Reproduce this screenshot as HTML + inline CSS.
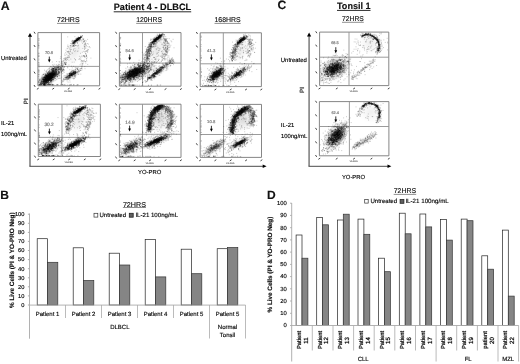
<!DOCTYPE html><html><head><meta charset="utf-8"><title>Figure</title>
<style>html,body{margin:0;padding:0;background:#fff}body{width:520px;height:364px;overflow:hidden;font-family:"Liberation Sans",sans-serif}svg{display:block;filter:blur(.3px)}text{font-family:"Liberation Sans",sans-serif;text-rendering:geometricPrecision;stroke:#000;stroke-width:.13px}.lb{stroke:#888;stroke-width:.2px}.ns{stroke:none}.rt{stroke-width:.2px}</style>
</head><body>
<svg width="520" height="364" viewBox="0 0 520 364">
<defs><filter id="bl" x="-5%" y="-5%" width="110%" height="110%"><feGaussianBlur stdDeviation=".3"/></filter><radialGradient id="hg"><stop offset="0" stop-color="#000" stop-opacity="1"/><stop offset=".5" stop-color="#000" stop-opacity=".45"/><stop offset="1" stop-color="#000" stop-opacity="0"/></radialGradient></defs>
<rect width="520" height="364" fill="#fff"/>
<g fill="#111">
<text x="0.8" y="9.65" font-size="12.3" font-weight="bold">A</text>
<text x="113.7" y="10.4" font-size="9.2" font-weight="bold" textLength="77.5" lengthAdjust="spacingAndGlyphs">Patient 4 - DLBCL</text>
<path d="M113.7 11.8h77.5" stroke="#111" stroke-width=".9"/>
<text x="57" y="22.3" font-size="7" fill="#111" textLength="22.6" lengthAdjust="spacingAndGlyphs">72HRS</text>
<path d="M57 23.4h22.6" stroke="#444" stroke-width=".6"/>
<text x="136.2" y="22.3" font-size="7" fill="#111" textLength="25.9" lengthAdjust="spacingAndGlyphs">120HRS</text>
<path d="M136.2 23.4h25.9" stroke="#444" stroke-width=".6"/>
<text x="214.5" y="22.3" font-size="7" fill="#111" textLength="26.2" lengthAdjust="spacingAndGlyphs">168HRS</text>
<path d="M214.5 23.4h26.2" stroke="#444" stroke-width=".6"/>
<text x="0.9" y="60" font-size="5.9" fill="#000">Untreated</text>
<text x="0.9" y="124.9" font-size="5.9" fill="#000">IL-21</text>
<text x="0.9" y="136" font-size="5.9" fill="#000">100ng/mL</text>
<text transform="translate(27.9 101.3) rotate(-90)" font-size="6.1" fill="#000" text-anchor="middle">PI</text>
<text x="149.7" y="174" font-size="5.9" fill="#000" text-anchor="middle">YO-PRO</text>
</g>
<path d="M30 36V166.3" fill="none" stroke="#8a8a8a" stroke-width="1.7"/><path d="M29.4 166.3H263" fill="none" stroke="#4a4a4a" stroke-width="1"/>
<path d="M30 33l-2.1 3.8h4.2z M266.6 166.3l-3.9-1.7v3.4z" fill="#000"/>
<text x="277.5" y="9.3" font-size="12.1" font-weight="bold" fill="#111">C</text>
<text x="337" y="9.2" font-size="9.2" font-weight="bold" fill="#111" textLength="33.5" lengthAdjust="spacingAndGlyphs">Tonsil 1</text>
<path d="M337 10.4h33.5" stroke="#111" stroke-width=".9"/>
<text x="342" y="21.4" font-size="7" fill="#111" textLength="21.8" lengthAdjust="spacingAndGlyphs">72HRS</text>
<path d="M342 22.3h21.8" stroke="#444" stroke-width=".6"/>
<text x="280.8" y="62" font-size="5.95" fill="#000">Untreated</text>
<text x="280.8" y="127.1" font-size="5.9" fill="#000">IL-21</text>
<text x="281" y="138" font-size="5.9" fill="#000">100ng/mL</text>
<text transform="translate(303.7 90) rotate(-90)" font-size="6.1" fill="#000" text-anchor="middle">PI</text>
<text x="353.5" y="178.7" font-size="5.9" fill="#000" text-anchor="middle">YO-PRO</text>
<path d="M309.1 36V166.3" fill="none" stroke="#8a8a8a" stroke-width="1.7"/><path d="M308.5 166.3H388" fill="none" stroke="#4a4a4a" stroke-width="1"/>
<path d="M309.1 32.5l-2.1 3.9h4.2z M391.4 166.3l-3.9-1.7v3.4z" fill="#000"/>
<path d="M37.9 32.6H99.6V85.8H37.9Z" fill="none" stroke="#787878" stroke-width=".9"/><path d="M61.4 32.6V85.8M37.9 66.4H99.6" fill="none" stroke="#909090" stroke-width=".9"/><path d="M34 85l1.2 1.9M36.9 89.3l1.8 -1.2M34 71.7l1.2 1.9M52.3 89.3l1.8 -1.2M34 58.4l1.2 1.9M67.8 89.3l1.8 -1.2M34 45.1l1.2 1.9M83.2 89.3l1.8 -1.2M34 31.8l1.2 1.9M98.6 89.3l1.8 -1.2" stroke="#3a3a3a" stroke-width=".95" fill="none"/><text x="68.1" y="92.2" font-family="Liberation Sans,sans-serif" class="ns" font-size="2.1" font-weight="bold" fill="#333" text-anchor="middle">YO-PRO</text><g clip-path="url(#c0)"><clipPath id="c0"><rect x="37.9" y="32.6" width="61.7" height="53.2"/></clipPath><ellipse rx="17" ry="8" transform="translate(51 75.5) rotate(-41)" fill="url(#hg)" opacity="0.3"/><ellipse rx="11" ry="4.5" transform="translate(72.5 74.3) rotate(-33)" fill="url(#hg)" opacity="0.16"/><ellipse rx="17" ry="9" transform="translate(75 52) rotate(-55)" fill="url(#hg)" opacity="0.08"/></g><g filter="url(#bl)"><path d="M63.4 68.2h0M56.6 69.1h0M43.8 81.3h0M49.8 76.4h0M54.6 71.7h0M53 75.6h0M55.1 80.3h0M53.7 73.5h0M48.4 74.9h0M58.9 69.3h0M43.6 79.4h0M49.2 75h0M54.5 67.2h0M54.1 73.4h0M44.4 81.4h0M51.6 77.3h0M49.1 78.5h0M39.2 80.9h0M57.8 74.3h0M49.6 74h0M52.5 64.8h0M48 81.2h0M52.4 69.6h0M49.9 72.4h0M53.3 77.5h0M50.5 66.5h0M51.4 67.1h0M58.3 70.9h0M62.4 62.9h0M53.4 78.2h0M45.8 76.8h0M48.7 77.1h0M46 82.1h0M54.2 73h0M59.9 66.3h0M57.2 67.7h0M51 66.8h0M51.7 74.1h0M46.8 76.4h0M47.4 75.4h0M46.7 76.9h0M44.7 80.4h0M54.9 71h0M51.2 81.4h0M58.6 73.1h0M56.8 69h0M52.8 79h0M47.6 77.9h0M54 74.6h0M51.6 79.4h0M51.6 78.2h0M58.5 71.9h0M52.6 68.9h0M42.2 80.4h0M57 77h0M44.8 82.3h0M44.5 77.8h0M51 78.6h0M54.8 77.5h0M47.4 82.6h0M56.4 71.1h0M52.4 71.7h0M43.9 79.8h0M51.9 82.1h0M52.8 75.3h0M53.5 69.8h0M57 72h0M43.8 84.5h0M55.1 73.9h0M59 66.6h0M55.6 74.9h0M48.6 83h0M39.9 79.3h0M51.5 70.1h0M46.7 71.9h0M48.9 72.3h0M49.5 69.9h0M52.9 72.6h0M51.2 75h0M48.8 71.5h0M44.7 78.9h0M49 68.3h0M45.3 77.7h0M45.7 81.5h0M48.4 74.1h0M47.2 82.4h0M48.6 80.2h0M49.3 68.4h0M44.9 80.8h0M54.7 75.8h0M57.8 74.2h0M48.4 76.8h0M54.4 70.6h0M53.4 66.2h0M54.3 71.8h0M52.8 74h0M43.9 79.6h0M57.7 65.9h0M43.9 81.1h0M46.7 75.1h0M48.6 82.3h0M45.5 75.4h0M56.7 73.1h0M46.8 82.6h0M56.8 69.3h0M44.8 83.2h0M56.1 70.9h0M40 83.5h0M55.1 75.4h0M60.9 65.7h0M48.2 77.8h0M55.7 67.1h0M52.3 62h0M54 69.8h0M55.1 75h0M44.1 81.1h0M53.7 75.8h0M43.5 77.5h0M49.4 75.9h0M51.2 81.8h0M55.9 71.4h0M52.6 69.1h0M47.9 75.6h0M43.9 81.8h0M53.4 79.9h0M44.8 78.8h0M54.3 74.5h0M50.1 74.1h0M54.6 74h0M40 83.9h0M40.6 79.2h0M52 74.9h0M49.7 72.7h0M47.8 74.1h0M54.7 75.4h0M63.8 70.1h0M45.4 78.3h0M46.4 80.9h0M63.8 67.6h0M44.8 83.2h0M51.7 76.3h0M59.2 64.6h0M50.6 84.7h0M51.2 71.8h0M53.5 77.8h0M48.7 74.4h0M51 84h0M41.4 84.6h0M52.5 77h0M49.8 78.8h0M55.3 71.1h0M48 77.3h0M45.1 79.7h0M49.8 77.5h0M61.5 72.3h0M49.8 79.2h0M54.4 76h0M51.7 76.1h0M46.6 75.8h0M58.8 74.5h0M55.7 73.4h0M51.5 73h0M50.9 73.1h0M48.4 83.5h0M59.9 78.4h0M46.9 79h0M48.5 78.4h0M48.1 74.6h0M55.3 68.2h0M49.4 79.4h0M47 77h0M52.2 72.8h0M43.7 81.4h0M53.6 81h0M47 83.4h0M45.8 78.5h0M49.8 77.8h0M59.8 75.7h0M50.4 82h0M58.4 72.7h0M48.7 81.5h0M51.2 76.9h0M51 78.5h0M59.8 72.9h0M52.1 79.1h0M57.1 66h0M56.4 64.8h0M55.4 74.4h0M60 68.9h0M46.5 75.8h0M45.6 83.6h0M48.1 74.8h0M52.3 70.9h0M47.5 76.5h0M63.6 71.1h0M46.6 72.2h0M52.7 74.3h0M54.2 75.2h0M51.2 79.5h0M56.2 71.9h0M47.6 76.3h0M52.5 69.3h0M48.4 74.4h0M44.5 83.9h0M50.9 75.7h0M52.6 67.4h0M51.3 76.6h0M53.3 68.6h0M55.5 72.5h0M61.2 71.8h0M58.9 78.3h0M50 74.4h0M47 74.8h0M46.6 70.8h0M51.5 77h0M55.8 69.7h0M57.4 67h0M46 71.3h0M44.9 77.2h0M60.4 69.7h0M46.1 82.1h0M53.2 72.6h0M50.5 74.6h0M44.1 73.7h0M53.3 79.2h0M58.3 67.9h0M46.4 78.6h0M56.7 72.1h0M48.6 79.2h0M51 77.8h0M45.5 73.8h0M53 77.1h0M44.7 80.5h0M55 70.4h0M51.8 83.7h0M57.8 74.1h0M49.3 84.1h0M40.7 82.1h0M58 75.3h0M44.4 78.3h0M47.9 69.7h0M55.7 73.8h0M49.7 79h0M55.9 72.6h0M57.2 76.8h0M48.7 78.2h0M50.4 80.6h0M49.8 78.6h0M51.9 75h0M60.2 67.1h0M60.6 70.8h0M57.9 68.8h0M57.7 73h0M48.2 79.1h0M50.2 76h0M56.6 67.5h0M47.1 76.1h0M52.3 76.8h0M61.3 67.9h0M52 71.5h0M57.1 76.1h0M54.1 64.3h0M59.3 75.2h0M52.3 67.9h0M50.6 78.4h0M51.5 71.5h0M48.2 82.1h0M51.8 76.1h0M42.5 80.3h0M51.6 68.6h0M59.3 62.2h0M44.4 81.4h0M55.2 75h0M48.5 76.7h0M48.5 75.2h0M52.7 74.7h0M48.1 79.1h0M50.8 75.4h0M53.3 66h0M50.1 71.7h0M52.5 80.7h0M44.9 80.4h0M49.8 80.6h0M42.1 76h0M53 72.2h0M51.6 79.7h0M45.4 78.8h0M52.7 75.8h0M50.4 80.5h0M62.3 63.9h0M56.6 61.5h0M57.9 68h0M51 74h0M44.8 75.4h0M51.6 80.6h0M56.5 69.3h0M46.6 76.3h0M54.9 72.7h0M46.1 75.3h0M59.8 71.2h0M47.9 82.4h0M46.4 82.3h0M44.9 79h0M54.6 74.2h0M54.7 68.7h0M62.5 71.4h0M51.9 76.7h0M46.4 78.8h0M44 82h0M55 77.9h0M57.9 73h0M48.6 76.7h0M49.6 77.7h0M41.4 81.6h0M50 74.1h0M59.8 67.4h0M62.1 71h0M49.2 78.8h0M57.3 68.5h0M50.3 73.7h0M50.6 74.4h0M53.6 77.6h0M58.9 69.2h0M53.9 76.7h0M47.2 74.3h0M55 68h0M54 68.7h0M58.7 64.3h0M58.8 75.2h0M49 83.7h0M42.7 75h0M56.4 73.8h0M44.5 70.2h0M50 75h0M48.3 76.6h0M40.1 82.6h0M64.1 70.8h0M47.5 75.5h0M55.4 76.2h0M52.4 69.2h0M52.2 75.1h0M61.4 71.7h0M56.5 76h0M52.1 81.2h0M49.5 78.5h0M54 68.9h0M43.4 74.5h0M51.8 74.6h0M50.3 78.3h0M50.9 74.4h0M59.1 76.1h0M46.6 75.3h0M47.9 78.6h0M52.3 70.6h0M54.2 68.3h0M56.4 72.6h0M58.1 78.6h0M49.2 76.3h0M55.4 75.4h0M44.3 82.5h0M48.3 80.6h0M58.6 69.2h0M50.8 76.5h0M54.4 73.3h0M47.3 75.6h0M52.6 79.3h0M53.3 79.3h0M52.5 74.2h0M40.6 81.7h0M55 66.4h0M43.3 77.5h0M49.4 79.7h0M49.9 67.7h0M57.7 67.1h0M51.4 82.4h0M47.9 72.8h0M46 76.7h0M44.8 79.4h0M56.5 72.2h0M45.9 80.5h0M52.8 77.2h0M50.2 78.2h0M62.6 65.8h0M45.8 81.4h0M45.8 78.4h0M52.7 75.4h0M51.3 78.9h0M47.2 73.2h0M55 70.5h0M56.2 68.2h0M54.8 73.6h0M47.9 84.3h0M66 77.3h0M64.1 72.5h0M76.8 68.3h0M69.6 77.3h0M62.3 84.1h0M69.5 77.6h0M70.5 76.1h0M73 73.7h0M61.8 77.2h0M73.9 76.7h0M70.4 76.7h0M73.9 74.4h0M75.6 68.1h0M73.6 72.8h0M70 73.5h0M67.4 74.7h0M70 82h0M80.8 68.6h0M75 69.9h0M56.7 79.6h0M74.9 76.1h0M71.1 72.3h0M70.2 73h0M65.4 78h0M69.6 73.8h0M67.1 75.1h0M75.3 75.8h0M74.1 78.7h0M64.9 79.6h0M66.6 77.4h0M73.7 74.7h0M77.4 69.4h0M66.2 77.6h0M73.1 71.8h0M78.8 74.2h0M65.9 79.2h0M75.2 67.3h0M73.2 72.9h0M67.1 80.9h0M73 72.4h0M75.4 73.7h0M77 72.6h0M73.1 70.6h0M70.6 75.6h0M69.4 73.3h0M63.9 80.2h0M72 72.8h0M69.4 73.7h0M68.7 76.2h0M70.1 77.3h0M72 74.7h0M76 75h0M75.7 72.5h0M70.8 73.1h0M71.6 76.3h0M73.2 72.6h0M64.2 75.5h0M75.3 74.8h0M72.7 70.3h0M71.7 75.1h0M68.4 77.5h0M70.5 73.1h0M67.4 79.4h0M73.2 71.3h0M68.6 78.8h0M75.1 71.6h0M80 68.4h0M68.6 79.3h0M72 75.2h0M71.5 72.1h0M66.5 77.4h0M78.2 67.7h0M79.4 70.1h0M67.4 78h0M74.2 70.6h0M62.5 81.4h0M67.6 78.3h0M63 79.8h0M66.8 73.9h0M71.5 75.1h0M68.4 73.7h0M71.5 70.2h0M75.7 73.2h0M81.7 70.3h0M74.5 73.3h0M71.1 71.5h0M80.3 70.3h0M69.8 72.9h0M80.4 70.2h0M67.5 79h0M81.7 67.9h0M74 72h0M70.7 77.9h0M87.7 64.4h0M72.8 75.8h0M71.9 76.3h0M75.4 69.5h0M67.2 77.3h0M76.9 71.9h0M77 67.6h0M74.2 71.3h0M73.4 74.3h0M67.5 76.7h0M67.1 78.2h0M67.8 75.8h0M72.8 72.1h0M77.4 69.2h0M77 71.8h0M67.2 76.9h0M68 76h0M73.3 78.1h0M72.3 78.1h0M73.2 70.2h0M62 82.5h0M63.6 81.6h0M78 71.4h0M71.2 74.2h0M73.4 72.6h0M69.5 75h0M77.5 69.2h0M73 70.7h0M67.4 73.8h0M72.3 75.8h0M73.4 72.2h0M75.1 71.4h0M74.6 73.3h0M72.3 67.9h0M67.1 79.5h0M74.6 78.3h0M70.7 73.8h0M80.4 70.3h0M82.3 68.9h0M72.3 75.9h0M68.1 75.7h0M69.5 75.4h0M75.7 70.7h0M73.5 72.1h0M73.6 66.3h0M71.7 75h0M68.4 79.2h0M75 75.6h0M77.9 72.1h0M70.5 72.5h0M70.9 73.9h0M73.2 72.4h0M85.5 61.5h0M77.7 69.5h0M72.4 76.4h0M71.1 71.8h0M74.3 72.3h0M62.7 80.9h0M66.5 76h0M75.2 73h0M73.6 78.8h0M73.8 71.6h0M73.5 73h0M60 78.1h0M68.1 82.1h0M71.3 74.1h0M70.9 77.5h0M74.6 77h0M78.2 74.4h0M72.4 75h0M70.2 75.1h0M63.4 78.4h0M67.1 75.8h0M78.7 70.6h0M79.4 71.7h0M78.1 72.9h0M70.5 77.3h0M70.3 74.1h0M80.8 74.1h0M69.8 80.2h0M75.6 69.9h0M74.3 73.8h0M73.9 72.2h0M66.3 78.1h0M77.6 72.7h0M77 73.9h0M67.6 77h0M75.3 74.7h0M73.9 74.4h0M75.6 77.3h0M61.9 80.8h0M84.8 66.6h0M63.8 80h0M64.8 77.3h0M75.6 76.3h0M75.5 73.7h0M77.7 71.2h0M68.2 76.5h0M73.8 72.4h0M68.9 75.5h0M64 76.9h0M71.6 73.6h0M74.3 76.4h0M73.9 73h0M65.6 75.8h0M73.3 71.3h0M76.7 40.9h0M76.5 39h0M73.1 42.2h0M76.6 39.3h0M74.2 44.1h0M74.8 41.4h0M75.3 40.5h0M76.9 39.7h0M77.9 37.9h0M74.4 44.2h0M77.2 40.7h0M80.3 38.3h0M76.2 38.7h0M73.5 43.7h0M79 39.2h0M71.6 41.4h0M73.7 41h0M76.8 38.9h0M80.6 36.6h0M76.1 41.7h0M77.3 38.7h0M80.2 40h0M73.8 42h0M73.2 40.4h0M79 39.4h0M79.7 38.6h0M71.9 43.7h0M74.7 40.3h0M74.7 42.6h0M77.4 42.1h0M77.1 37.6h0M80 39.3h0M76.4 39h0M80.7 35.7h0M75.7 38.7h0M72.9 41h0M80.4 38.9h0M75.2 39.7h0M77.1 40.4h0M72.5 41.9h0M77.1 40.7h0M77.4 40.2h0M72.4 40.3h0M77.3 38.7h0M76.5 39.9h0M77.8 38.5h0M80.7 37.4h0M78.7 39.5h0M79.9 38.4h0M72.2 42.7h0M82 37h0M78.7 39.3h0M75 40.6h0M76 42.1h0M78.9 40.7h0M79.3 40.6h0M77.5 38.2h0M81.6 37.1h0M80.1 38h0M76.3 40.7h0M70.3 45.5h0M64.8 54.1h0M69.5 54.7h0M75.6 43.1h0M79.7 40.3h0M61.6 62.9h0M70.4 46.4h0M63.7 61.3h0M64.8 58h0M68.8 56h0M64.8 62.6h0M75 45.6h0M79.6 38.7h0M73.5 46.1h0M65.1 63.3h0M70.6 49.7h0M60.7 56.8h0M67.3 57.3h0M69.5 53.5h0M68.8 53.3h0M64.9 59.3h0M80.7 37.4h0M68.8 51.2h0M62 61.9h0M65.1 60.2h0M74.9 36.7h0M74.8 40.6h0M68.5 51.4h0M65.7 62.1h0M69.8 49.3h0M74.9 40.9h0M65.2 63.2h0M62.5 66.3h0M72.9 41.9h0M65.3 64h0M69.1 56.3h0M64.9 64.3h0M68.1 46.9h0M70.6 54.4h0M61.7 64.8h0M71.1 45.5h0M70.3 45.4h0M66.6 60.4h0M64 69.7h0M62.7 61.3h0M72.2 40.7h0M67.7 67.8h0M74.5 43.7h0M66.7 58.3h0M73.9 45.7h0M76.2 42h0M63.2 64.6h0M77.1 38.4h0M75.2 45.4h0M65 59h0M79.9 41h0M70.5 47.9h0M67.7 46.3h0M66 64.5h0M65.8 57.6h0M76.3 45.5h0M73.1 43.6h0M71.6 49.4h0M66.5 62.4h0M69.3 57.4h0M75.3 41.8h0M65.9 58.3h0M60.4 58.4h0M74 44.4h0M63.2 60.2h0M67.1 51.5h0M67.9 45.1h0M73.7 41.3h0M74.5 42.3h0M72.8 45h0M77.4 45.9h0M67.5 51.7h0M65.1 58.5h0M59 65.1h0M74.1 46h0M77.7 42.7h0M65.8 59.9h0M63.7 69.3h0M74.8 43.7h0M75.9 42.1h0M72 52.8h0M65 55.5h0M70.4 50.2h0M67.8 48.7h0M73.2 42.7h0M72.5 46.2h0M64.2 63.7h0M62.9 68.6h0M78.7 41.1h0M70.5 43.5h0M72.9 46.2h0M62.8 64h0M68.3 57.7h0M68.7 46.9h0M71.6 46.9h0M65.5 64.2h0M66.1 63.2h0M76.8 38.3h0M73.6 45.2h0M63.7 58.6h0M67.8 52.2h0M74.6 43.6h0M64 63.9h0M75.9 39.7h0M67.1 57.9h0M77.5 43.5h0M69.4 48.1h0M68.9 64.9h0M65.7 52.7h0M65.6 59.5h0M78.2 46h0M66.7 54.3h0M73.6 45.7h0M70.1 51.8h0M73.3 45.6h0M73.3 45.7h0M63.9 60.7h0M67.1 48.3h0M61.6 61.4h0M67.4 59.4h0M61.3 63.3h0M65.6 64.7h0M65 62.9h0M65.8 63.2h0M70.5 51.4h0M64.3 67h0M73 46.2h0M78.5 45.2h0M69.2 52h0M75.3 42.9h0M67.6 57.2h0M74.4 46.3h0M67.1 59.3h0M70.8 59.1h0M68.6 52.2h0M84 55.9h0M85.6 48h0M82.5 43.3h0M86.7 58.7h0M81.3 60.5h0M87.1 46.6h0M81.6 40.6h0M82.7 40h0M86.8 50.5h0M79.4 56.3h0M85.9 48.1h0M81.8 66.8h0M87.8 51h0M80.1 64.8h0M85 68.7h0M86.6 55.1h0M84.4 46.9h0M86.2 56.6h0M84.1 41.4h0M84.7 56.8h0M84.9 52.1h0M89 47h0M85.5 42.9h0M85.6 53.3h0M86.5 45.6h0M82.3 52.2h0M87.6 52.3h0M87.5 43.6h0M82.8 38.3h0M80.9 39.5h0M82.8 63.5h0M87.6 49.3h0M83.4 55.8h0M83.9 41.4h0M87.1 57.2h0M88.4 44.1h0M86.4 56.2h0M85.6 45.8h0M85.1 51.4h0M82 56.9h0M84.3 56.2h0M84.4 47.8h0M86.6 60.3h0M83.4 61.9h0M82 66.8h0M82.6 64h0M81.8 60.6h0M84.3 60.2h0M84.9 43.3h0M81.9 41.9h0M78.4 37h0M83.2 56.1h0M87 51.5h0M80.8 36.9h0M89.4 46.6h0M80.9 59h0M85.2 57.1h0M82.9 60.7h0M79.7 58.5h0M81.1 61.7h0M78.1 37.2h0M85.8 44.5h0M84.2 41.5h0M84.9 46.3h0M82.1 65.7h0M82.8 63.9h0M84.2 46.1h0M84.5 49h0M83.1 39.4h0M80.6 37.5h0M86.4 41h0M84.7 46.6h0M81.1 63.7h0M83.3 39.3h0M84.3 61.3h0M85.2 61.7h0M83.7 38.7h0M83.2 60.8h0M83.3 55.8h0M83.8 41.7h0M84.7 56.9h0M82.8 48.4h0M81.4 36.8h0M83.8 42.6h0M85.9 54h0M85.1 44.3h0M84.5 44.7h0M81.7 56h0M82.4 61.6h0M86.4 58.8h0M85 40.3h0M87.6 39.4h0M86.2 51.1h0M83.7 51.3h0M80.4 57.1h0M84.9 40.9h0M85.7 53.8h0M84.1 45h0M84.1 55.7h0M90.1 47.7h0M86.5 56.2h0M84.5 56h0M82.1 64.9h0M84.6 49.2h0M82.3 35.7h0M87.7 50.5h0M83.5 39.6h0M85.9 43.8h0M84.2 40.5h0M86 51.2h0M86.5 55.4h0M72.2 62.2h0M80.5 53.3h0M77.4 51.3h0M82 62h0M78.5 38.1h0M62.7 73.6h0M68.9 57.6h0M67.6 67h0M72.3 53.3h0M90.9 58.1h0M88.5 49.5h0M75.6 60.2h0M80 59.6h0M78.1 51h0M74.9 48.6h0M86.2 55.3h0M75.5 59.5h0M69.8 69.7h0M75.4 45.3h0M85.3 43.7h0M59.2 61.5h0M78.7 48.1h0M74.3 41.8h0M78.8 59.3h0M74.2 62.1h0M74.5 58.7h0M86.8 61.2h0M71.5 66.2h0M77.4 42h0M85.8 63.1h0M67.7 36.9h0M66 50.2h0M73.5 50.2h0M68.1 55.6h0M74.6 51.3h0M68.9 60.2h0M73.5 49.1h0M73.8 41.3h0M75.6 50.8h0M38.9 81.5h0M39.2 67.8h0M38.8 62.6h0M39 73.8h0M38.8 46.2h0M38.9 40.6h0M38.9 74.8h0M38.9 38.8h0M38.8 82.7h0M38.8 72h0M39.1 63.9h0M38.7 76.4h0M39.1 55.9h0M38.8 45.9h0M38.9 82.7h0M39.1 80.6h0M38.9 56.7h0M38.8 74.5h0M38.9 72.1h0M39.1 79h0M38.8 54h0M38.9 45.7h0M39 71.8h0M38.9 60.1h0M39.1 82.7h0M39 75h0M38.9 62.4h0M39 53.3h0M39.1 79.9h0M38.8 81.5h0M39 66.5h0M38.9 65.3h0M38.7 56.3h0M39 40.1h0M38.9 70.8h0M38.8 48.2h0M39 65.2h0M38.9 64.2h0M38.9 70.5h0M38.9 76.8h0M38.8 82.1h0M39 38.8h0M38.8 84.9h0M38.9 47.7h0M38.8 55.7h0M38.9 43.6h0M38.8 45.3h0M38.7 44.7h0M39 59h0M38.9 42.8h0M39 70.1h0M38.8 53.1h0M38.8 69.6h0M38.9 78.1h0M46.1 84.9h0M53.2 84.7h0M60.5 84.8h0M56.8 84.6h0M57.4 84.7h0M74 84.7h0M44.8 84.9h0M67.3 84.8h0M70.9 84.8h0M71.2 84.9h0M62.1 84.6h0M78.3 84.7h0M63.9 84.9h0M50.1 84.6h0M71.2 84.4h0M49.5 84.7h0M73.7 84.8h0M76.8 85h0M62.4 84.7h0M56.3 84.8h0M70.6 84.9h0M43.6 84.7h0M65.4 84.9h0M77.4 84.8h0M62.3 84.6h0M57.6 84.7h0M77.5 84.8h0M69.5 85h0M41.3 84.8h0M69.2 85h0M40.2 84.8h0M73.6 84.8h0M57.6 84.8h0M43.9 85h0M58.2 84.7h0M64.1 84.8h0M64.3 84.7h0" stroke="#000" stroke-width="0.7" stroke-linecap="square" opacity="0.3" fill="none"/><path d="M48.2 79.4h0M47.3 78.2h0M45.2 80.3h0M52.4 75.5h0M52 75.5h0M49.9 77.2h0M44.1 83.7h0M50.6 77.2h0M41.1 80.4h0M45.1 79.9h0M49.3 77.1h0M49.3 75.7h0M49.8 77.7h0M48.2 82h0M51.5 78h0M45.6 78.8h0M47.2 78.8h0M50.7 76.6h0M45.9 78h0M48.1 81h0M46.1 80.5h0M48.1 74.9h0M50 79.5h0M41.7 83.1h0M47.2 77.2h0M49.9 76.5h0M44.7 83.1h0M51.6 77.4h0M53.4 74.5h0M47.3 76h0M49.7 75.5h0M45.6 77.6h0M44.7 80h0M50.2 71.8h0M44 82.3h0M53.6 74.8h0M39.6 80h0M48.7 76.1h0M45.9 82.3h0M52.1 75.2h0M49.7 77.9h0M54.1 74.4h0M50.7 77.3h0M44.9 84h0M52 76h0M41.4 82.6h0M49 73.4h0M49 79.8h0M46 83.7h0M50 76.3h0M50.2 77.9h0M50.1 79.1h0M45.8 79.3h0M51.7 75.2h0M46.7 81.6h0M52.5 73.4h0M43.9 81.6h0M47.6 78h0M51.7 72.8h0M51 72.9h0M46.6 81h0M52.9 76h0M49.7 77.2h0M49.5 78.3h0M48.2 78.8h0M50.2 76.4h0M51.5 76.6h0M55.1 72.9h0M46.6 78.7h0M49.4 79.2h0M47.8 79.4h0M51.4 69.6h0M45.1 81.4h0M49.9 77.2h0M47.8 80h0M48.7 76.6h0M56.5 71.8h0M46.5 79.4h0M47.6 78.5h0M39.2 84.9h0M50.3 73.7h0M49.3 79.4h0M52.8 77.6h0M42.6 82.2h0M48 79.7h0M48.9 71.5h0M50.2 73.1h0M48.9 74.2h0M50.3 79h0M48.1 78.7h0M51.1 76h0M49.8 80.2h0M51.4 74.7h0M55.8 69h0M51 75.1h0M49.6 78.5h0M49.8 78.2h0M41.9 80.3h0M49.3 75.1h0M43.5 78.9h0M53.2 75.5h0M52 72.7h0M47.1 76.5h0M52.6 77.9h0M47.3 82.5h0M51.3 75h0M47.4 77.5h0M50.1 77.4h0M52 72.6h0M53.7 76.8h0M52.8 73.8h0M47.2 81.4h0M48.9 77.8h0M52.6 73.7h0M40.7 83.8h0M43.4 84.2h0M48.7 76.3h0M49.3 79.1h0M50.1 79.5h0M49.4 79.5h0M54.9 76h0M47.3 81h0M41.2 81.8h0M43.4 84.8h0M44.5 81.4h0M47.8 78.5h0M46.8 79.9h0M54.1 73.1h0M51.2 77.8h0M46.4 76.9h0M47.8 80.9h0M42.5 81.8h0M52.5 76.2h0M49.3 79h0M47.6 76h0M42.7 81.5h0M50.7 74.7h0M44.7 79.5h0M43.4 82.1h0M45.1 81.7h0M41.3 84.9h0M44.2 77.3h0M50.4 75.6h0M40.4 83h0M48.8 76.6h0M51.7 76.8h0M50.9 76.6h0M53.4 75.2h0M47.5 74.1h0M52.7 77.2h0M46.9 78.2h0M52.6 70.4h0M52.6 79.8h0M46.2 81.4h0M54.2 72.6h0M51.2 77.6h0M45.4 80.4h0M50.2 78.3h0M48.1 77.8h0M44.8 80.3h0M51.3 75.7h0M44.8 79.3h0M58.1 72.1h0M47.5 72.9h0M50.9 76.9h0M54.2 73.9h0M48.8 78.9h0M43.4 84.7h0M48.6 76.2h0M54.6 76.7h0M43.2 81h0M49.5 77.4h0M46.1 77.8h0M56.3 73.5h0M43.1 79.6h0M54.9 74.6h0M55.1 74h0M45.9 80.7h0M40.7 83h0M48.8 78.8h0M46 79.8h0M50.3 77.2h0M50.7 76.5h0M48.3 79.9h0M47.6 76.8h0M46.4 79.7h0M48.2 78.5h0M48.6 78.2h0M46.6 76.8h0M50.9 78.2h0M49.6 76.6h0M48.7 75.5h0M42.5 83.3h0M46.3 81.5h0M42 77.6h0M46.9 82.9h0M45.7 77.3h0M46.6 80.8h0M50.2 76.9h0M53.9 74.8h0M49 78.8h0M54.7 74.7h0M50.4 73.8h0M48.7 79.3h0M48.7 80.2h0M51.3 77.5h0M50.6 81.9h0M52.1 74.3h0M51.6 81.1h0M48.3 80.1h0M51.5 75.3h0M44.9 81.5h0M50.8 78.5h0M50.9 75.9h0M51.7 76.3h0M49.1 77.5h0M48.4 79.6h0M44.4 80.1h0M46.8 76.1h0M44.8 76.6h0M46.9 80.6h0M50.1 76.4h0M46.1 76.8h0M54.8 73.6h0M50.9 73.9h0M45.8 76.2h0M51.9 77h0M42.3 83.2h0M48.4 74h0M41.4 81.7h0M44.8 77.9h0M48.8 78.2h0M51.2 77.2h0M54.5 75.4h0M43.7 81h0M43.8 79.5h0M48.1 78.2h0M48.2 74.6h0M44.5 81.4h0M47.4 78.2h0M47.4 77.2h0M51 76.5h0M47.4 77.4h0M44.8 75h0M45.3 80.8h0M43.9 82.4h0M47.3 75.8h0M47.3 78.3h0M50.5 77.5h0M47.3 77h0M47.9 78.3h0M51.1 76.4h0M44.6 78.3h0M46.4 78.1h0M44.7 80.9h0M47 79.5h0M49.6 76h0M55.4 71.2h0M52 75.1h0M49.3 71.9h0M46.3 80.4h0M52.9 79.3h0M50.8 78.8h0M51.9 77.1h0M49.8 76.4h0M48.8 75.2h0M51 73.4h0M51.6 80h0M47.7 78.6h0M52.1 74.8h0M46.1 80.6h0M51 77.3h0M47.9 82.4h0M53.7 73.4h0M48.8 76.7h0M52.1 73.2h0M50 75.5h0M47 80.8h0M52.6 74.3h0M47.2 80.9h0M48.6 78.5h0M54.5 75.3h0M49.3 82.4h0M49.3 79h0M46.3 79.7h0M51.4 72.7h0M41.8 80.1h0M51.6 74.2h0M47.9 77.8h0M46.8 76.9h0M46.9 76.1h0M48.5 78.6h0M49.6 76.4h0M45.7 80.7h0M48.6 81.3h0M50.7 75.7h0M46.1 78.4h0M45 80.1h0M49.9 77.8h0M52.5 79.1h0M46.2 80h0M55.2 67.9h0M46.9 79.7h0M49.3 78.1h0M48.1 79.1h0M49.4 78.8h0M41.4 82.1h0M47.2 76.7h0M45.8 81.7h0M47 80.6h0M51.1 76.3h0M49.9 76.5h0M43.9 81.8h0M49.2 76.1h0M48.9 79.2h0M46.3 81.2h0M53.7 72.2h0M48.7 77.4h0M53.6 74.2h0M50.5 74.6h0M48.3 78h0M44.4 84.7h0M49.3 73.3h0M50.6 75.8h0M50.2 77.2h0M43.4 81.9h0M52.5 73.1h0M43.6 79.1h0M44.9 81.8h0M54.2 73.9h0M51.7 80.2h0M46 78.6h0M50.7 77.2h0M43.9 79.3h0M49.6 77.5h0M44 81.3h0M47.2 80.1h0M47.9 78.2h0M48.5 80.3h0M52.4 73.7h0M50.2 74.7h0M49.5 78.8h0M52.8 73.3h0M48.4 78.5h0M43.7 82.1h0M46.7 80.3h0M42.6 78.6h0M48.8 78.2h0M47.7 80.7h0M46.9 78h0M48.2 74.7h0M46.2 79.8h0M50.9 75.5h0M48.6 76.3h0M51.2 79.3h0M48.9 82.9h0M46.4 79.8h0M50.1 78.8h0M42.1 78.7h0M51.2 77.4h0M53.3 79.7h0M49.3 77.8h0M51.8 75.9h0M52.3 71.8h0M43.4 74.6h0M50.6 75.3h0M53.7 78.2h0M48.1 77.7h0M45.9 78.3h0M47.1 80.6h0M48.6 78h0M48.9 79.7h0M49.8 76.5h0M50.3 76h0M46.4 83h0M48.8 75.5h0M52.2 75.5h0M45.2 84.4h0M50.5 78.2h0M48.9 77.3h0M44.6 83.5h0M48.2 77.5h0M49.6 77.1h0M50.1 75.7h0M45.9 75.4h0M47.8 80h0M52.2 73.8h0M49.8 80.4h0M48.2 79.8h0M53.8 73.4h0M51.5 73.7h0M49 77.3h0M50 79.1h0M55.2 70.6h0M47.1 80.2h0M45.6 81.5h0M49.9 76.1h0M48.4 74.5h0M49.1 73.9h0M45.6 79.2h0M48.1 80.2h0M48.2 77.3h0M51.9 78.5h0M48.8 78.5h0M52.6 74.9h0M47.1 84.7h0M53.2 69.4h0M48.7 78.6h0M52.2 76.2h0M46.4 77.4h0M49.9 79h0M43.8 79.7h0M46.2 75.6h0M47.1 78.2h0M49 75.9h0M45.2 79.9h0M47.5 77.3h0M49.3 78.9h0M54.1 76.9h0M45.4 79.6h0M46.1 80h0M48.5 74.8h0M49.8 76.7h0M42.9 83.4h0M50.1 72.3h0M51.2 76h0M50.4 77.3h0M52.3 74.1h0M50.7 75.1h0M49.8 74.9h0M50 80.5h0M49.6 76.6h0M43.9 80.1h0M50.1 78.7h0M50.3 77.5h0M49.8 79.8h0M46.5 78.4h0M51.3 75.6h0M46.9 78h0M48.3 79.5h0M48.2 75.5h0M50 77.1h0M46.1 81.7h0M47.1 78.3h0M52.4 77.5h0M46.7 80.5h0M48.2 83.4h0M48.2 80.9h0M47.3 80.8h0M52.6 68.6h0M47.6 79.8h0M47.4 77.4h0M55.3 72.2h0M44.1 83.6h0M44.2 84.2h0M46.7 79.8h0M52.5 74.7h0M42.1 79.7h0M53 75.7h0M46.8 81.4h0M50.7 77.5h0M40.9 83.8h0M52.1 76.5h0M48.5 72.4h0M49.5 78.2h0M55.4 69.7h0M47.4 79h0M50.7 75h0M51.2 73.8h0M48.7 76.6h0M48.1 76.7h0M44.6 83.8h0M48.7 76.4h0M50.1 78.7h0M45.2 80.6h0M50.7 77.2h0M45 76.2h0M52.7 75h0M48.1 77.6h0M48.8 76.7h0M44.3 79.9h0M45.8 78.9h0M45.4 82h0M45 82.5h0M45.6 81.2h0M53 74.5h0M46.1 80.1h0M46.9 75.4h0M46.7 79.9h0M47 79.4h0M51.6 77h0M51.9 76.3h0M47.5 78.8h0M47.2 78.3h0M45.9 76.3h0M47.3 78.9h0M45.3 80.7h0M49.9 76.4h0M52.1 68.9h0M45.7 76.2h0M54.5 78.7h0M49.7 76.2h0M47.6 73.6h0M51.5 76.1h0M47.8 77.2h0M49.9 75.6h0M48.5 76.7h0M41.2 84.2h0M49.9 78.4h0M45.6 80.4h0M50.5 76.5h0M54.6 77.1h0M43.4 78h0M52.8 77.6h0M52.2 76.5h0M45.6 78.8h0M50.2 74.4h0M41.5 81.7h0M58.4 73.6h0M45.4 79h0M48.3 76.4h0M52.5 74.3h0M46.4 82.7h0M46.8 79.9h0M48 77.6h0M48.7 76.2h0M40.1 80.2h0M43.5 80.5h0M48.4 78.1h0M50.3 76.6h0M45.1 79.3h0M41.5 83.6h0M50.5 77.3h0M47.8 78.1h0M51.4 75.4h0M51.4 76.7h0M50.5 79.1h0M46.2 79.1h0M44.9 79.2h0M55.3 76h0M49.1 78.7h0M53 75.8h0M50.8 73.1h0M46.9 80.3h0M53.1 74.2h0M45.3 79.9h0M45.3 78.7h0M52.5 73.1h0M50.9 80.7h0M52.5 75.2h0M46.9 80.2h0M54.2 74.3h0M52.5 74.6h0M49.8 76.3h0M51.2 78.5h0M43.8 81.9h0M48.5 76.6h0M48.3 79.9h0M55.4 73.3h0M47.7 75.1h0M54.6 72.8h0M47 76.7h0M47 76.8h0M49.1 78.4h0M48.8 78.3h0M47.3 82.2h0M44.3 77.5h0M47 77.5h0M44.8 80.3h0M48 75.7h0M49.6 80.2h0M50.4 75.9h0M48.7 77.5h0M49.1 79.1h0M45.4 75.2h0M47.3 76.9h0M49.8 75.4h0M51.3 80.4h0M43.8 79.4h0M41.3 78.8h0M42.9 83.6h0M44.3 77.4h0M44.4 82.9h0M45.5 79.7h0M51 78.8h0M55.7 74h0M49.1 77.8h0M55.7 74.9h0M47.9 79.4h0M49.4 77.3h0M45.3 77.7h0M45 77.5h0M52.9 75.3h0M46.1 83.1h0M49.1 73.1h0M55.1 74h0M53.6 70.7h0M50.6 77.1h0M49.2 77.7h0M50.1 73.2h0M42.9 79.6h0M46 78.8h0M49.9 77.3h0M47.7 77h0M48.1 80.4h0M50.9 76h0M49.1 80.9h0M47.2 80.5h0M51.8 74.5h0M49.8 74.3h0M51.8 75.5h0M44.1 83.2h0M47 82.1h0M46.1 79.7h0M48.9 76.8h0M48.6 76.6h0M50.5 76.2h0M46 73.9h0M52.1 74.8h0M42.9 83h0M51.1 78.1h0M46.7 83h0M50.6 81.5h0M48.7 79.3h0M46 77.6h0M52.9 76.1h0M54.2 74.9h0M44.7 77.4h0M45.6 78.9h0M46.5 81h0M49.1 76.8h0M48.8 77.3h0M49.9 78.4h0M50.7 74.5h0M45.2 84h0M50 79.1h0M42.8 82.1h0M46.9 76.1h0M47.6 80.4h0M53.6 77.1h0M44.1 78.6h0M51.1 77.8h0M47.6 75.8h0M51.8 76.9h0M49.6 75.9h0M50.2 78.2h0M44.6 77.2h0M50 77.7h0M49.4 79.1h0M46.4 79.5h0M48.1 79.6h0M53.2 73.3h0M56.6 74.3h0M51.6 76.6h0M53.8 72.9h0M46.9 76.9h0M51.4 78.4h0M50.6 77.1h0M48 78.8h0M45.1 83.3h0M45.9 77.7h0M45.1 79h0M52.3 77h0M45.1 82.9h0M50.6 74.8h0M42.9 81.1h0M46.8 80.2h0M45 76.4h0M47.4 75.4h0M49.9 74h0M45.3 78.8h0M48.1 81.2h0M51.8 76.4h0M47.7 75.1h0M46.1 78.7h0M45.9 81.3h0M45.3 79.1h0M42.8 78.2h0M51.8 78.1h0M47.9 76.3h0M52.6 75h0M53 77.3h0M51.5 74.3h0M52.6 76.1h0M43.1 81.7h0M43.8 81.8h0M49 75h0M51.2 78.8h0M45.4 83h0M57.2 74.9h0M48 78.9h0M49 79.7h0M51.8 75.3h0M44.9 82.7h0M51.4 76.9h0M55.7 75.8h0M56.6 69.5h0M56.3 75.7h0M50.8 76.9h0M59.1 71.9h0M52.9 70.4h0M47.6 79.2h0M57.5 76.7h0M50.4 79.1h0M53.5 69h0M49.3 77.5h0M50.2 75.8h0M53.4 71.4h0M53.6 71.7h0M50.9 77.1h0M50.5 76.8h0M59.2 68.6h0M52.9 75.9h0M52.4 77.3h0M48 79.9h0M49.3 74.9h0M58.7 66.6h0M60.7 69h0M57.2 67.6h0M59.4 72.2h0M51.8 74.5h0M62.9 65.7h0M49.9 74.9h0M54.8 73.2h0M55.5 76.3h0M51.8 76.2h0M57.2 67.5h0M59.2 73.3h0M45.4 77.5h0M45.8 75.3h0M51.9 69.9h0M56.5 74.7h0M45.4 79.7h0M45.6 82.4h0M49.1 76.6h0M53.4 74.9h0M51.1 75.6h0M50.4 76.4h0M47.7 78.6h0M43.8 80.5h0M60.6 67.5h0M47.6 79.2h0M46.3 75.3h0M50.4 78.1h0M54 72.8h0M47.2 76h0M58.4 69.8h0M45.8 74.5h0M50.1 83h0M47.6 78.3h0M53.2 73.3h0M49.5 73.2h0M50.4 80.6h0M50.5 78.3h0M45.1 80h0M54.9 74.9h0M48.6 79.2h0M53.1 71.8h0M53.3 71.2h0M49.2 77.1h0M41.1 83.9h0M46.4 75.7h0M51.7 77h0M52.5 77.7h0M46 76.5h0M59.5 69.3h0M55.3 69.6h0M56.2 71.8h0M55.2 72h0M56.7 69h0M46.6 75.5h0M56.3 69h0M46.9 76.6h0M49 74h0M50.5 74.4h0M49 74.8h0M52 73.5h0M53.3 74.3h0M51 69.8h0M49.2 75h0M53.6 69.1h0M49.1 76.4h0M52.4 77h0M51.9 77.4h0M44 76.9h0M58.1 70.6h0M54.7 72.7h0M52.9 70.7h0M55.7 70.1h0M56.7 70.9h0M42.6 79.5h0M57 70h0M51.2 76.1h0M50 75h0M53.1 74.1h0M58.9 68.9h0M62.7 70.2h0M61 69.7h0M53.2 74h0M50.9 73.7h0M51.4 73.6h0M60 69.2h0M48.1 73h0M51.7 73.9h0M46.5 76.5h0M43.9 83.3h0M55.6 78.4h0M52.2 74.2h0M58.7 69.3h0M52.7 73.1h0M52 78.7h0M58.9 73.3h0M51.1 75.6h0M50.1 78.9h0M47.5 80.2h0M58.9 72.5h0M50 79.3h0M48.5 75.7h0M48.5 80.8h0M58.6 67.5h0M48.9 76.5h0M64.2 66.8h0M47.9 73.5h0M51.3 78.5h0M59.9 67.2h0M49 76h0M45.9 82.5h0M49.4 79.8h0M43.7 78.5h0M52.7 72.1h0M55.8 71.5h0M48.4 79.5h0M53.5 68.4h0M60.7 68.5h0M53.2 68.7h0M49.1 76.4h0M55.1 68.2h0M46.2 74.4h0M52 75.7h0M44.7 79.5h0M56.7 74.9h0M54.9 71.4h0M46.4 77.1h0M49.9 76.9h0M54.5 77h0M52.3 71.6h0M60.2 70.2h0M52 72.8h0M43.4 79.5h0M55.2 69.8h0M47.3 79.4h0M54.3 74.3h0M57.1 74.1h0M50.3 78.8h0M49.3 78.9h0M53.6 74h0M56.5 70.8h0M58.3 71.6h0M52.3 73h0M48.7 76.2h0M51.6 75h0M65.7 64.5h0M54.6 70.2h0M49.1 76.4h0M51.9 72h0M58.5 67.6h0M53.9 66.9h0M52.8 74.7h0M54.1 74.5h0M53.9 73.5h0M43.7 80.1h0M43.6 83.7h0M53.5 72.9h0M48.3 76.4h0M62.4 70.3h0M53.9 76.5h0M43.4 77.1h0M49.3 74.7h0M50.4 76.6h0M64.2 62.4h0M53.1 74.5h0M53.6 75.8h0M58.2 66h0M52.8 73.3h0M52 70.7h0M42.2 77.1h0M54.9 72.7h0M49.7 70.5h0M50 74.5h0M45.4 78h0M56.1 72.6h0M53.1 75.2h0M50.1 76.6h0M53.4 75h0M52 74.3h0M51.1 73.8h0M62.4 67h0M57.3 76.2h0M56.3 66.9h0M56.5 73.1h0M62.1 69.5h0M54.2 69.7h0M49.2 77.8h0M53.3 70.9h0M50.4 75.1h0M53.2 74.6h0M49.7 73.5h0M59.8 72.2h0M53.4 76.2h0M55.2 73.7h0M53.5 71.4h0M56.2 73.8h0M51.4 80.5h0M63.6 69.5h0M61.7 68.2h0M50.3 74.6h0M49.3 77.4h0M53.2 75.4h0M61.9 66h0M55.9 72.6h0M53.4 73h0M50.9 73.5h0M53.2 73.6h0M52.7 71.9h0M52.7 74.2h0M53.6 70.5h0M55.5 74.3h0M54.5 71.6h0M50.2 75.7h0M57.6 74h0M51 73.9h0M54.3 73.3h0M47.8 76.5h0M53 75.7h0M46.2 77.1h0M53 70.7h0M53.4 74.4h0M50.7 73.2h0M51.8 74h0M52.8 71.8h0M54.8 67.8h0M51.8 74.9h0M55.7 69.9h0M54 71.5h0M57.8 74.3h0M51.4 76.4h0M49.9 79.1h0M57.6 70h0M48.3 79h0M58.7 71.8h0M53.5 68.6h0M51.5 78.9h0M48.9 80.4h0M75 72.7h0M73.4 72.9h0M71.6 74.8h0M73.1 74.2h0M70.6 74.6h0M70 76h0M65.9 77.1h0M70 75.1h0M69.6 73.4h0M70.4 75.1h0M73 71.8h0M70.8 75.5h0M73.5 74.4h0M74.3 71.8h0M73.3 73.1h0M69.7 77.2h0M69.2 75.3h0M69.9 74.9h0M74.7 72.8h0M76 72.1h0M70.1 76.5h0M69.3 75.6h0M71 75h0M74.9 71.8h0M72.6 73.9h0M67.2 76.4h0M71 75.3h0M72.7 74.3h0M71.5 74.2h0M72.4 73.1h0M67.2 77.1h0M66.9 77.1h0M69 75.7h0M71 74.2h0M69.5 74.3h0M71.6 73.7h0M71.6 72h0M69.1 76.4h0M63.8 79.2h0M71.8 74.5h0M67 77.7h0M71.5 73.7h0M73.8 73.1h0M71.4 74.3h0M73.2 73.6h0M75.2 72.6h0M69.5 75.7h0M74.2 72.5h0M72.9 74.2h0M70 73.5h0M72 74.5h0M71.6 73.8h0M75.2 72.1h0M69.3 75.4h0M72.1 73.2h0M69.3 77.9h0M76 72.7h0M76 72.3h0M66.8 78.7h0M75.5 72.4h0M66 79.3h0M75.5 71.5h0M72.2 74.8h0M71.7 75.5h0M72 74.9h0M71.1 73.5h0M69.8 78.7h0M72.9 74.9h0M75.7 73.4h0M73 73.1h0M70.7 73.3h0M71.3 75.6h0M64.9 79.1h0M74.6 73.8h0M68.4 76h0M65.3 77.7h0M74 74.9h0M68.5 77.8h0M72.6 73.4h0M77.2 68.5h0M71.4 74.9h0M78.9 71.5h0M78.6 70.1h0M75.1 73.5h0M73.2 73.8h0M70.8 74.7h0M68.5 78.3h0M69.2 74.1h0M72.3 74h0M72.8 75.4h0M71.1 74.6h0M69.2 76.1h0M70.2 75.6h0M81.3 68.6h0M69.7 77.6h0M74.5 73.4h0M74.1 73.7h0M74.2 74.2h0M75.2 73.5h0M69.9 75.6h0M69.6 76.7h0M73.9 72.6h0M74.4 75.1h0M74.9 71.4h0M71.5 75.2h0M71.6 74.9h0M75.3 72.4h0M68.4 77.3h0M71.2 74.9h0M69.2 74.8h0M77.6 39h0M77.3 39.8h0M79 38.3h0M76.3 40.6h0M77.5 40.5h0M76.3 40.2h0M76.4 40.6h0M77.7 39.9h0M74.7 42.9h0M80.9 37.2h0M74.5 41.9h0M77.3 38.6h0M76.7 39.5h0M78.3 39.8h0M78.8 37.9h0M80.1 38.2h0M76.4 40.7h0M80.1 37.6h0M76.8 39.8h0M78.9 37.5h0M79.8 37.5h0M78.6 38.1h0M74.9 41.2h0M78.4 38.2h0M78.1 38.9h0M79.5 38h0M78 39.2h0M80.7 37.1h0M77.4 40.7h0M77.3 40.1h0M75.5 41.2h0M72.3 43.5h0M75.3 40.5h0M74.3 42.5h0M77.5 38.9h0M80.6 37h0M76.3 40.6h0M74.2 41.2h0M75.7 41.5h0M78.6 38h0M79.5 38.2h0M78.1 39.3h0M77.6 39h0M74.9 41.2h0M76.4 40.8h0M74.8 42.4h0M75.5 40.8h0M78.6 39.1h0M76 40.2h0M74.5 41h0M79.7 38.6h0M81 37.3h0M77.9 39.7h0M78.9 38.5h0M78.3 40.2h0M73.1 42.1h0M75.2 41.7h0M79.4 38.1h0M78.4 39h0M77.5 39.4h0M76.9 40h0M79.9 39h0M73.3 42.9h0M77.2 40.3h0M79.4 38.6h0M78.5 38.5h0M73.8 43.2h0M79.3 37.8h0M79.9 38.2h0M72.1 44h0M75.2 41.9h0M75.4 40.8h0M73.7 42.3h0M79 38.2h0M73.6 43.5h0M81 37.4h0M75.6 40.4h0M73.7 42.7h0M79.5 37.7h0M76.9 39.9h0M76.6 40.6h0M81.3 36.6h0M79 39.1h0M76.4 40.4h0M74.4 42.4h0M75.7 40.6h0M76.9 39.6h0M74.7 41.5h0M80.1 37.7h0M77.8 38.7h0M73.3 43.6h0M75.8 40.1h0M76.9 40.4h0M73.2 42.4h0M77.3 39.3h0M78.9 39.1h0M77.8 39.2h0M76.8 39.9h0M76.8 40.3h0M76.6 40.8h0M82.3 35.8h0M77.9 39.7h0M78.3 38.9h0M76.2 41.1h0M78.4 39.2h0M75.5 41.4h0M78.6 38.7h0M78.9 39.7h0M73.2 43.1h0M74.2 41.3h0M51.6 84.7h0M48.5 84.7h0M45.3 85h0M48.8 84.4h0M50.6 84.7h0M44.2 84.7h0M45 84.9h0M52.4 84.8h0M43.6 84.8h0M44.5 84.7h0M47.1 84.7h0M46 84.9h0M48.1 84.7h0M44.3 84.9h0M52.5 84.8h0M43.9 84.7h0M49.3 84.8h0M39.8 84.7h0M42.4 84.8h0M49.8 84.5h0M52.8 84.7h0M40.4 84.7h0M41.8 84.5h0M44.9 85h0M49.9 84.6h0M39.5 84.8h0M39.2 84.6h0M40.6 84.9h0M47.9 84.4h0M44.5 84.8h0M44.8 84.9h0M53.8 84.8h0" stroke="#000" stroke-width="0.8" stroke-linecap="square" opacity="0.5" fill="none"/></g><text x="49.1" y="53.7" font-family="Liberation Serif,serif" font-size="4.2" class="lb" fill="#777" text-anchor="middle">70.6</text><path d="M49.3 56.6V60.2" stroke="#333" stroke-width="1" fill="none"/><path d="M49.3 62.6l-1.4 -3h2.8z" fill="#000"/>
<path d="M119.4 32.6H181V86.2H119.4Z" fill="none" stroke="#787878" stroke-width=".9"/><path d="M142.5 32.6V86.2M119.4 63.1H181" fill="none" stroke="#909090" stroke-width=".9"/><path d="M115.5 85.4l1.2 1.9M118.4 89.7l1.8 -1.2M115.5 72l1.2 1.9M133.8 89.7l1.8 -1.2M115.5 58.6l1.2 1.9M149.2 89.7l1.8 -1.2M115.5 45.2l1.2 1.9M164.6 89.7l1.8 -1.2M115.5 31.8l1.2 1.9M180 89.7l1.8 -1.2" stroke="#3a3a3a" stroke-width=".95" fill="none"/><text x="149.6" y="92.6" font-family="Liberation Sans,sans-serif" class="ns" font-size="2.1" font-weight="bold" fill="#333" text-anchor="middle">YO-PRO</text><g clip-path="url(#c1)"><clipPath id="c1"><rect x="119.4" y="32.6" width="61.6" height="53.6"/></clipPath><ellipse rx="22" ry="9" transform="translate(137 72.5) rotate(-26)" fill="url(#hg)" opacity="0.32"/><ellipse rx="17" ry="5" transform="translate(160 70) rotate(-38)" fill="url(#hg)" opacity="0.12"/><ellipse rx="15" ry="9" transform="translate(157 50) rotate(-60)" fill="url(#hg)" opacity="0.1"/></g><g filter="url(#bl)"><path d="M151.2 65.7h0M134.2 74.6h0M137.8 75.2h0M140 66h0M135 76.4h0M136.5 76.2h0M130.5 82.1h0M137.7 65.5h0M145.1 64.2h0M139.4 72.2h0M141.7 73.1h0M127.9 74.5h0M143.2 82h0M135.6 69.1h0M162.8 63.5h0M139.7 79.8h0M148.4 71.3h0M128.2 84.1h0M136.6 74.7h0M145.1 76.2h0M149.4 65.6h0M132.7 71.3h0M137.2 74.3h0M139.6 71.1h0M129.6 73.4h0M142.5 74.2h0M142.6 68.4h0M145.6 73.7h0M129.3 71.8h0M148.1 75.3h0M142 71.8h0M139.7 76.5h0M126 78.7h0M130.6 66.3h0M134.5 74h0M137.5 71.5h0M135.8 75.3h0M122.6 74.9h0M143.2 72.1h0M143 64.1h0M149.3 70.8h0M137.8 67.7h0M146.5 73.3h0M135.8 75.2h0M143.2 73.4h0M144.4 72h0M125.5 76.3h0M125.5 82.6h0M144.7 70.8h0M152 61.6h0M149 63h0M120.9 78.6h0M132.6 73.7h0M137.7 74.2h0M141.5 67.5h0M128.9 79.5h0M150 70.3h0M138.5 64.1h0M141.7 67.6h0M148.6 72.8h0M132.4 70.7h0M135 75.6h0M140.2 66.6h0M138.6 68h0M134.2 78.7h0M132.9 65.3h0M130.8 81h0M124.3 83.7h0M135.5 67.6h0M133.4 77h0M147 62.3h0M136.4 74.5h0M149.1 77.4h0M153.7 66.3h0M125.4 77.2h0M127.6 76h0M133.1 73.7h0M140.3 69.9h0M147.6 72.4h0M124.2 72.5h0M125.9 68.3h0M138.3 72.1h0M141.3 78.1h0M145.1 73h0M136.7 70.1h0M135.1 68.9h0M130 76.4h0M151.5 63.5h0M132.4 71.3h0M133.8 69h0M138 68h0M145.2 63.9h0M126.7 79.3h0M138.7 66.5h0M138 71.9h0M146.7 63.5h0M143.1 72.8h0M130.1 67.8h0M134.9 72.4h0M140.1 72.3h0M129.2 74.6h0M138.2 76.7h0M156.2 67.8h0M141.1 65.6h0M130.3 77.1h0M129.4 73.7h0M158.5 60.3h0M131.3 67h0M141.5 71.3h0M135.1 75.3h0M144.7 59.1h0M139.4 74.5h0M144.3 69.5h0M148.1 69h0M135.3 79.7h0M124.9 76.2h0M135.2 80.3h0M129.1 69.8h0M127.5 78h0M136.9 73.8h0M125.4 79.5h0M147.2 75.7h0M147.4 61.4h0M139.3 66.6h0M141.5 73.5h0M129.9 63.1h0M137.9 72.4h0M133.3 77.6h0M132.9 73.2h0M140.2 67.6h0M142.9 67.5h0M136.1 75.5h0M148.2 65.8h0M137.9 70.6h0M122.2 77.8h0M157.6 61.4h0M144.9 71.2h0M148.1 67h0M143.3 68.5h0M159.1 63.4h0M138.2 77.6h0M131.2 79.8h0M155.2 59.3h0M141 68.1h0M137.4 71.5h0M138.4 76.1h0M130.6 74h0M131.2 69.1h0M155.9 68.9h0M150.7 68.8h0M134.9 75.5h0M167.6 64.9h0M138.2 67.2h0M139.1 60.2h0M146 65.7h0M137.4 77.6h0M151.1 64.8h0M125.7 70.5h0M128.5 79.7h0M139.5 68.9h0M138 71.3h0M125 77h0M152.5 73h0M132.1 76h0M128 80h0M136.4 72.9h0M150.4 69.8h0M142.7 72.3h0M140.1 62.7h0M140.4 69h0M152.1 65.4h0M129.1 73.9h0M146.7 68.3h0M140.3 76.8h0M143 69.2h0M150.6 69h0M142.8 71.7h0M134.8 77h0M131.9 75.4h0M127.2 81.3h0M132.6 81.7h0M139.4 73.2h0M128.7 73h0M140.3 69.9h0M134.1 67.3h0M134.4 75.4h0M123.5 74.2h0M127.3 78.1h0M129.9 70.3h0M132.4 76.1h0M126.4 78.9h0M156.8 54.1h0M128.9 75h0M141.6 76.4h0M135.2 70h0M125.9 80.4h0M140.2 68.7h0M144.6 70.3h0M122.7 80.5h0M136.7 72.4h0M139.4 71.8h0M135.3 73.8h0M124 77.8h0M145.5 76.7h0M131.1 80.2h0M129.9 75.1h0M137 72.1h0M138.6 75.7h0M143.4 65.8h0M144.7 69.6h0M122.3 74.5h0M151 70.6h0M129.9 79.4h0M129.4 78.5h0M156.9 62.2h0M148.3 63.4h0M134.5 71.4h0M154.3 65.9h0M128.9 70.9h0M135.6 76.4h0M145.7 65.6h0M145.3 68.9h0M135.6 74.5h0M155.7 62.1h0M137.2 72h0M133.6 75.2h0M131.4 67.2h0M137.9 64.4h0M138.3 72.4h0M153.3 69.3h0M140.3 66.2h0M142.2 78.7h0M143.9 71.9h0M162.7 60.1h0M125.2 82.1h0M138.6 66.2h0M152.2 64.5h0M155.7 58.3h0M151.5 69.1h0M139.7 75.1h0M146.6 69.6h0M162.9 71h0M123.1 79.5h0M121.4 79.2h0M133.7 78h0M133.8 67.1h0M141.9 67.6h0M143.2 63.6h0M128 74.9h0M133.4 73.5h0M144.2 71.2h0M139.4 72.3h0M131.2 68.3h0M131.6 73.1h0M130.8 67.3h0M131.4 73h0M128 75.1h0M137.4 74.8h0M143.5 64.6h0M141.6 69.1h0M138.1 77.2h0M144.6 70.1h0M126.5 76.3h0M145.7 65.1h0M127.5 72.6h0M137.3 68.2h0M162.2 60.2h0M137.4 70.1h0M142.7 71.8h0M133.6 72.2h0M147.7 67.9h0M144 69.2h0M133.3 76.3h0M144 69.1h0M138.9 75.5h0M130.6 77.8h0M136.5 73.5h0M142.2 63.7h0M136.3 72.8h0M142.8 79.2h0M131.4 76h0M141.7 61.7h0M146.1 71.7h0M132.5 73.9h0M133.9 79.6h0M129 70.9h0M129.5 73.2h0M138.6 72.1h0M143.4 61.8h0M139.6 70.3h0M136.6 70h0M134.5 76.1h0M145.1 62.2h0M139.9 67.3h0M142.9 68.3h0M123.8 75.9h0M139.6 75.6h0M151.8 70h0M139.8 73.3h0M137.2 78.7h0M128.2 72.7h0M143.8 63.3h0M141.9 75.4h0M141.4 73.3h0M139.7 72.6h0M128.9 83.9h0M134.2 72.3h0M141.6 76.1h0M134.9 73.3h0M147.9 70.4h0M133.6 73.1h0M136.7 69.4h0M126.5 74.7h0M130.7 78.4h0M152.1 64.5h0M122.5 77.9h0M151.4 64.1h0M141.7 75.9h0M131.4 76.4h0M137 69.4h0M132.4 69.7h0M125.6 81.2h0M127.5 63.9h0M153.1 64.6h0M138.4 78.4h0M129.5 77.5h0M147.3 68.3h0M129.1 75.6h0M146.4 71.1h0M142.4 71h0M129.8 77.5h0M126 77.9h0M133.9 75.5h0M148.7 67.5h0M143.9 68.5h0M133.5 77.3h0M134.5 68.6h0M137.1 72h0M142 72.3h0M132.1 78.2h0M126.9 79.6h0M149 65.2h0M121.2 75.5h0M136.2 73.9h0M147.2 66.1h0M133.8 73.3h0M135 69.2h0M131.3 72.4h0M143.7 67.1h0M137.6 81.5h0M139.6 74.7h0M142.4 71.9h0M137.3 70.6h0M125.1 82.3h0M130.3 68.1h0M153.5 70.8h0M129.2 82.7h0M130.3 76.2h0M144.8 72.9h0M142.4 70.7h0M143.7 65.1h0M139.6 69.3h0M127.2 77.9h0M143.3 71.6h0M148.4 63.6h0M124.6 78.2h0M148 58.7h0M134.3 73h0M140 69.1h0M138.3 74.3h0M125 77.9h0M127.7 78.3h0M148.2 72.5h0M129.1 75.4h0M144.1 59.9h0M157.6 56.4h0M145.8 70h0M130.8 76.6h0M132.4 65.1h0M145.5 72.4h0M154.7 62h0M133.2 75h0M127.1 78.8h0M137.2 69.6h0M137.2 85.1h0M149.5 66.9h0M151 69.8h0M120.7 85.1h0M143.6 78.3h0M137.9 73.4h0M140.4 71.7h0M130.5 81.3h0M148 68.3h0M132.8 74h0M127.5 74.8h0M132 82.3h0M134.5 71.6h0M139.7 72.1h0M138.4 78.1h0M159.3 59.3h0M139.4 69.6h0M138.1 64.7h0M132.8 73.2h0M138.9 73.9h0M125.8 74h0M137.6 71.7h0M161.4 61.4h0M137.8 75.6h0M139.3 69.8h0M138.5 62.6h0M124.7 76.2h0M149.4 66.7h0M123.4 74.1h0M132.5 74.5h0M141.8 76.6h0M141.1 71.5h0M140 79h0M128.4 75.5h0M148 65.8h0M140.1 76.7h0M141 67.2h0M127.1 79.7h0M149.6 65.9h0M144.1 74.4h0M134.4 78.3h0M136.2 72h0M129.1 76.2h0M121.6 75.2h0M125.1 79.6h0M136.6 76h0M125.8 77.6h0M142.5 77.3h0M128.6 76.6h0M139.9 79.5h0M151.9 59.2h0M137.7 73.9h0M135.3 72.6h0M143.3 64.2h0M133.6 78.3h0M133.9 71.6h0M128.9 82.3h0M129.9 70.6h0M142.8 71.6h0M137.3 73.5h0M127.8 72.5h0M146.1 65.5h0M144.8 66.2h0M129.6 75.7h0M136.4 72.8h0M134.3 76.2h0M127.9 73.2h0M136.6 70.8h0M151.2 66.9h0M124.8 74.7h0M134.6 73.7h0M121.7 82.5h0M134.5 72.9h0M153.5 71.2h0M131.5 74.4h0M127.7 67.3h0M143.7 64.4h0M137.7 70.4h0M121.8 81.8h0M135.1 75.5h0M144.3 63.8h0M140.3 71h0M121 74.2h0M147.7 70.9h0M141.8 73.8h0M144.5 72.8h0M150.3 67.9h0M122.2 72.1h0M136.7 70.9h0M143 65.5h0M145.8 66.2h0M150.6 69.3h0M153.5 75.8h0M129.1 76.5h0M127.2 71.3h0M130.4 76.6h0M125.8 81.3h0M138.7 74.2h0M124.2 79.4h0M144.1 70.5h0M143.7 68.6h0M136.6 68.9h0M146.9 70.3h0M145.4 62.8h0M151.2 67.6h0M128.1 73.3h0M129.6 71.5h0M145.1 74.8h0M143.4 72.1h0M142.1 65.4h0M122.7 79h0M128.2 77h0M135.1 73.1h0M135.9 74.1h0M156.5 62.7h0M133.2 72.2h0M140.4 68h0M139 65.4h0M123.5 74.6h0M138.4 80.2h0M121.6 78h0M139.5 68.4h0M130.7 77.8h0M154.9 68h0M131 70.7h0M145.4 70.2h0M130.7 70.5h0M130.1 75.9h0M141.8 76.7h0M129 85.2h0M153.8 57.5h0M137.3 77.6h0M144.7 71.3h0M147.4 69.8h0M150.9 63.7h0M133.3 77h0M139.4 70.7h0M144.1 61.8h0M158.9 66.4h0M130.2 72.3h0M127.1 80.1h0M142.4 67.5h0M152.8 65.2h0M127.1 72.1h0M140.5 71.6h0M142.9 67.1h0M143.7 75.2h0M148.5 69h0M135.6 70.6h0M133.8 62.4h0M141.6 63.3h0M149.6 64.1h0M139.1 65.6h0M133.3 71.9h0M134.1 77.3h0M144.5 62.8h0M140.2 71.5h0M135.9 74.6h0M144.5 67.5h0M125.7 83.6h0M124.1 77.5h0M128.4 78.5h0M143.6 68.3h0M126.6 76.8h0M141 72.5h0M120.8 80.1h0M134.4 74.4h0M141.1 69.5h0M138.7 70.8h0M133.2 72.3h0M138.2 76.6h0M135.5 68.5h0M129.9 78.2h0M129.6 75.6h0M142.3 69.1h0M146.3 72.1h0M130.7 81.3h0M150.7 67.4h0M126.5 85.3h0M135.8 77.6h0M134.4 78.8h0M137 79h0M126.5 81.3h0M136.3 77.6h0M122.6 77h0M130 72.1h0M141.2 71.6h0M141.4 72.6h0M144.7 74.7h0M129.6 84.3h0M139 74.9h0M139.9 73.3h0M130 70.6h0M140.1 79.1h0M131.1 71.2h0M125.2 74.2h0M133.6 74.9h0M129.8 80.5h0M151.8 69.3h0M141.4 67.1h0M131 79.3h0M138.1 75h0M148.4 71.8h0M154 62.1h0M152 62.3h0M141.8 70.5h0M154.5 62.6h0M126 73.7h0M129 78.2h0M145.7 72.7h0M137.2 74.7h0M143.4 65.1h0M141.3 67.8h0M129.9 74.3h0M138.9 68.9h0M128.4 72.2h0M136 74.6h0M126.3 78.2h0M138.4 69.1h0M141.4 73.8h0M137.9 69h0M135.1 72.6h0M150.6 69.3h0M132.6 74.7h0M129.5 79.7h0M128.6 79.1h0M155.9 65.8h0M128.9 74.5h0M136.9 75.4h0M151.4 62h0M129.8 80.2h0M130.9 74.5h0M151.9 66.7h0M145 73.5h0M138.9 71.7h0M145.9 73.7h0M129.4 71.7h0M159.9 62.2h0M154.3 66.2h0M131 75.9h0M134.4 74.7h0M130.9 74h0M134.3 71.2h0M130.1 70.1h0M127.6 66.5h0M135.7 79.6h0M124 84.5h0M141.3 63.7h0M130.5 73.6h0M154.3 57.7h0M144.3 67.7h0M140.5 64.7h0M143 62.8h0M128.8 77.7h0M138.3 65.7h0M138.5 71.9h0M133.2 74.8h0M138.5 70.2h0M140.9 68.5h0M149.2 72.1h0M131.3 71.2h0M126.4 74.5h0M146.5 66.2h0M126.8 76.2h0M126.7 81.1h0M149.3 70.9h0M149.4 63.2h0M128.5 75.5h0M140.7 71.8h0M140 68.9h0M133.7 66h0M141.6 74h0M122.3 79h0M130.2 77h0M141.7 66.9h0M132 76.5h0M123.3 79.9h0M163.2 65.3h0M151.9 76.6h0M159.6 68.5h0M165.8 64.5h0M161.1 69.6h0M162.9 67.6h0M151.6 75.3h0M160.9 68.6h0M166.7 64.9h0M167.4 63.5h0M154.2 75.7h0M159 75h0M164.9 66.9h0M172.3 63.3h0M169.8 63h0M167.8 64.6h0M167 64.5h0M159.4 67.3h0M171 60.7h0M158.5 72.3h0M157.5 74.4h0M150.8 75.7h0M154 73.5h0M150.3 76.9h0M169.7 63.5h0M167.9 69h0M164 66.6h0M151.6 75.9h0M151.5 76.3h0M172.2 57.8h0M167.3 65.9h0M148.8 78.5h0M154.6 78.8h0M166.9 68h0M153.3 77.5h0M170.4 65.3h0M162.2 67.6h0M151.4 80.1h0M161 68.6h0M156 76.9h0M167.1 67.8h0M148.2 79h0M166.8 62.4h0M155.3 76.2h0M168.3 66.1h0M169.3 63.4h0M166.4 65.8h0M161.3 67.7h0M147.7 78.4h0M155.8 73.6h0M156 70.3h0M160.1 70h0M161 66.8h0M159.8 75.3h0M162.6 66.5h0M149.8 76.6h0M169 60h0M162.4 67.6h0M171.1 59.1h0M155 77.1h0M165.7 64.3h0M160.6 67.9h0M173 63.1h0M147.4 77.9h0M148.3 79.1h0M171.3 63.4h0M170.3 66.1h0M170.9 62.1h0M152.3 78.2h0M167.6 65h0M169.9 61.9h0M148.1 79.7h0M151.9 76.2h0M154 73.4h0M150.9 80.3h0M159.8 72.5h0M158 72.2h0M154.5 76.8h0M172.2 60h0M159.1 72.2h0M164.9 65h0M157.7 70.7h0M163.6 69.3h0M171.2 61.3h0M167.9 62.5h0M157.5 71.1h0M164.6 67.6h0M151.2 78.1h0M149.4 78.6h0M173.7 60.3h0M170.6 62.5h0M172 63.4h0M164.5 66h0M148.4 77.6h0M166.1 67.8h0M172.2 63.4h0M171.3 59.3h0M157.9 71.5h0M150.1 79h0M168.5 64.3h0M164.8 66.6h0M164.8 66h0M161.2 71.1h0M148.6 77.6h0M154.6 70.2h0M170.5 63.1h0M170 60.5h0M153.7 74h0M169 63.7h0M164.7 65.7h0M160.6 70.9h0M171.9 60.9h0M161 71.8h0M154.4 77.1h0M173.5 61.7h0M161.2 68.3h0M147.6 80.7h0M158 72.9h0M170.2 60.5h0M157.6 69.9h0M151.3 77.4h0M156.9 71h0M169.8 62.3h0M151 75.6h0M152.8 75.9h0M148.1 76.5h0M151.5 79.4h0M156.9 72.8h0M153.2 77.6h0M149.5 74.7h0M172.5 60h0M160.4 70.8h0M154.2 72.8h0M151.5 77.5h0M171.2 59.7h0M173.1 60.6h0M155.4 76.5h0M160.5 67.6h0M160.5 71.2h0M173.4 61.5h0M151.8 75.2h0M167.2 59.8h0M159.3 65.9h0M167.8 64.4h0M174.2 62.9h0M169.4 58.2h0M163.3 65.6h0M156 76.3h0M160.9 72.1h0M154.7 77.4h0M163.6 64.7h0M157.6 71.5h0M157.7 69.5h0M155.5 72.7h0M147.6 77h0M158.9 73h0M156.5 70.4h0M153.2 75.9h0M153.8 75.4h0M161.2 69.7h0M163.5 64.9h0M158.3 71.5h0M153.5 77.2h0M161.5 71.1h0M152.2 80.3h0M172.2 63.2h0M158.1 68.9h0M166.3 66.2h0M173 63.5h0M158.6 72h0M172.2 59.2h0M161.4 68.8h0M159.5 68h0M154.9 71.3h0M156.4 69.1h0M155.8 72h0M168.9 64.4h0M157.6 71.1h0M170 60.4h0M160 71.7h0M166 70.6h0M162.5 68.1h0M153.3 76.5h0M151.5 76.2h0M161.6 66.8h0M166.4 64.4h0M162 67h0M169.7 63.6h0M154 74.9h0M167.1 64h0M159.9 70.6h0M165.1 65.6h0M156.2 73.7h0M154.3 73.1h0M172.5 60.9h0M154.7 76.5h0M154 71.2h0M150.9 78.2h0M157.1 74.6h0M156.8 68.5h0M170.6 61.5h0M149.3 74.9h0M170.7 62.9h0M169.8 59.5h0M149.8 78h0M166.9 63.9h0M147.9 74.1h0M162.8 68.4h0M169.8 63.4h0M155.4 75.2h0M158.4 73.1h0M169.7 60.9h0M155.9 73h0M172.4 58.2h0M172 61.6h0M161.3 69.2h0M161.3 69.3h0M171.6 63.4h0M147.1 81.2h0M164.1 64.8h0M151.9 75.5h0M157.6 69.2h0M158.9 70.1h0M166.4 63.8h0M165.9 65.9h0M160.6 70h0M166.5 65.3h0M158.8 70.8h0M162.3 68.6h0M165.6 59.8h0M165.7 62.9h0M160.9 73.3h0M169.8 61.4h0M159.3 69.6h0M156.4 71.1h0M167.1 66.8h0M153 74.6h0M160.8 66.9h0M155.2 72.3h0M165.5 64.3h0M172.9 60.2h0M168.3 61.7h0M170 62.4h0M170.8 61.8h0M167.8 64.5h0M156.6 73.6h0M173.5 64.6h0M165.8 63.3h0M156.1 70.6h0M156.7 72.1h0M155.9 72.9h0M158.8 70h0M147.3 81h0M151.7 75.6h0M154.8 73h0M166.7 63.6h0M150.2 77.3h0M161.9 66.5h0M174.7 62h0M160.8 69.3h0M170.3 61.9h0M162.1 68.4h0M170.8 65.4h0M156 73.9h0M150.8 79.3h0M172.1 62.3h0M156.7 71.1h0M165.1 66.8h0M162.5 67.4h0M149.3 78.1h0M170.8 60.6h0M159.1 71.7h0M159.4 70.4h0M165.6 63.3h0M160 68.1h0M158.8 70.7h0M156.7 68.1h0M155.5 73.4h0M151.9 77.5h0M151.8 76h0M162.7 67.5h0M161.2 72h0M165.3 67.4h0M154.4 76.4h0M170.3 61h0M160.2 72.2h0M173.1 61.8h0M153.9 74.6h0M162.6 70.7h0M161.8 67.2h0M166.6 66.1h0M166.5 68.9h0M164.7 65.5h0M147.9 77.1h0M153.1 78.5h0M160.4 68.8h0M173.5 59.4h0M160.2 68.2h0M167.8 60.9h0M152.7 74.5h0M156.1 39.8h0M155.7 41.6h0M158 39.6h0M154.3 40.8h0M160.6 38.6h0M163.1 35.1h0M160.4 37.2h0M154.1 41h0M151.9 41.1h0M156.8 39.6h0M160.1 39.2h0M152.6 41.3h0M155.5 41h0M154.8 39.1h0M158.2 37.6h0M155.6 42h0M159.1 36.3h0M157 38.3h0M154.9 39.7h0M155.6 39h0M158.4 38.9h0M155.2 38.3h0M159.1 36.5h0M162.1 35.8h0M157.9 40.5h0M154.1 41.6h0M159 37.5h0M156.2 38.1h0M159.8 34.9h0M148.9 45h0M159.8 36.7h0M156.1 39.7h0M157.8 37.7h0M154.8 40.3h0M155.3 41.5h0M157 39.8h0M154.2 39.6h0M164.4 34.7h0M158.8 38.1h0M157.1 40.2h0M151.1 44.1h0M160.4 37.2h0M155.1 39.8h0M155.8 41.3h0M159.8 35h0M156 39.9h0M154.8 42.9h0M154.8 41.4h0M156.3 39.2h0M153.6 40.1h0M159.7 37.7h0M157.9 37.4h0M154.4 40.9h0M154.2 40.9h0M154.8 43.5h0M151 39.1h0M156.1 41.1h0M154.4 43.4h0M155 42.3h0M159.3 38.7h0M157.8 41.5h0M153.7 44.4h0M154.4 40.6h0M150.4 43.5h0M154 39h0M153.1 41.5h0M161.3 37.4h0M153.7 40.2h0M156.6 41.7h0M154.5 40.9h0M161.7 34.9h0M153.5 39.5h0M155.4 39h0M162.3 33.7h0M154.9 39.4h0M156.2 39.7h0M160.1 34.6h0M154 40.6h0M157.1 38.7h0M155.6 40.8h0M150.8 45.8h0M157.2 38.8h0M148 58.1h0M150.7 48.3h0M147.4 59.7h0M146.7 51.6h0M146.6 52.1h0M160.8 37.5h0M147.1 58.2h0M147.6 58h0M155.8 38.5h0M144.4 57.7h0M151.2 42.5h0M154.8 39.4h0M149.6 46.9h0M154.4 40.6h0M144.8 61.2h0M145.1 56.3h0M150.9 46h0M154.9 43.8h0M150.8 45.3h0M159.4 33.7h0M147.5 53.4h0M153.2 40.5h0M157.2 38.1h0M156 44.5h0M149.5 50.4h0M146.5 55.9h0M150.7 50.6h0M154.2 40.5h0M146.6 58.4h0M150.5 40.6h0M154.5 37.3h0M150.6 47h0M152.7 40h0M147.3 47.3h0M151.8 52.8h0M158.7 38h0M150.9 49.8h0M148.4 48.7h0M149.3 52.9h0M149 51.2h0M154 43.2h0M150.3 50.4h0M159.6 37.1h0M144.7 60.3h0M155.8 44.3h0M153.3 44h0M145.2 59.9h0M149.5 53.2h0M157.3 37.8h0M150.2 51.3h0M146.6 49.8h0M144.3 53.3h0M146.4 51.1h0M147.7 49.7h0M154 38.6h0M151.1 43.3h0M146.7 57h0M147.3 57.7h0M150.2 46.6h0M147.4 56.1h0M153 38.6h0M155.8 39.8h0M150.1 46.5h0M156.8 41.5h0M150.7 44.4h0M148.4 46.5h0M157.9 35.9h0M144 55.7h0M148.3 52.1h0M153.6 43.9h0M158.3 41.2h0M151 47.4h0M151.3 44.3h0M147.5 60.3h0M149.7 46.5h0M148.4 49.5h0M151.4 43.1h0M155.9 46h0M153.3 44.3h0M147.7 51.9h0M148.3 47.2h0M154.2 46.5h0M154.7 39.6h0M159.3 37.5h0M147.2 53.4h0M148.1 53.2h0M150.1 45.3h0M147.1 53.1h0M148.1 58.4h0M149.9 51.3h0M152.2 46.9h0M158.7 36.1h0M158.3 38.6h0M146.3 54.8h0M148.9 48.9h0M151.4 44.5h0M156.4 43.2h0M153.3 41.5h0M149.5 56.3h0M147.8 49.4h0M149.7 55h0M151.7 51h0M147.8 56.7h0M151.5 44.8h0M157.5 35h0M149.1 48.9h0M149.2 51.9h0M159.7 35.2h0M144.9 57.5h0M148.7 51.8h0M150 45.5h0M147.6 52.2h0M156.6 39.2h0M146.3 55.8h0M146.9 55.1h0M148.4 55.1h0M157 39.7h0M145.9 54.4h0M147 50.4h0M148.4 59.9h0M145.5 55.3h0M154.1 42.2h0M157.6 42.8h0M156 36.1h0M150.4 45.8h0M149.7 44.3h0M153.9 38h0M150.9 50.1h0M151.3 44.5h0M146.9 58.3h0M156.1 38.8h0M151 45h0M159.9 37.6h0M151 42.4h0M158.5 38.4h0M150.1 47h0M150.4 48.4h0M152.4 41.7h0M158.1 39.4h0M147.1 52.4h0M150.8 51.5h0M146.7 50.1h0M149.8 60.8h0M158.2 39.5h0M150.5 47.3h0M162 39.2h0M143.8 55.9h0M155.5 40.8h0M160.1 36.6h0M156.1 40.1h0M149.7 47.3h0M156.7 38.7h0M147.2 58.6h0M150.5 51.1h0M151.5 45h0M149.4 53.2h0M158.5 40.9h0M147.6 50.7h0M155.6 38.6h0M147.9 58.2h0M146.6 54.1h0M149 53h0M149 60h0M146.8 59.1h0M148.8 46h0M150.2 50.4h0M159.9 38.1h0M147.6 49.6h0M156 41.4h0M145.3 46.5h0M150.5 50.9h0M159 39.8h0M152.8 43h0M156.2 42.8h0M150.3 47h0M153.3 39.3h0M149 48.1h0M149.7 54.8h0M147.4 56.6h0M145.5 52.1h0M149.4 45.5h0M152 43.7h0M150.2 47.1h0M149 54.8h0M145.4 59.9h0M147.5 55.1h0M149.8 44.9h0M154.8 43.8h0M148.2 51.2h0M152.6 54.8h0M147.4 60.4h0M145.8 59.5h0M154.3 38.2h0M149.7 51.9h0M146.8 62.1h0M158.8 39.1h0M156.3 37.7h0M148.3 58.4h0M154 44.5h0M157.5 39.8h0M147.6 47.2h0M152 43.1h0M148.9 44.5h0M149 44.7h0M148.1 47.2h0M153.4 44.2h0M153.5 46.3h0M151 46.2h0M148.1 49.5h0M146.1 53.2h0M146 55.1h0M147.8 55.1h0M149.5 45.9h0M151.5 44.2h0M143.6 58.4h0M152.7 42.3h0M145.9 54.2h0M150.5 50h0M154.1 40.3h0M157.3 38.8h0M149.8 52.8h0M147 59.2h0M154 47.7h0M151 46.3h0M153.9 43.8h0M158.7 37.4h0M146.4 60.4h0M149.8 49.3h0M156.5 37.8h0M150.9 46.7h0M152.8 47h0M157.3 39.6h0M150.1 47.8h0M164.1 36.4h0M155.7 38.3h0M154.8 39.7h0M155.4 41.6h0M154.2 43.3h0M150.6 56.8h0M160.8 34.8h0M154 39.5h0M151.7 47h0M147.5 52.5h0M148.4 56.6h0M157.9 39.3h0M144.8 54.9h0M156.1 41.8h0M153 44.5h0M153.7 39.7h0M150.1 44.6h0M147.2 54.9h0M150.2 45.3h0M155.1 38.3h0M148.8 58.3h0M155.2 39.8h0M154 45.9h0M148 51.7h0M155.1 38.9h0M155.7 43.9h0M152.3 41.9h0M159.1 35.1h0M150.7 43.9h0M149.5 48.8h0M158.5 35.4h0M148.8 47.1h0M158.8 36h0M151.1 53.2h0M149.4 48.8h0M151.6 46h0M154.7 38.8h0M152 46.7h0M153.7 44.2h0M150.9 49.1h0M148.4 50h0M149.1 53.6h0M156.2 41.8h0M148.8 51.4h0M148.6 50.1h0M147.4 52.9h0M146.1 58.3h0M158.5 37.8h0M159.1 35.3h0M149.6 50.1h0M149.8 46.7h0M151.3 49.1h0M147.6 48.2h0M149.1 49.5h0M145.8 52.2h0M151.1 55.6h0M146.9 49.5h0M147.1 52.9h0M148.5 47.8h0M146.1 57h0M145.2 55h0M148.6 46h0M150.8 48.5h0M144.8 58.7h0M148.2 50.5h0M149 50.2h0M146.8 51.7h0M147.3 54.4h0M162.7 34.8h0M150.5 54.7h0M147 56.1h0M154.5 42.2h0M155.4 38.7h0M159.7 35.9h0M152.5 43.1h0M148.9 52.8h0M149.6 55.5h0M146.6 48.6h0M155.5 45.8h0M159.3 36.5h0M156.1 39.2h0M148.6 47.9h0M159.7 34.5h0M157.7 39.8h0M147.2 59.3h0M150 46.9h0M152.9 42.3h0M148.4 51.3h0M145.7 63.1h0M147.9 54.1h0M158.2 37.1h0M153.7 42.8h0M148.6 49.3h0M147.8 58h0M147.8 58.8h0M146.4 51.1h0M147 52h0M153.4 46.1h0M148 59.5h0M152 46.9h0M146.5 50.6h0M158.4 39h0M150.5 46.5h0M151.3 46.3h0M153.7 43.1h0M147.9 50.9h0M148.5 51.6h0M147.9 56.9h0M149.3 48.9h0M159.6 41.7h0M148 47.2h0M144.7 57.4h0M155.3 37.9h0M145.9 57.5h0M147.2 58.1h0M151.4 46h0M157.1 35.6h0M149.1 42.8h0M146.4 59h0M149.1 46.5h0M147.6 57.1h0M152.8 42.3h0M155.9 43.4h0M148.2 53.2h0M158.4 37.8h0M150.2 54.1h0M149.2 50h0M147.5 51.7h0M149.1 54h0M146 54.4h0M149.1 51.9h0M160 38.1h0M155.4 46.6h0M146.5 59.1h0M149.1 55.7h0M161.4 36.3h0M157.6 37.8h0M157.2 42.7h0M149.1 55.2h0M151.6 47.9h0M150.7 39.3h0M151.8 45.3h0M151.8 39.4h0M146 51.5h0M146.1 55.2h0M152.5 43.1h0M154 41.4h0M151.4 51.9h0M158.1 39.7h0M143 58h0M146.5 60.7h0M147.4 57.5h0M148.4 56.9h0M149.3 56.4h0M148.3 50.5h0M148.4 50.3h0M151.8 44.8h0M147.1 55.9h0M149.5 56.2h0M147.6 55.9h0M159.2 40.3h0M153.9 40.7h0M149.9 48.7h0M147.1 57h0M151.1 48.8h0M152.8 41.6h0M143.8 59.6h0M149.3 43.5h0M156.4 42.1h0M154.8 40.5h0M147.8 50.7h0M157.3 37.6h0M147.3 54.6h0M150.3 48.4h0M151.4 41.4h0M149.2 56.8h0M156.3 36.7h0M157.6 36.2h0M149.7 59.3h0M155.9 40h0M151.4 45.9h0M147.8 57.4h0M154.6 44.5h0M150.2 50.4h0M147.8 55.9h0M149.4 49.1h0M151.1 53.7h0M152.2 46.1h0M156.7 37h0M150.3 44.2h0M160.9 40.1h0M151.9 42.1h0M146.8 53.5h0M159.5 40.2h0M154.1 42.3h0M155.6 40.7h0M154.9 40.2h0M152 47.1h0M160 36.8h0M148.8 54.8h0M147.9 53.9h0M149.7 50.6h0M151.3 47.3h0M146.7 57h0M158 39.4h0M149.2 58.4h0M158.2 37.5h0M153.8 41.9h0M156.9 37.2h0M147 57.6h0M149 53.7h0M154.2 45.8h0M149.2 49.9h0M152 42.7h0M158.1 38.7h0M148.8 55.5h0M158.9 38.2h0M153.7 46.6h0M155.2 40.9h0M158.9 35.8h0M150.1 53.6h0M149.6 58.8h0M149.4 53.6h0M153.7 43.6h0M156.6 40.4h0M162.2 36.7h0M162 54h0M165.8 55.8h0M167.4 41.3h0M162.9 59h0M165.8 39h0M166.3 40.7h0M165 39.7h0M164 49.8h0M165.5 55.9h0M160.5 38.3h0M166.5 39.4h0M166.3 43.6h0M165.5 50.6h0M161.6 34.8h0M167.9 48.3h0M166.8 50.6h0M167.4 48.3h0M165 38.8h0M163 39.9h0M169.2 38.6h0M164 38.7h0M163.3 38.5h0M165.7 36.7h0M165.4 54.3h0M163.6 34.9h0M166.1 40.3h0M167.3 43h0M166.3 51h0M164.1 39.7h0M165.2 46h0M160.8 39.8h0M160.8 37.5h0M163.9 51.8h0M167.1 52.9h0M163.2 47.1h0M164 48.4h0M164 56.3h0M164.9 40h0M160.8 56.2h0M165.5 45h0M162.9 56.4h0M170.3 46.9h0M163.5 47.6h0M167.6 46.7h0M166.4 45.1h0M165.6 41.5h0M164.6 34.6h0M164.9 50.4h0M168.5 43.3h0M165.6 47.6h0M163.1 36.6h0M163.5 42.4h0M169 47.5h0M166.2 42h0M170.8 45.3h0M165.8 48.1h0M164.7 59.4h0M165.2 40.7h0M166.1 49.7h0M165.9 52.4h0M164.9 48h0M167.4 44h0M163.7 49.4h0M164.9 49.5h0M162.4 55.6h0M162.1 44.7h0M167.3 43.1h0M166.2 50.1h0M164.3 43.4h0M167.7 43.2h0M161.6 56h0M166.7 48h0M165.8 47.2h0M169 50.4h0M163.2 58.6h0M166.8 51.7h0M162.8 47.3h0M165.9 40.6h0M164.8 42.6h0M168.7 45.8h0M168.9 47.3h0M161.8 51.8h0M164.5 54.8h0M159.6 35.3h0M169 44.8h0M165.6 47.4h0M163.7 46.2h0M168 57.5h0M165.1 43h0M164.5 53.8h0M167 46h0M161.2 38.4h0M164.8 39.3h0M169.1 47h0M163.6 55.1h0M165 39.7h0M165.7 51.3h0M167.6 49h0M162.7 57.6h0M163.9 34.7h0M165.4 40.7h0M165.7 41.7h0M165 39h0M165.1 41.4h0M163 37h0M168.2 51.1h0M163.4 54.3h0M165.4 44.7h0M163.5 37.9h0M164.9 40.5h0M167.1 51.3h0M162.6 50.9h0M164.1 53.3h0M162 35h0M167.5 42h0M160.9 56.2h0M165 55.8h0M164.9 58.1h0M162.3 57h0M167.2 53.5h0M165.9 51.8h0M164.6 35.2h0M166.2 54.9h0M164 58.5h0M171 40.8h0M163.1 43.2h0M166.8 52.3h0M161.1 39.8h0M167.2 48h0M169 45.2h0M166.1 51.2h0M165.2 48.8h0M168.2 43h0M162.1 59.9h0M167.5 46.3h0M166.7 49.1h0M166.8 51.3h0M161.5 36.6h0M169.1 43.9h0M164.9 49.7h0M167.2 46.3h0M166.3 41h0M165.1 43h0M165.9 54.3h0M167.1 41.4h0M166 39.2h0M167.6 50h0M163.9 41.1h0M167.5 47.8h0M162.8 53.6h0M165.7 45.3h0M166.7 49.7h0M166.2 54.9h0M165.4 48.4h0M167.9 49.5h0M165.3 40.1h0M169.1 49.2h0M164.3 60h0M166.8 40.9h0M163.9 58.4h0M167.8 55.9h0M167.2 42.1h0M163.8 36.9h0M167.2 38.6h0M163 54.7h0M168.9 43.1h0M168.9 56h0M160.1 39h0M165.8 39.2h0M163.2 34.3h0M167 58.7h0M165.7 53.9h0M164.3 56.8h0M164.4 38.3h0M167.4 45.5h0M163.1 44.9h0M161.6 36.7h0M167.5 49.1h0M164 42.2h0M149.1 51.5h0M167 54.8h0M159.8 49.1h0M156.9 46h0M166.7 54.7h0M157.6 47.9h0M165.1 53.9h0M165 54.3h0M159.1 50.6h0M156.2 56.8h0M166.7 52.4h0M161.8 44.1h0M148 58.7h0M157.2 34.1h0M158.9 56h0M160.9 42.1h0M158.4 48h0M156.4 49.4h0M161.5 51.3h0M158.2 59.2h0M142.3 52.3h0M154.5 61.5h0M156.1 59.1h0M158.4 52.4h0M165.1 58.5h0M153.7 43.6h0M154.8 59.3h0M162.6 53h0M164.8 43.8h0M156 61h0M153.9 57.3h0M155.7 59.7h0M160.9 36.8h0M161.6 57.7h0M171.4 58.7h0M165.8 50.7h0M164.1 45.5h0M157.3 53.2h0M165.9 51.5h0M154.3 57.7h0M163.6 48h0M158.4 55.1h0M153.2 53.9h0M148.6 60.2h0M164.5 45.2h0M143.5 54.3h0M146.3 49.4h0M153.3 51.9h0M154.2 42h0M147.2 66.6h0M171.7 41.8h0M158.5 60.6h0M156.2 48.7h0M157.1 53.1h0M173.1 39.3h0M163.8 54.8h0M174 47.8h0M147.5 63.7h0M162.3 57.2h0M164.3 57h0M150.4 49.3h0M152.2 54.9h0M158.7 50.6h0M167.7 52.4h0M166.3 39h0M169.3 60.9h0M153.2 61h0M148.6 52.8h0M159.2 36.8h0M162.5 64.7h0M161.3 61.1h0M167.5 51.8h0M166.9 70h0M151.5 51.8h0M159.9 48.6h0M151.2 46.6h0M164.2 45.7h0M167.7 48.2h0M120.6 62.8h0M120.3 64h0M120.4 43.3h0M120.3 45.6h0M120.5 73.4h0M120.3 61.4h0M120.5 46h0M120.4 54.3h0M120.4 52.4h0M120.7 37.5h0M120.4 51.4h0M120.5 45.7h0M120.5 82.2h0M120.7 44.1h0M120.4 55.8h0M120.3 38.7h0M120.5 58.1h0M120.4 49h0M120.5 60.8h0M120.3 58.8h0M120.3 45h0M120.3 45.4h0M120.3 82.2h0M120.3 37.3h0M120.4 52.8h0M120.6 38.8h0M120.3 65.6h0M120.4 52.5h0M120.4 62h0M120.7 59.4h0M120.8 75.4h0M120.3 70.5h0M120.3 70.6h0M157.2 85.2h0M151.4 85.2h0M127 85.3h0M141.8 85.4h0M126.5 85.2h0M157.8 85.2h0M148.4 85.4h0M148.6 85.2h0M120.7 85.2h0M123.7 85.1h0M160.7 85h0M125.3 85.2h0M143 85.1h0M135 85.2h0M128 85.2h0M151.3 85.2h0M135.9 85.1h0M132.4 85.2h0M130.9 84.9h0M160.2 85.1h0M139.3 85.1h0M157.3 85h0" stroke="#000" stroke-width="0.7" stroke-linecap="square" opacity="0.3" fill="none"/><path d="M132.1 74.2h0M142.7 66.1h0M129 71.7h0M136.3 74.4h0M138.9 64.7h0M137.3 70.5h0M130.3 71.9h0M131.9 74.8h0M139.7 72.1h0M129.9 75h0M130.4 77h0M133.8 69.7h0M142.7 72.8h0M126.3 81.4h0M137.6 70.8h0M129.8 77.1h0M134.2 73.3h0M135.8 73.1h0M134.1 76.2h0M120.4 77.5h0M131.4 72h0M142 67.7h0M122.7 77.3h0M131 72.3h0M130.1 73.6h0M138.7 70.1h0M136.6 71.4h0M142 69h0M137.6 73.9h0M144 70.9h0M128.8 72.2h0M149.5 61.5h0M129 71.9h0M136.4 71.7h0M121.8 82h0M132.8 76.4h0M140.6 69.6h0M140.2 67.8h0M134.8 72.1h0M136.2 73.2h0M135.4 71.1h0M138.4 69.8h0M138.9 68.4h0M130 80.6h0M127.8 78.1h0M145.4 69h0M137.3 71h0M133.6 71.1h0M138.6 72.4h0M124.7 72.4h0M153.1 62.8h0M127.4 73.7h0M140.9 72.7h0M128.9 74.7h0M137.7 69.9h0M137.1 72.4h0M140.2 72.3h0M135 70.9h0M126.8 76.5h0M128.5 74.7h0M133.5 73h0M140.6 70.4h0M137 75.5h0M136.9 76h0M135.1 73.4h0M128.9 75.8h0M130.8 78.1h0M137.5 74.7h0M136.8 69.1h0M121.1 79.3h0M131.2 73.3h0M136.9 71.8h0M133.6 74h0M130 72.8h0M133.1 76.1h0M138.3 70h0M138 72.5h0M130.7 79.4h0M131.8 71.5h0M135.7 72.7h0M144 71.1h0M132 72.7h0M132.8 72.9h0M129.2 75.2h0M143.2 70.6h0M131.9 71h0M140.1 72.9h0M127.2 77.8h0M146.3 69.5h0M138.7 70.5h0M131.8 75h0M142.9 70.3h0M139.8 69.8h0M135.1 76h0M136.5 74h0M131.2 71.9h0M136.1 72.6h0M136.6 71h0M127.7 76h0M138.9 73.8h0M123.9 78.1h0M133.2 78.8h0M136.1 69.2h0M139.7 72.2h0M141.8 71.6h0M130.8 71.4h0M136.2 71.6h0M130.5 70.3h0M139 71.7h0M142.3 69.7h0M132.7 71.3h0M131.7 71.8h0M132.6 71.6h0M140.6 69.1h0M137.1 71.3h0M130.8 69.6h0M131.8 72.9h0M139.8 67.1h0M139.5 71.7h0M134.2 72.6h0M140 70.4h0M146 60.9h0M131.1 79.2h0M135.2 67.4h0M123.8 73.3h0M130.7 73.9h0M127.7 75.8h0M132.4 75.7h0M126.6 76.4h0M136.1 73.7h0M127.5 76.1h0M127.6 77.9h0M138.5 73.4h0M134.6 76.7h0M129.9 70.8h0M130 74.7h0M140.2 68.3h0M131.6 75.5h0M127.9 78.2h0M136.3 69.1h0M133.3 71.5h0M129.5 75.8h0M133.5 75.3h0M133.2 69.3h0M136.3 73.4h0M134.9 68.9h0M129.5 72h0M132.1 72h0M140 70.7h0M149.7 66.1h0M125.6 76.6h0M144.5 66.6h0M136.1 74h0M143.8 70.7h0M132.8 70.6h0M131.9 75.4h0M125.4 77.6h0M142.4 65.7h0M138 68.9h0M130.4 75.7h0M138.1 70.5h0M137.8 72.6h0M143.7 65.6h0M130.6 78.8h0M138.6 68.8h0M139.7 73.9h0M132.8 74.4h0M139.1 68.7h0M129 77.4h0M134.7 73h0M130.7 76.1h0M140.2 69.8h0M134 70.7h0M129.7 71.9h0M135.1 72.7h0M129.6 72.1h0M134.1 74.4h0M140.7 65.2h0M136.6 74.8h0M129.5 74.2h0M139.8 70.4h0M128.5 73h0M131.5 74.1h0M136.5 73.6h0M130.1 76h0M136.6 70.8h0M138.8 70.3h0M136.6 70.1h0M129.1 74.1h0M145.1 68.2h0M135.5 70.3h0M134.5 69.8h0M136.4 71.5h0M131.9 75.1h0M126.1 73.9h0M137.5 68.5h0M127.7 79h0M138.6 71.7h0M133.5 70.4h0M137 71.3h0M130.7 74.9h0M137.1 71.3h0M139.8 71.2h0M128.6 76.8h0M133.8 76.7h0M139 72.9h0M128.9 75.6h0M136.6 70.2h0M137.8 69.3h0M131.5 77h0M129.8 74.2h0M148.4 68.6h0M132.9 74.3h0M129.5 72.6h0M132.8 75.4h0M136.8 69.6h0M122.9 81.6h0M131.5 76.1h0M140.3 72.7h0M130.3 72.4h0M131.4 75.2h0M135 69.7h0M136.5 69.5h0M134.1 72.2h0M139.8 76.1h0M129.5 71.8h0M127.9 76h0M136.3 73.1h0M127.7 73h0M135.5 75.7h0M140.9 71.9h0M138.9 73h0M132.8 76.4h0M139.9 72h0M131.8 73.1h0M132.7 77h0M126.3 75.8h0M134.7 69.4h0M136.7 74.1h0M137 68.5h0M133.7 70.7h0M120.6 81.8h0M136.9 68.1h0M141.7 71h0M148.4 66.7h0M143.6 67.3h0M135.2 77h0M141.1 73.4h0M133.4 73.1h0M138.7 68.8h0M137.5 67.8h0M122.6 77.6h0M140.2 74.7h0M134 73.3h0M133.7 73.8h0M142.5 70h0M137.4 72.1h0M134 74.8h0M144.7 64.8h0M144.5 62.1h0M125.4 78.9h0M134.1 78.3h0M136.5 67.8h0M135.3 73.3h0M140.6 68.1h0M124.3 74.6h0M141.4 72.1h0M124.8 78.5h0M130.9 74.9h0M138.9 69.8h0M132.3 69.1h0M136.2 75.6h0M131.6 75.1h0M139.9 75.8h0M130.6 76.7h0M133.1 73.3h0M133.1 69.2h0M137.8 69.3h0M136.8 73.7h0M132.1 70.2h0M129.2 77h0M143.8 72.4h0M127.8 76.5h0M134.8 70.9h0M132.6 71.3h0M135.1 71.3h0M134.5 76h0M128.9 75.7h0M130.5 73.8h0M134.2 72.8h0M135.1 70.5h0M137 68.6h0M127 74.3h0M142.9 71.3h0M133.4 77.9h0M135 68.7h0M136 69.4h0M125.6 71.7h0M135.9 72.9h0M129.2 76.9h0M137.5 72.5h0M137.7 69.2h0M137.2 72.5h0M130.8 73.7h0M127.5 76.7h0M128.5 76.8h0M134.9 72h0M137.8 70.2h0M144.7 68.4h0M127.4 74.9h0M138.3 74.9h0M132.7 77.2h0M136.8 74.6h0M130.3 72.8h0M132.4 73.8h0M127.7 73.1h0M139.8 72.5h0M133.8 71.8h0M139.1 66h0M139 70.9h0M138.8 71.4h0M140.9 70.8h0M135.3 74.3h0M129.2 75.9h0M135.2 68.4h0M138.1 71.9h0M139.8 70h0M142.5 70.9h0M134.9 64.4h0M135.2 72.9h0M133.7 70.4h0M139.4 69.1h0M134 73.7h0M140.8 68.4h0M129 76.4h0M133.9 68.3h0M131 74.6h0M125.4 80.1h0M128.1 77.9h0M128 74.9h0M130.2 73.9h0M122.8 76.8h0M139.9 71h0M144.5 62.8h0M142.8 68.6h0M125.4 73.7h0M131.5 74.4h0M133.1 77h0M133.3 71.6h0M128 73.1h0M133.6 72.6h0M130 75.7h0M129.6 73.8h0M141.6 71.6h0M133.8 77.2h0M133.1 76.2h0M135.1 71.2h0M133.9 72h0M135.6 71.8h0M132.6 71.2h0M137.9 73.1h0M128.4 75.7h0M140.5 71.6h0M132.2 79.9h0M130.5 76.4h0M139.2 76.6h0M132.1 77h0M136.5 69.4h0M133.9 70.9h0M136 72.3h0M123.8 79.6h0M137.4 73.7h0M134.1 70.8h0M139.6 72.5h0M123.2 81h0M137.5 70h0M128.5 74.7h0M141 69.9h0M138.4 69.6h0M125.8 75.1h0M147.7 68h0M138.9 71.7h0M134.1 72.3h0M132.7 74.4h0M133.5 73.2h0M137.5 72.5h0M136.9 71.9h0M138.1 73.6h0M143 71.7h0M131 75.3h0M137 76h0M144.2 68.8h0M147.4 69.4h0M128.6 77.4h0M135.9 71h0M143.4 69.5h0M125.7 75h0M134.5 75.5h0M137.9 73.3h0M134.3 75.9h0M133.8 74.8h0M132.6 72.7h0M135.6 69.3h0M135.4 73.4h0M127.5 76h0M132.5 71.3h0M125 80.2h0M134.8 79.3h0M146.6 61.8h0M138.5 69.9h0M136.4 68.5h0M143.6 76.1h0M126.6 73h0M132.1 73.5h0M136.4 70.5h0M135.4 75.5h0M137.8 73.5h0M133.5 72h0M132.6 72.6h0M126.3 77.3h0M133.6 72.4h0M142.3 74.5h0M130.4 76.3h0M129.2 78h0M132.5 70h0M129 77.2h0M130.7 74.4h0M148.1 63.6h0M134.6 64.9h0M123.9 79h0M136.7 75.5h0M129.2 69.6h0M138.8 66h0M135.1 76.6h0M129.6 75.4h0M128.7 78.8h0M139.1 66.3h0M132.2 72.4h0M139.8 72.5h0M136.6 73.7h0M137.6 71.9h0M132.9 71.7h0M136.8 69.6h0M136.7 69.8h0M134.8 74.9h0M140.9 69.6h0M133.9 73.2h0M137.4 69.3h0M149.4 65h0M135.9 73.8h0M137.2 71.4h0M131.3 71.1h0M130.1 74.8h0M133.5 79.5h0M124.3 83.1h0M136.5 70.8h0M135 71.9h0M130.1 70.5h0M130.8 71.5h0M135.3 70.9h0M129.8 74.5h0M131.8 74.9h0M131.3 71.1h0M134.6 69.1h0M122.4 75.5h0M136.2 68.8h0M130.3 79.8h0M133 74.2h0M131.3 77.6h0M141.6 67.5h0M125.3 72.4h0M134.5 69.9h0M125.3 78.3h0M133.8 74.1h0M125.4 74.1h0M136.1 75.5h0M136.6 70.7h0M139.9 72h0M129.3 80.4h0M140.9 69.3h0M135.4 68.8h0M144.1 73.5h0M135.9 72.7h0M133.5 73.3h0M128.6 75.9h0M140 69.1h0M139.1 66.8h0M130.4 73.7h0M133.3 75.9h0M128.7 77.7h0M129.3 75.2h0M136.9 73.5h0M137.1 71.3h0M140.7 70.3h0M137.9 67.6h0M145 66.2h0M127.2 74.7h0M140.3 69.8h0M135.3 75.6h0M141.7 70.1h0M130.5 76.7h0M132.5 74.3h0M131.5 69.7h0M131.8 73.2h0M123.7 75.2h0M144.2 67.3h0M146.7 67.8h0M131.4 72.5h0M143.2 65.9h0M137.5 69.9h0M129 74.3h0M133.3 77.2h0M130 73.4h0M120.9 78h0M121.7 76.9h0M141.1 69.7h0M125 76.2h0M142.3 68h0M126.4 77.2h0M125.2 76.5h0M135.4 72h0M131.2 78.8h0M144.8 68.9h0M143.1 68.9h0M135.1 70.5h0M131.9 75.1h0M131.3 71.3h0M129.8 73.6h0M120.7 76.4h0M134.7 66.5h0M135.8 74.9h0M131 75.9h0M135.1 70.8h0M124.4 76.2h0M135.5 71.9h0M134.8 75.3h0M137.5 70.5h0M136.8 69.3h0M120.9 77.8h0M139.7 70.8h0M136.7 72.6h0M132.9 77h0M131.6 73.5h0M135.6 69.3h0M142.7 72h0M135.6 70.5h0M143.8 66.2h0M134.6 72.7h0M140.5 66.1h0M143.7 70.3h0M134.3 69.2h0M140.4 63.4h0M130.9 78.5h0M138.6 69.5h0M129.5 71.7h0M137.9 68.3h0M134.5 74.4h0M131.3 73.9h0M140.7 65.4h0M136.5 75.4h0M132.7 72.4h0M134.6 68.4h0M134 73.9h0M134.2 76.9h0M124.3 78.7h0M136.4 72.6h0M129.1 79.5h0M136 72.6h0M134.1 71.7h0M132.9 72.5h0M136.1 75.4h0M138 69h0M133.2 73.5h0M132.8 75h0M135.2 68.4h0M134.9 69.5h0M133 72.1h0M131.4 75.6h0M134.2 76.7h0M136.5 73.7h0M134.1 77.6h0M129.3 73.1h0M126.4 80.6h0M140.1 68.8h0M123 76.5h0M135.1 74.2h0M140.7 71.2h0M134.3 71.3h0M128.9 75.7h0M139.3 65.7h0M132.7 74.4h0M126.9 73.4h0M141.5 67.4h0M133.1 76.1h0M134.1 75.4h0M122.2 79.9h0M144.4 64.4h0M144.7 71.6h0M125.3 73.4h0M120.7 83.6h0M146.1 67.5h0M136 69.7h0M135.8 70.4h0M133.5 70.3h0M131.6 75h0M135.9 68.1h0M149.7 68.5h0M136.5 73.9h0M128.5 77.3h0M143.9 64h0M130 73.1h0M136.5 72.2h0M126.6 76.2h0M130.3 75.9h0M131.7 74.8h0M141.3 67.9h0M128.2 75.1h0M135.4 74.3h0M128.2 75.9h0M141.8 68.4h0M135.3 73h0M138.2 72.6h0M134.9 67.3h0M137.1 75.6h0M128.1 76.9h0M132.7 73.3h0M143.1 69.7h0M131.4 71.9h0M143.1 66h0M134.2 73.6h0M125.9 75.8h0M135.1 73h0M133 73.4h0M132.4 70.2h0M134.4 75.3h0M135.5 73.6h0M140.7 73.6h0M126 78h0M129.8 78.6h0M126.6 74.6h0M129.4 77.2h0M142.8 74.6h0M130 72.2h0M132.4 72.8h0M133 74.9h0M134.9 72.1h0M124 79.6h0M134.8 68.6h0M133.8 74.6h0M132.3 71.7h0M132.7 71.3h0M133.7 69.8h0M138.7 63.9h0M124 82.9h0M146.7 66.7h0M142 69.4h0M127.9 78.7h0M133.5 74.6h0M134.8 69.4h0M133.6 70.2h0M144.7 68.4h0M136.9 74.1h0M139.1 70.3h0M128 72.3h0M129.5 73.1h0M132.1 70.2h0M137.7 73.9h0M125.8 74.7h0M137 73.4h0M133.4 74.1h0M130.3 78h0M131 73.7h0M133.7 71.8h0M134 71.5h0M138.6 71.6h0M129.8 74.8h0M143.3 64.2h0M134.1 76.8h0M130.8 71.5h0M136.5 77.6h0M135.4 72h0M132.8 75.4h0M137.5 73.6h0M135.4 71.8h0M136.4 69.8h0M147.2 66.6h0M134.6 74.2h0M139.3 71.7h0M137.6 72.1h0M135.8 75.2h0M130.1 75.6h0M124.2 77.2h0M132.7 71.3h0M142.7 66.3h0M127.9 74.9h0M133.5 74.3h0M139.7 67.7h0M146.7 69.6h0M135.5 71.7h0M132.5 71.9h0M123.2 77.3h0M131.4 76.5h0M132 72.5h0M129.4 73.3h0M138.2 70.5h0M133.8 72.3h0M134.5 73.8h0M139.8 72.4h0M140.9 73.3h0M142 70.7h0M136.1 70.8h0M138.2 74.8h0M121.5 80.3h0M132.2 75.9h0M139.5 69.5h0M146.2 65.6h0M138 73.8h0M137.1 70.9h0M139 66.8h0M133.1 70h0M148 69.4h0M143.8 70.5h0M132.8 71.3h0M131.1 72h0M134.2 72h0M139.4 69.1h0M135.6 69.4h0M135.6 70.1h0M133.2 73.1h0M132.1 73.9h0M138.9 67.5h0M121.5 82.2h0M147.6 63.9h0M143.2 70.1h0M132 70.5h0M148 66.3h0M127.7 77.3h0M135.6 70.2h0M148 66.7h0M134.6 73.3h0M149.4 71.1h0M133.6 71.4h0M143.8 72.1h0M129.4 72.4h0M139.4 72h0M134.9 72.3h0M132.9 73.8h0M137.3 71.2h0M144.8 66h0M134 72.1h0M131.1 71.6h0M131.2 74.3h0M123.8 77.7h0M144.1 71.4h0M130.8 75.4h0M136 74.5h0M128.9 72.9h0M139.2 68.3h0M134.9 72.8h0M132.8 75.3h0M139.6 71.8h0M147.9 67h0M122.7 79.1h0M129.9 71.2h0M133.9 70.8h0M133.3 71.5h0M126.6 75.5h0M134.5 71.1h0M129.9 78.7h0M137.4 64.7h0M137.9 72h0M142.9 70.8h0M132.8 69.9h0M134.6 69.6h0M121.4 77.2h0M128.2 72.9h0M128.1 74.4h0M133.5 69.9h0M139.5 71.9h0M129.5 76.4h0M129 74.5h0M130.4 76.4h0M125.6 81.9h0M135.5 72.3h0M132.5 71.2h0M127.5 77.2h0M132.1 75.2h0M146.6 66.9h0M138.7 69.7h0M129.6 75.6h0M146.9 68.2h0M136.1 70.2h0M135.8 75.8h0M135.3 69.5h0M131.7 75.2h0M136.1 67.1h0M135.9 70.9h0M132 71.2h0M136.1 72.5h0M133.9 72h0M136.3 68.3h0M122.6 79.5h0M141.4 67.7h0M141.6 70.9h0M130.9 75.3h0M142.4 66.9h0M138.1 72h0M131.4 76.9h0M132.6 75.9h0M135.4 70.7h0M132.6 71.4h0M147.3 64h0M132 76.9h0M139.8 71.5h0M127.5 73.7h0M133.9 73.5h0M140.8 71.6h0M137.6 72.9h0M123.7 74.5h0M129.9 74.7h0M130 73.9h0M134.6 71.1h0M135.1 74.9h0M137.1 70.4h0M136.1 73h0M136.6 73.7h0M127.7 78.6h0M129.7 76.7h0M127.5 78.8h0M139 68.8h0M138.1 69.9h0M141.4 68.6h0M131.2 72.1h0M134.6 73.9h0M138.1 69.3h0M131.4 71.6h0M130.4 74.4h0M137.7 73h0M130.3 71.9h0M152.5 77h0M155.3 73.5h0M159.4 70.1h0M145.1 80.7h0M156.6 72.9h0M157 72.9h0M158.6 69.9h0M159.4 70.5h0M153.3 75.1h0M153.9 77h0M153.2 75.5h0M154.1 74.2h0M149.7 77.7h0M161 69.8h0M154.2 76.1h0M148.1 77.5h0M153.6 74.4h0M159.5 71.9h0M156.4 72.3h0M153.2 75.7h0M147.6 80h0M149 77.8h0M155.9 72.2h0M152.5 74.9h0M150.8 77.3h0M154.4 73.7h0M157.1 71.6h0M153.7 76.8h0M160.1 69.7h0M157.1 72h0M158.7 70.7h0M163.4 67.7h0M160.6 71h0M158.2 71.3h0M155 74.1h0M152.2 76.2h0M155 72.5h0M163.9 66.3h0M161.7 70.8h0M160 69h0M153.3 75h0M155 74.5h0M158.7 72.4h0M153.5 76.7h0M148.3 78.1h0M163.7 68.1h0M149.8 77.7h0M157.3 73.7h0M150.7 78.1h0M153.8 74.4h0M154.6 75.9h0M162.2 68.3h0M149.2 77.8h0M154.2 75.5h0M149 78.7h0M160.9 69.7h0M156.4 74.2h0M156.2 73.6h0M158.2 73.7h0M151 78.7h0M155.2 72.7h0M155.4 73.4h0M161.3 68.2h0M160.4 70.4h0M149.6 78.1h0M154.9 76.3h0M154.6 73.8h0M158.7 68.7h0M154.5 75.8h0M160.8 67.4h0M163.9 67.7h0M157.1 74.2h0M153.5 73.7h0M161.8 67.3h0M166.9 64.4h0M149.3 77.4h0M153.4 74h0M150.8 77h0M157.1 73h0M159.8 68.2h0M153.1 73.7h0M150.3 77.4h0M155.7 73.1h0M145.8 82.1h0M157.9 72.7h0M159.1 71h0M156.4 72.4h0M157.4 70h0M157.9 70.8h0M159.6 69.7h0M146.3 81.4h0M149.5 77.6h0M156.4 72.8h0M156.1 73.5h0M157.1 71.4h0M162.1 67.8h0M159.3 72.1h0M154.4 75.5h0M163.8 67.9h0M156.6 71.1h0M154.1 73.5h0M159 71.4h0M154.9 72.4h0M158.4 71.7h0M155.3 73.6h0M160.7 69.7h0M162.9 69.4h0M161.6 70h0M156.6 71.6h0M142.5 82.6h0M152.5 75h0M159.3 70.3h0M159.5 70h0M152.9 75.9h0M149.9 75.9h0M154.6 73.4h0M162.9 67.5h0M147.5 79.5h0M161 70h0M156.7 70.5h0M155.1 73.3h0M152.7 75.7h0M152.3 75.2h0M151 77.3h0M147.6 78.3h0M155.7 74.1h0M157.1 72.7h0M160.7 67.3h0M159.3 71.2h0M162.5 66.6h0M169.2 62.2h0M155.7 73.7h0M156.7 73.8h0M159.3 70.5h0M149.7 78.2h0M157.5 72.3h0M155.3 74h0M157.6 72.1h0M157.7 69.5h0M163.8 67.4h0M158.8 69.4h0M154.5 76.2h0M157.3 72.2h0M158.8 70.6h0M161.8 67.5h0M157.9 71.6h0M154.3 73.8h0M152 74.6h0M157.2 73.4h0M159.2 72.8h0M156.8 38.9h0M157.9 37.3h0M160.4 37.1h0M153.2 41.5h0M156.5 38.2h0M157.9 37.9h0M156.7 39.4h0M155.9 39.3h0M158.5 37.5h0M159 37.9h0M154.7 40.9h0M160.2 36.1h0M157.3 38.8h0M158.6 37.6h0M156.1 39.8h0M155.8 39.9h0M156 38.1h0M156.9 39.1h0M158.2 37.7h0M154.3 40.1h0M152.1 43h0M160 37.2h0M161.1 34.4h0M158.4 36.9h0M152.4 42.5h0M156 40h0M158.9 37.3h0M161.4 36.3h0M156.7 39.7h0M160.8 35.4h0M156.2 39.6h0M156.1 40h0M159.5 36.4h0M159.1 36.9h0M162.4 34.7h0M161.3 35.7h0M155.4 39.8h0M158.2 37.1h0M160.3 35.9h0M162.2 33.8h0M154.9 41.3h0M156.2 38.4h0M161 35.6h0M157.1 38.2h0M158 38.1h0M156 39.5h0M158.4 37h0M161.2 35.2h0M155.9 39.9h0M154.4 41.4h0M160 35.1h0M157 38.9h0M154.8 39.6h0M154 40.2h0M158 37h0M157.6 37.9h0M160.5 35.5h0M158.6 37.7h0M155.6 39.4h0M158.9 36.9h0M154.3 41.1h0M159 36.8h0M159.9 35.6h0M151.5 42.7h0M159.8 35.6h0M156.5 39.2h0M158.4 38.7h0M160.2 36.8h0M156.1 40.1h0M158.7 36.1h0M156.8 38.2h0M150 44.2h0M160 35.8h0M162.2 35.1h0M158.4 37.7h0M156.1 39.1h0M156.7 37.9h0M160.6 37.1h0M160.8 35.6h0M161.5 34.8h0M152.8 42.5h0M160.5 35.4h0M159.4 37.1h0M156.2 38.8h0M158.9 37.9h0M159.3 37.5h0M160.7 36.3h0M159.3 38.5h0M160.2 36.7h0M156 39.2h0M154.7 40h0M155.9 39.4h0M152.7 42.6h0M155.7 39.5h0M155.3 41.5h0M160 36.5h0M154.6 40.7h0M158.4 37.6h0M158.4 37h0M156.9 39.6h0M158.2 37.9h0M158.6 36.3h0M158.2 38.4h0M159.2 37.2h0M153.1 41.9h0M152.4 42.6h0M160.4 35.9h0M158.5 37.6h0M156.4 38.9h0M157.8 38h0M154.9 41.1h0M156.1 39.3h0M156.3 40h0M156.3 38.1h0M156.5 38.8h0M152.1 43.3h0M158.5 38.1h0M150.4 42.7h0M161 35.6h0M154.4 41.2h0M157.7 37.9h0M155.3 39.9h0M156.8 37.8h0M156.1 39.7h0M157 37.7h0M153.2 41.5h0M158.9 37h0M155 39.3h0M157.4 39.9h0M155.6 41.6h0M151 42.8h0M160 35.4h0M155.6 40.5h0M153.1 41.4h0M153 42.9h0M158.2 38.6h0M158.3 38h0M157.1 38.9h0M153.9 40.9h0M154.1 42h0M153.5 41.4h0M159.2 37.2h0M158.7 37.4h0M157.8 37.8h0M155 40h0M154.2 39.8h0M159.4 35.1h0M159.5 36.5h0M161.3 35.1h0M157.1 39.3h0M152.4 42.4h0M161.8 35.6h0M155.2 39.4h0M155.4 40.5h0M154.3 41.7h0M153.8 41.9h0M157.8 37.8h0M163.1 33.9h0M159.4 38h0M155.9 40h0M159.8 36.5h0M156.5 39.1h0M159.2 36.9h0M159.8 35.6h0M157.5 39.1h0M154.1 41.7h0M157 39.4h0M155.4 40.1h0M153.8 42h0M122 85.1h0M132 85.3h0M134.2 85.1h0M128.8 85.1h0M129.9 85h0M132 85h0M133.6 85.1h0M125.2 85.3h0M123.8 85.2h0M133.8 85.3h0M129.8 85.3h0M121.9 85.2h0M125.1 85.1h0M132.6 85.1h0M133 85.2h0M121 85.1h0M133.1 85.2h0" stroke="#000" stroke-width="0.8" stroke-linecap="square" opacity="0.5" fill="none"/></g><text x="129.7" y="51.5" font-family="Liberation Serif,serif" font-size="4.2" class="lb" fill="#777" text-anchor="middle">54.6</text><path d="M129.7 54.4V58.0" stroke="#333" stroke-width="1" fill="none"/><path d="M129.7 60.4l-1.4 -3h2.8z" fill="#000"/>
<path d="M200.2 32.8H261.4V86.6H200.2Z" fill="none" stroke="#787878" stroke-width=".9"/><path d="M223.3 32.8V86.6M200.2 63.8H261.4" fill="none" stroke="#909090" stroke-width=".9"/><path d="M196.3 85.8l1.2 1.9M199.2 90.1l1.8 -1.2M196.3 72.3l1.2 1.9M214.5 90.1l1.8 -1.2M196.3 58.9l1.2 1.9M229.8 90.1l1.8 -1.2M196.3 45.5l1.2 1.9M245.1 90.1l1.8 -1.2M196.3 32l1.2 1.9M260.4 90.1l1.8 -1.2" stroke="#3a3a3a" stroke-width=".95" fill="none"/><text x="230.2" y="93" font-family="Liberation Sans,sans-serif" class="ns" font-size="2.1" font-weight="bold" fill="#333" text-anchor="middle">YO-PRO</text><g clip-path="url(#c2)"><clipPath id="c2"><rect x="200.2" y="32.8" width="61.2" height="53.8"/></clipPath><ellipse rx="13" ry="7" transform="translate(216.8 74) rotate(-43)" fill="url(#hg)" opacity="0.24"/><ellipse rx="13" ry="5" transform="translate(238.5 73.5) rotate(-33)" fill="url(#hg)" opacity="0.16"/><ellipse rx="14" ry="8" transform="translate(241 50) rotate(-60)" fill="url(#hg)" opacity="0.09"/></g><g filter="url(#bl)"><path d="M220.8 66.5h0M214 77.7h0M214.4 66.1h0M221.8 78.1h0M214.5 79.8h0M220.8 70.8h0M218.5 75.4h0M217.7 63.3h0M216.6 81.5h0M217.5 79h0M225.3 75.4h0M209.7 80h0M215.9 69.6h0M209 81.8h0M210.7 80.7h0M217.1 76.2h0M225 78.2h0M215.7 74.5h0M222.1 74.5h0M217.9 72h0M215.8 62.8h0M210.9 68.3h0M213.7 81.2h0M209.5 73.4h0M210.7 71.5h0M215.5 82.1h0M202.8 80.5h0M216.4 80h0M219.4 65.7h0M214.7 73.6h0M220.9 73.4h0M215.6 74.2h0M214.4 74.3h0M219.9 74.5h0M208 80.1h0M219.8 70.2h0M227.8 68.3h0M204.4 80.1h0M215.1 73.3h0M215.7 77.5h0M213.4 78.3h0M220.2 63.5h0M233.2 75.9h0M221.2 68.9h0M221.6 61.7h0M214.2 72.2h0M208 76.6h0M215.9 79.2h0M220 72.4h0M216.2 70.9h0M212.9 73h0M214 73h0M225 69.8h0M218.2 75.8h0M211.6 80.1h0M220.7 65.9h0M212.7 79.8h0M213.9 75.3h0M217.6 79.1h0M222.1 66.8h0M225.9 77h0M216.3 71.4h0M216.3 75.3h0M215.5 72.1h0M217.4 67.1h0M215 69.9h0M217.5 74.6h0M215.9 74.4h0M207.6 81.7h0M222.1 72.7h0M213.6 76.3h0M221.9 75.2h0M219.3 74h0M224.2 77.5h0M218.1 71.4h0M211.1 77.3h0M221 70.8h0M215.8 74.2h0M220.4 69.7h0M214.1 85.5h0M219.4 73.4h0M212.8 78.4h0M216.7 79.5h0M221.1 68.5h0M222.2 70.2h0M218.2 68.9h0M221 71.3h0M219.6 75.6h0M216.7 80.2h0M215.8 73.6h0M225.9 72.1h0M220.4 65h0M223.4 74.1h0M225.2 69.3h0M222.8 76.9h0M217.9 68.8h0M209.6 70h0M220.6 66.4h0M211.8 75.8h0M214.5 73.9h0M215 76.2h0M225 70h0M214.4 77.6h0M220.2 69.6h0M210.4 78.7h0M229.9 75h0M212.6 68.4h0M218.1 82.3h0M224.2 61.3h0M219.3 74h0M219.2 72.7h0M215.6 73.7h0M212.6 78.9h0M215.9 73.5h0M208.9 70.2h0M217.5 77.8h0M214.6 72.2h0M220.4 58.2h0M220.3 75.8h0M223.1 72.7h0M207.6 68.7h0M216.4 66.5h0M213.4 81.6h0M221.7 72.1h0M226.4 59h0M221.9 73.9h0M212.7 81.4h0M212.5 76h0M219.2 68.4h0M214.6 69h0M222.6 67.9h0M207.3 78.8h0M217.7 74.5h0M216.7 67.7h0M212.7 69.7h0M224.4 75.7h0M204.8 76.8h0M205.6 81.3h0M220.2 71.8h0M208.5 79.5h0M215.9 76h0M217.7 72h0M218.6 70.2h0M212 72.6h0M219.2 75.8h0M219.9 76.7h0M218.5 78h0M217.4 75.7h0M213.8 73.4h0M221 68.6h0M219.7 78.4h0M219.5 68.9h0M214.3 72.3h0M221.1 69.9h0M217.3 73.6h0M209.1 79.5h0M217.9 77.5h0M213.9 79.1h0M221.8 74.6h0M215.7 74.1h0M218.5 70h0M213.5 77.6h0M212.3 74.1h0M211.1 77.1h0M214.6 76h0M221.9 68.7h0M215.8 82.6h0M218.1 80.4h0M215 76.7h0M212.3 76.6h0M228 76.6h0M221.2 68h0M216.4 68.1h0M217 76h0M213.2 75.9h0M214 70.6h0M222.3 76.6h0M222 68.1h0M221.8 68.4h0M222.7 69h0M214 84.7h0M203.1 85.2h0M221.3 73.6h0M218.5 72.5h0M215.9 73.7h0M220.1 75.7h0M219.3 70.1h0M224.9 66.7h0M214.7 73.6h0M224.1 63.3h0M223.9 64.1h0M208.2 80h0M224.3 71.6h0M215.6 78.4h0M216.8 75.7h0M216.5 67.2h0M223.1 68.5h0M223.6 68.5h0M228.3 73.3h0M216.7 79.1h0M220.8 80h0M221.2 70.1h0M221.8 76.8h0M213 84h0M216.6 76.3h0M215 76.2h0M222.6 73.1h0M212.9 76.2h0M221.9 74.2h0M212.1 80.1h0M214.4 74.1h0M218.7 72.3h0M215.7 68.3h0M221.1 73.3h0M217.4 83h0M211.8 82.4h0M218.4 73.2h0M221.1 76.3h0M208.5 84.8h0M217.1 67.7h0M229.7 61.8h0M217.8 71.8h0M215.2 77h0M210.4 76.5h0M219 72.9h0M210.5 81.3h0M213.4 80h0M208.9 76.1h0M213.2 72.9h0M225.7 73.8h0M220.5 71.3h0M222.1 74.7h0M214.4 74.8h0M209.9 79.9h0M215.2 73.9h0M214.4 72.6h0M215.6 76.7h0M218.1 67.6h0M216.7 69.1h0M222.2 71.8h0M219.3 72.6h0M216.8 74h0M216.1 75.5h0M211.3 65.3h0M222 70h0M220.4 70.1h0M220.2 68.7h0M208.9 74.3h0M216.7 74.3h0M213.7 81.8h0M221.6 68.4h0M213.7 79.2h0M215.7 74.5h0M224.7 60.8h0M217.4 73.5h0M216.8 76.3h0M213.6 68h0M203.5 83.3h0M218.7 75.1h0M214.3 79.7h0M225.3 75.7h0M215 72h0M219.2 75.4h0M212.9 81.7h0M213.4 66.3h0M220.5 72h0M209.9 82.4h0M217.3 69.1h0M213.2 82.8h0M201.1 77.7h0M220.7 81.5h0M206.9 84h0M210.4 75.5h0M217.4 72h0M218.2 77.8h0M216.9 71.3h0M246.9 67.1h0M239.1 74.7h0M242 69.8h0M244.2 73.1h0M234.9 71.9h0M250.4 67.4h0M234.7 73.5h0M244.6 67.8h0M238.2 72.3h0M236.8 79.5h0M232.3 73.1h0M237.6 73.4h0M239.4 72.2h0M240 75.2h0M235.5 75.5h0M235.5 76.2h0M236.5 77.3h0M249.3 70.1h0M243.1 70.9h0M242.9 68.6h0M243.5 69.4h0M230.1 78.5h0M230.2 82.1h0M232.2 77.4h0M244.5 63.8h0M247.7 67.9h0M237 70.8h0M231 81.2h0M244 72.8h0M245.3 75h0M238.6 70.4h0M238.7 69.6h0M234.8 74h0M237.8 69.5h0M243.7 70.1h0M230.4 81.9h0M240.3 77.6h0M240.2 70.9h0M236.6 72.2h0M238.9 76.1h0M238.2 69.3h0M232.4 80.6h0M239.3 71.1h0M242.6 68h0M227.6 75.9h0M241.8 74.8h0M238 73.3h0M233.1 79.4h0M231.5 79.2h0M239.6 71.5h0M236.3 72.4h0M245.8 70.5h0M244.8 71.9h0M243.4 73.2h0M256.7 69.5h0M241.8 74.6h0M229.2 76.7h0M249.4 70.8h0M237 75.4h0M230.9 80.3h0M233.3 80.7h0M236.3 80.2h0M248.7 64.5h0M245.5 70.2h0M231.8 77.3h0M243.7 73.9h0M242.1 72.5h0M228 85.7h0M232.2 73.6h0M245.1 67.1h0M236.4 71.4h0M239.6 66.7h0M254.2 63.4h0M248.3 68h0M249.7 68.5h0M235.5 76.1h0M240.4 70.3h0M243.1 68.8h0M231.2 77.1h0M237.6 71.2h0M233.6 76.5h0M237.4 75.5h0M239.3 75.5h0M236.4 73.3h0M251.9 71.7h0M236.2 73.9h0M244.2 65.9h0M223 78.6h0M234.7 75.6h0M241.5 71.7h0M230.6 79.5h0M239.3 71.9h0M241.5 72.2h0M230.7 84.1h0M238.5 72.6h0M234.5 75.1h0M240.7 74.8h0M239.8 75.2h0M240.8 74.8h0M230.3 76.7h0M236.6 72.2h0M247.4 68.4h0M237.6 76h0M226.7 85.2h0M228.5 77.1h0M247.1 69h0M231.7 72.1h0M238.2 72.7h0M239.7 72.7h0M237.9 70.4h0M251.7 61.7h0M237.9 72.6h0M235.9 73.9h0M235.7 76.1h0M238.2 74.6h0M235.5 75.1h0M241.4 77h0M237.9 77.8h0M243.3 67.1h0M242.1 64.7h0M239.5 74.8h0M253.4 63.6h0M234.7 82.3h0M243.1 71.6h0M240.1 71.4h0M240.8 70.3h0M238.2 72.1h0M229.7 79.2h0M225 80h0M249.3 67.6h0M242 68.2h0M242.1 76.7h0M234.2 77.3h0M237.8 68.8h0M240.5 68.9h0M240 72.6h0M236.6 74.4h0M235.4 74.4h0M238.4 72.9h0M235.8 73.2h0M246.1 68.5h0M225.2 81.5h0M238.5 81.6h0M238.4 74.4h0M238.6 76.3h0M236.2 74.4h0M246.7 65.1h0M233.7 67.3h0M248.9 68.3h0M240.4 70.7h0M235.2 76.7h0M244.5 68h0M240 70.4h0M228.2 77.1h0M236.5 76.8h0M247.6 69.8h0M235.2 76.7h0M237.1 76.9h0M246.2 71.4h0M242 73h0M236.4 72.8h0M244.6 63.5h0M234.9 80.7h0M231.3 75.3h0M245.6 66.3h0M226.4 75.5h0M235.6 75.8h0M249.3 66.7h0M225.6 83.1h0M243.4 69.9h0M243 74.4h0M241.7 71.6h0M244.1 71.1h0M234.7 76.7h0M232 72.9h0M241.1 68.4h0M236.3 69.4h0M236.5 72.1h0M226.1 78.9h0M240 75.5h0M247.7 67.8h0M245 71.5h0M240.4 73.7h0M242.3 69.3h0M248.5 65.7h0M231.1 76.5h0M229.2 75h0M243.2 74h0M238.9 75.2h0M243.3 75.7h0M244.4 68.3h0M241.2 73.5h0M237.5 76.9h0M243.5 67.8h0M229.2 79.8h0M242.6 73.5h0M236.4 75.3h0M237.2 78.1h0M233.6 75.2h0M247.1 69.7h0M238.9 73.4h0M248.6 65.8h0M243.4 69.2h0M237.4 68.2h0M237 73.9h0M238.9 76.2h0M231.1 79.8h0M241.3 73.7h0M245.4 69.4h0M242.8 72.2h0M251.6 65.7h0M241.3 75.3h0M236.6 74.3h0M226.2 79.9h0M241.2 76.1h0M235.3 71.6h0M234.8 78.8h0M244.8 37.7h0M241.8 42.1h0M241.4 40.7h0M243.4 39.8h0M238.3 41.2h0M243.6 35.9h0M240.8 40.7h0M239.8 40.6h0M240.1 40.9h0M240.3 41.8h0M237.4 40.7h0M240 42.6h0M237.8 41.5h0M240.6 41.7h0M239.9 40.7h0M237.8 43.2h0M234.3 44.8h0M240.9 41.5h0M237.6 44.9h0M242 39.5h0M242.9 40h0M241.4 38.4h0M244.9 39.5h0M244 36.6h0M239.7 43.6h0M242.6 42.3h0M243.8 39.5h0M241 42.9h0M241.1 39h0M239.3 41.7h0M240.8 40.6h0M238.9 39.2h0M238.9 42.7h0M239 41.6h0M243.1 38.7h0M237.6 43.5h0M241 39.6h0M245.2 38.7h0M245.9 38.5h0M247.2 36.1h0M242.2 38.4h0M244.5 36.5h0M240.2 40.4h0M242.9 39.5h0M245.4 38.3h0M238.2 39.9h0M240.1 42.2h0M243.8 36.8h0M242 39.9h0M244.1 37.9h0M241.7 39.3h0M237 43.2h0M239.9 39.6h0M247.4 37.2h0M246.7 37h0M237.8 42.4h0M243.5 40.9h0M241.3 39.5h0M243.8 37.9h0M242.5 38.8h0M240.6 41.6h0M243.1 39.2h0M244.1 39.5h0M240.4 41.2h0M244.5 37.1h0M239.4 41.8h0M237.2 45.1h0M239.1 42.8h0M243.7 38h0M242 39.5h0M239.9 43.2h0M235.3 55.6h0M240 40.8h0M238 45h0M236.3 59.7h0M239.4 45.2h0M239.2 44.1h0M234.9 60.4h0M239.8 42.1h0M234.1 54.6h0M234 52.6h0M232.4 52.7h0M232 58.6h0M241 42.8h0M238 43.2h0M237.1 46.8h0M245.2 41.9h0M233.6 55.8h0M242.6 39.3h0M233.2 52.6h0M231.9 52.3h0M235.3 54.3h0M239.6 43.5h0M239.9 38.6h0M245 39.1h0M234.8 54.8h0M241.6 38.2h0M238.9 44.1h0M237.8 42.9h0M237.9 40.9h0M232.4 57.3h0M238 42.5h0M233.8 47.3h0M245.8 35.7h0M236.5 51.5h0M232.9 51.9h0M243.7 40.2h0M233.7 51.9h0M239.7 40.6h0M231.1 56.1h0M232.5 57.7h0M240.3 47.7h0M235.1 49.6h0M241.2 40.6h0M233.7 49.2h0M235.5 52.3h0M233.3 47.7h0M239.4 43h0M236.4 49.7h0M232.4 55.8h0M234.4 52.5h0M234.8 52.8h0M234.9 49.2h0M238.3 46.6h0M235.2 59.9h0M230.5 55.7h0M240.8 39.2h0M232.2 53.1h0M234.9 56.6h0M242.3 40.5h0M235.3 55h0M233.5 49.6h0M235.5 48.3h0M236 54.2h0M239.9 44h0M234.6 46h0M235.5 44.9h0M235.6 52.1h0M241.6 42.3h0M235 50.2h0M232.8 58.2h0M232.9 52.4h0M235.8 45.2h0M236.1 40.1h0M234.6 49h0M238 45.5h0M235.8 48.9h0M242.8 41.5h0M232.1 53.4h0M232.6 53.2h0M243.1 38.4h0M241 43.9h0M242 40.3h0M240.5 39h0M239.2 43h0M232.7 52h0M241.1 40.8h0M240.3 39.5h0M233.3 54.9h0M235.6 48.7h0M241.4 41.4h0M237.7 46.7h0M234.6 53.1h0M235.5 47.2h0M241.9 39.8h0M237.3 42.6h0M246.7 36.2h0M237.5 55.9h0M238.7 42.8h0M236.4 49.7h0M244.4 35.8h0M234.5 53.2h0M232 52.5h0M233.6 48.5h0M233 47.3h0M240.6 37.7h0M234.7 53.1h0M233.5 52.9h0M238 44.5h0M239.5 40.8h0M245.4 34.1h0M244.6 39.4h0M235.8 45.4h0M234.3 48.9h0M238.4 46.3h0M243.5 40.3h0M239.3 40.6h0M232.9 56.5h0M235.8 52.3h0M232.3 55.3h0M239 44.6h0M234.6 57.7h0M236.1 46.6h0M233.4 56.8h0M240.7 39.4h0M234.9 47.9h0M232.8 57.4h0M235.5 49.3h0M234.7 50.5h0M234.1 58.8h0M237.4 47.5h0M235.1 54.2h0M241.9 42.6h0M238.1 49.4h0M234 53.4h0M231.5 49.4h0M234 46.7h0M232.8 58.6h0M244.9 39h0M232.9 51.3h0M241.7 37.6h0M233.3 58.6h0M242.7 39.1h0M235.9 46.9h0M238.2 41.3h0M232.6 57.8h0M239.9 40.5h0M231.5 59.2h0M239.4 46.8h0M232.5 51.1h0M234.7 51h0M245.3 38.4h0M233.6 57.7h0M232.2 60.1h0M235.2 49.7h0M244.8 37.7h0M239.7 38.6h0M234.9 49.5h0M238.6 40.3h0M235.9 44.6h0M233.3 45.7h0M232.9 50.6h0M233.2 55.2h0M243.3 39.6h0M238.6 42.2h0M237.7 46.3h0M235.6 50.1h0M232.7 54.8h0M239 42.1h0M233.1 57.9h0M243.7 39.1h0M238.1 43.5h0M243.4 34.9h0M230.3 57.7h0M244.8 35.6h0M233.6 52.3h0M237 48.1h0M231.5 56h0M241 40.6h0M233.3 53.2h0M235.2 51h0M237.5 42.2h0M233.9 51.9h0M245.5 38.2h0M240.8 40.9h0M243 38.2h0M236.7 48h0M239.3 41.1h0M241 37.4h0M243.2 38h0M244.7 38h0M232 53.1h0M234 48.9h0M232.9 47.6h0M239.8 43h0M235.8 46.2h0M239.8 43.1h0M242.9 42.5h0M238.2 46h0M237.4 47h0M232.4 47.9h0M235.7 49h0M240.9 43.3h0M240 41.2h0M242 44.9h0M234.6 51.2h0M243.7 37.2h0M243.8 36.3h0M235.3 50.9h0M241.7 37.5h0M231.7 58.6h0M235.3 44.4h0M232.3 61.1h0M234.8 49.9h0M230.4 54.2h0M235.6 53.7h0M244.7 37.3h0M244 40.7h0M235.1 51.5h0M238.4 44.1h0M242 39.5h0M235.3 54.7h0M245.8 39.1h0M234.9 46.4h0M242.8 44.5h0M240.7 41.1h0M241.4 39h0M242.3 37.1h0M231.4 59h0M233.5 50.9h0M235.5 50.9h0M240.2 39.9h0M244 39.2h0M232.8 56.9h0M242.1 38.1h0M240.8 39.6h0M231.2 55.9h0M233.6 48.1h0M233.6 48.5h0M231.7 53.4h0M232.1 56h0M244.9 38.5h0M244 36.8h0M238.9 41.8h0M234.2 57.5h0M238 48.6h0M235.4 43.9h0M239.6 42h0M233.7 55.4h0M234.3 51.3h0M232 60.8h0M241.1 39.2h0M240.9 44.6h0M238.5 42.5h0M234.1 51.8h0M242.2 44.7h0M234.7 55.9h0M235.6 48.4h0M242.8 37.5h0M233.1 55.6h0M235.2 52.9h0M245.9 35.8h0M236.1 41.7h0M245 39.3h0M235.4 50.6h0M232.8 56.6h0M245.1 39h0M233.2 53h0M235.7 47.4h0M232.4 56.9h0M234 51.7h0M235.8 43.8h0M236.3 49.9h0M234.4 47.6h0M233.5 49.5h0M232.3 58.5h0M243.5 37.9h0M232.5 52.7h0M234 49.9h0M235.5 49.4h0M234.7 53.9h0M232.2 56.3h0M244 34.7h0M236.8 43.4h0M232.2 60.4h0M237.6 44h0M234.4 55.6h0M232.3 57.2h0M232.8 53.4h0M233.5 59.4h0M244.1 39.3h0M241.2 41.3h0M240.5 40.1h0M236.1 54.1h0M236.7 45.3h0M235.7 48.8h0M232 56.1h0M231.4 56.4h0M238.8 41.5h0M238.3 43.6h0M233.1 45.4h0M231.9 55.3h0M233.1 57.4h0M235 57.5h0M238.2 44h0M234 50.6h0M235.2 52h0M237.7 41.4h0M236.8 42.3h0M240.3 41.9h0M235.8 46.2h0M229.6 60.6h0M232.2 55h0M236.5 44.6h0M229.2 56.8h0M232.4 60.3h0M236 45.7h0M237.3 46.7h0M239.7 41.9h0M240.5 37.6h0M236.8 45.2h0M243.8 36.4h0M232.3 61h0M231.3 57.8h0M229.8 54h0M242.9 38.2h0M230.1 54.3h0M236.1 55.6h0M228.5 59.4h0M238.1 45.3h0M239.6 41h0M234.5 48h0M232.6 57.9h0M242.6 40.8h0M231.9 59.6h0M232.3 60.6h0M236.7 46.8h0M240.5 40.7h0M233.7 53.9h0M242 38.7h0M239.8 39.6h0M243.5 38.8h0M244.2 37.9h0M236.7 46.4h0M236.5 46.4h0M236.7 53.4h0M236.7 48h0M239.6 39.1h0M231.8 49.8h0M232.7 51.1h0M242 41h0M230.1 56.8h0M234.8 51.3h0M234.1 45.4h0M242.9 39.4h0M240.8 38.9h0M235.4 50.9h0M235.8 46.8h0M232.8 56.6h0M238.9 40.6h0M233.3 51.6h0M233.1 52.3h0M242 38.4h0M233.1 56.8h0M231.8 60h0M246.8 36.4h0M241 42h0M236 51.1h0M248 36.3h0M232.5 42.1h0M241.2 39.7h0M237.5 44.6h0M240.4 40.6h0M242 38.1h0M235.3 50.5h0M236.9 40.8h0M233.6 56.5h0M236 57.1h0M230.4 52.3h0M232.8 54.8h0M243.4 38.2h0M242.3 43h0M241 40.1h0M232.5 49.6h0M235.1 45.6h0M236.7 46h0M241.1 39h0M233 53.7h0M231.9 56.2h0M234.4 50.1h0M241.8 41.5h0M242.9 39.1h0M240.2 42.3h0M238.9 44.4h0M234.5 46.9h0M240.2 40.8h0M237.2 47.1h0M237.3 44.2h0M239.4 38.3h0M246.4 38.4h0M249.7 50.5h0M250.4 54.8h0M249.6 39.3h0M249.2 56.6h0M249.2 42.5h0M252.4 49.2h0M247.9 41.6h0M251.9 45.8h0M249.5 51.5h0M249 44.3h0M251.8 43.1h0M251 41.9h0M248.6 34.9h0M247.2 48.9h0M248.6 55.3h0M251.6 48.3h0M251.1 48.9h0M250.1 44.2h0M254.6 52.4h0M248.2 43.7h0M252 39.8h0M247.7 56.6h0M252.1 47.4h0M251.4 49.1h0M248.6 42.9h0M250.5 42.9h0M247.1 39h0M248.5 52.1h0M249.6 41.3h0M250.6 51.8h0M247.8 50.2h0M250.7 41.4h0M247.3 53h0M250.5 44.3h0M249.3 44.2h0M247.3 52.4h0M249.7 43.5h0M246.1 38.8h0M249.8 50.6h0M249.8 35.3h0M251.6 42.1h0M248.5 40.9h0M251.1 42.9h0M246.3 53.6h0M250.2 47.2h0M251 43.4h0M249.5 42.5h0M252.4 45.6h0M248.2 53.3h0M251 46.7h0M248 44.3h0M251.4 43.8h0M251.6 45.2h0M246.9 39.2h0M249.1 50.6h0M248.3 55.1h0M250.3 47h0M244.3 38.2h0M249.7 42.4h0M251.1 48.7h0M248.1 55.3h0M244.6 39.7h0M248.6 52.4h0M252.9 49h0M250.3 53.5h0M249.7 45.1h0M255.7 42.4h0M249.8 57h0M251.8 40.4h0M253.6 48.9h0M249.3 56.9h0M247.3 36.6h0M250.5 38.2h0M251.1 49.3h0M250.2 40.7h0M252.4 43.7h0M249.8 42h0M253.4 44.1h0M249.4 46.1h0M249.5 53.8h0M250.5 39.8h0M249.4 47h0M253.5 47.4h0M251 39.5h0M249.4 46.9h0M252.8 50.9h0M249.7 39.9h0M248.3 50.4h0M248.1 39.7h0M250.3 36.2h0M248.3 43.9h0M254.6 52.4h0M249 39.7h0M248.9 41.2h0M247.9 45.5h0M251 42.1h0M250.8 54.7h0M248.9 38.2h0M251.3 46.2h0M250.8 39.2h0M249.1 43.8h0M255.4 48.2h0M250.4 44.3h0M249 39.4h0M249.3 41.7h0M247.7 51.2h0M254.1 44.6h0M246.3 35.7h0M248.4 52h0M247.6 39.6h0M247.8 36.6h0M250.2 42.1h0M249.6 55.5h0M252.7 39.9h0M249.6 40.4h0M249.5 50.5h0M251.3 50.2h0M247.2 52.8h0M250.1 55h0M246.2 38.2h0M251.5 43.7h0M252.5 40.2h0M249.8 43.2h0M247.6 37.8h0M250.7 44.7h0M250.1 44.7h0M248.8 40.2h0M251 53.4h0M248.7 51.4h0M240 54h0M253 45.7h0M245.6 45.8h0M244.1 38.6h0M244.9 60.6h0M237.6 45.9h0M243.4 52.8h0M242.9 56.3h0M237.3 56.5h0M240.8 57.4h0M246.7 51.2h0M237.5 51.9h0M244.4 39.4h0M239.2 57h0M230 52.8h0M240.9 48.5h0M243.5 52.6h0M244.3 47h0M240.1 62.6h0M246.1 59.2h0M247 46.9h0M251.4 43.2h0M247 59.9h0M240.2 50.3h0M246 60.4h0M236.5 51.2h0M245.6 51.3h0M242.6 58.7h0M230.5 52.9h0M235.4 50.6h0M235 58.5h0M243.6 50.8h0M236.3 56.5h0M242.1 47.7h0M242.4 56.4h0M231.7 52.7h0M247.8 49.6h0M233.2 50.9h0M240.1 49.7h0M237 49.6h0M242.6 47.9h0M240.1 39.6h0M238.4 53.3h0M242.5 57.5h0M242.4 48.2h0M240.2 58h0M233.7 59.5h0M245.7 48.6h0M248.8 48.4h0M231.9 53.1h0M201.4 72.3h0M201.3 36.8h0M201 68.1h0M201.1 58.4h0M201.4 57.3h0M201.2 76.2h0M201.3 75.9h0M201 49.1h0M201.1 46.4h0M201.5 71.9h0M201.3 51h0M201.3 71.8h0M201.2 60.6h0M201.2 57.3h0M201.4 75.4h0M201.3 58.1h0M201.2 36h0M201.3 44.6h0M201.1 69.8h0M201.3 39.9h0M201.1 55.4h0M201.1 37.3h0M201.1 84.2h0M218.4 85.8h0M219.3 85.8h0M223.2 85.6h0M211.3 85.7h0M212.1 85.8h0M210.7 85.6h0M213 85.4h0M216.4 85.3h0M207.2 85.5h0M224.1 85.5h0M236.4 85.7h0M222.9 85.7h0M211.4 85.8h0M205.7 85.7h0M229 85.7h0M235.5 85.6h0M214.1 85.6h0M215.8 85.7h0M229 85.6h0" stroke="#000" stroke-width="0.7" stroke-linecap="square" opacity="0.3" fill="none"/><path d="M213.2 77.5h0M218.9 72.2h0M215.8 74.8h0M215.1 75.9h0M217.8 77.4h0M217.2 72.9h0M212.7 76.4h0M218.8 72.6h0M212.9 76.9h0M215 75.1h0M212.2 76.2h0M218.9 74.5h0M220.9 68.1h0M212.7 75.9h0M215 73.1h0M214.4 74h0M211.1 77.9h0M212 76.8h0M214.8 77h0M213.4 75h0M213.9 77.3h0M216.6 77h0M217.1 72.6h0M213 75.2h0M212.2 75.7h0M215.9 74.8h0M214.9 77.6h0M209.8 76.7h0M212.5 75.2h0M214.7 78.9h0M222 72.3h0M213.1 77.5h0M213.6 74.2h0M217.7 73h0M220.4 71.6h0M217.3 74.9h0M219.8 71h0M216.5 76.2h0M217.4 75h0M223.7 71.9h0M214.9 73.5h0M224.3 70.7h0M216.9 73.1h0M217.7 71h0M219.2 71.4h0M215.9 74.8h0M213.9 75.8h0M217.2 72.4h0M217.5 71.9h0M216.2 71.2h0M219.1 70.5h0M215.4 76.5h0M216.8 74.8h0M216.3 76.1h0M216.2 74.1h0M212.7 77.6h0M220.1 73.6h0M219.2 75.1h0M221.1 73.8h0M216.2 75.3h0M218 74h0M218.6 73.6h0M218.8 71.6h0M213.5 79.2h0M217.5 73.6h0M217.3 72h0M217.7 74.3h0M212.9 71.5h0M213.5 79h0M214.5 76.4h0M216.1 76.4h0M218.1 76.5h0M219.2 72.8h0M215.8 74.2h0M219.8 70.4h0M214.5 74.8h0M219.8 75h0M216.7 73.9h0M216.3 72.9h0M220.4 71.9h0M222 71.3h0M216.8 72.4h0M219.4 73.5h0M215.9 74.1h0M215.2 74.2h0M215.4 76.1h0M220 72.2h0M216.5 78.7h0M219.1 69.7h0M211.9 78.2h0M215.6 77.1h0M212.9 76.8h0M211.6 80.2h0M220.8 69.8h0M217.1 72.2h0M218.4 73h0M211.2 79h0M213.1 72.4h0M215.7 73h0M219.8 71.9h0M215.3 79.1h0M218.5 70.8h0M215.2 71.9h0M212.9 77.2h0M220.6 69.1h0M207 80.2h0M220.7 73.2h0M213.5 76.4h0M219.9 73h0M216.9 72.7h0M221.2 65.9h0M218.8 74.6h0M213.7 77h0M218.5 73.5h0M220.7 68.7h0M219.1 70.9h0M215.2 75.4h0M213.4 78.3h0M217.2 73.4h0M215.4 74.6h0M218 72.5h0M213.3 74.2h0M218.3 74.8h0M214.9 76.3h0M215.6 75.4h0M211.3 73.3h0M213.1 76.8h0M214.5 75.9h0M214.2 72.9h0M219.1 73h0M220.6 72.6h0M222.3 69.1h0M222.1 70.5h0M218.7 74.5h0M212 73.3h0M216.9 72.8h0M214.4 73.8h0M218.9 74h0M216.7 73.8h0M213.8 74.1h0M217.8 71.2h0M218.4 76.7h0M220.7 72.3h0M216.3 75h0M220.9 73.8h0M221.8 73.2h0M222.2 72.8h0M220.8 71.2h0M212 77.7h0M217.7 72.3h0M219.9 70.8h0M216.2 72.8h0M220.8 70h0M214.3 76.4h0M217.9 70.8h0M222.1 68.6h0M214.4 72.6h0M220.7 73.8h0M215.4 74.2h0M217.6 73.5h0M219 75.5h0M215 72.1h0M213.4 80.8h0M218.1 73.9h0M214.4 76.7h0M213.6 72.6h0M215.1 73.5h0M213.5 76h0M212.4 77.2h0M221.2 73.2h0M216.4 70.7h0M218.4 73.2h0M214.2 72.3h0M209.5 77.3h0M214.7 76.5h0M213.9 76.8h0M213.8 79.3h0M215.7 78h0M215.6 74.7h0M210.2 79.7h0M211.1 75.8h0M207.4 77.2h0M219.5 71.9h0M219.5 74.8h0M216.6 77.2h0M215.7 74.5h0M213.6 75.5h0M217.7 76.2h0M214.3 75.1h0M215.5 74.2h0M222.7 69.9h0M221.4 67.2h0M220.9 69.9h0M212.4 76.8h0M208.8 80.2h0M219 71.3h0M218.6 74.8h0M212.4 79.8h0M219.1 70.3h0M220 72.2h0M219.7 73.1h0M216.5 71.1h0M214.6 76.1h0M220.7 68.4h0M215.3 75.3h0M213.9 74.6h0M214.6 77.2h0M216.5 75.3h0M213.1 75.2h0M212.5 79.3h0M214.5 76h0M217.2 76.3h0M212.8 74.9h0M215.1 73.4h0M215.2 72.5h0M216.7 75h0M210.7 76.5h0M220.7 69h0M216.6 71.4h0M217.2 75.3h0M217 72.3h0M212.7 78h0M217.7 73.1h0M219.7 74.9h0M216 73.7h0M223.4 73.1h0M220.5 73.7h0M210 77.9h0M215.6 74h0M215 72h0M223.6 68.8h0M216.5 76.5h0M212.3 77.6h0M215.1 75.1h0M217.3 71.3h0M219.8 72.6h0M218.4 74.5h0M213.5 73.4h0M218.2 74h0M219.9 70.3h0M219.2 74.4h0M216.6 74.8h0M215 74.6h0M220.3 73.1h0M217.2 73.3h0M215.6 73.8h0M216.8 74h0M221.1 70.3h0M216.5 73.9h0M217 74.2h0M214.6 77h0M220 74.6h0M220.4 72.4h0M220.1 73.3h0M218.1 73.7h0M218.4 72.2h0M212.6 78.7h0M219.9 70.9h0M220.5 72.5h0M213.3 74.4h0M213.5 79.6h0M220.1 71.8h0M209.2 79.6h0M215.8 73.2h0M214.3 78.2h0M215.7 75.4h0M219.4 71.3h0M217.8 73.9h0M222.8 68.7h0M219.7 73.3h0M220.3 69.3h0M213.7 75.8h0M212 74.8h0M217.5 74.7h0M213.6 78.4h0M218.3 70.6h0M217.4 76.7h0M217.4 74.1h0M220.1 70.9h0M212.7 76.5h0M214.2 75.8h0M218.6 75h0M214.1 77.8h0M218.4 71.1h0M215.8 74h0M215.2 75.3h0M217.5 74.6h0M215.3 76.1h0M218.1 71.9h0M216.2 75.2h0M214.1 79.2h0M209.6 79.2h0M212 76.2h0M212.1 80h0M214.9 76h0M219 75.7h0M218.2 73.1h0M211.9 76h0M212.4 78.6h0M213.5 78.3h0M219.4 72h0M219.7 70.6h0M215.3 77.8h0M219.3 71.2h0M212.5 79.9h0M216.8 72.6h0M214.2 74.7h0M214.6 79.1h0M213.8 80.3h0M210.5 80.1h0M219.1 73.4h0M222.3 69.6h0M218 71.1h0M209.3 82.1h0M214.9 76.8h0M222.3 72.4h0M216.1 72h0M213.4 72.9h0M215.1 74.5h0M210.9 75.8h0M213.3 77.4h0M214.5 74.9h0M218.5 75.5h0M217.6 73h0M213.3 74.9h0M218 73h0M216.3 77.5h0M218.9 73.5h0M211.4 76.4h0M221.7 69.1h0M218.9 74.5h0M212.4 76.2h0M213.2 75.9h0M218.1 75.8h0M218.1 70.2h0M209.9 75.7h0M217.5 76h0M216.8 71h0M219.7 71.1h0M216.3 72.9h0M211.6 82.6h0M213.1 78.1h0M210.3 77.4h0M210.8 80.7h0M214.3 74h0M213.7 75.5h0M219.8 71.9h0M218.8 72.5h0M218.1 67.8h0M217.4 74.5h0M215.2 77.2h0M221.1 72.9h0M219.3 73.7h0M217.2 76.6h0M219.6 72.9h0M216.3 73.9h0M217 74.5h0M217 70.8h0M218.8 76.6h0M218.9 74.1h0M214.2 73.3h0M217.2 73.8h0M221.4 74.3h0M217.6 72h0M220.6 71.2h0M220.4 74.9h0M219.7 69.2h0M215.2 71.6h0M216.7 72.1h0M215.9 74.3h0M214 74.2h0M221.1 69.4h0M212.3 79h0M211.9 76.8h0M218.3 72.5h0M217.7 76.4h0M219 70.3h0M214.9 72.5h0M218.2 73.8h0M211 77.4h0M213.1 79h0M215.7 76.5h0M218.7 74.1h0M214.7 75.3h0M216.5 74h0M214.9 73.6h0M218.1 72h0M220.9 70.6h0M213.7 79.5h0M213.6 74.8h0M212.5 75.1h0M215.9 75.9h0M212.9 75.2h0M218.1 73.1h0M215.2 75.7h0M213.1 76.9h0M216.6 77.6h0M215.7 74h0M206.7 79.3h0M207.6 78.5h0M217.2 75h0M215.9 76.1h0M218.1 74h0M210.8 79.4h0M216 74h0M215.1 72.3h0M216.3 74.6h0M216.7 73h0M217.1 75.5h0M215.7 69.8h0M220 68.7h0M217 71.6h0M218.5 72.8h0M217.5 74h0M218.6 73.6h0M218.8 72.5h0M216.9 72.5h0M210.4 79.6h0M221.1 70.2h0M215.4 75h0M219 69.3h0M223.9 70.6h0M211.8 77.1h0M216.6 74.5h0M213.3 73.8h0M216.8 74.4h0M213.5 76h0M214.7 79.4h0M214.6 75.4h0M213.1 74h0M208.5 79.4h0M212.3 78.6h0M218.8 72.6h0M216.3 76.5h0M214.7 75.7h0M215.5 74.4h0M217.6 76h0M218.9 72.2h0M216.3 71h0M215.4 76.1h0M214 72h0M219.4 72.5h0M211.4 77.9h0M219.7 75h0M210.9 76.9h0M219.9 69.9h0M214.2 74.6h0M216.8 75.9h0M216.3 71.6h0M217.4 77.9h0M207.8 81.6h0M212 75.4h0M213.9 82.1h0M212.1 78.7h0M214 77.9h0M218.4 74.2h0M213 79.2h0M217.9 74.1h0M213.2 75.3h0M216.5 73.8h0M211.8 80h0M215.3 73.2h0M213.2 77h0M217.4 73.3h0M219.2 76h0M217.9 74.5h0M211.4 77.7h0M213.9 75h0M216.1 74.8h0M216 72.6h0M216.4 75.7h0M214.6 76h0M216 75.5h0M218.8 74.5h0M216 75.5h0M216.6 73.4h0M214.6 76.8h0M218.8 72.6h0M212.6 78.9h0M217.1 75.7h0M238.1 73.3h0M236.1 76.1h0M236.4 73.4h0M240.6 70.6h0M235.1 76.6h0M233 78.6h0M237.6 74.8h0M238.5 74.4h0M239.3 71.3h0M238.7 74.6h0M244.6 67.7h0M240.8 74.8h0M251.2 66.8h0M235.3 78.2h0M243.7 70.5h0M243.6 69.1h0M235.9 74.8h0M240 75.3h0M239.5 72.2h0M235.8 76.6h0M237.5 74.9h0M239 72.7h0M235.1 74.8h0M230.9 78.9h0M236.9 72.5h0M244.8 69.6h0M238 73.7h0M239.8 74.5h0M240.6 71h0M239.1 72.8h0M238.6 75.6h0M238.3 72.8h0M234.2 75.8h0M237.2 73.1h0M236.2 76.8h0M236.3 73.8h0M236.9 73.6h0M235.6 75.3h0M236.3 75.9h0M241 72.4h0M236.4 75.7h0M230 78.9h0M239.4 72.1h0M239.2 73.4h0M242.1 69.8h0M236.2 72.3h0M236.4 75.3h0M241.4 72.2h0M237.9 73.3h0M236.7 74.8h0M239.7 74.2h0M231.8 75.5h0M237.2 75.1h0M240.3 72.6h0M238.2 73.7h0M241.9 72.3h0M230.6 79.3h0M236.5 74.8h0M242.2 72.6h0M244 69.7h0M238.8 74.4h0M234.6 76.5h0M237.9 74.6h0M245.7 69.2h0M247.8 66.9h0M234.5 77.3h0M238.7 73.9h0M241.3 71.7h0M238.7 72h0M239.1 74.5h0M235.6 75.2h0M230.4 79.6h0M227.9 81.5h0M237.4 73.6h0M242.5 70h0M235.9 75.4h0M236.4 74.2h0M236 75.2h0M230.5 80.3h0M234 75.6h0M233.5 75.5h0M235.3 75h0M239.9 74.1h0M244.3 68.7h0M235 75.9h0M236.9 74.3h0M231.6 78h0M239.5 72.7h0M239.9 73.9h0M229.7 77.2h0M239.7 73.1h0M231.6 78.2h0M241.6 71.6h0M236.5 73.6h0M238.8 73.7h0M237.7 72.6h0M232.4 77h0M237.7 72.8h0M233.4 78.8h0M244.1 70.8h0M233.7 76.9h0M239.3 75.8h0M237.4 75.2h0M245.7 69.7h0M238.4 73.2h0M240.2 73.2h0M242.4 71.2h0M240.7 70.5h0M227.7 80.4h0M237.4 75.2h0M238.2 75.3h0M236.2 75.1h0M228.5 80.1h0M241.2 70.6h0M240.3 71.3h0M232.3 77.5h0M240.2 73.9h0M234.9 75.8h0M235.7 75.3h0M236.7 74.2h0M236.9 74.7h0M236.3 74.8h0M238.2 73.5h0M238.7 72.4h0M241 71.5h0M242 72.6h0M239.3 75.2h0M235.2 75.8h0M235.6 74.9h0M238.1 74.2h0M238.6 74.3h0M240.5 73.2h0M233.5 77.2h0M232.4 76.8h0M234.5 75.2h0M239 72.6h0M238 74h0M243.8 68.7h0M232.6 78.5h0M229.6 78.2h0M240.4 71.6h0M237.9 75.1h0M241.8 71h0M237.6 74.3h0M232.5 79.2h0M232.7 78.3h0M244.1 68.1h0M236.9 73.1h0M236.5 77.4h0M239.2 71.2h0M243.3 71h0M237 73.9h0M236.7 75.8h0M238.2 74.2h0M240.8 73h0M244.6 69.7h0M235.6 75.8h0M238.4 74.5h0M232.7 76.1h0M233.1 77.8h0M231.5 77h0M236.2 72.9h0M241.5 71.7h0M243.9 71.5h0M243.4 72.6h0M237.1 75h0M236.9 73.8h0M235.8 76.2h0M234.5 75h0M233.8 74.7h0M242.9 70.3h0M234.4 76.7h0M234.8 77.7h0M232.3 77h0M239.6 71.1h0M240.7 71.2h0M234.4 73.8h0M231.3 78.4h0M237.9 74.5h0M240.3 71.1h0M240.1 40.8h0M240.8 39.8h0M241.3 39.8h0M242.6 39.7h0M241.1 41.4h0M243.6 38.8h0M243.7 39.2h0M243.5 39.9h0M243.8 38.7h0M240.9 39.5h0M237.7 44.2h0M243.5 38.1h0M241 41h0M241.2 40.3h0M240.4 40.8h0M243.3 39.7h0M241 40.8h0M244.5 38.8h0M238.8 43.1h0M241.4 40.3h0M240.2 42h0M241.8 40.4h0M243.7 38.6h0M239.9 40.9h0M243.3 38.9h0M245 37.7h0M239.5 40.7h0M242.9 39.5h0M239.8 41.7h0M242.6 39.7h0M244.1 38.4h0M242 40h0M244.9 38.2h0M240.1 40.9h0M241.8 39.9h0M237.2 44.4h0M242.9 39.3h0M239.5 41.9h0M246 37.3h0M242 39.1h0M239.2 42.5h0M238.5 42.6h0M240.3 42.3h0M239.8 41.5h0M237.8 42.6h0M239.5 41.8h0M238 42.8h0M244.2 39.4h0M239.7 42h0M237.6 43.2h0M242.5 39.9h0M241.2 40.5h0M240.5 41.2h0M242.6 40h0M243.9 37.9h0M241.4 41.2h0M241.5 40.3h0M238.4 43.1h0M243 37.6h0M244.5 38h0M240 42h0M242.4 39h0M237.6 43h0M243.4 38.2h0M240.5 41h0M240.6 41.2h0M241.6 39.2h0M243.9 39h0M244.4 37.1h0M240.2 41.7h0M239.1 42h0M246.1 36.5h0M246.6 37.3h0M240.6 41.4h0M239.5 41.5h0M244 40h0M242.1 40h0M238.5 43.4h0M242.2 39.1h0M240.6 41.2h0M242.3 38.6h0M242.8 40.2h0M243.2 38.6h0M242.6 40.5h0M239.7 41.2h0M243.7 38.6h0M241 40.3h0M237.6 43.4h0M241 40.9h0M239.6 40.9h0M237.2 42.8h0M239.9 42.1h0M237.3 43.9h0M241 41.1h0M239 43.1h0M241.3 40h0M243.6 36.9h0M239.9 42.5h0M240.1 40.6h0M241.6 40.2h0M242.8 38.8h0M243.1 37.9h0M243.6 37.8h0M240.4 40h0M246.3 36h0M242.9 38.8h0M242.4 39.4h0M244.1 39.4h0M235.8 44.3h0M241.3 40.7h0M245 38.6h0M242.2 39.1h0M241.2 40.4h0M243.3 38.7h0M242.8 40h0M238.9 42.4h0M241.1 40.2h0M241.9 39.4h0M237.9 43.9h0M240.8 39.8h0M242 39.3h0M240.3 41.9h0M242.3 39.3h0M240.5 40.4h0M244.9 37.3h0M243.6 38.3h0M239.9 41.6h0M242.4 40.1h0M242.8 40.2h0M237.9 42.7h0M240.8 39.1h0M238.3 42.6h0M238.9 42.2h0M240.7 41.3h0M240.5 41.7h0M238.9 42.6h0M237.4 41.8h0M234.8 44.5h0M240.7 41.7h0M239.2 41.7h0M240 41.6h0M242.5 39.5h0M242.2 39h0M240.7 41.4h0M243.5 38.5h0M239.3 41.7h0M239.7 41h0M240.5 41h0M245.1 37.7h0M215.4 85.5h0M215.3 85.5h0M209.9 85.7h0M208.8 85.4h0M206.4 85.6h0M208 85.8h0M204.7 85.5h0M210.3 85.5h0M205.3 85.5h0M202.7 85.4h0M211.4 85.6h0M208.6 85.6h0" stroke="#000" stroke-width="0.8" stroke-linecap="square" opacity="0.5" fill="none"/></g><text x="211.2" y="52" font-family="Liberation Serif,serif" font-size="4.2" class="lb" fill="#777" text-anchor="middle">41.3</text><path d="M211.4 54.4V58.0" stroke="#333" stroke-width="1" fill="none"/><path d="M211.4 60.4l-1.4 -3h2.8z" fill="#000"/>
<path d="M38.3 104.2H100.4V156.5H38.3Z" fill="none" stroke="#787878" stroke-width=".9"/><path d="M62 104.2V156.5M38.3 137.4H100.4" fill="none" stroke="#909090" stroke-width=".9"/><path d="M34.4 155.7l1.2 1.9M37.3 160l1.8 -1.2M34.4 142.6l1.2 1.9M52.8 160l1.8 -1.2M34.4 129.5l1.2 1.9M68.3 160l1.8 -1.2M34.4 116.5l1.2 1.9M83.9 160l1.8 -1.2M34.4 103.4l1.2 1.9M99.4 160l1.8 -1.2" stroke="#3a3a3a" stroke-width=".95" fill="none"/><text x="68.7" y="162.9" font-family="Liberation Sans,sans-serif" class="ns" font-size="2.1" font-weight="bold" fill="#333" text-anchor="middle">YO-PRO</text><g clip-path="url(#c3)"><clipPath id="c3"><rect x="38.3" y="104.2" width="62.1" height="52.3"/></clipPath><ellipse rx="15" ry="7" transform="translate(50.5 146.5) rotate(-33)" fill="url(#hg)" opacity="0.24"/><ellipse rx="14" ry="5" transform="translate(75 143.5) rotate(-30)" fill="url(#hg)" opacity="0.2"/><ellipse rx="15" ry="9" transform="translate(79 120) rotate(-60)" fill="url(#hg)" opacity="0.1"/></g><g filter="url(#bl)"><path d="M69.2 138h0M57.1 139.7h0M42.1 154.1h0M46.3 149.3h0M61.9 139.1h0M58.3 138.4h0M49.1 150.1h0M50 139.1h0M42.1 150.3h0M44.4 148h0M48.5 148.4h0M46.4 153.9h0M46.7 143.2h0M55.5 146.9h0M53.7 144.7h0M57.6 148.2h0M56.9 146.3h0M49.7 152.6h0M46.3 150.6h0M54.3 140.5h0M43.4 142.6h0M45.8 144.4h0M50.1 144.9h0M45.2 148.7h0M47.7 148.3h0M50.7 150.8h0M53.3 134.9h0M59.4 139.9h0M51.3 142.4h0M55.7 145.4h0M44.6 145.9h0M54.9 145.4h0M40.5 144.7h0M43.6 152.6h0M57.5 138.1h0M44.7 146h0M51.5 142.7h0M63.1 140.6h0M48.5 146.3h0M56.8 140.9h0M48.1 148.5h0M60.3 145.7h0M46 144.7h0M44 150h0M50.3 136.4h0M55.7 144.7h0M49.3 141.5h0M50.3 144.6h0M45.2 152.3h0M59.4 141.4h0M56.3 146.6h0M50.1 145.1h0M59.7 138.1h0M49.1 148.7h0M46.1 145.6h0M58 141.5h0M44.9 147.9h0M56.1 146h0M54 148.6h0M53.4 150.8h0M54.8 139.3h0M50.6 147.7h0M48.8 143.8h0M53.7 144.1h0M49.7 150.6h0M50.7 147h0M56.7 141.6h0M50.6 146.1h0M55.6 140.6h0M52 142.7h0M53.2 149h0M46.2 151.1h0M51.6 146.6h0M54.4 144.3h0M57.2 149.1h0M44.2 146.4h0M56.4 144.1h0M62.9 136h0M54.6 141.7h0M46.4 146.8h0M43.6 147.3h0M48.3 147.3h0M52.5 148.3h0M44.6 150h0M46.4 152.3h0M44 149.3h0M47.4 152.6h0M40.7 148.4h0M47.5 147h0M46.6 153.3h0M43.4 143h0M47.1 143.6h0M45.5 147.8h0M44 149h0M49.2 149.7h0M66.2 133.6h0M49.7 151.3h0M63.3 141.1h0M52.4 152.7h0M53.4 149.2h0M45 145.3h0M58 138.2h0M44.1 151.1h0M45.8 152.1h0M50.9 145.4h0M49.6 152.7h0M61.8 143.5h0M54.4 150.5h0M53 142.2h0M57.9 139.9h0M59.3 135.8h0M54.8 143.3h0M42.2 153.3h0M47.6 147.2h0M46.1 148.7h0M48.8 155.4h0M48.4 148.6h0M50.8 151.1h0M56.2 146.6h0M40.9 153.3h0M50.9 148.7h0M46.6 149.6h0M43.6 149.6h0M52.1 143.5h0M44.9 149.6h0M53.6 146.1h0M42.2 150.2h0M41.3 148.6h0M68.4 139.5h0M54.8 142.6h0M59 146.9h0M60 143.1h0M57.2 145.5h0M53.6 145.9h0M45 143.5h0M66.9 145.8h0M55 146.2h0M51.9 148.5h0M49.5 146.8h0M51.7 139.1h0M59.1 139.4h0M55.3 145.7h0M64.1 144.2h0M40.4 149.3h0M48.8 141.3h0M54.5 143.4h0M46.9 152h0M43.1 148.4h0M52 148.8h0M48.7 146.4h0M51.2 144.6h0M55.7 147.4h0M52.2 147.2h0M48.3 153.1h0M52.5 143.4h0M48.4 144.8h0M48.1 149.3h0M54.1 142.3h0M44.4 153.2h0M58.8 153.1h0M63 138.9h0M52.7 146.5h0M49.6 143.2h0M51.7 153h0M46.1 147.9h0M41.4 150h0M58.9 142.4h0M46.3 147.8h0M54.7 141.6h0M44.5 149.2h0M46.3 152.1h0M52 149.4h0M51.1 155.6h0M53.6 143.7h0M48.7 139.7h0M39.2 146h0M52.3 153.7h0M49.9 141.2h0M40.7 154.3h0M54.1 143.4h0M60.3 141h0M65.2 140.2h0M59.3 130.6h0M56.6 145.5h0M61.2 141.8h0M53.5 145.8h0M52.6 147.3h0M58.1 135.4h0M44.7 144.6h0M46.9 149.9h0M52.2 146.9h0M55.9 144.7h0M47.9 147.7h0M42.4 150h0M50.2 148.1h0M47 142.8h0M50.2 148.9h0M50.1 145.1h0M44.7 151.1h0M51.8 146.8h0M49.8 151.6h0M52.8 148.2h0M49 149.1h0M51 150.6h0M47.2 150.7h0M49.6 141h0M56.9 140.1h0M41.5 149.8h0M55.1 141.9h0M53.7 140.8h0M48.8 140.9h0M50.5 151.5h0M47 149.5h0M49.4 148.9h0M45.7 145.6h0M47.2 147.4h0M43 150.8h0M42.8 149.6h0M52.5 146h0M49.2 148.9h0M62 140.4h0M50.7 146h0M53.4 147h0M57.2 143.9h0M45.9 149.1h0M47.4 153.6h0M42.7 145.4h0M47.1 145.4h0M51.5 146.4h0M41.8 146.3h0M45.6 144.8h0M49 148.1h0M47.7 148.9h0M50.2 152.9h0M55.2 138.7h0M53.7 143.6h0M47.5 143h0M47 148.2h0M43.1 142.7h0M50.3 145.2h0M47.1 144.4h0M44.6 151.4h0M47.5 151.1h0M42.1 152.9h0M53.7 146.3h0M42.9 147.8h0M42.5 152h0M50.1 151.3h0M50 151.8h0M49.8 150.7h0M56.8 143.4h0M42.3 153.3h0M50.2 145.4h0M49.5 149.7h0M59.1 138.3h0M56.9 140.5h0M47.2 147.3h0M48.3 145h0M45.5 148.8h0M43.7 150.7h0M54.9 140.4h0M49.7 144.1h0M42.2 151.7h0M49.6 150.8h0M54.4 144.2h0M47.8 153.3h0M39.9 150.4h0M55.1 144.9h0M53.4 143.7h0M56.4 147h0M54.2 140.1h0M44.2 151.9h0M53.7 144.3h0M39.5 154.4h0M48.4 146.4h0M52.7 137h0M49.3 144.9h0M52.9 143.7h0M61.1 140.2h0M43.4 144.9h0M47.9 147.9h0M60.5 141.3h0M49.3 143.8h0M49.4 143.5h0M41.4 154h0M44.5 145.3h0M59.1 145.3h0M49.8 140.7h0M42.6 147.9h0M57.1 154.8h0M55.4 142.8h0M41.9 146.8h0M45.3 150.4h0M49 149.3h0M51.2 141.7h0M55.1 143.5h0M59.9 139.8h0M47.2 148.1h0M58.5 143.1h0M59.1 144.7h0M55.8 151.6h0M48.8 146.7h0M55 139.2h0M53.5 148.1h0M40.8 145.6h0M64.4 134.1h0M39.2 149h0M61.2 142.3h0M52.9 142.1h0M52.8 142.1h0M52.2 142.5h0M40.9 151h0M53 145.9h0M47.8 151.5h0M53.4 143.9h0M48.8 145.8h0M53.6 145.2h0M57.2 138.5h0M41.5 151.7h0M47.7 147.1h0M61.4 140.6h0M58.9 143.1h0M52.3 146.7h0M57.7 143.4h0M54 143.8h0M45.7 150.8h0M48.3 149.9h0M61.1 145.2h0M50.7 142.3h0M45.4 145.3h0M52.7 145h0M47.9 141.1h0M60 142.1h0M49.8 145.5h0M45.9 146.2h0M53.1 137.1h0M52.5 148.1h0M52.8 139.3h0M59.1 140.2h0M48.9 148.7h0M57.3 142.4h0M48.2 148.6h0M56.1 150.4h0M48.7 144.1h0M65.2 142.4h0M58.2 137.8h0M43.9 145.5h0M51.6 150.6h0M56.4 142.7h0M52.6 146.9h0M47.5 144.4h0M48.5 153.9h0M42.1 147.6h0M53.4 143.2h0M48.3 148.4h0M46.5 142.7h0M56.8 143.1h0M63 141.4h0M45.7 147.8h0M41.8 143.7h0M54 141.6h0M57.1 142.7h0M52.3 151.3h0M69 146.8h0M71.6 151.4h0M83.5 133.5h0M79.2 140.1h0M85.7 138.2h0M69.1 145.5h0M77.4 147h0M74.9 141.9h0M73.1 146.9h0M74.9 148.5h0M81.4 140.1h0M75.2 142.3h0M59.6 155.7h0M85.4 136.8h0M75.2 139.3h0M73.7 144.6h0M74.4 143.9h0M82.8 140.9h0M79.8 138.9h0M71.3 145.5h0M61.7 146.8h0M77.3 142.1h0M77 145.7h0M60.2 153.1h0M71.6 141.5h0M81.4 143.8h0M64.5 149.6h0M81.8 139.6h0M73 147.4h0M62.7 150.4h0M70.2 145.9h0M66.2 149h0M84.3 139.3h0M65.1 147.6h0M67.6 143.3h0M80.8 141.5h0M75.5 147.4h0M79.3 139.2h0M75 143h0M76.5 146.4h0M82.7 136.1h0M86.8 131.9h0M76.1 149.9h0M81.3 143.2h0M76.6 144h0M72.2 149.4h0M72.8 143.1h0M67.2 154.3h0M63.1 147.3h0M78.5 141.5h0M88 137.7h0M76.3 140.3h0M77 138h0M71.3 149.6h0M75.4 139.8h0M70.3 145.7h0M77.4 142.6h0M77 133.5h0M77.7 136.3h0M71.9 145.6h0M81.6 137.8h0M64.5 147.1h0M79.8 147.7h0M65.5 147.4h0M71.4 148.8h0M78.8 140.8h0M79.2 145.7h0M71.5 142.1h0M73.6 140.6h0M77.7 144.4h0M73.6 147h0M85.9 142.5h0M73.2 146.2h0M81.8 141.9h0M82.4 140.6h0M81.1 142.6h0M79.2 142.7h0M77 142.1h0M62 150.7h0M74.6 142.1h0M73.5 148h0M70.3 139.5h0M71.2 145.3h0M84.2 139h0M78 140.1h0M69 142.3h0M79.6 140.9h0M70.1 146.5h0M84.1 140.9h0M82.2 142.7h0M76.8 142.4h0M75.7 144.5h0M63.4 151h0M74.2 141.4h0M72.6 148.3h0M72.2 144.8h0M84.4 135.2h0M74.2 142.7h0M71.2 145.2h0M78.6 140.6h0M82.6 141.2h0M67.6 147.9h0M72.2 141.3h0M63.8 152.9h0M78.7 144.9h0M87.1 138.8h0M79.3 144.7h0M73.6 143.1h0M82.8 140.9h0M70.9 144.6h0M68.8 153.2h0M71.8 143.9h0M70.2 144.7h0M76 143h0M77.5 134.8h0M78.1 146.5h0M74.7 141.9h0M88.4 134.2h0M80.2 141.2h0M72.8 141.8h0M76.4 143.2h0M85.9 132.7h0M64.9 150.9h0M60.9 143.3h0M74.2 147.3h0M60.3 147.6h0M84.3 135.5h0M68.6 146.7h0M86 136.5h0M80.3 139.9h0M67.8 148.4h0M63.6 153h0M63.9 150.3h0M59.8 151.9h0M76.9 140.2h0M88.6 135.6h0M76.2 138.4h0M71.8 146h0M81 141.7h0M63.3 145.9h0M68.6 150.4h0M61.1 147.9h0M75.8 142.8h0M73.5 141.9h0M77.2 141.8h0M73.9 144.7h0M73.1 144h0M83.8 140.4h0M75.7 143.4h0M82.8 135h0M61.5 151.3h0M61.6 148.1h0M76.8 143h0M71.6 143.2h0M63.8 147.8h0M69.1 146.7h0M81.1 139.1h0M67.6 148.9h0M83.8 139.2h0M71.3 144.4h0M71.4 142.5h0M80.9 139.1h0M89.9 138.3h0M74.8 151.1h0M70.6 143.7h0M62.5 150.6h0M77.2 141.1h0M74.7 144.9h0M69.4 146.5h0M75 147.8h0M79.4 140.6h0M67.6 147.3h0M68.9 145.9h0M78.4 143.8h0M81.2 138.1h0M76.2 142.6h0M83.5 144.9h0M83.1 141.4h0M77.3 143.6h0M61.5 152.2h0M73.8 144h0M83.9 147.4h0M75.3 139.8h0M73.3 146.8h0M80.1 141h0M77.8 139.6h0M82.8 133h0M71.6 143.2h0M72 145.8h0M76.9 145.1h0M88.8 137h0M68.5 147.2h0M68.6 144.9h0M73.3 147.2h0M69.8 147.4h0M70.8 148.4h0M81.2 135.7h0M79 138.6h0M77.2 141.9h0M79.3 137.3h0M88.6 136.6h0M72.1 148.8h0M85.1 139.2h0M70.5 143.7h0M70.8 150.5h0M75.4 143.2h0M74 147.6h0M73.6 146.8h0M61.7 148.9h0M76.1 140.1h0M85.7 131.4h0M78.3 143.1h0M78 141.6h0M78.7 151.6h0M76.1 141.1h0M77.1 147.5h0M76.2 145.9h0M83.7 136.8h0M60.5 155.3h0M86.4 132.5h0M71.4 145.3h0M74 145.8h0M74.9 145.2h0M67.4 143.3h0M87.9 136.8h0M76.3 139.4h0M78.1 141.6h0M78.5 141.8h0M84 142.3h0M72.1 144.1h0M78.2 137.4h0M69.6 145.5h0M72.9 144.1h0M67.5 149.4h0M70.4 142.7h0M79.3 145.5h0M64.7 149.4h0M89.8 134.4h0M78.4 110.5h0M80.8 109.9h0M78.8 110.5h0M80.4 110.9h0M79.8 106.4h0M80 109.3h0M82.9 108.9h0M77.3 111.2h0M71.4 114.7h0M75.6 112.5h0M77.5 112.9h0M83 107.4h0M76.9 113.3h0M74.5 112.6h0M78 111.3h0M78.7 109.3h0M82.1 109h0M81 111.2h0M85.3 106.9h0M77.6 110.8h0M78 109.5h0M76.5 111.2h0M81.2 110h0M70.1 113.5h0M76.4 110.4h0M77.9 108.6h0M78.4 111h0M80 109.1h0M80.8 110.2h0M77.3 109.9h0M77.5 111.6h0M78.9 108.1h0M73.2 111.6h0M85.1 107.2h0M78.9 108.8h0M73.4 116.4h0M79.6 106.7h0M84.5 107.6h0M79 110.7h0M80.8 106.6h0M79.2 108.5h0M77.6 110.9h0M77.2 110.4h0M79.3 109.6h0M80.3 110.5h0M76.1 111.8h0M76.7 112.8h0M82 109.9h0M82.5 108.4h0M75.3 111.5h0M83 108.1h0M81.3 108.2h0M79.4 112.6h0M81.3 106.8h0M76.9 111.8h0M83 109.2h0M82.5 109.9h0M81.8 109.8h0M75.5 110.8h0M78.1 112.6h0M82.8 106.6h0M78.2 110.9h0M81.1 109.5h0M84 107.7h0M78.2 110.5h0M82.4 107.9h0M80.5 108.9h0M74 110.5h0M77.6 110.1h0M81.4 108.4h0M76.4 112.8h0M78.9 113.2h0M77.6 111.3h0M77.4 113.3h0M79.8 109.5h0M77.5 108.4h0M83.1 107.9h0M82.3 107.2h0M83.3 106.8h0M80.3 112.2h0M72.4 119.5h0M67.9 130.2h0M78.6 111.3h0M71.7 113.4h0M67.6 124.2h0M75.5 109.2h0M71.4 117.5h0M71.1 117.4h0M68.9 120.2h0M77.6 108.3h0M69.1 124.4h0M66.9 127.8h0M72.1 118.2h0M68.1 123.8h0M72.8 114.7h0M70.4 126.7h0M68.3 128.8h0M78.2 108.2h0M78.5 111.3h0M74.6 116.1h0M73.2 115.7h0M68.9 128.6h0M69.2 129.8h0M71.1 116.8h0M80.4 108.5h0M67.6 128.1h0M66.7 126.5h0M77.1 108.4h0M75.7 111.3h0M74.2 115.4h0M68.2 125.8h0M69 125.4h0M66.8 128.3h0M75.6 115.5h0M75.6 109.3h0M74.4 116.6h0M69.7 116.4h0M67.8 118.9h0M75.1 115.1h0M71.7 119.9h0M69.3 123.5h0M67.5 122.8h0M70.9 128.8h0M65.4 127.2h0M68 129.5h0M71.5 113.8h0M70.4 121.7h0M70.9 122.2h0M74.8 112.3h0M73.1 115.6h0M77.1 115.5h0M77.2 111.1h0M75.9 109.4h0M77.1 112.7h0M81.6 107.8h0M69.4 131.1h0M79.8 107.3h0M69.1 116.4h0M72.2 117.6h0M73.5 118.5h0M72.4 119.5h0M68 125.2h0M67.8 122.6h0M69.1 120.1h0M73.5 112.1h0M67.9 127.8h0M73.7 116.6h0M77.3 111.5h0M69.3 121.6h0M71.7 117.6h0M70.1 128.5h0M75.9 110.9h0M68.8 131.1h0M66.5 126.2h0M79.5 108.4h0M65.5 127h0M66.6 130.2h0M69.1 118.4h0M66.6 130h0M82.2 107.9h0M68.2 124.1h0M65.8 131.1h0M69.2 127.5h0M66.4 132.8h0M65 123.3h0M68.7 120.6h0M80.8 113h0M79.9 109.7h0M77.8 112h0M69.5 120.9h0M67.3 129.3h0M75.1 109.8h0M70.6 120.8h0M72.1 118h0M65.7 125.1h0M71.2 121.1h0M68.1 123.7h0M72.7 113.9h0M74.7 115.8h0M67.9 126.3h0M73.7 114.6h0M70.4 125.3h0M79.2 114.2h0M67.6 119.9h0M84.3 108.1h0M75.4 115.3h0M70.9 115.4h0M66.8 127.2h0M68.6 130.4h0M78.8 109.5h0M71.9 121.8h0M70.4 122.7h0M71.3 119.4h0M75.5 112.2h0M68.3 120.6h0M72.9 111.7h0M69.3 119.5h0M72.3 116.8h0M69.1 129h0M68 120.6h0M77.3 107.8h0M68.6 127h0M67.1 129.4h0M71.2 113.1h0M73 123.7h0M69.9 120.2h0M69.2 118.1h0M73.7 107.8h0M66.2 132.6h0M77.6 113.1h0M74 111.9h0M73.5 109.8h0M68 128.9h0M71 117.6h0M76.9 113.4h0M73.2 112.2h0M73.5 115.3h0M70.6 119.2h0M75.3 113.2h0M74.5 109.9h0M75.3 107.2h0M78.3 111.5h0M72.5 116.1h0M79.1 112.1h0M79.2 107.3h0M68.9 123.9h0M78.8 110.9h0M72.7 118.5h0M73.7 115.8h0M69 120.5h0M69.2 121.8h0M75.2 116.2h0M76.9 109.1h0M79.9 115.6h0M70 114.7h0M73.4 114.1h0M69.9 123.8h0M68.8 122.9h0M71.7 117.2h0M75.4 113.8h0M66.7 126.3h0M74.9 113.5h0M70.2 120.3h0M71.3 117.5h0M66.4 129.7h0M73 112.8h0M78.2 109.9h0M72.2 117.1h0M81.7 109.6h0M72.5 114.5h0M65.5 122.1h0M71.2 117.5h0M78.6 110.8h0M72.9 121.7h0M71.9 117.1h0M71.2 118.2h0M73.9 114.9h0M66.7 126.1h0M73.8 121.5h0M73.7 114.7h0M67.1 130h0M69.3 119.9h0M67.6 130h0M68.2 130.1h0M73 114.9h0M75 114.4h0M73.7 112.5h0M72.3 121.2h0M74.7 116.2h0M66.6 125.9h0M68.5 124.1h0M76.2 107.9h0M69.4 120h0M72.2 114.9h0M72 118.4h0M73.6 115.3h0M78.8 111.6h0M68.6 124.7h0M72.8 114.2h0M74.1 113.4h0M72.3 119.9h0M78.8 111.1h0M68.7 133.2h0M67.5 129.5h0M70.4 130.1h0M78.1 111.8h0M76.9 110.3h0M74 113.2h0M81.7 111.6h0M65.9 123.1h0M67.6 129.4h0M67.3 119.5h0M75.5 110h0M73 117.1h0M70.9 124.9h0M72.8 113.4h0M70.2 118.5h0M68.1 119.8h0M70.7 125.5h0M79.8 111.1h0M68.9 124.1h0M68.1 123.6h0M79.5 113.6h0M71.9 118.6h0M68.3 124.8h0M68.2 131.1h0M67.8 119.6h0M76.9 110.5h0M78.1 112.7h0M71 117.9h0M68.8 128.5h0M74.4 117h0M80.8 108.4h0M75.1 111.8h0M69.6 128.7h0M69.5 128.4h0M73.7 115.1h0M72.9 118.3h0M72.2 116.1h0M78.7 110.7h0M70.9 116.8h0M76.3 114.7h0M80.4 109.5h0M72.9 118.7h0M81.2 110.1h0M71.9 115h0M70.3 118.2h0M73.7 119h0M71.1 118h0M72.9 113.3h0M71.1 129.3h0M68.6 121.7h0M76.2 112h0M67.3 127.2h0M66.9 131.2h0M79.5 109.7h0M72.7 114.6h0M68.2 133.3h0M69.6 130.1h0M69.9 118.8h0M66.3 129.2h0M71.5 117.6h0M73.9 111.9h0M73.1 119.8h0M67.6 118.9h0M75.1 113.7h0M67.3 123.1h0M68.8 122.8h0M67.4 126h0M74 109.2h0M66.8 123.2h0M75.2 112.8h0M79.4 109.9h0M74.1 116.2h0M81.7 108.5h0M69.3 128h0M67.4 123.4h0M72.9 119.1h0M80.8 106.7h0M67.5 126h0M66.7 128.9h0M78.4 112.2h0M67.9 123.6h0M66.9 121.9h0M80 112.3h0M70.7 127.9h0M76.5 115.5h0M68.9 127.3h0M81.9 108h0M70.9 121.8h0M69.7 126.1h0M82.2 111.2h0M70.2 122.6h0M66 131.7h0M78.9 109.5h0M72.9 120.4h0M70.3 123.4h0M66.4 128.4h0M74.2 113.3h0M73.3 113.2h0M72.2 125.3h0M75.4 115.4h0M69.9 120.7h0M75 113.8h0M68.2 124h0M72.7 126.7h0M70.5 121.7h0M69.3 120h0M77.5 115.4h0M68 117.2h0M76.1 115h0M66.3 121.5h0M68.6 129.4h0M78.7 108.1h0M80.5 110.7h0M74.3 124.5h0M73.2 119.7h0M70.3 126.2h0M80.8 111.5h0M73.4 110.2h0M80.1 111h0M75.9 115h0M74.5 116h0M80.2 110.8h0M68.2 129.3h0M73.7 112.3h0M74.4 115.2h0M70.4 116.8h0M68.7 123.8h0M78.7 111.5h0M75.2 111h0M79.9 107.4h0M71.5 121.1h0M76.3 113.9h0M72.1 117.1h0M71.1 112.9h0M73.1 113.8h0M68.3 125.2h0M73.6 113.8h0M74.9 119h0M75.3 113.5h0M66.1 126.6h0M78.6 110.8h0M72.3 120.6h0M79.3 110.3h0M74.2 110.7h0M80.1 112.1h0M73.3 115.5h0M66.4 129.7h0M69.8 121.1h0M69.2 121.4h0M70.8 112.1h0M76.2 108.7h0M78.5 109.2h0M66.7 123h0M70.7 125.6h0M67.2 133.2h0M67 122.2h0M80.5 109.6h0M69.6 121.9h0M73 116.2h0M78.4 110.1h0M69.8 120.1h0M72.3 120.1h0M72.4 120.5h0M66.7 119h0M77.2 112.1h0M81.6 109.4h0M71.2 127.6h0M71.9 121.1h0M77.8 113h0M71.8 117.5h0M78.8 110.9h0M65.4 124.6h0M72.5 116.5h0M68 118.2h0M70.5 116.7h0M79.7 109.8h0M81.6 110.2h0M69 120.8h0M67.4 128h0M70.6 115.6h0M71.2 118.4h0M69.4 124.9h0M67.5 128.2h0M74.5 112.9h0M73 108.9h0M70.2 124.7h0M79.2 109h0M72.2 118.7h0M79 115.3h0M72.5 113.9h0M72.2 118.4h0M79.6 106.3h0M68.9 123.7h0M67.4 125.9h0M67.9 127.2h0M65.4 119.3h0M74.5 116.9h0M71 116.4h0M71.7 117.1h0M71.7 121.7h0M73.6 121.5h0M69.4 121.4h0M65.8 129.1h0M68.8 127.8h0M75.3 108.4h0M70.8 114.8h0M68.2 122.3h0M78.6 110h0M78.7 110.5h0M80.1 109.4h0M71.9 122.5h0M73.8 115.5h0M77.1 108.2h0M75.2 113.2h0M72.3 119.5h0M75.6 114.6h0M68.4 123.5h0M74.2 114.8h0M70.5 117.4h0M77.8 108.8h0M75.3 116.5h0M65.7 126.3h0M75 119.7h0M73.5 116.3h0M75.4 113.2h0M70.9 118.4h0M68 123.7h0M68.7 126.3h0M67.8 124.1h0M76.5 110.9h0M70.7 119.4h0M68.2 120h0M69.6 129.1h0M72.5 115.1h0M77.5 112.8h0M68.8 132.9h0M77.9 110.3h0M79 112.7h0M87.5 109.8h0M87.6 124.8h0M85.5 132.9h0M91.9 117.9h0M94.4 121.1h0M90.4 124.1h0M92.1 115.1h0M89.5 108.4h0M87.6 110h0M86.1 127.4h0M91.4 118.9h0M85.5 108h0M89.8 125.7h0M90.5 119.7h0M90.7 121.7h0M87.7 124.7h0M87.9 123.9h0M84.7 126.5h0M91.4 119.8h0M89.3 124.4h0M88.9 127.5h0M87.9 123.9h0M84 126.2h0M87.1 127.3h0M87.1 116.5h0M88.4 129.1h0M87 114.2h0M87.5 110.3h0M85.7 113.5h0M86.1 126.2h0M90 124.1h0M83.7 108.8h0M88.5 118.5h0M86.9 107.8h0M89.1 117.5h0M93.1 116.1h0M85.2 126.9h0M84.3 105.7h0M86.5 126.5h0M87.5 123.6h0M87.5 122.3h0M90.4 109.8h0M87.1 114.3h0M86.7 114h0M86.7 121.7h0M96.2 113.2h0M87.2 125.7h0M89.6 119.4h0M88.3 119.5h0M84.1 129.8h0M85.4 132.4h0M93.5 119h0M86.2 127h0M88.6 112h0M91.6 117.4h0M83.5 126.7h0M88.4 117.3h0M87.2 107.6h0M93.6 113.1h0M86.4 124.4h0M92.6 121.6h0M91.1 110.4h0M88.8 115.8h0M86.7 115h0M89.6 126.4h0M85.5 107.9h0M85.2 128.6h0M90.9 111.8h0M84.4 135.1h0M87.9 114.6h0M86.3 110.3h0M91.3 112h0M85.6 106.3h0M87.1 127.3h0M86.1 126.3h0M85.2 127.6h0M88.8 115.7h0M87.8 128.9h0M88.5 111.8h0M89.5 119.5h0M86 108.5h0M84.5 109.6h0M88 125.2h0M92.8 117.7h0M88.3 110h0M89.5 109.5h0M89.8 119.2h0M89.4 119.1h0M88.9 125.5h0M87.9 113.1h0M86.8 125.5h0M94.9 116.6h0M90.3 110.2h0M86.4 122.6h0M89.4 112.1h0M87.5 129.3h0M90.2 123.4h0M90.4 122.2h0M88.9 128.1h0M88.9 125.4h0M87.4 125.6h0M89.8 121.1h0M88.4 130.6h0M92.4 111.9h0M89.3 110h0M91.9 108.1h0M87.8 107.7h0M94.7 119.4h0M87.5 107.8h0M92.8 110.7h0M89.8 127.2h0M83.4 109.1h0M91.2 119.1h0M88.2 120.9h0M88.6 124.9h0M88.3 126.3h0M90.1 122.7h0M89.4 123.1h0M90.2 114.9h0M87 131.1h0M89.2 121.5h0M85.3 112h0M90.4 118.1h0M93.1 113.2h0M88.6 114.4h0M90.5 120h0M89.8 113.4h0M90.6 116.3h0M90.8 117.5h0M88.8 122.1h0M88.2 128.6h0M87.5 110.8h0M88.9 110.2h0M83.8 107.6h0M88.4 122h0M85.4 129.2h0M90.9 123.8h0M91.7 114.9h0M87 129.3h0M91.1 114h0M93.2 116h0M88.2 121.4h0M90.8 115h0M84.4 112.6h0M91 123h0M84.9 109.6h0M93.5 117.4h0M88.1 112.5h0M86.7 113.6h0M87.1 112.5h0M89.4 122.2h0M92.2 112.2h0M90.7 115.1h0M83.5 107.1h0M88 124.6h0M90 124.3h0M91.1 115.1h0M87.3 111.8h0M87.7 129.3h0M89 114.8h0M87.5 112.6h0M92.8 118.5h0M90.3 122.4h0M87.7 117.3h0M87.4 108.5h0M87.3 119.6h0M86.8 111.1h0M94 113.5h0M85.9 122h0M87.6 127.4h0M67 105.8h0M63.8 117.6h0M70.8 118.2h0M96.1 113h0M72.6 126.9h0M83.9 125.5h0M89.3 116.2h0M58 117.6h0M65.8 127h0M76.9 112.2h0M89.3 117.3h0M83.3 124.8h0M80.3 130.5h0M76.8 119.2h0M65.4 118.8h0M79.9 126.1h0M74.9 122.8h0M77.9 135.2h0M78.8 122.1h0M73.6 126.1h0M82.6 121.8h0M73.6 123.5h0M89.4 124h0M79.3 126.7h0M84.5 118.9h0M74.5 127.8h0M74.3 117.2h0M79.3 121.7h0M83.1 132.8h0M76.7 116.8h0M83.9 113.6h0M68.4 123.5h0M79.1 110.9h0M82.9 121.8h0M79.6 128.4h0M84.1 115.4h0M82.2 124.6h0M85.6 126.7h0M83.4 117.7h0M78.4 119.1h0M79.1 115.1h0M73.1 117.3h0M92.8 108.6h0M81.5 123.5h0M77.3 137.9h0M73.6 134.5h0M80.6 127.3h0M83.6 119.1h0M82.8 114.6h0M78.9 119.3h0M70.5 122h0M89 126.4h0M72.5 125.3h0M77.4 127.8h0M69.6 134.9h0M70.6 122.6h0M81.3 121.3h0M86.3 125h0M77 135h0M39.4 117.6h0M39.4 110.8h0M39.3 132.9h0M39.2 135.3h0M39.3 119.4h0M39.4 116.4h0M39.3 114.1h0M39.4 149.7h0M39.4 135.7h0M39.4 124.9h0M39.4 150.7h0M39.3 150.3h0M39.2 145.2h0M39.3 142h0M39.4 152.2h0M39.2 111.4h0M39.2 116.9h0M39.4 136.6h0M39.2 150.1h0M39.3 154.6h0M39.5 109.7h0M39.3 137.2h0M39.2 133.2h0M39.5 151.3h0M39.4 146.8h0M39.6 153.6h0M39.3 127.4h0M39.2 150.3h0M39.2 140.2h0M39.4 135.9h0M39.2 112.4h0M39.5 134.9h0M39.3 148.9h0M39.2 140.8h0M39.3 114h0M39.3 116.9h0M42.3 155.5h0M43 155.5h0M53.1 155.5h0M55.5 155.2h0M62.4 155.4h0M46.4 155.3h0M57.3 155.5h0M74.2 155.7h0M43.1 155.3h0M42.1 155.4h0M57.5 155.4h0M58.2 155.6h0M62.8 155.5h0M70.9 155.4h0M48.1 155.2h0M49.5 155.4h0M66.3 155.4h0M44.8 155.6h0M77.9 155.4h0M42.6 155.6h0M50.9 155.4h0M71.1 155.3h0M58.5 155.5h0M72 155.6h0M52.8 155.7h0M47.1 155.6h0M42.6 155.4h0M69.1 155.6h0M67.8 155.6h0M72.3 155.7h0" stroke="#000" stroke-width="0.7" stroke-linecap="square" opacity="0.3" fill="none"/><path d="M52.7 148.6h0M47.9 149.5h0M48.4 146.2h0M51.9 148.1h0M48.6 148.3h0M54.1 144.1h0M49 148.5h0M52.1 146.7h0M55.3 144.7h0M43.5 147.9h0M51.2 150.1h0M49.6 146.5h0M51.5 147.4h0M53.6 142.1h0M53.2 145.6h0M54.3 146.8h0M41.9 154.5h0M51.1 144.8h0M50.5 149.2h0M44.8 152.5h0M54.8 147.9h0M45.9 148.5h0M53.6 144.2h0M48.9 142.2h0M57.6 138.2h0M43.8 152.3h0M51.1 144.7h0M41.6 153.8h0M49.9 145.3h0M49.8 146.1h0M46.5 151h0M49.9 147.3h0M44.2 149.4h0M48.2 147.1h0M51.3 146.5h0M48.8 147.6h0M52.5 147.8h0M46.5 151.6h0M54.2 146.2h0M47.9 149.1h0M57 139.8h0M52.9 144.7h0M56.6 143.2h0M52.6 144.1h0M49.5 151.1h0M44.3 149.8h0M47.6 146h0M51.1 143.8h0M49.8 146.8h0M41.2 153.2h0M43.7 151.4h0M40 152.5h0M53.4 145.6h0M56 146.9h0M52.6 145.1h0M50 148.6h0M43.9 148.9h0M51.6 150h0M45.6 150.6h0M47.8 150.2h0M51.2 146.3h0M53.2 144.5h0M45.3 154.9h0M49.7 148.1h0M52.2 144h0M47.2 147.3h0M52.6 146.4h0M49.3 144.8h0M45.1 147.2h0M43.7 149.7h0M51.5 147.3h0M43.3 152.9h0M52.9 148.8h0M51.8 142.8h0M52 146.4h0M50.4 145.3h0M55.7 143.7h0M45.7 146h0M47.5 145.8h0M45.6 153.6h0M50.6 149h0M55 145.5h0M47 146.6h0M49.3 147.9h0M49 147.2h0M49 144.7h0M52.9 142.7h0M49.4 145.6h0M54.7 142.9h0M45.8 149.1h0M52.1 143.1h0M44.1 149.9h0M49.9 140.8h0M55.8 148.4h0M50.1 149.2h0M47.5 144.7h0M48.7 149.4h0M45.1 149.7h0M47.6 149.6h0M59.9 141h0M46.3 153.2h0M48.2 147.4h0M52.6 147.2h0M51.1 147.3h0M49.3 144.9h0M53.9 146.6h0M44.9 146.6h0M47.6 149.1h0M55.7 143.9h0M50.3 147.5h0M43.4 150.7h0M51.1 148h0M54.8 147.7h0M46.6 148.4h0M48.5 149.2h0M58.1 142.3h0M49.6 145.4h0M46.5 153.4h0M50.9 149.7h0M52.7 144.3h0M49.9 145.2h0M52.3 145.4h0M54.3 147.2h0M48.3 150.1h0M51.1 145.3h0M52.2 148.5h0M51.5 148.4h0M52.5 148.3h0M49 147.1h0M50.1 142h0M49.3 151h0M48.7 152.1h0M55.9 142.2h0M47.2 149.9h0M55.3 147.6h0M55.3 142.1h0M52.9 144.2h0M54.7 145.1h0M55.6 143.3h0M51.9 143.1h0M46.5 150.6h0M51.2 148.4h0M58.6 140.2h0M44 148.7h0M48.6 150.7h0M51.1 145.8h0M52.5 145.2h0M50.9 146.5h0M45.2 152.1h0M52.9 150.3h0M49.7 146h0M49.9 145.6h0M49.4 146.7h0M50.3 144.9h0M49.1 146.9h0M45.9 149.7h0M53.5 146.5h0M51.1 146.2h0M53.5 144.3h0M50.9 142.7h0M44.3 149.2h0M54.3 143.8h0M50.7 144.3h0M46.6 155.6h0M58.5 145.6h0M49.3 146.1h0M50.7 146.1h0M45.5 144.5h0M48.6 143.1h0M46.3 146.1h0M56.8 139.9h0M48.7 148.8h0M48.9 148.4h0M53.1 143.7h0M51.9 145.6h0M44.9 151.1h0M46.6 151.7h0M50.1 147.4h0M53.2 143.2h0M48.2 151.5h0M53.3 145.9h0M41.8 152.5h0M45.4 148.7h0M41.6 148.9h0M48.5 148.9h0M47.7 148.2h0M51.7 149.1h0M47.7 148.9h0M61.3 139.7h0M52.1 143.1h0M45.1 149.3h0M62 137.9h0M55.3 142.6h0M42.9 147.5h0M51.7 148.4h0M46.3 148.6h0M44.6 149h0M53.6 143.5h0M46.3 150.9h0M51 146.3h0M58.8 142.1h0M53.5 142h0M51 149.3h0M54 146.5h0M43.5 150.7h0M58.5 144.9h0M56.5 144.7h0M52.7 139.1h0M51.2 148.1h0M54.1 142.2h0M55.2 145.5h0M49.4 151h0M56.3 145h0M48.3 148.8h0M51.6 149.8h0M59.5 139h0M58.9 142.3h0M46.4 147.8h0M56.8 143.4h0M47 148.6h0M48.2 148h0M57 141h0M45.5 143.2h0M53.1 147.2h0M58.1 140.4h0M48.3 147.3h0M44.7 150.5h0M46.5 148.9h0M51.4 147.9h0M52.7 150.7h0M52 147h0M52.1 145.5h0M54.3 144.7h0M43.7 150h0M54.7 140.4h0M57.7 142.4h0M52.4 148.3h0M50.5 145.7h0M40 152.2h0M45.7 151.4h0M49.5 145.3h0M56 145.2h0M59.8 141.3h0M44.9 150.7h0M54.2 146.3h0M44.9 151.5h0M53.3 145.8h0M42.6 150.9h0M49.3 147h0M53.6 143.9h0M40 148.8h0M51.3 144.4h0M51 148.9h0M47.7 148.5h0M42.6 149.2h0M53.7 147.2h0M47 148.6h0M51 145.4h0M49.9 146.2h0M52.1 144.6h0M46.6 146.2h0M45.2 146.9h0M50.4 149h0M43.6 149.3h0M47.2 149.9h0M48.4 147.4h0M45.6 149.3h0M47.7 146.7h0M56.6 143.9h0M49.7 148h0M60.5 141.6h0M47.7 148.5h0M55.4 144.5h0M48.9 148h0M44.9 149.7h0M48 147.8h0M55.9 143.3h0M55 143.8h0M44.8 153.1h0M47.6 148.4h0M56.2 146.1h0M52 148.6h0M48.6 149.4h0M47.1 151.1h0M48.3 149.6h0M46.3 152.6h0M56.8 142.1h0M49.3 145.3h0M47.7 145.3h0M53 144.9h0M55 143.8h0M48.2 146.4h0M52.6 145h0M43.4 148h0M54 144.2h0M49.2 146.4h0M47.7 148.5h0M49.7 144.6h0M71.5 148.1h0M74 147.2h0M78.8 140.8h0M81.8 140.4h0M75.5 142.9h0M73.9 143.8h0M73.4 145.7h0M78.4 143.4h0M79.2 141.2h0M77.3 142h0M77.1 143.4h0M75.5 142.4h0M70.6 148.6h0M70.8 145.3h0M75.8 142.8h0M76.9 144.5h0M68.1 147.8h0M76 141.2h0M78.3 143.8h0M74.8 144.5h0M73.8 145.8h0M72.3 145.3h0M71.2 144.9h0M79.1 141.3h0M77.1 140.3h0M69 145.9h0M82.9 140.8h0M83.3 138.3h0M77.1 143h0M73.7 145.3h0M74.6 144.6h0M66.5 147.2h0M71.3 148.1h0M77.5 141h0M76.1 142.3h0M69.3 145.8h0M86.7 137.1h0M74.8 145.5h0M74.9 142.3h0M84.5 141.2h0M77.2 141.3h0M74.3 144.3h0M71.5 149.4h0M74.2 143.5h0M73.2 144.3h0M64.2 150.2h0M79.4 141.5h0M76.2 142.9h0M67.6 148.8h0M76.6 141.4h0M69.5 146.1h0M67.6 144.6h0M72.4 144.4h0M75.6 145h0M69.8 144.6h0M74.4 145h0M80.9 141.6h0M75 143.8h0M67.8 148.8h0M77.6 142.1h0M73.4 145.2h0M76.5 143.5h0M75.3 141.5h0M71.2 143.7h0M79.2 144.8h0M71.1 145.8h0M75 142.7h0M81.5 140.3h0M84.6 141.3h0M76 142.1h0M79.7 140.7h0M71 145.8h0M78.6 140.6h0M74 145.5h0M73.8 145.6h0M79.1 140.7h0M68.9 145.6h0M79.9 141.6h0M74.5 143.5h0M78.5 141.1h0M85.7 138h0M68.5 148.9h0M75.5 143.4h0M74.4 145.7h0M73.3 146.8h0M71.8 146.8h0M68.8 148.6h0M70.3 146.1h0M77 141.5h0M76.6 142.8h0M80.3 141.9h0M75.3 143.3h0M71.6 147.6h0M72.7 143.4h0M70 144h0M70.6 145.7h0M75.9 144.4h0M76.7 140.3h0M72.8 145.8h0M75.8 143.3h0M71.5 146.7h0M73.9 144h0M73.8 144.1h0M76.2 144.5h0M74.3 143.3h0M73.8 144.2h0M76.8 143.7h0M81.6 141.1h0M66.9 147.2h0M69.4 147.4h0M84.2 139h0M72.9 146.8h0M76.4 141.8h0M71.3 147.8h0M76.2 140.2h0M71.6 146.4h0M68.8 147.3h0M69.8 144.5h0M71.9 144.8h0M74.4 141.7h0M75.2 143.1h0M68.5 149.1h0M72.7 145.6h0M80.9 140.8h0M78.3 142.1h0M72 145.7h0M68.1 148.3h0M77.9 142.6h0M70.8 144.5h0M71.1 145.6h0M69.6 149.4h0M71 146.2h0M72.4 145.4h0M64.9 148.2h0M74.1 144.2h0M75.6 142.6h0M77.8 142.4h0M74.1 144.3h0M78.6 141.6h0M80.7 140.6h0M75.3 143.6h0M75.8 143.9h0M72.2 146.4h0M85.1 138.6h0M74.3 143h0M70.6 145.1h0M74.9 142.8h0M80.6 139.9h0M70.1 145.3h0M73.8 144.2h0M77.7 141.2h0M76.2 144.3h0M72.1 143.1h0M75.8 144.6h0M75.9 143.2h0M67.2 150.4h0M72.8 143.4h0M73 145.1h0M73.9 143.1h0M84.9 139.7h0M78.7 142.4h0M71.9 143.9h0M69.6 148.3h0M75.5 145.6h0M65.7 150.9h0M75.8 142.5h0M77.5 141.4h0M73.4 145.3h0M75.1 144.1h0M75.7 144.7h0M69.6 144.1h0M69 143.9h0M81.9 138.8h0M74.3 144.6h0M70.8 145.5h0M75.3 143.5h0M77.4 142h0M70.6 144.3h0M67.4 148.4h0M75.3 143h0M77.7 138.5h0M76.2 141.4h0M72.7 144.7h0M71 145.6h0M76.8 145.9h0M74.7 144.9h0M77.1 141.2h0M76 142.6h0M77.6 141.4h0M78.1 140.7h0M72.8 146.1h0M78.9 142.6h0M83.1 140.4h0M74.7 145.1h0M71.3 146.9h0M75.8 143h0M71.9 146.9h0M65.9 148.8h0M68.2 147.2h0M71.9 144.4h0M71.9 145.9h0M83.4 141.2h0M73.2 144.2h0M76.3 141.8h0M68.7 148.7h0M73.4 146.7h0M74.8 141.9h0M75.7 143.9h0M73.7 142.6h0M69.1 149.6h0M62.1 149.9h0M78.6 144.1h0M76.9 142.6h0M76.5 144.4h0M72.8 146.7h0M75.4 143.8h0M76.2 143.4h0M71.3 147.9h0M72.1 145h0M63.5 148.1h0M76.5 142.7h0M73.6 144h0M76.4 142h0M67.2 146h0M71.1 146.4h0M80.5 141.3h0M70.6 144.4h0M77.9 142.7h0M74.4 144.9h0M77 143.3h0M78.8 139.4h0M71.2 145.2h0M71.3 148.5h0M76 143.7h0M77.4 142h0M77.6 141.9h0M77.7 142.9h0M78.7 139.5h0M70 145.6h0M71.1 146.5h0M78 141.5h0M79.2 142.5h0M72.2 146.2h0M79.9 140.2h0M65.5 149.9h0M75.8 144.1h0M76.3 142.9h0M73.7 143.3h0M83.2 141.1h0M73.2 143.6h0M77 144.7h0M74 143.2h0M78.3 142.2h0M70.9 145.8h0M74.3 142.6h0M76.2 144.8h0M79.4 142.9h0M77.3 142.3h0M77.5 143.9h0M74.8 144.6h0M71.7 145.6h0M71.7 144.2h0M77.2 145.4h0M67 147.7h0M74.7 142.9h0M75.5 144.6h0M67.5 147.9h0M77.1 143.3h0M81.9 140h0M79.1 140.6h0M70.3 145.7h0M73 146.1h0M77.4 142.4h0M70.7 146.4h0M72.4 144.7h0M68.1 149.8h0M78.5 145.8h0M85.4 137.8h0M83.2 138.4h0M85.8 137.5h0M66.8 148.5h0M78.7 144h0M79.4 143.6h0M74.2 142.1h0M74.5 142.8h0M76.5 139.9h0M69.6 145.3h0M75.4 144.9h0M72.3 143.5h0M72.2 145.2h0M79.2 141.5h0M78.4 137.9h0M83 142.1h0M73.8 148.1h0M68.5 148.8h0M68.6 146.6h0M76.6 143.1h0M75.5 143.2h0M65.8 146.8h0M70.3 145.1h0M71.4 143.5h0M74.2 144.9h0M73.1 146.7h0M75.8 144.6h0M70.8 146.5h0M67.4 145.5h0M66.9 147.9h0M76.6 145.7h0M75.4 143h0M78.8 141.7h0M74.5 144.2h0M79.4 143.4h0M68.5 147.6h0M72.4 145.3h0M84 138.2h0M64.7 150.9h0M71.8 144.3h0M84.7 140.9h0M78.8 141.9h0M72.2 147.4h0M73.5 144.9h0M73.7 144.7h0M65.4 147.6h0M67.7 144.9h0M69.2 146.4h0M73.5 144.5h0M73.2 146.2h0M65.4 148.5h0M72.9 143.8h0M80 140.7h0M79.2 142h0M73.8 145.8h0M67.6 146.3h0M71.3 142.6h0M72.5 144.9h0M66.5 147.2h0M70.3 149.7h0M79.9 141.7h0M76 145h0M75.5 145.1h0M79.3 144.2h0M78.4 141h0M77.6 143.8h0M78.4 144.8h0M75.3 143h0M78.7 143.2h0M74.6 144.7h0M75.1 144h0M75.6 142.8h0M77.6 142.7h0M81.8 140.3h0M74.1 142.6h0M83.6 138.4h0M72.1 145h0M74.3 144h0M81.1 139.5h0M73.1 144.2h0M75.9 140.9h0M78.3 141.3h0M69.3 149h0M69.3 148h0M74 143.4h0M67 147.3h0M77.5 142.2h0M72.6 146.5h0M74.6 144.1h0M69.9 144.7h0M72.6 145.5h0M72.8 145.4h0M73.2 144.5h0M74.4 144.6h0M65.1 149.5h0M73.3 144.1h0M79.1 142.9h0M79.6 142.1h0M76.3 143.1h0M77.1 141.6h0M74 144.7h0M73 143.2h0M73.7 143.9h0M72 146.3h0M78.9 141.6h0M69.5 146.7h0M72.9 143.5h0M71.9 145.7h0M72.2 146h0M69.3 147.9h0M71.5 145.9h0M74.1 143.5h0M77.6 139.8h0M75.5 144.3h0M73.3 144.6h0M69.5 146.8h0M74.7 143.1h0M74.2 143.7h0M70 146.5h0M71.6 146.9h0M71.9 147.4h0M74.2 144.1h0M71.5 146.3h0M69.1 145h0M74.8 140.9h0M78.7 140.8h0M81 140.6h0M80.3 138.7h0M72.6 145.4h0M72 145.5h0M74 145.2h0M79 138.4h0M76.2 141.4h0M80.2 138.6h0M71.1 146.6h0M74 145.2h0M75.4 142.4h0M68.2 149.2h0M73.3 144.5h0M72.8 144.6h0M71.3 145.9h0M74.6 142.2h0M68 148.5h0M77.6 141.4h0M73.3 144h0M75.9 143h0M71.5 144.7h0M76.4 143.4h0M72.7 145.5h0M61 151.1h0M73.8 141.6h0M72 145.7h0M79.8 141.4h0M69.6 148h0M73.6 145.6h0M67.5 145.8h0M67.9 148.6h0M79.4 141.5h0M75 143.6h0M74.5 142.6h0M79.9 141.9h0M78.3 141.7h0M78.4 143h0M85.5 139.1h0M70.7 145.1h0M78.2 142.5h0M76.6 142.8h0M71 146.2h0M68.3 147.9h0M84.3 139.3h0M70.2 145.3h0M84.8 138.9h0M72.5 145.9h0M72.3 143.8h0M75.2 144.3h0M79 139.7h0M80.4 140.2h0M66.5 149.9h0M78.8 142.2h0M77.3 141.1h0M75.5 141.2h0M73 148.3h0M81.5 140.4h0M76.5 142.9h0M77.1 142.7h0M70.2 146h0M65.7 147.9h0M73.8 144.9h0M82.8 137h0M83 138.5h0M72.5 145h0M83 137.6h0M73 145.6h0M78.6 142.1h0M75.4 144.8h0M71.1 148.1h0M72.5 145.7h0M70 145.7h0M78.9 142.2h0M74 145.3h0M86.6 133.7h0M65.7 149.3h0M67.7 149.3h0M77.5 112.5h0M80 110.4h0M84 107.8h0M80.6 110.8h0M74.2 112.3h0M78.1 110.3h0M77.9 109.5h0M74.5 113.5h0M78.6 110.9h0M77.9 111h0M75.2 114h0M81.6 107.7h0M77.8 111.3h0M77.8 111h0M79 108.9h0M81.3 109.3h0M76.1 111.9h0M78.6 110.3h0M78.6 109.3h0M79.3 110.4h0M80.3 109.9h0M77.4 111.4h0M81.8 108.7h0M79.7 110h0M80.1 108.6h0M79.1 110.9h0M76.6 112.2h0M77.5 110.9h0M75.4 111.7h0M81.9 107.4h0M78.9 109.3h0M85.1 107.2h0M76.3 111h0M78.3 111h0M84.3 108.2h0M76.2 112.2h0M81.4 108.3h0M77.9 111.7h0M75 112.7h0M78.7 110.3h0M78.5 109.3h0M81.2 108.6h0M85.4 108h0M78.3 112.2h0M82.8 107.4h0M78.7 111.5h0M76.8 111.4h0M71.2 113.9h0M75.3 111.9h0M77 111.7h0M79.6 109.6h0M75.1 112.8h0M80.8 109.2h0M82.8 107.6h0M81.5 109h0M83.4 108.9h0M75 111.3h0M82.1 108.7h0M79.8 109.4h0M77.2 112.3h0M80.2 109.2h0M79.2 110.4h0M75 112.2h0M80.5 109.5h0M75.1 112.9h0M85 107.2h0M75 112.3h0M76.9 110.9h0M76.4 111.4h0M78.3 109.7h0M81.8 108.9h0M85 107.4h0M82 108.9h0M78.3 109.9h0M81 109.2h0M77.3 111.7h0M79.7 109.4h0M83 107.5h0M79.7 110.7h0M77.4 111h0M80.2 109.3h0M77.2 110.5h0M79.5 109.7h0M81.8 109.4h0M79.2 110.8h0M77.5 112.5h0M77.4 111.2h0M77.8 110.7h0M81.3 108.9h0M76.7 112.3h0M79.3 110.6h0M79.5 109.7h0M73.7 113.3h0M76.9 112.5h0M78.9 111.5h0M86.1 107h0M85.6 105.6h0M77.2 110.6h0M74.7 111.9h0M81.3 108.3h0M78.3 111.2h0M78.4 111.9h0M82.7 108.6h0M84 107.7h0M79.9 110.6h0M81.6 107.7h0M82.6 109h0M73.2 115.4h0M80 110.8h0M75.7 112.5h0M76.7 111h0M79.3 109h0M79.2 110.7h0M76.5 111h0M81 109.9h0M81.5 108.4h0M78.3 111.8h0M81.7 109h0M79.6 109.8h0M81 109.6h0M79.2 110.4h0M75 112.6h0M83.7 107.7h0M74.9 112.4h0M79.8 111h0M85.2 106.6h0M78.6 110.6h0M76.3 113h0M75.8 112.8h0M77.4 110.5h0M80.6 110.7h0M75.6 112.5h0M77.4 112.1h0M74.3 112.1h0M77.5 110.2h0M81.3 107.8h0M79 109.9h0M81.7 108.3h0M79.1 111.6h0M81.3 109.9h0M83.3 108.1h0M79.3 108.8h0M73.9 113.1h0M80.2 110.4h0M76.7 111.5h0M84.6 106.1h0M78.4 110.6h0M77.5 112.4h0M74.3 112.9h0M73.9 112.8h0M82.8 106.5h0M74.2 113.2h0M79.8 109.3h0M80.2 109.4h0M77.9 111h0M82.1 107.5h0M81.6 109h0M78.2 110.3h0M80.3 110.2h0M76.6 112.4h0M79.4 110.7h0M79.7 109.7h0M79.9 110.3h0M74.8 112.8h0M72.1 114.6h0M77.6 111.2h0M82.2 109.1h0M83.5 108.4h0M78.1 110.2h0M86.2 105.4h0M78.1 111.2h0M76.7 111.8h0M79.4 109.6h0M76 112.1h0M79.9 109h0M79.4 110.1h0M76.6 112.1h0M75.4 113.2h0M77.3 112.1h0M79.3 110.2h0M75.4 113.1h0M76.6 113.5h0M80.3 109.7h0M79.3 110.7h0M80.5 109.7h0M81.5 108.7h0M83.2 106.6h0M74.5 113.5h0M78.4 109.5h0M75.3 112h0M82.9 108.5h0M73.8 112.4h0M79 109.4h0M77 111h0M79.4 110.6h0M76.8 111.2h0M80.4 110.8h0M80.1 109.4h0M81.7 108.6h0M75.3 113.1h0M83.4 106.8h0M80.8 108.3h0M78.7 110.4h0M78 110.9h0M80.8 108.8h0M78.3 110.5h0M79.6 109.5h0M81.4 109.1h0M76.9 110.6h0M78.6 111.4h0M80.9 109.2h0M85.4 107.7h0M81 110.2h0M78.2 110.5h0M79 108.8h0M78.9 110h0M83.1 108.3h0M83.4 107.3h0M83.3 107.8h0M80.7 109.6h0M75.7 113h0M77.9 111.5h0M78.5 109.8h0M78.2 111h0M78.8 111.8h0M82.6 108.3h0M78.5 111.8h0M79.5 110.9h0M74.4 111.5h0M81.6 109.5h0M47.2 155.1h0M51.6 155.6h0M48.3 155.5h0M52.6 155.5h0M42.6 155.7h0M42.9 155.3h0M53.9 155.3h0M49.2 155.6h0M43.8 155.5h0M53.1 155.5h0M46.6 155.4h0M43.2 155.5h0M54.1 155.6h0M43.1 155.5h0M53.7 155.6h0M46.7 155.5h0M49.4 155.5h0M45.1 155.5h0" stroke="#000" stroke-width="0.8" stroke-linecap="square" opacity="0.5" fill="none"/></g><text x="49.1" y="125.5" font-family="Liberation Serif,serif" font-size="4.8" class="lb" fill="#777" text-anchor="middle">30.2</text><path d="M49.4 128.6V132.2" stroke="#333" stroke-width="1" fill="none"/><path d="M49.4 134.6l-1.4 -3h2.8z" fill="#000"/>
<path d="M119.4 104.2H181V157.4H119.4Z" fill="none" stroke="#787878" stroke-width=".9"/><path d="M142.5 104.2V157.4M119.4 134.3H181" fill="none" stroke="#909090" stroke-width=".9"/><path d="M115.5 156.6l1.2 1.9M118.4 160.9l1.8 -1.2M115.5 143.3l1.2 1.9M133.8 160.9l1.8 -1.2M115.5 130l1.2 1.9M149.2 160.9l1.8 -1.2M115.5 116.7l1.2 1.9M164.6 160.9l1.8 -1.2M115.5 103.4l1.2 1.9M180 160.9l1.8 -1.2" stroke="#3a3a3a" stroke-width=".95" fill="none"/><text x="149.6" y="163.8" font-family="Liberation Sans,sans-serif" class="ns" font-size="2.1" font-weight="bold" fill="#333" text-anchor="middle">YO-PRO</text><g clip-path="url(#c4)"><clipPath id="c4"><rect x="119.4" y="104.2" width="61.6" height="53.2"/></clipPath><ellipse rx="16" ry="7" transform="translate(131.5 146.5) rotate(-33)" fill="url(#hg)" opacity="0.2"/><ellipse rx="17" ry="5.5" transform="translate(158 140) rotate(-27)" fill="url(#hg)" opacity="0.2"/><ellipse rx="15" ry="13" transform="translate(160 118) rotate(-60)" fill="url(#hg)" opacity="0.16"/></g><g filter="url(#bl)"><path d="M133.1 149.1h0M125.3 153.4h0M132.2 148.3h0M135.7 144.2h0M138 136.8h0M130.7 151h0M125.7 153.1h0M132.1 147.2h0M133.8 140.4h0M137.8 145.1h0M121.9 148.6h0M121.1 154.4h0M144.2 148h0M140.1 139h0M122.3 156.5h0M136.6 143.4h0M132.3 151.8h0M139.8 137.4h0M135.4 141h0M133.6 148.6h0M141 140.6h0M134.2 146.9h0M127.8 151.7h0M130.5 144.2h0M130.2 146.2h0M129.4 150.6h0M138.3 145.8h0M129.5 150.4h0M132.5 152.4h0M125.9 154.1h0M124.7 144.3h0M133.9 139.8h0M125.3 150.2h0M133.9 144.5h0M134.5 145.6h0M139.8 138.8h0M135.5 142.8h0M125.2 149.5h0M137.6 146.5h0M134.9 145.2h0M128.7 152h0M144.6 139.3h0M143.2 139.4h0M131.3 150.1h0M131.7 145.5h0M127.9 149.3h0M128.3 142.4h0M137.6 149.1h0M134.6 146.3h0M136.5 146.7h0M135.9 142.4h0M124.6 152.8h0M133.3 143.3h0M130.4 149h0M140.8 138.2h0M125.2 150.6h0M125.2 148.7h0M127.2 153.8h0M134.7 145.1h0M147.6 148.3h0M136.9 146.4h0M126.1 152.3h0M124.7 145.2h0M133.1 143.3h0M140.6 139.6h0M128.1 145.4h0M130.2 147.1h0M134.3 141.8h0M124.8 146.8h0M126.2 148.4h0M129.2 145.5h0M136.1 140.8h0M132.8 145.2h0M134 145.2h0M128.6 148.4h0M127.7 148.4h0M140.5 143.9h0M138.9 138.6h0M140.1 142.6h0M135.2 143.1h0M141.4 136.7h0M130.7 141.9h0M130.2 148.8h0M133.5 146.3h0M138.3 138.2h0M121 152.2h0M148 138.6h0M132.2 149.7h0M127.2 152.1h0M127.6 146.4h0M124 149.2h0M136.3 150.3h0M139.3 145h0M133.6 151.7h0M133.3 150.9h0M124.5 153.4h0M124 150.2h0M127.1 142.5h0M134.1 145.1h0M128 142.8h0M128.9 152.1h0M128.4 147.9h0M130.3 146.5h0M124 150.8h0M127.1 144.3h0M121.9 153.6h0M127.4 146.8h0M128.2 149.5h0M137.4 141.1h0M126 151.7h0M139.3 142.8h0M127.5 152.7h0M126.5 145.3h0M133.7 152.8h0M130 144.9h0M134.9 141.3h0M140.1 143.6h0M122.1 151.1h0M127.6 146h0M133.4 144.4h0M143 140.1h0M139.3 145.2h0M135.7 146.9h0M128.6 152.2h0M139.7 145.3h0M126.9 147.5h0M138.9 141.5h0M149 137.1h0M125 153.2h0M129.8 140.5h0M123.8 143.3h0M146.6 132.3h0M125.4 149.2h0M128.3 153.2h0M127.3 143.9h0M137 144.2h0M123.8 155.1h0M121.2 149.9h0M140.2 139h0M130.3 144.2h0M126 142.5h0M128.1 145.8h0M136.7 141.5h0M125.1 148.9h0M132.6 144.6h0M142.3 134.3h0M136.7 149.8h0M125 145.8h0M141.3 147.2h0M127.8 152.1h0M136 144h0M136.3 142.3h0M135.2 143.1h0M128.5 144.4h0M131 146.5h0M124.3 148.5h0M131.3 151.9h0M135.7 146.3h0M141.2 142.8h0M144.8 143.2h0M136 143.2h0M132.2 145.8h0M124 145.6h0M131.9 141.2h0M139 148.2h0M130.5 143.6h0M128.3 150.8h0M130.1 145.8h0M131.2 142.3h0M125.5 151.9h0M127.8 151.2h0M128.4 148.8h0M132.6 150.5h0M129.8 147.9h0M124.4 151.7h0M130.9 148h0M132.5 147h0M135.8 147.5h0M124.2 149.3h0M130.5 141.6h0M142.5 131.9h0M134.1 143h0M138.2 147.8h0M142.5 136.7h0M130.6 144.2h0M122.8 152.6h0M125.3 145.9h0M128.3 146.3h0M124.4 151.8h0M135.6 145.2h0M125.5 147.1h0M136.4 140.1h0M120.5 149.2h0M140.3 140.1h0M128.8 148.5h0M131 145.6h0M131.5 148.9h0M135.8 139.6h0M130.5 146.9h0M136.7 152h0M137.2 145.6h0M131.7 148.4h0M141.4 144.6h0M126.5 150.4h0M132 142.2h0M128.5 146.8h0M137.3 142.9h0M145.4 139.5h0M129.1 149h0M130.8 144h0M131.5 141.3h0M132 144.5h0M131 144.3h0M141.6 137.5h0M136.8 143.4h0M137.9 139.8h0M124.4 153.7h0M139.4 143.8h0M141 140.4h0M126.5 151.6h0M137.8 147.5h0M128.5 147.7h0M122.4 151.9h0M127 149.5h0M127.4 150.9h0M129.7 145.2h0M136.1 145.4h0M129.5 147.1h0M137.6 144.4h0M133.7 152.3h0M126.2 145.2h0M127.7 149.8h0M135.8 140.2h0M131.8 141.7h0M130.9 146.1h0M138.4 135.2h0M125.1 143.8h0M127.8 147.8h0M133.2 149.2h0M124.6 149h0M141.1 140.5h0M125.2 150.7h0M122.9 148.9h0M125.5 144.9h0M142.5 137.9h0M132.5 144.9h0M129.4 144.9h0M133.5 143.6h0M127.5 152.5h0M142 141.3h0M134.3 143.5h0M133.4 147.9h0M133.9 149.8h0M141.1 141.1h0M131.5 143.4h0M127.5 146.7h0M127.7 145.7h0M134.5 145.8h0M133.2 151.4h0M133 145.3h0M131.7 144.2h0M134.9 141h0M134.5 151.8h0M131.5 142.6h0M126.1 154.2h0M139.3 139.8h0M132.4 144.2h0M126.1 151.6h0M128.1 151h0M132.6 143.6h0M132 146.3h0M130 146.6h0M138.2 139.5h0M134.2 148.5h0M133.4 143.8h0M123.6 150.6h0M133.5 150h0M137.3 146.5h0M134.9 145.2h0M120.2 151.8h0M129.8 147.3h0M120.9 147.8h0M132.2 145.1h0M131.2 145.9h0M128 144.6h0M137.7 143.9h0M134.1 151h0M128.2 151.7h0M131.1 146.8h0M137.1 142.9h0M129.3 143.6h0M134 146.4h0M126.8 145.3h0M138 142.8h0M138.9 141.5h0M146.1 132.7h0M136.4 143.9h0M132.7 145h0M136.5 146.4h0M130.4 143.5h0M139.4 145h0M124.3 152.1h0M142.3 141.7h0M128.7 149.4h0M131.9 142.3h0M129.2 146.9h0M131.5 151.3h0M128.9 152.7h0M130.5 146.2h0M132.6 151.4h0M144.4 139h0M124.8 149.9h0M121.7 156.2h0M132 150.2h0M126.5 147.1h0M134.8 136.7h0M124.5 150.8h0M141.3 146.9h0M142.6 140.3h0M120.8 150.5h0M134.8 144.4h0M126.2 149.7h0M136.1 151.6h0M130.4 149.3h0M134.6 147.2h0M129.5 153.2h0M141 142.2h0M122.7 148.4h0M130 147.1h0M125.6 149.9h0M121.1 152.6h0M123.2 152.9h0M126.3 144.7h0M128.2 147.9h0M141 142.8h0M130.1 150.3h0M132.3 148.8h0M151.4 142.4h0M154.2 141.8h0M151.8 140.8h0M171.8 130.8h0M160.3 139.9h0M169.6 137.3h0M156.2 142.7h0M165.4 137h0M140.1 144.4h0M154.2 146.7h0M165.8 135.4h0M159.2 140h0M158.9 141.5h0M151.4 142.2h0M154.8 138.1h0M147.3 143.3h0M149.2 146.9h0M166.6 136.7h0M149.9 145.1h0M157.2 136.5h0M167.3 136.2h0M160.9 132.5h0M152.9 148.4h0M152.7 147.3h0M160.8 136.9h0M150.8 141.3h0M151.6 136.8h0M171.9 139.5h0M159.6 139.3h0M153 142.2h0M155 144.6h0M151.6 142.9h0M171.2 136.9h0M150.6 138.9h0M171.4 130.4h0M155.3 141.5h0M163.5 135.7h0M154.6 140.6h0M149.9 147h0M154.5 142.3h0M153.3 144.8h0M172.3 130.4h0M158.3 139.7h0M168.9 132.6h0M167.2 135.8h0M164.4 135.1h0M151.5 142.5h0M164.8 136h0M165.9 140.1h0M144.4 144.2h0M152.4 141h0M160.8 135.3h0M150.8 143.4h0M157.6 140.4h0M155.8 136.7h0M154.1 143.3h0M160.7 139.6h0M148.3 143.2h0M143.6 146.8h0M150.9 145.5h0M156.7 143.8h0M174.9 131.7h0M159.7 135.6h0M150.9 137h0M155.1 147.9h0M164.3 140.2h0M155.7 140.3h0M158.5 138.4h0M162.4 139.3h0M144.8 141.2h0M155.7 140.6h0M147.1 147.6h0M169 135.5h0M146.9 146.4h0M151.3 146.2h0M160.8 139.4h0M165.3 137.8h0M176.5 126.2h0M159.8 141.3h0M160.8 131.1h0M165.7 134.5h0M151.7 148.1h0M157.4 142.4h0M163 138.9h0M166.6 136.3h0M167.9 134.7h0M152.4 146.9h0M159.2 141.4h0M143.4 140.6h0M159.1 140.1h0M168.3 130.9h0M151.3 144.2h0M167.6 135.6h0M162.9 139.7h0M176.4 134.2h0M153.8 137.7h0M143.8 146.6h0M150.7 144.1h0M153.8 135.7h0M166.2 137.3h0M149.5 140.8h0M169.5 134.5h0M154.7 139h0M154.2 146.3h0M152 143.1h0M154.4 141.4h0M149.6 147.9h0M159.4 141.4h0M149.7 143.8h0M173.5 131.6h0M152.7 138.8h0M153.2 144h0M153.4 140.6h0M168.4 138.9h0M160.1 146.4h0M154.3 140.8h0M144 144.6h0M154.7 148.5h0M148.7 144.6h0M159.5 140.5h0M139.7 149.1h0M148.1 144.8h0M141.8 147.3h0M154.1 138.7h0M159.3 140.3h0M162.6 134.1h0M147.2 145.7h0M157.4 138.5h0M144.5 147h0M165.2 133.5h0M160.5 135.1h0M161.4 134.3h0M165.8 135.5h0M165.9 134.5h0M145.6 143.8h0M150 144.9h0M153.2 144h0M156.1 139.6h0M153.1 141.7h0M163 140.9h0M153.8 142.2h0M167.4 138.8h0M149.3 141.2h0M154.5 145.2h0M155.2 144.1h0M157.1 142.1h0M161 138h0M152.6 143h0M175.3 127.9h0M163.6 136.3h0M146.9 145.5h0M163.2 133.7h0M149.7 146.4h0M148.2 148.5h0M165.8 133.9h0M160.3 142h0M162.6 131.9h0M146.1 146.5h0M168.4 138.8h0M160.7 138.2h0M151.7 145.3h0M160.2 144.3h0M173.9 133.7h0M151.3 143.3h0M166.8 136.1h0M161.4 136.5h0M140.4 151.4h0M171.9 131.4h0M157.4 135.1h0M172.1 139.2h0M167.7 131.9h0M159.1 139.9h0M160 137.3h0M161.8 138.4h0M147.5 142.8h0M171.4 133.6h0M163.9 142.6h0M154.2 145.5h0M166.1 133.6h0M157 141.5h0M143.6 142.9h0M154.6 145.5h0M157.8 144.5h0M144 146.6h0M162 141h0M165.3 139.1h0M163.7 137.4h0M171.3 135.2h0M153.9 144.7h0M163.1 137.8h0M162.4 136.9h0M153 138.2h0M156.3 144.8h0M137.1 150.1h0M163.6 138.9h0M145.5 146.6h0M161.1 141.4h0M158 138.2h0M162.6 137.9h0M149.1 144.8h0M160.1 138.7h0M154.4 141.8h0M159.4 141.2h0M148.6 143.6h0M162.4 136.5h0M149.2 141.2h0M145.5 144h0M158.1 141.7h0M159.3 139.8h0M162.6 137.3h0M147.7 145.7h0M161.5 144h0M160.5 144.6h0M155.1 137.7h0M155.5 140.6h0M156.7 139.8h0M176.8 130.9h0M156.5 140.7h0M158.9 142.5h0M159 142.1h0M150.5 144.6h0M157.3 140.9h0M147.7 143.7h0M146.1 147.6h0M167.8 134.7h0M146.4 145.2h0M164.6 132h0M155.4 141.7h0M154.4 142.7h0M161.7 139h0M166.1 138.6h0M144.1 144.4h0M156.2 141.2h0M158.1 136.8h0M149.9 149.2h0M159.4 140.2h0M169.4 128.7h0M159.4 138.6h0M158.6 143.6h0M155.4 137.4h0M147.2 142.2h0M166.2 134h0M148.5 144.5h0M147.5 146.8h0M159 140.1h0M166.4 134.5h0M163.1 132.7h0M167.3 140.1h0M152.2 145.3h0M150 144.6h0M161.3 136.8h0M149.1 144.5h0M157.7 141.2h0M156.4 136.1h0M167 136.6h0M145.9 146.1h0M168.6 140.2h0M156.1 139.5h0M167.7 134.7h0M155.8 136.8h0M150.1 145.4h0M173 133.1h0M156.1 140h0M147.3 142.4h0M166 140.9h0M154.3 139.6h0M144.9 145.8h0M164.2 132.2h0M156.9 144h0M169.6 131.9h0M160.5 140.1h0M159.1 139.2h0M159.6 139.7h0M156.2 140.4h0M157.6 146.6h0M159.1 142.5h0M152.4 147.1h0M166.5 135.9h0M178.4 131.5h0M171.7 130.3h0M141 151.1h0M157.6 138.5h0M150.3 145.6h0M165.9 138.9h0M157.2 139.3h0M145.9 143.8h0M167.2 131.5h0M156.5 139.5h0M150.9 140.3h0M155.2 142.9h0M156 142h0M151.3 140.8h0M164.1 136.4h0M156.4 142.3h0M165 134.8h0M158.1 139.3h0M167.1 131.5h0M152 143h0M136.7 147.1h0M162.9 140.5h0M170.6 132.5h0M162.2 137.9h0M152 143.9h0M158.9 143.1h0M154.2 138.1h0M159.2 137.7h0M159.3 140.4h0M141.8 144h0M161.5 140.4h0M153 142.5h0M161 136.8h0M156.5 139.4h0M165.9 135.7h0M150.4 144.7h0M151.6 142.5h0M147.6 144.9h0M164.9 138.3h0M161.5 135.8h0M157.6 140.1h0M155.5 140.5h0M153.3 113.2h0M149.2 124.1h0M151.2 114.1h0M157.4 110.5h0M150.3 117.7h0M159.1 112h0M149.8 118h0M151.3 114h0M149.3 116.4h0M151.5 129.2h0M151.5 129.3h0M152.8 123.9h0M158.6 113.8h0M153.1 125.9h0M147.6 120.7h0M151.2 115.6h0M154.4 112.7h0M147.8 131.4h0M154.9 118.1h0M156.8 106.9h0M149.5 114.9h0M154.1 112.2h0M152.6 117.4h0M162 108.6h0M157.8 108.4h0M153.4 114.6h0M159.8 105.6h0M155.7 110.8h0M151.7 125.2h0M151.6 117.5h0M152.1 128.3h0M160.8 109.4h0M153.4 113.4h0M157.5 111.7h0M148.9 129.6h0M162.2 105.3h0M153.4 129.5h0M153.1 109h0M157.1 107.7h0M146.4 128.9h0M159.1 106h0M151.9 135.1h0M146.1 126.5h0M153.8 113.4h0M150.4 118.8h0M153.1 125.8h0M156.7 111.5h0M147.7 128.5h0M156.1 117h0M154.5 106.8h0M154 118.3h0M153.4 109.8h0M152.6 116.1h0M147.4 130.9h0M146.5 130.1h0M154.6 132.3h0M161.4 113.6h0M152.7 121.5h0M151 121.5h0M162.7 109.1h0M153.3 114.6h0M150.5 117.8h0M146.5 125h0M146.7 125.5h0M154.1 116.2h0M154.3 113.3h0M152.1 126.8h0M147.6 117.1h0M148.9 125.1h0M156.2 109.3h0M155.5 115.8h0M151.8 119.8h0M156.3 108.4h0M152.5 112.9h0M152.3 116.3h0M150.9 129.9h0M156.4 109.2h0M157.4 112h0M149.3 111.8h0M146.6 130.3h0M156.8 112h0M148.7 130.1h0M148.3 129h0M147.1 116.4h0M160.4 109.4h0M160 106.5h0M159.9 109.8h0M160.7 108.5h0M151.4 115.5h0M150.2 128h0M148.1 124.4h0M153.4 117.7h0M162.7 105.3h0M146 123.8h0M149 126.2h0M157.5 109.9h0M157.9 110.8h0M151.1 119.9h0M153 110.5h0M160.7 106.4h0M151.1 118.7h0M152.1 111.9h0M152.2 115.3h0M156.7 107.1h0M151.5 115.9h0M151 121h0M151.3 114.4h0M148.4 115.3h0M149.1 123.4h0M149.9 126.6h0M150.9 126.6h0M146.2 123h0M154.3 119h0M150.9 115.9h0M146.6 134.2h0M157.6 112.5h0M147.8 119.9h0M148.3 123.2h0M152.5 121.6h0M155 112.1h0M155.7 115.2h0M151.5 114.9h0M151 124.6h0M160.2 105.1h0M150.1 125.9h0M146.5 125h0M150.9 118.7h0M149.8 121.9h0M155.7 117.6h0M159.4 106.8h0M153.5 114.8h0M163.2 109.6h0M158.4 111.3h0M156.7 108.7h0M157.2 112.9h0M150.8 121.5h0M146.8 125.7h0M159.7 109.4h0M152.9 115.3h0M151.4 108.6h0M157.5 107.3h0M152.9 116.5h0M150.4 126.4h0M152 109h0M154.2 114.7h0M150.5 116.9h0M161.2 105.7h0M150.8 131.4h0M163.5 107.8h0M150.7 108h0M148.9 117.7h0M152 115.6h0M145.9 128.7h0M161.2 105.2h0M159.6 106.8h0M157.1 107.3h0M153.2 122.7h0M163.7 109h0M147.2 130.6h0M153 112.3h0M151.6 120.5h0M160.2 111.7h0M145.6 132.5h0M150.1 123.6h0M153.3 111.8h0M150.9 113.8h0M152.9 119.9h0M153 111.9h0M144.2 115.8h0M144.9 124.7h0M152.4 113.9h0M157.4 107.9h0M156.3 110.4h0M149.6 119.2h0M163.7 107.2h0M159.1 109.3h0M156.7 112h0M151.2 116.1h0M149.5 127.5h0M150.5 119.1h0M160.1 107.9h0M162.4 105.8h0M146.7 126.2h0M153.6 119.7h0M155.1 107.8h0M150.3 127.5h0M151.6 116.7h0M150.1 112.8h0M154.7 115.5h0M148.5 129.1h0M148.8 116.1h0M153.4 114.5h0M150.2 111.7h0M159 105.8h0M147.9 129h0M151.4 127.1h0M148.9 117h0M152.4 113.7h0M147.8 128.5h0M154.3 118.3h0M159.4 110.1h0M159.3 111h0M146.5 127.1h0M146.7 131.7h0M146.2 124.5h0M157.9 108.8h0M153.3 116.4h0M154.3 118.1h0M162.2 109.9h0M157 109.5h0M155.2 112.4h0M151.2 128h0M155 111h0M153.4 112h0M150.8 117.2h0M155.5 116.4h0M155 111.7h0M159.3 114.8h0M148.9 129.8h0M153.4 112.1h0M156.4 108.7h0M150.4 126.3h0M152.4 109.5h0M148.4 130.1h0M155.6 117.5h0M152.9 113.6h0M157.1 112.7h0M148.1 125.7h0M148.9 124.6h0M150 126.3h0M158.7 107.4h0M146.6 135.3h0M153.9 106.3h0M150.9 123.2h0M157.6 117.8h0M147.2 124.2h0M150 113.3h0M156.7 106.9h0M152.2 115.1h0M151.9 115.1h0M156.3 112h0M152.4 121.1h0M149.1 121.7h0M159.4 108.7h0M155.9 109.5h0M155.2 113.6h0M153.8 112.6h0M155.1 110.7h0M154.9 119h0M151.9 125.5h0M148.2 126.7h0M151.9 114.2h0M150.4 124.2h0M155.3 113.2h0M152.7 130h0M150.6 117.1h0M154.6 112.3h0M148.8 127h0M150.7 124.4h0M158.3 114h0M148.2 124.6h0M158.2 111.3h0M149.7 125.1h0M159.8 108.9h0M166.4 106.8h0M146.9 123.6h0M155.4 107h0M160.8 108.1h0M154.4 112.2h0M162.6 106.1h0M150.4 122.2h0M150 128.1h0M151 132.7h0M151.4 122.7h0M156.1 107.5h0M161.8 105.1h0M148.4 114.7h0M152.6 120.7h0M155.3 113.2h0M145.1 125.8h0M149.3 129.6h0M163.6 107.4h0M160.8 109.1h0M152.1 117.2h0M153.1 109.6h0M148.4 124.6h0M159.6 107.9h0M154.4 117.1h0M154.2 115.2h0M149.3 129h0M162.6 108.4h0M150.7 127.4h0M161.1 109h0M150.5 120h0M151.4 123.8h0M157.8 109h0M161.4 109.4h0M153.2 114.3h0M153.8 122.1h0M163.3 111.1h0M153.1 111.3h0M154.3 117.9h0M150.6 113.9h0M150.7 110.7h0M147.9 124.4h0M153.8 129.1h0M148.3 123.1h0M155.9 113.1h0M148.1 114.9h0M146.6 117.7h0M147.2 126.7h0M154.7 116.7h0M154.2 123.7h0M150.4 125.9h0M153.3 124h0M159.7 106.4h0M148.7 115h0M157.6 110.6h0M151.5 107.1h0M150.5 124h0M160.4 108.1h0M150.2 112.7h0M163.2 107.9h0M151.2 118.7h0M149.9 119.5h0M148.3 121.3h0M147.7 120.4h0M157.3 109.2h0M160.8 108.7h0M153.7 124.9h0M148.7 120h0M151.7 130.7h0M149.3 127.2h0M147.5 116.8h0M149.3 123h0M148.3 123.8h0M152.1 120h0M156.8 111.5h0M152.6 116.8h0M162.4 107.5h0M159.9 108h0M153 120.5h0M151.4 116.8h0M150.4 128.7h0M158.3 105.2h0M146.6 126.4h0M149.3 127.5h0M153.8 108.3h0M154.8 112.4h0M148.9 122.4h0M154.2 117.4h0M153 126.6h0M151.3 113.4h0M160.4 107h0M151 120.7h0M162.5 105.8h0M148.8 126h0M149.1 127h0M154.3 120.9h0M153.1 122.9h0M149.4 126.3h0M148.9 122.4h0M148.1 120.9h0M146.9 125.6h0M151.4 113.3h0M152.5 119.2h0M154.8 107.6h0M146.8 128.4h0M152.2 121.4h0M159.5 108.5h0M149.9 128.8h0M147.9 126.2h0M152.7 116.5h0M148.7 121.6h0M158.2 108.4h0M151.6 128.5h0M143 132.4h0M148.7 117.6h0M150.5 125.6h0M159.1 110h0M168.2 124.3h0M172.7 123.1h0M171.2 121.2h0M170.3 110.5h0M170.7 119.8h0M172 123.7h0M167.5 115.3h0M170.7 122.9h0M166.2 112.3h0M166.2 107.1h0M165.1 113.4h0M169.4 112.1h0M172.2 120.7h0M167.6 125.9h0M171.4 121.9h0M173.8 126.4h0M176.9 116.3h0M171.3 113.9h0M173 114.4h0M168.7 109.3h0M172 115.9h0M169.6 123.4h0M172.8 117.6h0M170.5 123.7h0M172.1 110.4h0M170.9 116.7h0M167.6 121.6h0M165.8 108.8h0M170.7 124.9h0M166.3 109.7h0M171.6 112h0M166.8 109.5h0M164.2 106.7h0M170.9 115.7h0M165.9 114.8h0M170.4 122h0M170.7 112.3h0M171.4 114.1h0M173 122.6h0M164.2 107.3h0M167.4 119.4h0M169.2 113.7h0M171.3 123.5h0M173.1 116.4h0M163.4 108.1h0M173 124.3h0M168 127.6h0M170.2 108.2h0M165.6 110.8h0M171.7 121.1h0M172.5 117.6h0M171.8 128.9h0M169.5 113.3h0M172.1 124.4h0M173 120.2h0M174.5 123.8h0M175.4 124.3h0M168.8 111.1h0M167.3 127.4h0M169 114.8h0M167.8 116h0M170.1 118.1h0M171.4 113.1h0M170.4 112.9h0M167.8 122.4h0M169.7 128.2h0M169.2 125.4h0M167.5 108.4h0M172.9 124.5h0M169 112.1h0M173.2 120.9h0M173.2 120.4h0M174.1 119.2h0M165.9 110.8h0M164.6 105.4h0M170.2 125.1h0M168 127.3h0M165.7 106.7h0M167.9 113.2h0M170.7 125.7h0M164.5 108.9h0M167.1 128h0M169.4 111.2h0M172.2 118.4h0M170.9 123.5h0M174.7 114.3h0M170.8 129.4h0M167.1 108.5h0M164.4 106.4h0M172.1 117.3h0M171.4 120.4h0M167.8 125.9h0M169.8 111.6h0M171.3 120.9h0M173.6 112.8h0M170.7 111.1h0M171 116.8h0M172.9 122.9h0M168.3 107.5h0M170.4 120h0M171.8 124h0M168.1 124.5h0M168.4 113.1h0M166.2 114.3h0M169.7 126.1h0M166.4 108.5h0M167.7 124.3h0M170.9 117.8h0M170.7 111.8h0M173.2 119.7h0M168.8 118h0M169.2 127.3h0M170.7 112.3h0M168.4 128.6h0M169.3 126.1h0M170.3 124h0M171.9 111.7h0M172.6 113.1h0M175.1 121.3h0M166.6 110h0M165.1 106.5h0M169.7 123.4h0M169.2 124.7h0M168.2 113.3h0M173.4 122.4h0M171.6 123.1h0M163.3 107.3h0M173.3 116.1h0M168.5 112h0M168.6 119.6h0M167.6 112.2h0M169.3 110.9h0M171 117.2h0M167.1 116.3h0M166 109.7h0M169.6 115.8h0M167.7 126.7h0M168.8 124.8h0M169.3 109.5h0M167.4 111.4h0M168.9 127.9h0M170.9 119.7h0M168.8 116.7h0M165.3 110.6h0M169.9 118.3h0M170.3 114.4h0M168.3 121.3h0M171.2 122.3h0M167.6 112h0M172.8 122.8h0M173.7 121.2h0M167.1 110.3h0M168.6 109.9h0M170.2 125.1h0M171.6 120.5h0M168.5 124.6h0M170.7 125.6h0M165.9 128.4h0M172.1 121.8h0M167.8 131.2h0M164.3 105.5h0M166.9 123.7h0M169.4 114.8h0M165.8 111.1h0M172.1 121.1h0M174.2 114.2h0M168.6 129.3h0M173.2 111.6h0M169.1 114.4h0M171.4 124.3h0M171.6 118.8h0M167.2 106.3h0M163.8 106.8h0M168.6 124.6h0M167.3 109.6h0M168.6 118.4h0M171.6 112.5h0M162.7 109.6h0M170.2 124.4h0M171.6 116.3h0M166.1 131h0M165.7 127.8h0M166 106.5h0M168.2 110.6h0M170.4 111.3h0M168.9 125h0M171.5 121.3h0M166.1 107h0M172.5 124.6h0M165.5 108.1h0M171.3 122.9h0M167.7 109.6h0M170.5 120.8h0M169.8 112.1h0M169.7 111.8h0M169.5 108.9h0M167.9 115.5h0M172.9 117.2h0M168.3 128.4h0M167.4 106.7h0M169 111h0M172.1 126.5h0M168.9 109.5h0M168 112.8h0M168.6 109.1h0M171.7 129.3h0M168.2 107.4h0M172.4 121.8h0M170.6 110h0M164.9 109.1h0M172 115.5h0M169.8 120h0M166.2 116.7h0M176.3 116.6h0M170.6 117.2h0M171.6 114.9h0M167.6 109.4h0M168.9 110.4h0M167.9 122.5h0M170.3 118h0M167.7 125.3h0M172.8 122.7h0M171.8 128.7h0M168.6 125.7h0M165.6 112.2h0M165.8 111.1h0M165.1 109.1h0M165.4 107.2h0M170.4 127h0M163.9 105.8h0M163.9 105.1h0M172 127h0M161.4 106.1h0M167.1 126.9h0M174.1 107.8h0M169.1 106.1h0M170.1 116.7h0M171.9 113.9h0M165.5 109.7h0M171.5 125.2h0M167.3 106.3h0M170.9 120.3h0M168 106.8h0M172.8 111.5h0M172.4 110.4h0M168 111h0M170.4 125.9h0M171.2 117.4h0M170.7 120.9h0M168.3 108.3h0M171.7 121.2h0M168.4 127.7h0M171.7 119.4h0M168.7 116.3h0M172.9 121.9h0M170.4 126.8h0M171.7 118.6h0M169.9 113.8h0M170.5 121.4h0M170.2 122.7h0M168.2 107.4h0M170.9 118.3h0M162.9 107.1h0M172.2 111.4h0M169 124.9h0M169.8 122.1h0M168 109.6h0M170.8 109.8h0M171.6 123h0M170.7 115.4h0M172.5 113.1h0M167.6 111.5h0M169.9 122.5h0M167.4 128h0M169.8 108.3h0M171.4 119h0M170.1 121.6h0M171 117.3h0M167.5 126.3h0M167.6 125.1h0M170.1 114.1h0M169.9 122h0M170.3 124.4h0M172 124.2h0M171.6 123.9h0M168.1 111.6h0M172.4 112h0M170.8 122.4h0M173.9 123.6h0M171.7 113.6h0M165.5 106.7h0M168.6 126.8h0M167.2 121.6h0M169.9 126.9h0M166.1 127.2h0M168.9 116.1h0M171.2 123h0M164.5 107.4h0M171.1 121.7h0M170.8 128.2h0M170.3 122h0M169.9 128.1h0M175 121.3h0M166.1 108.9h0M167.3 112.8h0M171 124.4h0M170.8 108.4h0M173 114.7h0M171.1 116.8h0M170.9 107.5h0M171.8 120.7h0M169 127.6h0M170.4 115.8h0M166 109h0M167.6 117.6h0M169.5 115h0M172.2 111.6h0M170.9 123.6h0M167.5 113h0M168.9 127.2h0M169.3 109.4h0M173.4 121.4h0M167.4 112h0M169.1 120.4h0M171.6 124.5h0M169.7 118.8h0M165.7 124.1h0M174.2 120h0M168.8 127.7h0M173.3 114.7h0M166.5 105.7h0M173.2 115.4h0M171.1 123.7h0M167.8 106.4h0M169 110.8h0M164.7 105.8h0M167.7 110.3h0M172.5 123.6h0M170.7 124.3h0M170.4 110.2h0M162.6 106.2h0M172.3 114.6h0M169.1 130.7h0M172.3 123.3h0M166.8 108.6h0M175.9 117.6h0M168.7 124.4h0M166.5 107.9h0M169.2 128.2h0M170.1 110.6h0M163.6 105.1h0M169.9 109.4h0M175.6 120.8h0M164.6 106.8h0M171.8 122.8h0M168.9 122.6h0M168.4 107.5h0M166.6 107.8h0M170.6 123.4h0M169.2 125.8h0M167 125.6h0M174.7 115.2h0M169.4 115.9h0M171.4 115.7h0M166.6 120.9h0M167.5 107.3h0M170.9 120.3h0M168.5 123.5h0M171.2 114.3h0M171 124.6h0M175.3 118.4h0M176.1 120.3h0M170.7 125.1h0M167.8 110.5h0M169.2 119.7h0M169.4 111.4h0M169.5 107.3h0M170.9 121.1h0M172.8 120.7h0M161.9 107.4h0M164.6 106.2h0M169.1 110.7h0M162.8 108.3h0M170.8 118.5h0M167.9 128.1h0M172.2 119.9h0M170.6 112.8h0M170.8 114.3h0M171.4 117.4h0M171.5 123.1h0M169.5 122.9h0M169.2 123.7h0M171.6 118.3h0M170.7 115.5h0M171.7 126h0M168.5 108.6h0M171.3 112.1h0M171 114h0M167.8 129.3h0M171.3 112.1h0M171 128.1h0M167.5 126.2h0M169.1 126.6h0M170.6 110.5h0M171.9 123.4h0M171 121.2h0M169.1 125.7h0M168.9 108.4h0M170.4 113h0M170.3 113h0M168.8 129.8h0M166.4 110.3h0M165 108.5h0M170.5 113.1h0M172.7 115.3h0M171.3 124.3h0M170.5 114.8h0M172.1 116.2h0M170 123.3h0M165.3 109.1h0M164.2 107.3h0M171.5 126.1h0M168 130h0M166.6 107.6h0M170.1 125.3h0M167.1 124.9h0M171.5 114.3h0M168.9 106.7h0M171.6 119.9h0M169.2 111.8h0M172 113h0M166.6 110.3h0M166.5 127.8h0M165.2 111.2h0M173.7 117.7h0M170.3 126.2h0M166.5 110.3h0M174.7 116.3h0M165.8 109.4h0M171.5 124h0M168.1 115.5h0M168 124h0M171.2 125.4h0M172.3 119.9h0M172 115.8h0M166.6 127h0M167.8 123.4h0M172.7 120.2h0M172.4 120.8h0M169.7 129.2h0M169.9 126.1h0M173.5 126.4h0M167.4 129.8h0M163.9 108.2h0M167.1 108.9h0M166.9 108.1h0M171.5 110.4h0M169.2 110.8h0M169.2 124.4h0M172.8 116.2h0M170.8 111.8h0M167.8 109.5h0M172.5 116.7h0M172.1 116.5h0M166.8 108.4h0M165.6 107.9h0M173.3 116.2h0M174.5 121.4h0M165.5 110.8h0M172 113.7h0M165.1 118h0M162.8 116.6h0M153.1 118.8h0M145.4 121.2h0M162 125.3h0M156.5 109.2h0M159.4 117.2h0M158.3 116.3h0M166.5 127.1h0M153.6 119h0M167.4 116.7h0M170.6 127h0M161.4 114.9h0M162 114.7h0M163.4 125.4h0M157.6 127.5h0M155.6 119.3h0M155.5 115.3h0M158.4 113.3h0M158.2 120.1h0M168.5 126.3h0M154.5 124.9h0M176 127.4h0M165.2 123.6h0M159.2 113.9h0M167.3 122.6h0M161.4 116.4h0M155 114.8h0M151.8 121.4h0M163.3 109.8h0M161.5 112.1h0M161.2 110.3h0M156.4 126.9h0M160.1 113.9h0M156.6 117.3h0M160.9 127.8h0M167.9 115h0M163.1 116.1h0M156.2 116.7h0M163.7 118.3h0M165.7 117.5h0M149.5 118.7h0M159.9 121.1h0M154.4 126.7h0M155.5 127.5h0M153.2 124.7h0M158.8 117.7h0M159.7 118.2h0M150.3 124.3h0M159 120.2h0M159.4 129.8h0M157.4 111.6h0M156.8 115.8h0M152 119.8h0M165.7 112.1h0M162 113h0M159 125.5h0M175.5 122.7h0M158.8 122.6h0M152.6 123.8h0M168.2 117.3h0M151.5 116.8h0M169.9 129.2h0M155.7 126.8h0M153.2 122.8h0M156.9 114.9h0M158.4 119.4h0M158.9 121.8h0M154.2 129.5h0M166.3 111.2h0M157 129.7h0M155.9 121.1h0M164.5 125.7h0M155.1 119.9h0M158.9 115.4h0M163.4 123.5h0M163 121.7h0M167.8 125.2h0M161.9 120.2h0M162 124.8h0M147.4 123.7h0M164.7 111.8h0M169.4 123.2h0M161.1 126.8h0M154 123.2h0M164.3 113.7h0M154 122.4h0M167.1 120.2h0M152.8 105.8h0M151.2 124.6h0M159.1 111.4h0M137 112.7h0M158 131.5h0M165.3 112.7h0M158.5 119.4h0M165.9 118.7h0M159.2 113.6h0M172.7 123.3h0M167.1 119.8h0M157.8 119.6h0M120.6 156.2h0M120.5 116.9h0M120.5 141h0M120.3 115.8h0M120.3 112.6h0M120.4 131.6h0M120.5 117.9h0M120.3 135.4h0M120.3 134.5h0M120.6 134.6h0M120.8 136.4h0M120.3 113.4h0M120.5 145.4h0M120.2 154.8h0M120.6 128h0M120.8 148.1h0M120.5 135.1h0M120.3 134h0M120.5 124.4h0M120.7 108.5h0M120.3 142.3h0M120.4 107.6h0M120.4 145.5h0M134.7 156.4h0M132.3 156.4h0M139.4 156.1h0M122.2 156.3h0M120.6 156.5h0M150.6 156.4h0M149.3 156.3h0M146.6 156.4h0M158.8 156.6h0M120.4 156.4h0M150.8 156.5h0M140.5 156.1h0M145.5 156.4h0M154 156.4h0M128.1 156.5h0M137.6 156.3h0M147.6 156.4h0M138.3 156.4h0M148.8 156.4h0M143.1 156.4h0" stroke="#000" stroke-width="0.7" stroke-linecap="square" opacity="0.3" fill="none"/><path d="M123.1 153.7h0M132.3 147.6h0M133 147.1h0M134.3 147.3h0M131.3 145.7h0M121.7 153.8h0M121.2 152.1h0M130.9 146.8h0M129.6 151.9h0M126.1 153h0M129.7 147.6h0M131.9 147.5h0M123.9 152.8h0M130.4 147.4h0M131.1 146.7h0M135.1 142.4h0M128.3 150h0M131.2 149h0M133.3 149.5h0M134.7 142.6h0M135 142.6h0M132.1 145.5h0M125.8 152.2h0M133.3 144.8h0M126.6 148.2h0M131.6 149.1h0M129.1 148.2h0M128.1 146.2h0M128.8 147.1h0M136.6 143.8h0M136.7 143.2h0M133.3 148.7h0M133.2 145.8h0M133.6 146.1h0M135.5 142.7h0M128.2 146.9h0M137.1 144.5h0M130.3 148.7h0M140.4 142.7h0M129.8 145.7h0M136.3 149.4h0M136.1 143.1h0M125.2 153h0M127 148.8h0M140.3 140.1h0M132.8 151.8h0M136.3 138.4h0M134.4 144.3h0M131.3 145.5h0M133.1 147.1h0M130.6 149.1h0M133.3 143h0M139.2 142h0M136.4 146.7h0M133.5 150.8h0M126.1 147.9h0M131.4 150.8h0M139.1 143.6h0M126.5 149.1h0M130.3 147.7h0M126.1 150.3h0M129.5 149h0M126.3 148.9h0M132.4 147.6h0M131.6 147h0M129.8 146.4h0M128.3 146.8h0M133.8 146.1h0M129.5 146.1h0M129.1 147.9h0M135.3 143.5h0M131.3 145.3h0M133.7 144.7h0M125.4 146.4h0M129.2 147.4h0M134.9 141.7h0M127.2 146.8h0M134.8 145.2h0M130 149h0M131.3 145.8h0M131.4 148.1h0M136.9 147h0M132.4 146.3h0M130.6 145.4h0M130.9 148.3h0M129 147.6h0M126 151.6h0M135.7 144h0M132 146.8h0M131.1 146.5h0M137.6 147.6h0M135.8 144.6h0M128.2 146.1h0M135.3 143.8h0M133 144.6h0M126.3 151.4h0M134.5 141.1h0M131.7 146.3h0M126 154.1h0M129.4 149.2h0M133 149.8h0M126.7 149h0M133 147.3h0M132.2 148.7h0M136.5 144.3h0M124.1 149.4h0M123.5 150.9h0M136.6 146.9h0M132.8 147.8h0M129.1 147.6h0M132.6 142.4h0M129.3 146.2h0M132.7 147.1h0M133.3 148.5h0M132.7 148.6h0M130.1 143.2h0M130.1 145.7h0M127.1 144.4h0M129.6 147.2h0M125.9 149.8h0M134.7 144.8h0M133.1 143.7h0M137.6 140.7h0M125.9 150.8h0M134.9 147.3h0M135.3 146.4h0M124.5 151.6h0M126.3 145.4h0M136.4 141h0M134.7 146.4h0M128.7 146.3h0M136.8 143.2h0M131.9 146.7h0M133.1 147h0M132.8 148h0M129.5 145h0M128.1 150.1h0M127.3 149.9h0M133.7 143.9h0M129.6 145.2h0M126.1 151.3h0M130.9 144.7h0M128.5 147.2h0M128.9 147h0M131.1 151.8h0M127.5 146.4h0M130.5 150h0M130.8 148.6h0M129.1 147.3h0M137.6 143.3h0M129.2 149.7h0M123.5 148.7h0M129.3 147.2h0M130.2 144.9h0M132.7 145.5h0M130.2 148.2h0M130.5 149.6h0M127.5 149.9h0M128.1 144h0M126.2 149h0M131.6 143.8h0M128 147.9h0M124.2 150.2h0M136 145.7h0M125.7 148.8h0M125.7 145.8h0M139.9 139.6h0M131.8 145.4h0M128.1 145.5h0M126.1 149.8h0M128.6 150h0M129 149.1h0M131.9 143.8h0M135.9 143.3h0M141 139.3h0M136.1 145.3h0M122.8 148.9h0M125.3 152.4h0M153.4 142.5h0M154.2 142.9h0M164.7 139h0M162.3 138.1h0M163.2 137.6h0M155 140.5h0M159.4 137.7h0M155.3 142.2h0M150.1 144.3h0M150 143.4h0M157.7 141.9h0M165.3 135.8h0M146.9 144.3h0M156.5 140.7h0M148.6 143.4h0M156.5 140.9h0M164.9 135.8h0M154.1 145.9h0M149.8 145.1h0M152.9 142.6h0M161.2 138.1h0M154.2 141.9h0M156.3 142.9h0M162.2 137.6h0M161.1 137.1h0M151.8 142.2h0M152.4 142.9h0M156.4 139.9h0M157 139.9h0M158.1 140.4h0M149.5 142.9h0M160.2 139.1h0M156.7 140.4h0M163.3 138.3h0M152 143.1h0M149.9 143.3h0M153.2 141.2h0M151.6 144.2h0M150.9 143.1h0M149.9 145.2h0M151 144.1h0M158.7 140.4h0M152 140.4h0M150.9 143.1h0M147.8 143.4h0M157 140.6h0M160.7 139.5h0M161.8 138.8h0M154.8 141.8h0M160.1 140.3h0M158.4 139.5h0M150.7 144.6h0M160.2 138.1h0M155.2 140.3h0M156.7 143.1h0M153.5 141.7h0M155 141h0M156.7 139h0M158.8 139h0M156.6 143.6h0M161.6 138.8h0M154.9 142.1h0M161.4 142.4h0M165.8 138.4h0M152.1 144.5h0M154.7 141.8h0M153.5 141.8h0M158.3 140.2h0M158.9 139.2h0M151 142.8h0M154.3 142.2h0M164.6 137.4h0M155.3 144.2h0M164.8 138.2h0M159.6 137.5h0M153.7 142.1h0M154.7 139.5h0M157.6 142.4h0M162.4 138.5h0M158.1 140.1h0M145.1 146.5h0M159.6 137.9h0M167.3 136.9h0M158.6 141.5h0M150.7 143.3h0M148.6 145.5h0M158.8 142.4h0M159.1 139.2h0M145.3 145.5h0M153.8 142h0M152.8 142.1h0M155.9 140.4h0M151.3 142.9h0M147 142.5h0M154.8 140.5h0M148 144.5h0M156.1 142.5h0M152.7 142.5h0M154.2 141.2h0M148 142.4h0M145.9 144.3h0M150.7 142.8h0M146.3 145.7h0M156.7 139.4h0M151.6 142.5h0M158.9 141.1h0M158.6 140.7h0M161.9 139.2h0M156.7 141.4h0M160.3 139.3h0M160.2 138.6h0M149.9 143.7h0M159 142h0M154.1 140.8h0M146.2 144.4h0M153.5 141.7h0M157.1 140.6h0M153.5 145h0M152.5 142.3h0M148.9 143.5h0M156 139.1h0M153.5 141.3h0M156 141.7h0M155.3 142.5h0M152.9 142.8h0M150 141.9h0M150.1 143.3h0M158.6 142h0M157.7 141h0M151.8 144.8h0M152.1 142.6h0M165.3 138h0M166 136h0M156.9 139.3h0M157 139.9h0M162.2 138.9h0M146.8 144.7h0M151.6 143.1h0M160 137.9h0M154.5 142.5h0M150.7 142.9h0M152.5 143.8h0M158.7 138.6h0M161.4 140.5h0M153.9 142.4h0M158.6 140.7h0M166.4 136.6h0M154 142.2h0M154.2 139.8h0M159.8 139.7h0M150.9 142.3h0M147.7 145h0M156.9 140.8h0M160.1 139h0M149.7 143.9h0M163.7 139.2h0M156.2 143.1h0M150.6 142.8h0M154.4 144.1h0M141 148.1h0M155.4 140.3h0M156.6 138.5h0M156.2 139.9h0M151.9 143.2h0M154.7 141.1h0M155.2 140.6h0M162 138.8h0M157.5 142h0M164 135.8h0M155.6 139.9h0M158.4 139.3h0M151.9 142.6h0M160.7 137.8h0M157.1 140.2h0M153.9 142.2h0M164 137h0M156.6 141.2h0M147.7 144.4h0M158.3 140.5h0M155.5 140.2h0M153.9 142.7h0M152.2 143.8h0M158.1 141.9h0M147.5 144.8h0M147.2 143.7h0M165.5 137.7h0M156.8 139.5h0M155.8 141.7h0M161.2 136.5h0M154.5 140.4h0M166.9 138h0M155.5 140.9h0M163.4 139.7h0M153.8 143.1h0M157.1 140.8h0M149.1 146.5h0M154.5 140.5h0M149.4 145.7h0M157.3 141.6h0M155.5 139.7h0M154.1 141h0M150.1 143.9h0M152 143.2h0M155.9 140.5h0M150.9 143h0M161.1 140h0M161.1 137.8h0M151.2 143.5h0M155.6 142h0M157 139h0M157.2 142.2h0M154.9 141.5h0M155.1 139.7h0M159.1 140.2h0M159.4 138.9h0M151.5 141.9h0M154.7 141.6h0M157.9 139.1h0M151.3 141.8h0M153.3 143.2h0M159.8 139.4h0M161.2 139.3h0M153.5 142.9h0M148.9 143.4h0M156.5 140.9h0M152.1 142.4h0M149.8 142.9h0M169.2 135.9h0M160.7 140.3h0M148.1 145.4h0M151.2 141.6h0M152.8 142.6h0M161.2 140h0M156.7 142.2h0M145.4 145.6h0M159.5 142.3h0M146.5 142.4h0M154.3 141.5h0M157.9 139.9h0M150.6 142.9h0M157.9 143.1h0M140.7 146.5h0M154.2 141.3h0M147.7 144.2h0M152.6 142.7h0M158 139.7h0M158.1 139.2h0M152.7 142.9h0M153.7 142.9h0M159.2 138.9h0M166.3 137.3h0M151.9 141.5h0M154.7 141.7h0M158.8 140.2h0M157.9 138.5h0M152.5 142.5h0M159.2 139.5h0M156.2 139.8h0M161.2 138.8h0M148.7 144h0M154.2 142h0M164.6 135.9h0M161.5 137.2h0M154.4 140.4h0M155.6 142.5h0M164.3 138.4h0M155.1 142.4h0M147.9 144.5h0M151 140.9h0M153.4 140.7h0M160.9 137.8h0M161.2 138.5h0M160.9 139.6h0M161.8 137.4h0M149.1 144.3h0M167.7 137.2h0M156.3 142.2h0M155.4 141.5h0M161.7 138.9h0M154.9 141.7h0M161.9 139.9h0M163.3 138.4h0M150.9 144.3h0M153.6 141.2h0M154.6 140.8h0M149.2 144.2h0M151.3 144.2h0M156.6 139.4h0M157.8 140.7h0M150 144.6h0M153.4 141.9h0M158.1 137.6h0M153.1 143.1h0M158 141.8h0M158.3 140.1h0M161.2 138.6h0M158.3 137.1h0M148.7 145.5h0M161.1 139.4h0M159.9 137.3h0M157.2 139h0M152.5 141.7h0M160.5 138.1h0M160.6 139.9h0M157.4 140.9h0M161.6 138.8h0M159.3 140.2h0M148.1 146.8h0M158.1 140h0M158.3 139h0M154.2 140.5h0M155.3 142.6h0M148.6 143.2h0M157.9 139.5h0M168.1 134.6h0M161.2 138.8h0M158.3 141.3h0M165.9 138.2h0M158.9 139.6h0M159.9 140.3h0M154.9 140.5h0M150.4 141.9h0M157.8 141.5h0M158.2 139.8h0M150.3 144.1h0M170.2 136.5h0M155.8 142.8h0M155.6 141.2h0M155.5 139.7h0M163.4 137.3h0M156.3 141.2h0M158.2 139.2h0M152 142.5h0M150.5 142.5h0M159.2 139.3h0M158.6 139.6h0M157.1 139.8h0M163 137.3h0M158.8 141.9h0M163 137.2h0M152.3 143h0M157.5 141.9h0M153.7 142.8h0M154.5 141.1h0M163.5 139.4h0M158.9 140.2h0M154.6 143.8h0M151.6 144.4h0M152.8 143.2h0M156.2 140.5h0M154.7 141.9h0M153.2 141.5h0M162.2 137.4h0M155.7 139.9h0M149.3 143.5h0M166.6 136.6h0M159.7 140.4h0M150.2 142.6h0M155.7 142.4h0M155.9 139.7h0M154.5 139.9h0M156.5 139.3h0M150.2 141.5h0M151.4 142.4h0M159.6 139h0M154.1 141.3h0M155.8 140.7h0M149.5 143.7h0M157.8 138.3h0M146.2 146.3h0M154.5 140.8h0M147.8 144.4h0M160.6 138.3h0M157.4 143.1h0M159 139.6h0M150.3 145h0M160.4 138.7h0M159.8 140h0M164.1 138.5h0M156.5 141.7h0M154.1 140.7h0M153.8 141.5h0M161.6 138.7h0M158 139.3h0M159.1 139h0M148.3 145.2h0M157.4 142.1h0M164.1 137.5h0M148 142.1h0M155.2 139.9h0M162.5 138.8h0M148.8 142h0M163.6 139h0M161.4 140.4h0M157.9 139.4h0M156.7 140.8h0M152.5 142.5h0M141 146.4h0M153.4 139.6h0M156.3 140.2h0M168.6 137.1h0M160.1 139h0M145.1 144.6h0M154.1 143h0M144.9 145.8h0M162 139.1h0M150.4 143.4h0M158 141.4h0M153.1 142h0M154.2 140.5h0M152.8 143.3h0M153.1 141.7h0M151.4 142.1h0M159.3 139.9h0M157.7 140.5h0M156.1 141.8h0M151.8 142.5h0M150.3 145h0M159.3 139.7h0M158 141h0M159.5 140.2h0M155.5 141.1h0M160.9 139.7h0M158 141.5h0M151.7 143h0M150.5 144.8h0M159 139.8h0M153.3 142.1h0M142.9 147.9h0M159 140.4h0M155.2 112.1h0M156.4 109.1h0M158.3 106.3h0M156.9 109.1h0M158.6 108.2h0M155.5 109.4h0M155.7 109.4h0M156.2 108.4h0M160.7 107.6h0M158.4 108h0M155.4 108.9h0M157.4 108.8h0M162.5 106.8h0M159.9 106.3h0M154.6 110.2h0M157.1 109.4h0M154.8 107.6h0M158.3 108.5h0M154.2 110.4h0M158.9 107.9h0M160.9 106.4h0M155.7 107.7h0M160.1 106.3h0M161.8 107.1h0M156.4 108.2h0M162.2 105.5h0M155.1 109.5h0M158 109.5h0M154.4 109.3h0M161.3 107h0M158.8 106.8h0M154.3 107h0M160.6 106.7h0M157.9 106.4h0M153.1 110.5h0M157.9 109.5h0M156.7 109.8h0M161.7 106.6h0M157.7 107.4h0M156.4 107.2h0M156 108.2h0M162.5 106.9h0M158.4 105.7h0M157.6 107.5h0M159.6 106.9h0M160.5 105.6h0M157.8 107.7h0M157.7 109.5h0M160.6 106h0M162.1 107.4h0M161.9 106h0M155.1 108.6h0M160.7 106.1h0M158.4 109.3h0M161.4 107.7h0M157.1 107.3h0M158.7 108.6h0M155.4 109.5h0M160.4 106.7h0M160.5 107.6h0M156 109.6h0M158.4 107.6h0M154.4 109.2h0M156.5 108.9h0M159.3 106.5h0M158.3 107.2h0M158.6 106.4h0M157.6 107.5h0M160.3 105.5h0M154.9 109.3h0M161.9 106h0M157.2 108.3h0M155.7 108.3h0M159 106.5h0M155.8 108.9h0M158.9 108h0M157.2 108.7h0M160.6 108.5h0M157.6 105.4h0M158.8 106.1h0M159.6 107.1h0M154.1 107.4h0M159.5 106h0M153.9 108.6h0M160 108.5h0M158.3 106.2h0M159.3 105.3h0M159.5 108.9h0M157.4 106.4h0M158.6 108h0M154.2 110.9h0M157.3 105.4h0M159.3 105.7h0M157.7 109.5h0M160 106h0M161.7 108.2h0M154.6 108.8h0M152.5 110.5h0M159.1 109.5h0M157 107.3h0M159.7 106.9h0M160 105.3h0M157.6 109.4h0M157.1 109.1h0M157.7 109.3h0M159.6 107.5h0M160.8 106.4h0M155.4 109.4h0M158.8 106h0M157.8 109.7h0M156.7 107h0M157.3 108.9h0M157.8 108.5h0M161.8 108.4h0M162.3 107.8h0M158.7 106.6h0M159.3 106.8h0M151.8 113.6h0M157.5 110.6h0M154.2 109.7h0M159.6 108.8h0M156.1 110.3h0M158.7 106.5h0M158.9 108.1h0M165.1 106.5h0M159.1 106.6h0M159.7 107.2h0M154.6 108.3h0M156.2 108.9h0M158.7 108.4h0M157.6 108h0M154.1 112.1h0M160.9 105h0M162.3 105.6h0M157.5 110.4h0M153.5 109.7h0M159.2 108.1h0M159.3 108.3h0M155.2 109.3h0M156.5 108.1h0M158.3 107.4h0M150.7 110.2h0M163.7 106.1h0M158.7 108.6h0M156.8 109.5h0M161.1 105.4h0M157.9 108.3h0M161.4 105.2h0M160.5 106.3h0M157.4 109.7h0M158.8 107h0M155.1 109.8h0M158 107.2h0M155.1 110.7h0M161.7 105.7h0M152.8 112h0M153 109.4h0M158 107.4h0M157.6 108.2h0M161.4 107.8h0M159.6 106.6h0M156 107.1h0M157.3 106.6h0M159.6 106.8h0M156.4 109.5h0M158.2 108.5h0M156.3 108.6h0M158.5 106.5h0M154.6 109.6h0M157.4 106.7h0M157.1 108.9h0M160 108.8h0M155.6 107.9h0M159.5 106.5h0M159.8 105.8h0M154.2 112.6h0M157.5 109h0M154.5 110.4h0M160.7 106.9h0M153.4 110.4h0M155.9 107.6h0M162.2 106.5h0M159.6 105.8h0M160.2 107.1h0M158.4 108.4h0M157.4 107h0M158.6 110.3h0M161.6 107.1h0M159.7 106.7h0M157.4 108h0M157.5 107.9h0M154.6 109.4h0M158.2 106.5h0M163.6 106.5h0M155.2 108.2h0M151.9 111.7h0M156.3 108.7h0M154.1 110.7h0M155.6 109.7h0M158 108.9h0M157.2 109.3h0M156.4 107.3h0M161.2 105.9h0M159.1 109.7h0M155.3 108h0M158.7 105.8h0M157.1 106.2h0M162.8 105.7h0M159.4 106.2h0M155.1 111.5h0M160.2 106.1h0M155.2 109.7h0M156.6 108.4h0M155.1 111.4h0M160.1 109.2h0M159.6 106.8h0M160.2 106h0M161.3 106.9h0M162.4 105.2h0M158.7 109.2h0M157.7 107.3h0M161.3 105.3h0M161.7 107.1h0M156.1 109.1h0M158.8 107.2h0M158.4 109.4h0M159 107.5h0M158.3 107h0M160.1 107.8h0M155.8 109.9h0M163.3 105.6h0M162.7 105.1h0M156.7 108.1h0M159.5 109.9h0M157.7 107.1h0M163 106.2h0M160 107.2h0M156.5 107.2h0M157.9 107.4h0M155.7 112.6h0M157.1 107.3h0M158.2 108.3h0M159.6 108.7h0M159 109.3h0M158.4 107.8h0M159.2 107.2h0M155 107.6h0M153.5 110h0M156.8 108.4h0M159.4 108.3h0M153.2 110h0M159.5 105.9h0M159.1 106.2h0M154.3 109.3h0M156.2 107h0M157.4 107.3h0M159.3 106.2h0M156.8 109.4h0M159.8 105.5h0M153.8 108.6h0M156.6 109.9h0M156.1 109.2h0M154.6 109.9h0M162.2 106.2h0M157.7 108.8h0M154.9 107.7h0M155.3 107.3h0M160.4 107.6h0M158.9 107.9h0M157.4 107.7h0M159.6 105.6h0M151.5 118.3h0M155.7 107.8h0M153.8 110.7h0M154.1 114.9h0M152.2 126.3h0M149 124.6h0M156.2 108.4h0M153.1 119h0M152.1 111.7h0M149 129.2h0M148.2 125.4h0M151.6 123.6h0M149.4 125.1h0M148.5 125.5h0M151.6 116.2h0M157.5 107.8h0M148.8 126.1h0M151.1 126.1h0M149.5 123h0M149.9 127h0M153.9 117.9h0M152.2 122.8h0M154.1 111.4h0M157.5 110.8h0M157.9 106.4h0M150.6 113.9h0M153.6 114.8h0M150.5 118.6h0M149.3 122.4h0M148.1 125.4h0M152.1 115.4h0M157.9 111.5h0M157.3 110h0M155.6 112.6h0M150.9 125.5h0M150.4 114.9h0M149.7 122.4h0M150.2 119.9h0M159.4 107.4h0M151.8 111.4h0M150.4 124.1h0M151.8 114.6h0M151 116.6h0M149.9 119.2h0M154.4 112.9h0M152.7 118.2h0M150.4 132.4h0M151.9 111.4h0M153.4 112.2h0M157.1 107.2h0M154.8 113.6h0M154.8 115.1h0M151.3 113.1h0M151.2 118.1h0M148.8 127.1h0M150.4 119.3h0M156.1 108.1h0M149 120.5h0M155.2 110.7h0M156.6 109.5h0M150.6 121.8h0M148.8 123.7h0M150.2 118.1h0M151.6 123.4h0M147.7 129.7h0M155.6 110.2h0M151.7 115.9h0M156.9 108.1h0M157.7 108.8h0M149.4 119.6h0M147.9 126.8h0M152.1 112.5h0M149.9 129.2h0M150 117h0M152.3 114.2h0M152.3 114.4h0M150.1 126.1h0M151.4 114.8h0M157.1 111.7h0M158.9 105.6h0M155.6 111.9h0M149.1 129.5h0M153.2 118.2h0M150.7 112.5h0M152 129.2h0M152.5 115.4h0M149.8 118h0M156.5 108.2h0M149.9 122.5h0M149 121.5h0M151.1 127.6h0M152.2 115.4h0M150.6 118.7h0M151.9 111.8h0M148.2 127.6h0M150.8 130.1h0M149.1 126.9h0M154.3 112.2h0M150.1 119.6h0M155.1 112.2h0M151.1 122.8h0M153.3 113.4h0M146.9 123.1h0M149.2 123h0M150.4 128.2h0M149.7 127.9h0M154.1 115.2h0M149 127.5h0M150.3 123.3h0M155.1 111.3h0M156.6 110.9h0M152.8 113.3h0M150.2 119.7h0M154.1 111.2h0M153.6 112.2h0M152.6 115.4h0M156.6 110h0M156.5 110.4h0M157.5 107.7h0M150 116.9h0M154.9 109.6h0M150 128.2h0M154.8 112.8h0M149.4 118.4h0M159 106.6h0M150 131.3h0M151.3 112.3h0M148.3 125.4h0M149.6 122.1h0M150.6 114.7h0M155.7 109.8h0M150 119.8h0M157.8 109h0M151.2 122.4h0M157.2 106.6h0M150 118.3h0M152.9 113.6h0M151.3 125.8h0M153.6 115h0M151.4 119h0M155.2 111.1h0M150.3 116.1h0M149.4 122.1h0M150.7 125.3h0M151 114.4h0M149.6 115.6h0M151.2 122.5h0M151.1 120.7h0M155.4 108.6h0M152.9 114.4h0M157.8 108.8h0M150 131.2h0M150.1 119.1h0M150.7 123.5h0M150 125.3h0M152 113.1h0M159.1 109.5h0M150.7 119.5h0M150.7 129.3h0M153.6 118.6h0M150.9 121.2h0M152.1 118.9h0M158.4 110.4h0M157 108.8h0M148.9 125.9h0M147.6 129h0M158.4 110.8h0M151 116.7h0M150.8 116.9h0M148.6 131.4h0M150.9 128.5h0M153.2 117.9h0M149.8 117.3h0M149.8 129.7h0M151.9 125.2h0M159 105.9h0M150.5 122.9h0M157.5 107.9h0M155.4 108.6h0M149.4 129.7h0M149 129.9h0M156.1 114.1h0M152.7 112.5h0M151.3 126.1h0M150.8 124.2h0M149.1 123.1h0M148.4 124h0M157.3 108h0M157.2 109.1h0M152.7 112.5h0M157.5 107.6h0M155.1 113h0M150.4 118.7h0M151.1 114.2h0M148.4 132h0M153.1 119.2h0M148 126.5h0M151.3 118h0M148.4 117.1h0M155 114.2h0M150.1 115.7h0M152.9 111.9h0M149.5 124.9h0M157.9 109.9h0M152 119.2h0M157.7 111.5h0M151.7 114.2h0M155.3 110h0M151.6 113h0M149.2 123.6h0M155.6 113.3h0M148.9 116.6h0M149 119.2h0M159.4 109.2h0M155.4 108h0M148.8 128.4h0M148.6 124.7h0M148.3 129.9h0M153.2 113h0M148.3 118.2h0M148.4 119.8h0M153.1 111.7h0M148.8 123.8h0M151.5 117.6h0M149.8 123.9h0M157 108.5h0M148.8 127.2h0M151.8 118.8h0M153.6 111.1h0M149.4 120h0M150.1 125.4h0M148.9 121.1h0M148.6 122.8h0M150.3 114.8h0M150.9 117.8h0M150.9 122h0M152.8 114.9h0M148.4 128.3h0M150.5 123.8h0M151.4 110.8h0M151.7 127.5h0M149.2 121.9h0M156.8 108.2h0M149.1 124.2h0M151.8 116.4h0M154 109.5h0M154.6 111.4h0M152.6 115.2h0M150.2 128.7h0M149 121.1h0M150.8 115.8h0M154.9 110.9h0M150.9 113.9h0M151.5 120.8h0M151.2 120.5h0M152.2 110.5h0M153.7 116.3h0M154.3 118.1h0M150.5 129.3h0M155.6 107.3h0M150.8 116.9h0M155.1 110.6h0M149.8 126.3h0M147.8 127.2h0M151.2 114.8h0M159.3 108h0M156.6 109.5h0M149.5 125h0M151.2 113.6h0M154.4 109h0M154.5 108.7h0M148.6 129h0M156 108.7h0M149.8 130h0M159.8 105.7h0M151.6 111.5h0M152.5 117.9h0M150.6 122.2h0M150.9 118.9h0M157.6 108.9h0M150.8 131.3h0M152.3 112.7h0M150.9 112.5h0M150.7 115.4h0M149.7 124.9h0M158.2 106.6h0M155.3 110.6h0M152.3 113.5h0M149.6 129.5h0M156.1 111.6h0M150.9 118.6h0M150.6 112.4h0M148.7 126.1h0M148.8 126.1h0M149.9 127.4h0M149.3 130.8h0M155.9 110.3h0M149.5 120.8h0M150 129.3h0M151.3 123.9h0M155.6 108.9h0M149.9 121h0M153.2 113.2h0M155.8 108.8h0M157.5 110.2h0M154.1 115h0M160.2 108.6h0M150.1 122.5h0M149.7 120.2h0M152.7 114.9h0M149.3 117.9h0M147.9 130.2h0M147.6 126.5h0M149.8 114.5h0M151.4 112.4h0M148.4 127.3h0M151.4 118.1h0M152.6 116.4h0M151.8 126.4h0M153.9 110.4h0M149 128.6h0M151.3 116.1h0M148.7 127.9h0M150.4 113.1h0M152.4 119.5h0M151.6 121.6h0M155 110.3h0M151.3 117.9h0M151.8 114.4h0M155.1 109.4h0M151 115.2h0M153.2 112.7h0M155.4 109h0M155.8 114.1h0M150.4 127.4h0M149 121.5h0M151.7 119.5h0M149.8 117.8h0M148.8 124.7h0M154 113.7h0M147.8 120.3h0M149.7 128.7h0M150.6 128.4h0M152.7 114h0M149.6 127.1h0M149.2 120.3h0M149.7 122h0M150.6 118.3h0M150.7 119.5h0M148 129.8h0M149 124.9h0M153.8 109.1h0M149.1 127.5h0M149 125.6h0M153.9 113.7h0M154.7 111.4h0M152.2 115.5h0M154.6 109.8h0M150.7 124.4h0M150.1 124.1h0M154.2 113.9h0M148.4 128.3h0M149.9 125.8h0M157.7 107.8h0M150.2 127.9h0M153.5 125.3h0M151.5 116.2h0M148.2 126.6h0M157.3 108.8h0M152.6 118.7h0M157.2 108.9h0M149.7 115.7h0M149.9 130h0M149.7 123.9h0M149.6 123.7h0M157.6 106.6h0M148.4 129.7h0M154.9 110.9h0M150.2 128.9h0M150.5 127.6h0M133.3 156.6h0M128.6 156.2h0M130.2 155.9h0M121.2 156.5h0M122.1 156.4h0M123 156.4h0M126.1 156.2h0M127.8 156.4h0M131.4 156.3h0M122.7 156.5h0M122.5 156.3h0M129.1 156.5h0M130.3 156.3h0" stroke="#000" stroke-width="0.8" stroke-linecap="square" opacity="0.5" fill="none"/></g><text x="129.9" y="123.6" font-family="Liberation Serif,serif" font-size="4.8" class="lb" fill="#777" text-anchor="middle">14.9</text><path d="M129.6 125.6V129.2" stroke="#333" stroke-width="1" fill="none"/><path d="M129.6 131.6l-1.4 -3h2.8z" fill="#000"/>
<path d="M200.2 104.4H261.5V157.4H200.2Z" fill="none" stroke="#787878" stroke-width=".9"/><path d="M223.5 104.4V157.4M200.2 134.5H261.5" fill="none" stroke="#909090" stroke-width=".9"/><path d="M196.3 156.6l1.2 1.9M199.2 160.9l1.8 -1.2M196.3 143.3l1.2 1.9M214.5 160.9l1.8 -1.2M196.3 130.1l1.2 1.9M229.8 160.9l1.8 -1.2M196.3 116.9l1.2 1.9M245.2 160.9l1.8 -1.2M196.3 103.6l1.2 1.9M260.5 160.9l1.8 -1.2" stroke="#3a3a3a" stroke-width=".95" fill="none"/><text x="230.2" y="163.8" font-family="Liberation Sans,sans-serif" class="ns" font-size="2.1" font-weight="bold" fill="#333" text-anchor="middle">YO-PRO</text><g clip-path="url(#c5)"><clipPath id="c5"><rect x="200.2" y="104.4" width="61.3" height="53"/></clipPath><ellipse rx="15" ry="6" transform="translate(214.5 147) rotate(-33)" fill="url(#hg)" opacity="0.14"/><ellipse rx="14" ry="5" transform="translate(238.5 143.5) rotate(-28)" fill="url(#hg)" opacity="0.16"/><ellipse rx="13" ry="12" transform="translate(243 119) rotate(-60)" fill="url(#hg)" opacity="0.16"/></g><g filter="url(#bl)"><path d="M216.3 144.2h0M214.8 149.4h0M216.3 142.2h0M217 148.6h0M211.1 151h0M217.5 146.5h0M211.2 151.3h0M211.3 148.8h0M208.9 150.8h0M215.3 144.6h0M221.3 144.7h0M224.3 141.1h0M215.6 147.1h0M210.5 151.2h0M216.6 143.1h0M216.9 143.7h0M214.1 146.8h0M213 151.3h0M213.3 147.8h0M216.7 145.8h0M218.3 148.1h0M220.4 145.5h0M216 146.1h0M209.6 153h0M210.6 152.7h0M216.9 146.6h0M215.4 147.2h0M221 143h0M222.9 143.8h0M214.5 148.6h0M218.4 145.5h0M215.4 146.7h0M208.1 148.7h0M218.6 146h0M213.9 149h0M209.7 150.2h0M211.6 147.5h0M216.2 146.2h0M205.3 153.1h0M212.7 151.4h0M223.7 141.6h0M213.3 147.8h0M208.9 150.3h0M219.2 147.3h0M201.5 155.7h0M203.3 154h0M210 150.6h0M213.8 147.9h0M216.4 147.8h0M215.2 143.4h0M213.8 145.4h0M213.2 147.6h0M218.3 146.3h0M212 148.2h0M217.2 148.4h0M215.4 148.5h0M212.6 148.6h0M216.8 145.9h0M214.1 148.7h0M210.3 150.9h0M213.9 143.5h0M207.9 154.1h0M209.1 153.6h0M217.7 146.8h0M218.5 144.4h0M211.7 147.8h0M214 145.2h0M218.9 144.2h0M211.4 146.6h0M208.8 149.2h0M211.8 149.5h0M215.3 150.5h0M219.9 143.4h0M221.6 141.4h0M215.5 147h0M208.7 152.2h0M212.9 152.5h0M217.5 143.4h0M212.4 148h0M221.4 145h0M211.7 145.8h0M209.7 152.8h0M211.2 147.1h0M209.9 152.7h0M220.6 141.5h0M214.1 148.9h0M215.1 147.7h0M214.6 146.3h0M210.4 147.8h0M210.8 147.5h0M215.7 146.5h0M212.5 148.1h0M213.3 149.9h0M220.4 139.6h0M220.5 144.2h0M215.7 145.8h0M208.5 152.3h0M220 141.7h0M214.2 148.1h0M207.2 150.1h0M225.4 138.9h0M213.4 145.9h0M209.9 150.3h0M216.7 150h0M220.1 140.9h0M211.8 148.2h0M214.3 147.6h0M216.8 142h0M219 146.5h0M216 148.9h0M217.8 144.5h0M213.6 149.2h0M209.8 148.4h0M211.7 147.8h0M209.3 150.3h0M212.3 149.3h0M212.4 146.2h0M225.8 141.7h0M213.3 148.2h0M214.6 147.9h0M204.2 154.3h0M221.8 146.8h0M214.6 147.6h0M222.5 141.7h0M219.3 144.8h0M215 146.1h0M215.8 147.8h0M205 153.2h0M214.3 149.2h0M211.3 146.7h0M216.9 148.1h0M212 148.5h0M212.7 149.7h0M213.9 148.5h0M209.1 149.5h0M214.8 145.6h0M214.3 146.9h0M214 145.8h0M207.9 149.6h0M214.9 147.4h0M206.2 152.2h0M215.3 148.4h0M217 143.3h0M210.5 145.1h0M211.3 147.6h0M224.1 141h0M216.1 146h0M216.1 146.7h0M216.3 147.2h0M216.8 145.4h0M207.4 149.8h0M216.5 149h0M211.7 144.9h0M224.5 139.7h0M210.2 147.4h0M217.4 148h0M210.7 150.4h0M220.2 143.8h0M217.1 145.4h0M206.2 151.3h0M203.5 153.3h0M215.9 144.2h0M218 145.2h0M217 144.4h0M219.3 145.9h0M210.4 151.7h0M222.3 142.2h0M212.5 149.1h0M206 150.2h0M214.2 147.6h0M212 148.6h0M212.7 150.4h0M205.4 153.4h0M207.1 148.9h0M213.9 145.6h0M214.9 146.2h0M210.4 150.2h0M212.1 148.3h0M211.1 145.3h0M220.7 144.6h0M216.5 147.2h0M214.2 145.8h0M210.8 148.8h0M204.9 154.2h0M219.4 143.4h0M217.2 148.2h0M221.8 145.2h0M215.2 147h0M221.8 142.6h0M226.6 137.6h0M214.4 146.2h0M216.2 144.4h0M211.8 149.8h0M218.4 146.6h0M210.3 145.5h0M211.7 146.1h0M211 149.6h0M217.1 146.1h0M216.6 145h0M213.6 150.1h0M209.4 149.7h0M226.8 144.2h0M211.7 148.6h0M212.5 149.2h0M215.1 148.6h0M206.1 152.4h0M215.7 148.2h0M217 145.4h0M215.9 151.9h0M210.9 150.8h0M211.1 149.9h0M215.4 144.1h0M219.8 144.3h0M209.7 148.1h0M217.8 144.9h0M224.8 140.7h0M203.7 150.5h0M219 145.8h0M210.1 152.4h0M217 145.9h0M219.1 145.8h0M205.4 153.2h0M207.7 154.5h0M202 150.6h0M221.2 143.4h0M222.2 146.9h0M222.1 142.2h0M215.4 146.4h0M218.5 145.1h0M210.4 151.1h0M216.2 146.7h0M216.2 144.7h0M210.7 149.8h0M223.6 140.5h0M211.7 149.2h0M220.3 145.8h0M212.1 145.5h0M213 149.5h0M209.9 154.1h0M209.1 152.8h0M214.4 146.5h0M209.9 153.3h0M216.3 148.1h0M213.6 146.7h0M212.1 147.7h0M212.3 150.3h0M219 140.6h0M215.7 144.6h0M206 155.5h0M211.4 150.8h0M214.2 147.5h0M204.5 153.3h0M207.4 152.2h0M212 145.2h0M213.1 148.2h0M211.4 151.6h0M219.2 146.7h0M221.1 140.6h0M221.6 144.7h0M208.3 149.4h0M209.5 151.5h0M219.7 146.5h0M210.8 148.7h0M214 147h0M206.5 151.1h0M219.7 145.8h0M217.4 147.8h0M215.4 145.3h0M208.5 149.2h0M217.5 140.9h0M219.6 145.6h0M218.4 145.1h0M209.4 146.2h0M206.3 147.9h0M216.5 146.1h0M219.8 144.1h0M215.5 146.2h0M218.5 145.8h0M219.6 141.7h0M210.2 149.9h0M217.4 147.1h0M211.8 148.2h0M222.7 139.7h0M210.9 145.9h0M214.8 146.2h0M212.9 150.5h0M209.2 152.2h0M214.2 147.9h0M211.4 148.2h0M217 146.6h0M208.2 151.7h0M207.4 151.2h0M208.6 151.7h0M222.8 144h0M220.6 144.2h0M213.7 148.2h0M209.2 148h0M209.3 149.1h0M211.4 149h0M215.7 147.9h0M220.9 144h0M218.2 147h0M216.5 146.8h0M211.2 148h0M222.6 142.5h0M216.8 144.7h0M225.5 139.6h0M221.6 142.6h0M218.3 146.2h0M216 148.5h0M208.2 153.7h0M218.1 147.2h0M222.7 144.4h0M212.1 150.5h0M212.2 152.6h0M208.7 147.4h0M213.7 146.9h0M213.1 147h0M212.3 149.6h0M210.7 148.2h0M217.2 155.1h0M206.8 151.9h0M219.5 141.6h0M213 140.5h0M211.4 148.5h0M214.8 150.5h0M219.4 144.3h0M202 151.7h0M208.4 153.1h0M207.8 146.5h0M214.9 145.2h0M216.5 141.4h0M203 155.4h0M214.7 151.1h0M210.6 149.2h0M206.4 152.9h0M213.3 147h0M219 148.3h0M209.1 148.3h0M215.5 147.4h0M229.5 137.3h0M224 141.7h0M210.8 150h0M217.9 146.8h0M206.4 148.1h0M215.7 143h0M220.1 147.4h0M225.6 136.6h0M221 139.1h0M219.1 142.2h0M223.3 140.7h0M218.2 141.4h0M218.8 144.7h0M213.5 143.3h0M206.5 154.2h0M206.9 155.7h0M211.3 144.9h0M207.4 152.7h0M207.8 150.2h0M224.5 142.1h0M227.3 136.9h0M210.6 150.8h0M210.5 147.7h0M220.4 148.3h0M224.3 143.8h0M217.1 140.9h0M208.3 152.1h0M221.1 147.1h0M216.6 144.2h0M211.4 148h0M213.8 147.2h0M210.4 149.2h0M204.2 147.5h0M218.4 143.1h0M218.8 148.2h0M212.4 147.4h0M204.5 155.9h0M222.3 140.6h0M218.2 147.2h0M223.2 139.8h0M234.1 145.4h0M213.1 146.1h0M213.6 148.4h0M207 148.9h0M216.6 144h0M207.9 151.8h0M216.5 153.8h0M213 149.3h0M214.9 144.2h0M214.8 142.5h0M211.7 153.1h0M224.3 136.3h0M213.9 142.4h0M223 140.6h0M213.4 148.5h0M216.8 147.3h0M203.9 155.5h0M217.7 145.1h0M209.8 155.2h0M219.9 150.2h0M221.3 140.3h0M209.2 149.8h0M216.1 153.4h0M226.7 132.4h0M218.2 145.1h0M223 132.4h0M209.8 146.3h0M220.7 142.7h0M214 146.4h0M215.5 150.9h0M216.2 144.7h0M205.2 150.9h0M210.1 154.9h0M209 150.2h0M221.7 140.3h0M219.2 149.2h0M216.9 150.1h0M217.3 145.3h0M229.9 139.9h0M214.5 147.8h0M215 150.3h0M216.8 146.8h0M220 148.8h0M230.7 146.1h0M239.4 144h0M239 143.1h0M236.9 138.6h0M236.1 146.8h0M235 148h0M242.1 145.7h0M235.6 142.7h0M236.3 143h0M238.8 148.3h0M236.6 141.5h0M228.6 152.7h0M234.3 142.3h0M244.1 136.4h0M244.3 143.3h0M240.4 142.4h0M252.3 133.4h0M241.9 143.3h0M238.5 148.5h0M247.1 142.7h0M242.9 146.6h0M240.5 144.1h0M238.5 143.4h0M231.7 147.9h0M236.5 145h0M241.7 146h0M233.6 154.4h0M235.6 144.4h0M233.4 147.9h0M240.5 145.2h0M231.7 150.4h0M249 139.1h0M239.8 147h0M235 142.9h0M241.1 141.5h0M244.5 144.8h0M251.1 140.3h0M228.5 146h0M235.7 142.8h0M229.2 146.3h0M237.8 136.7h0M219.9 151.6h0M231.8 150.4h0M247.8 142.4h0M238.6 149.2h0M240.4 145.1h0M246.7 143.5h0M234.4 144.1h0M244.8 141.8h0M251.4 143.1h0M225.3 149.6h0M250.9 137.8h0M232.8 145.5h0M240.9 143.8h0M235.1 140.4h0M250.2 135.3h0M251 140.9h0M231.6 142.4h0M233 146.3h0M236.4 143.8h0M236.1 144.9h0M238 146.2h0M237 143.8h0M236.9 145h0M228 152.2h0M242.3 138h0M229.2 151.6h0M250.1 141h0M241.2 144.1h0M245.5 137.6h0M240.5 145.6h0M231.2 146.9h0M235.2 140.4h0M240 150.9h0M238.5 141.5h0M242 138.3h0M236.2 144h0M234.9 145.8h0M246 144.3h0M242.8 137.8h0M241.2 142h0M236 143.5h0M227.6 150.8h0M245.6 146.4h0M251.5 139.1h0M236 143.4h0M235.8 140.3h0M244.9 136.1h0M247.4 142.5h0M240.1 146.1h0M235.7 141.4h0M232.6 141.6h0M235.4 147.4h0M241.3 142.2h0M244.5 143h0M251.7 136.5h0M243.7 137h0M244.1 138.2h0M238.7 149.8h0M243.7 143.6h0M236 142.4h0M231.5 150h0M240.8 142.1h0M233.8 144.9h0M229.3 154.7h0M235.8 142.1h0M225.5 147.6h0M226.3 153h0M237.6 144h0M233.1 148.8h0M231.7 149h0M246.6 137.6h0M243.2 141.4h0M241.7 142.5h0M240.6 145.1h0M235.9 144.2h0M238.6 144.2h0M247.3 139.6h0M248.8 137.5h0M234.4 144.6h0M224.7 149.2h0M239.2 145h0M246.4 140.3h0M231.8 153.5h0M241.1 138.5h0M231.5 149.2h0M250 136.7h0M252.1 139.4h0M240.9 143.7h0M248.3 139.6h0M239.5 138.7h0M235.6 138.3h0M236.1 145.7h0M236.5 139.8h0M232.5 147.1h0M229.5 147.9h0M250.3 132.7h0M237.5 142.2h0M234 145.6h0M240.7 143.7h0M242.5 144.3h0M242.2 134.5h0M231.1 145.3h0M233.8 146.8h0M242.3 142.9h0M245.3 139.9h0M233.9 144h0M230.2 151.3h0M235 144.4h0M240.5 146h0M247.1 139.3h0M250.6 141.3h0M242.8 143.6h0M233.4 149.1h0M236.3 145.2h0M243.3 137.4h0M239.8 146.1h0M236.3 142.5h0M241.6 140.1h0M245.1 146.1h0M237.6 145.2h0M245.2 134.1h0M228.5 145.8h0M243.1 142h0M246.9 143.5h0M236.1 144h0M235.7 147.1h0M240.4 146.4h0M239.8 144.5h0M224.6 148.4h0M239.6 143.5h0M244.2 141.8h0M230.1 146.8h0M229.2 143.2h0M241.4 141.8h0M233.6 140.9h0M247.2 133.8h0M242.1 143.8h0M244.5 145.3h0M240.5 143.7h0M244.3 140.1h0M236.9 144.8h0M234.7 144.7h0M233.5 145.7h0M234.3 147.3h0M231.6 145.5h0M244.3 138h0M234.3 145.4h0M241 140.4h0M240.9 142.2h0M235.9 145.4h0M239 146.3h0M239.5 143.1h0M235.7 145.1h0M233.7 146.7h0M241.2 142.3h0M231 143.1h0M242.8 146.7h0M238.9 143.4h0M244.1 137.1h0M242.6 146.9h0M238.7 149.3h0M243.6 137.2h0M232.1 146.6h0M228 144.1h0M241.3 141h0M236.3 142.4h0M244.8 144.8h0M244 144.8h0M242.8 142.3h0M235.1 141.7h0M234.7 146.2h0M241.8 136.4h0M227.2 144.3h0M246.8 142.8h0M242.4 142.1h0M244.3 143.1h0M246.8 138h0M232.9 146.8h0M252.2 135h0M238.3 143.5h0M242.9 143.8h0M242 147.3h0M230 148.4h0M244.3 141.7h0M228.5 149.7h0M244.1 140.6h0M233.9 139.4h0M238.4 145.7h0M230.5 147.8h0M244.6 143.3h0M229.2 150.9h0M236.7 153.4h0M237.1 141.9h0M234.8 140.2h0M227.9 143.5h0M239.6 146h0M240.7 144h0M236.3 143.8h0M246.5 110.4h0M240.6 108.5h0M237.3 115.5h0M241.9 105.9h0M233.9 130.6h0M235.4 123.2h0M235.5 123h0M244 109.2h0M244.2 111.8h0M238.6 109.5h0M230.7 124.8h0M235.2 124.5h0M233 121.6h0M234.7 129.6h0M240.1 107.8h0M241.9 109.6h0M233.5 121.2h0M230.9 129h0M234.8 129.7h0M230 124.7h0M232.8 125.2h0M235.3 127.5h0M242.1 108.4h0M246.1 110.7h0M239.6 114.9h0M229.5 126.2h0M236.9 115.5h0M235.1 116.2h0M233.1 122.9h0M234.2 116.4h0M237 132h0M243.8 115.4h0M234.1 129.2h0M234.4 126.8h0M240.1 109.8h0M233.8 122.1h0M238.7 116.9h0M228.5 119.7h0M230.9 126.8h0M230.3 125.8h0M235.8 113.5h0M237.4 111.5h0M236.9 121.5h0M247.8 109h0M242.2 116.2h0M233.1 125.9h0M241 115h0M240.7 112.1h0M234.3 117.3h0M231.9 121.7h0M231.7 130h0M237.1 112.8h0M233.2 125.4h0M237.3 117.7h0M241.2 109.4h0M236.4 113.3h0M242.8 108.3h0M232.7 120.2h0M235.1 116.5h0M243.3 111.4h0M235.1 126.3h0M233.3 131.8h0M230.4 125.5h0M232.7 128.1h0M230.4 122.3h0M229.3 127.3h0M246.1 107.1h0M241.1 112.7h0M234.3 116h0M235.6 131h0M239.9 114h0M242.7 106.2h0M244.2 110.9h0M234.4 128.2h0M244.8 106.7h0M231.6 125.8h0M239.2 109.6h0M232.7 127.3h0M240.2 112.6h0M232.5 129h0M233.5 121.8h0M243 109.8h0M226.9 126h0M246.3 107.6h0M231.5 120.9h0M239.6 113h0M233.3 116.7h0M239.3 112.2h0M236 116h0M231.4 124.5h0M245.1 111.2h0M232.2 118.4h0M238.1 115.7h0M241.2 112.1h0M235.3 119.2h0M235.7 117.8h0M239 111.7h0M244.6 105.4h0M230.3 135.5h0M243.9 110.6h0M233.5 116.7h0M243.7 108.7h0M245.7 112h0M231 124.6h0M238.6 108.9h0M230.9 130.9h0M240.3 112.9h0M242.3 107.7h0M235.1 111.9h0M238 116.4h0M235 116.5h0M235.5 135.7h0M236.6 112.2h0M238 111.3h0M239.9 114.7h0M234.5 118.9h0M238.1 118.4h0M239.6 110.4h0M232.3 132.3h0M237 121.6h0M233.2 132.6h0M243.4 112.8h0M245.8 105.9h0M234.8 118.4h0M236 119.5h0M246.6 107h0M238.6 111h0M239.3 113.3h0M240.6 113.8h0M249.7 107.3h0M235.7 121.7h0M234.8 126.4h0M238.3 109.4h0M246.3 108.3h0M229.9 130.1h0M232.6 132.5h0M236.1 116.4h0M245.2 113.9h0M244.8 109.6h0M235.1 129.1h0M231.6 127h0M242 109.5h0M228.4 133.3h0M247.2 107.9h0M236.5 113.2h0M237.5 115.5h0M233.9 118.3h0M241.4 108.4h0M235.8 121.4h0M229 126.2h0M236.6 121.8h0M238.5 109.5h0M229.9 122.2h0M234.2 121.2h0M235 112.1h0M232.1 119.4h0M232.2 118.5h0M231.8 121.5h0M232.3 128.4h0M235.2 129.3h0M237.2 117.2h0M235.5 114.9h0M233.5 128.1h0M234.6 124.8h0M248.1 110.5h0M230.5 127.7h0M243.7 107.2h0M234.6 113.6h0M233.5 128.1h0M247.9 107.2h0M233.8 121.9h0M235.2 118.4h0M233.6 116.7h0M235.2 131.9h0M227.8 129.1h0M238.7 115.3h0M233.8 120.3h0M236 115.9h0M234.7 124.9h0M244.7 107.3h0M230 132.4h0M238.7 117.7h0M229.2 133.7h0M245.3 113.2h0M234 119.2h0M237.3 113.9h0M238 120h0M238.3 114.4h0M230.7 125.4h0M239.4 111.4h0M233.9 130.2h0M235.5 112h0M247.5 106.2h0M237 117.9h0M233.7 127.1h0M230.8 123.4h0M240.1 110.3h0M234 120.5h0M245.1 111.3h0M237.6 115.5h0M239.2 113.2h0M235 120.5h0M234.4 124.8h0M233.4 131.8h0M241.5 110h0M236.6 124h0M230.5 122.4h0M244.8 111.4h0M233.7 123.7h0M244.6 111.1h0M249.5 111.3h0M239.5 119.5h0M247.2 111.1h0M238.8 114.4h0M245.6 109.6h0M245.2 112h0M236.8 119.3h0M238.3 129.9h0M245.4 111.6h0M232.3 121.7h0M242.3 110.1h0M232 132.8h0M236.6 112.3h0M232.2 131h0M235.4 119.5h0M235.4 116.1h0M234.7 111.6h0M246.3 111.5h0M236.6 121.3h0M234.9 131.5h0M237.3 116.4h0M236.3 116.5h0M242.8 107.2h0M240.2 113.8h0M234.7 130.2h0M233.5 129.4h0M237.1 118.3h0M239.1 108.6h0M230.7 117.7h0M249.4 106.8h0M234.2 118.3h0M231.9 119.6h0M229.1 129.3h0M233.9 125.5h0M237.2 122.5h0M229.9 130.8h0M244.6 107h0M238.5 117.5h0M248.5 108.3h0M237.8 114.4h0M237.8 113h0M233.5 131.1h0M238.2 117.3h0M233.2 114h0M234.2 115.9h0M242 108h0M236.3 115.4h0M231.4 125.9h0M236.6 128.8h0M237.6 115.1h0M241.1 109.3h0M234 121.6h0M244 108.3h0M235 116h0M229.6 133.1h0M236.1 116.4h0M239.5 112.2h0M234.1 121.9h0M234.1 120.9h0M245.4 108.6h0M238.2 113h0M239.8 112.6h0M240.7 111.6h0M238 115.2h0M246.5 113.4h0M235.9 134h0M240.8 109.8h0M232.4 122.1h0M232 125.4h0M229.8 124.6h0M233.8 116.1h0M247.5 108.1h0M241 113.7h0M233.6 109.6h0M233.6 128.1h0M236.2 118.2h0M232.9 124.1h0M230.4 130.7h0M234.7 126h0M238.4 113.6h0M230.6 130.1h0M231.8 120.4h0M233.8 114.6h0M232.4 116.4h0M232.8 132h0M234.1 130.1h0M236.9 116.3h0M229.2 125.6h0M241.5 110.8h0M236.7 108.9h0M246.4 108.2h0M230.1 124h0M237.4 110.8h0M231.5 123.3h0M243.9 109.1h0M233 128.7h0M238.6 120.2h0M241.3 112h0M241 111.9h0M234.3 125.1h0M231.3 127.6h0M234 121.5h0M231.7 128h0M235.4 131.9h0M240 113.3h0M244.5 114.6h0M239.6 114.8h0M235.7 118.9h0M246.5 108.4h0M239.1 115h0M237.5 117.3h0M238.4 118.2h0M237 112.1h0M233.5 125.1h0M234.5 131.1h0M239.8 112h0M233 126.6h0M231.8 125h0M235.8 123h0M246.2 108.1h0M247.3 111.1h0M236.9 118.6h0M230.7 122.2h0M234.4 130.7h0M243.1 110.5h0M240.7 116.7h0M230.8 123.5h0M244 109.8h0M233.8 118.1h0M239.1 117.9h0M233 131.6h0M236.3 118.7h0M232.4 117.3h0M236.2 118.8h0M238.9 118.5h0M239.7 113.1h0M231.8 128h0M231.9 121.7h0M243.2 108.6h0M240 110.7h0M233.7 119.1h0M235.2 115.4h0M231.7 119.5h0M245.1 113.5h0M240.9 112.5h0M245.2 113.6h0M234.9 119.2h0M246.8 106.6h0M232.3 119.5h0M237.3 112.7h0M243.4 110.1h0M230.6 119.9h0M243.5 111.9h0M237.4 118h0M233.5 121.3h0M241.7 112.8h0M234.3 120.6h0M234.3 121.2h0M237.3 129.2h0M235.7 116.4h0M231.4 124.5h0M231.8 130.6h0M238.9 111.5h0M249.1 113.7h0M231.7 127.1h0M236.5 121.6h0M243.4 117.3h0M234.4 119.9h0M250.1 126.8h0M250.2 125.5h0M254 114.2h0M252.9 123.2h0M249.6 123h0M248.5 112.5h0M251.7 113.9h0M252.8 110.4h0M250.7 119.1h0M251.5 121.8h0M253.1 114.7h0M254.1 112.4h0M252.1 126.1h0M253.9 121.4h0M250.6 113.1h0M254.3 118.7h0M253.8 116.2h0M251.4 106.6h0M251.2 108h0M247.5 109.8h0M253.2 113.2h0M252.7 108.5h0M251 113.1h0M250.7 121.1h0M247.5 108.2h0M254.5 119.9h0M254.2 119.2h0M253.2 118h0M250.6 110.9h0M251.9 117.9h0M251.8 121.1h0M256.4 115.2h0M250 108h0M249.8 122.5h0M247.5 111h0M254.3 116.2h0M251.6 120.5h0M252.8 115.4h0M252.3 116.9h0M250.8 107.2h0M251.6 124.1h0M247.7 108.4h0M251.8 113h0M252.7 119.6h0M252.4 118.5h0M253 119.3h0M249.7 108h0M254.7 111.2h0M250.4 110.2h0M251.6 115.5h0M248.1 107.4h0M254.1 117.8h0M250.4 123.4h0M253.8 116.2h0M253 113.1h0M252.4 117.8h0M253.2 110.4h0M250.5 121.4h0M253.5 125.8h0M252.7 114h0M253.9 121.5h0M251.5 121.1h0M253 115.3h0M253.3 119.2h0M254.7 121h0M252.5 114.5h0M253 114h0M254.4 114h0M254.2 112.9h0M254.3 112.4h0M250.7 110h0M252.7 118h0M252.7 118h0M252.9 118.4h0M249.9 118.4h0M249.7 112h0M253.1 111.8h0M254.3 120.5h0M251.7 123h0M249.5 109.9h0M249.2 119.8h0M255.6 116.3h0M250.5 109.9h0M246.9 109.2h0M249.5 122.4h0M252.7 117.3h0M256.1 110.2h0M252.9 116.6h0M253.4 122.5h0M249.3 107.4h0M252.9 122.4h0M250.5 111.4h0M251.5 123.4h0M253.6 120.2h0M252.7 108.2h0M248.4 109.7h0M252.8 116.4h0M254.3 111.7h0M253 122.1h0M250.4 108h0M251.5 108.2h0M250.3 110.7h0M251.6 120.6h0M247.1 110.9h0M249 114.1h0M252 121.8h0M248.4 113.3h0M253.1 118.3h0M253.3 114.5h0M253 120.1h0M253.5 117.1h0M254.1 125.2h0M252.8 119.8h0M251.5 112.7h0M250.1 107.1h0M255 111h0M253.2 122.6h0M248.4 108.6h0M252.7 114h0M252.7 122.4h0M252 114.9h0M250.1 112.4h0M250.9 110.7h0M250.6 112.6h0M252.8 113.8h0M254.5 113.8h0M253 116.3h0M252.4 111.7h0M249.8 108.4h0M249.2 122.3h0M249.8 107.7h0M247.4 108.1h0M251.6 110.8h0M250.8 114.8h0M248.7 109.2h0M248.6 111h0M254.6 120.7h0M251.5 118.4h0M254.2 121.9h0M249.9 123.2h0M252.7 113.1h0M254 110.9h0M252.2 125.2h0M250.5 119.4h0M253.8 113.3h0M251.2 123.5h0M254.3 120.3h0M249.8 105.2h0M250.7 116.9h0M254 113.6h0M253.7 116.5h0M252 122.1h0M254.1 111.2h0M254.1 115.7h0M249.6 117.1h0M249 121.6h0M250.4 123.8h0M248 107.8h0M251.6 119.5h0M254.5 118.9h0M250.6 109.5h0M250.8 115h0M251.4 118.3h0M253 115.1h0M250.5 118.4h0M248.7 111.3h0M249.9 116.1h0M254.3 114h0M253.1 113.3h0M254.7 114.4h0M252.9 124.2h0M252.5 122.2h0M248.5 107h0M252.9 119.5h0M254.3 116.1h0M253 117h0M251.4 124h0M255.2 112.4h0M252.3 119.6h0M252.4 116.7h0M256.5 116.2h0M250.6 110.9h0M253.1 109.1h0M250.3 110.8h0M250.9 107.7h0M250.2 115.7h0M253.2 124.1h0M257 121h0M254 113.7h0M248.3 105.8h0M253.8 115.4h0M253.1 118.6h0M256.8 110.2h0M249.8 108.9h0M249.8 111.4h0M251.6 111.4h0M252.7 120.6h0M249.3 123.6h0M252 117.9h0M253.5 111.1h0M253.1 120h0M249.8 116h0M252.7 119.7h0M252.7 120.5h0M250.5 110.3h0M253.7 125.2h0M251.2 112.4h0M252.4 124.8h0M251.1 107.9h0M250.2 108h0M254.7 124.9h0M253.8 111.8h0M252.9 118.3h0M256.4 116.3h0M253.2 119.3h0M249.6 105.7h0M252.8 114.9h0M254.5 120.6h0M254.6 113.8h0M249.9 109.1h0M248.6 112.5h0M248.3 123h0M250.8 118.8h0M254.4 111.9h0M252 108.9h0M250.4 122.2h0M252.5 112.9h0M252.7 121.8h0M249.8 109.9h0M251.2 115.3h0M250.3 114.2h0M250.7 112.1h0M252 110.4h0M251.3 109.8h0M251.5 115.3h0M253.6 116.8h0M249.3 110.8h0M253.3 114h0M255.1 120.9h0M249.6 121.2h0M251.6 122.1h0M248.8 110.1h0M253.5 117.1h0M253.7 116.4h0M250.7 110.8h0M255.3 114.9h0M253.6 118.6h0M248.7 110.7h0M250.9 124.1h0M251.3 122h0M251.5 109.7h0M254.9 114.7h0M249.7 123.2h0M251.8 109.9h0M247.7 109.6h0M257.2 116.8h0M253.4 116.3h0M252 119.1h0M253.3 119h0M251.4 115.6h0M250.8 114.3h0M254.2 114.5h0M254.6 119.3h0M250.4 122.2h0M251.4 110.6h0M256 116.3h0M249.2 110.6h0M253.1 116.2h0M249.1 109.4h0M252.9 120.7h0M251.9 125.8h0M256.6 115.9h0M245.9 109.1h0M249.2 110.2h0M252.7 111.1h0M250.4 115.1h0M254.9 121.7h0M252.3 118.7h0M252.1 108.2h0M248.7 111.2h0M253 118.6h0M249 109.5h0M254.6 111.9h0M254.6 116.1h0M251.9 115.6h0M248.5 108.4h0M251.6 117h0M252.9 113.5h0M255.4 115.5h0M250.3 111.7h0M253.4 117.3h0M246.7 109.9h0M250.6 121h0M251.5 125h0M253.3 112.6h0M255.4 114.6h0M252.5 123.5h0M251.7 120.1h0M252.5 113h0M251.5 121.2h0M251.6 121.4h0M249 110.8h0M251.7 116.2h0M253.3 118.6h0M252.6 119.4h0M253.3 112.5h0M255.1 112.7h0M253.5 116.9h0M254.8 114.1h0M250.2 112.5h0M253.9 111.8h0M252.5 115.1h0M251.6 122.4h0M254.2 121.6h0M251.5 111h0M247.1 108h0M252.1 110.2h0M252.4 115.5h0M249 111.5h0M248.5 111.3h0M247.4 109.9h0M251.8 116.3h0M250 109.6h0M248.1 125.1h0M251.2 113.5h0M254.1 122h0M254.2 125h0M251.8 114.9h0M253.8 115.1h0M252.7 116.3h0M252.4 117h0M252.9 112.4h0M252.2 107.9h0M251.1 116.9h0M253.6 110.9h0M247 111h0M252.2 121.9h0M251.3 114.1h0M253.7 115.3h0M251 119.1h0M238.2 107.5h0M236.6 120.1h0M236.9 125.5h0M234.7 122.9h0M255 121.9h0M241.1 113h0M244.5 129.2h0M229.6 107.2h0M244.2 119.1h0M249 117.3h0M237.9 119.9h0M242.1 127.8h0M237.8 115.1h0M230.7 108.9h0M241.5 126h0M248.8 121.1h0M236.8 126.6h0M251.2 117.1h0M241.7 115.5h0M244.6 127.6h0M246.4 123.3h0M252.7 118.8h0M245.3 121.8h0M231.5 111.3h0M247.1 125.2h0M245.6 121.5h0M243.5 111.9h0M241.5 115.6h0M240.1 115.1h0M240.6 128.9h0M238.6 131.4h0M240.3 113.1h0M228.8 124.1h0M248.7 115.3h0M236.2 126.9h0M248.2 123.4h0M247.2 128h0M223.7 126.5h0M235.6 114.3h0M238.1 121.1h0M245.9 119.7h0M238.7 116.7h0M249 128.4h0M256.6 125.4h0M231.1 114.4h0M236.1 125.1h0M246 118.3h0M253.4 126.8h0M241.8 125.9h0M230.5 123.4h0M243.5 114.3h0M245.9 113.9h0M237.5 106.1h0M251.5 121.4h0M248.2 123.6h0M246.3 112.2h0M236 119.5h0M244.7 131.8h0M247.1 124.3h0M238.1 118.2h0M247.7 112h0M253.4 124.5h0M239.7 124.9h0M243.2 118.5h0M230.2 122.9h0M243.5 114.9h0M253.7 114.9h0M250 125h0M249.9 114.7h0M244.6 118.8h0M241.5 119.3h0M247.8 124h0M233.4 120.8h0M241.2 127.1h0M249.9 119.2h0M238.9 122.5h0M225.9 120.4h0M250.7 124h0M227.8 129.3h0M201.1 126.1h0M201.4 125.1h0M201.1 129.9h0M201.1 109h0M201.3 120.5h0M201.2 154.2h0M201.2 146.1h0M201.5 140.9h0M201 141.1h0M201.2 132.3h0M201.1 127.2h0M201.2 116.1h0M201.1 117h0M201.2 148.1h0M201.3 123.3h0M201.3 134.9h0M201.2 126.8h0M201.2 132.4h0M201.2 121.4h0M221.7 156.5h0M222.5 156.5h0M206.2 156.4h0M237.7 156.3h0M237.3 156.2h0M235.1 156.5h0M240.2 156.5h0M240.8 156.6h0M232.5 156.3h0M223 156.1h0M213.9 156.4h0M231.5 156.3h0M224.1 156.3h0M204.5 156.3h0M233.3 156.1h0M231.8 156.5h0" stroke="#000" stroke-width="0.7" stroke-linecap="square" opacity="0.3" fill="none"/><path d="M241.3 143.3h0M243.9 138.8h0M237.6 144.2h0M245.3 140.7h0M242.1 141.2h0M244 140.9h0M244.9 139.3h0M239.8 141.8h0M236.9 143h0M238.9 145h0M241.3 142.1h0M243.7 140.5h0M241.6 142.2h0M242.8 142.8h0M235.1 146.5h0M233.4 146h0M242.5 142h0M237.2 144.8h0M239.5 143.6h0M235.8 145h0M239.1 143.2h0M240.4 142.7h0M241.1 142.9h0M241.6 140.3h0M238.7 143.9h0M241.2 141.3h0M243 140.7h0M239.6 144.1h0M241.9 142h0M237 143.6h0M244.4 142.6h0M241.1 143.3h0M240.4 141.7h0M236.7 144.8h0M243 140.4h0M230.8 147.8h0M241.7 142.6h0M237.9 144h0M245.3 139.2h0M245.5 141.3h0M242.5 141.8h0M237.2 143.4h0M241.8 141.7h0M241.5 142.3h0M238.7 142.8h0M233.9 144.2h0M239.6 143.5h0M240.1 144.6h0M234.8 145.7h0M240.9 141.3h0M238.7 143.7h0M245.2 140.2h0M237.9 143.6h0M238.6 142.4h0M239.9 144.8h0M244.1 142.3h0M233.3 145.4h0M239.5 142.8h0M238.9 144.4h0M235.8 146.3h0M235.6 146.4h0M237.2 142.9h0M243.4 141.7h0M244 139.4h0M242.6 141.7h0M238.8 143.3h0M244.1 141.5h0M237.3 144h0M239.2 143.5h0M240.4 143.6h0M243.8 140.5h0M237.5 143.7h0M235.7 144.5h0M242.5 141.3h0M238.3 143.4h0M239.3 143.2h0M243.3 141.1h0M239.8 143.2h0M233.6 145.7h0M233.3 145.4h0M236.2 145.1h0M237.3 142.5h0M242.5 140.9h0M239.8 142.6h0M237.8 144.2h0M239.8 142.5h0M236.6 144.7h0M239.1 143.7h0M240.3 142.8h0M243.4 142.5h0M236.4 143.4h0M236.3 146h0M238.5 144.6h0M232.3 145.4h0M239.3 142.2h0M238.2 143.8h0M240.1 142.9h0M239.5 143.4h0M236.9 144.1h0M241.4 142.4h0M240.8 141.8h0M244.3 139.9h0M237.4 142.8h0M242.6 139.8h0M243.8 142.1h0M237.3 145.8h0M239.4 144h0M238.7 144.2h0M242 143.2h0M247.4 137.9h0M242.3 143.1h0M242.5 140.6h0M245 141.3h0M238.4 142.5h0M239.6 142.2h0M241.3 143.1h0M244.8 140.3h0M238.3 142.9h0M244.9 139.7h0M247.4 140.7h0M240.7 143.3h0M235.8 146.2h0M239.2 142h0M243 140.8h0M240 141.2h0M241.8 142.9h0M234.1 144.1h0M234.4 147.6h0M242.3 142.2h0M234.9 145.5h0M240.1 143h0M241.4 141.5h0M241.5 142.4h0M240.2 143.3h0M235.3 147.4h0M236.5 145.7h0M241.5 141.4h0M244.6 139.2h0M245.7 139h0M246.6 140.3h0M239.9 142h0M240.5 141.8h0M234.2 147.2h0M234.4 146.9h0M240.5 141.4h0M243 139.5h0M240.1 142.1h0M240.9 141h0M235.6 144.8h0M237.9 143.3h0M239.4 142.7h0M240 142.7h0M242 142.8h0M242.5 140.7h0M246.4 139h0M235.7 145h0M236.1 144.3h0M239.8 143.7h0M240.1 141.9h0M241.8 140.3h0M237 143h0M235.3 145.6h0M239.4 142.1h0M239.2 142.9h0M244.6 140.2h0M236.3 145.5h0M241.7 143.5h0M244.5 138.5h0M240.6 141.8h0M236.6 145.8h0M237.2 145.7h0M245.3 139h0M240.4 141.2h0M235.1 145.4h0M243.1 140.2h0M244.2 140.6h0M235 146.5h0M236 145.1h0M239.3 143.7h0M238.3 144.6h0M242.9 141.8h0M241.8 140.5h0M241.8 141.7h0M241.8 142.1h0M240 143.5h0M241.1 143.1h0M238.2 143.9h0M242 141.3h0M244 141.1h0M239.6 143.8h0M236.9 144.3h0M237.4 144.8h0M244 140.6h0M237.4 143h0M236.1 143.5h0M244 140.8h0M237.2 144.7h0M241.3 142.9h0M237.8 144.4h0M236.2 147.1h0M242.4 109.4h0M238.4 109.6h0M236.5 114.5h0M244.7 106.7h0M238.8 113h0M241.5 109.4h0M244.3 111.9h0M238.2 112.5h0M238.8 111.5h0M240 112.3h0M245.1 109.6h0M234.5 115.3h0M245.1 108.8h0M246.7 107h0M243.6 109.2h0M240.4 113h0M244.9 107.6h0M234.7 115.1h0M236.6 115h0M239.4 111.6h0M241.1 109.8h0M241.7 112.8h0M239.9 111.5h0M243 111.2h0M242 112.5h0M238.9 113.2h0M242.3 110.5h0M242.5 108.1h0M242.9 112.5h0M238.7 110.8h0M249 105.8h0M241.2 113.6h0M249.9 106.3h0M237.3 114.9h0M247.8 110.1h0M242.5 109.6h0M248.4 108.6h0M239.3 110.9h0M240.5 111h0M249.2 106.8h0M246.9 106.7h0M239 114.3h0M242.7 110.4h0M243.6 111.1h0M244.6 108.5h0M247.7 108.8h0M244 112.4h0M238.3 113.2h0M239.5 112.1h0M239.8 114.6h0M241.5 111.7h0M245.2 111.9h0M242.3 112h0M246.7 110.8h0M240.4 115.6h0M243.9 106.8h0M240.8 110.6h0M238.7 113.2h0M242.8 112.9h0M236.1 112.2h0M248.2 107h0M245 107.3h0M241.4 112.7h0M242.1 109.9h0M239.3 112.1h0M245 109.4h0M248.2 105.4h0M245.8 107.6h0M240 109.8h0M246.2 109h0M238.8 112.2h0M242.1 111.1h0M241.9 110.9h0M243.1 109.4h0M247.8 106.3h0M244.8 110.7h0M242.8 110.2h0M242.1 111.7h0M247 106h0M240.4 111.9h0M239.5 111.2h0M241.8 108.6h0M241.5 111.8h0M240.7 111.3h0M246.1 109.2h0M249.9 105.8h0M248.1 106.5h0M244.4 110.1h0M242.2 111.6h0M239.5 111.7h0M248.1 108.6h0M242.1 109h0M240.4 112.1h0M240 111.8h0M242.4 112.1h0M246.3 109h0M246.6 106.1h0M240.6 114.6h0M242.7 111.7h0M246.7 109.4h0M238.9 113.5h0M242.2 109.7h0M247.4 109.7h0M246.7 109.1h0M245.3 108.5h0M244.8 108.1h0M236.4 114.4h0M240.1 112.8h0M241.9 108.3h0M244 110.6h0M245.4 107.7h0M239.9 110.8h0M240 113.7h0M234.7 116.5h0M239.4 113.5h0M232.1 117h0M241.8 110.7h0M245.7 111.2h0M237.6 114.1h0M242 112.2h0M243.2 109.6h0M247.6 108.9h0M243.9 111.5h0M238.2 114.9h0M240.5 110.6h0M241.8 110.3h0M239.4 113.2h0M246.3 110.2h0M243.4 109.8h0M245.2 110.8h0M241.9 110.1h0M243.1 110.5h0M244.4 107.9h0M244.6 110.6h0M242.7 109.2h0M244.5 109.3h0M241 110.8h0M245.8 108.5h0M237.8 113.2h0M240.9 113.2h0M247.1 107.1h0M241.2 111.3h0M244.9 109.3h0M240.1 110.7h0M239.3 112.8h0M240.8 110.3h0M243.3 108.7h0M242 109.8h0M239.7 111.8h0M236.7 112h0M238.6 113.7h0M236.6 116.2h0M246 109.9h0M239.7 110.2h0M237.7 113.5h0M246.1 109.5h0M242.3 112.3h0M243.1 111.1h0M241.4 111h0M245.4 109.7h0M238.7 113.2h0M235.2 117.4h0M232.7 115.2h0M242.2 112.7h0M244.7 108.5h0M242.5 110.2h0M245.3 107.5h0M247.9 107.6h0M242.1 111.4h0M245.3 108.2h0M240.7 110.8h0M240.8 111.4h0M245.6 110.5h0M237.6 113.9h0M242.8 108.4h0M240.9 111.1h0M243.8 112.5h0M238 113h0M239.7 111.4h0M240.8 113.9h0M243.3 110.6h0M242.8 108.1h0M242.2 109.6h0M243.9 107.5h0M234.8 114.5h0M245 107.4h0M241.9 113.1h0M247.7 109.1h0M244.3 109.7h0M237.5 115.3h0M243.9 106.7h0M235.6 115.8h0M241.9 110.6h0M244 109.4h0M240.2 110.8h0M245.6 109.1h0M248.6 108.6h0M243.1 108.6h0M245.8 107.7h0M242.3 112.2h0M244.2 109.2h0M242.4 110.2h0M241.6 110.7h0M241.9 111.3h0M246 108.2h0M242.6 109.8h0M241.4 109.1h0M244.3 109.2h0M240.6 111.5h0M241.1 111.6h0M245 110.3h0M243.1 110.8h0M244.4 110h0M244 107.4h0M240.9 111h0M245.5 108h0M242.1 114.9h0M244.7 109.3h0M240.4 111.3h0M240.5 111.9h0M241.3 114h0M237.6 112.2h0M244.4 109h0M242 110.8h0M242.9 111.2h0M246.8 106.8h0M241.1 111.2h0M242.7 111.5h0M237.5 114.2h0M247.2 107.8h0M247.1 108.9h0M241 112.9h0M238.4 115h0M246.1 107.9h0M239.8 112.8h0M241.3 112.2h0M249.2 107.1h0M245.1 108.8h0M245 107h0M238.3 113.9h0M244.1 109.4h0M241.6 108.5h0M243.2 111.4h0M243.5 110.5h0M245.6 107.8h0M244.7 109.1h0M240.9 112.5h0M241.5 112.3h0M237.1 112.1h0M246 107.6h0M245.1 108.1h0M236.8 114.8h0M241.7 112.5h0M238.4 113.5h0M238 114.3h0M237.6 112.6h0M241.8 109.6h0M245.4 109h0M245.6 106.9h0M244.6 107.5h0M238 113.4h0M237.1 112.9h0M245.8 109.6h0M244.6 108.3h0M239.6 113.5h0M244 111.5h0M245.5 107.1h0M244.7 110.5h0M244.1 107.5h0M238.3 112.3h0M238.6 110.4h0M243.6 109.5h0M243.1 109.7h0M243.4 108.3h0M238.6 113.4h0M242 111.4h0M241.4 111.2h0M242.7 110.7h0M243.7 109.3h0M250.6 106.7h0M247.7 108.2h0M237.5 114h0M240.9 114.2h0M243.5 110.8h0M243.1 111h0M241.5 110.1h0M247.9 108.3h0M242.1 113.9h0M248.4 107.1h0M239.3 112.1h0M241.9 113.1h0M242 110.6h0M247.2 108.9h0M245.3 109h0M242.2 111.9h0M241.7 112.3h0M244.1 110.7h0M240.1 111h0M242.8 110.8h0M231.3 130.1h0M235.8 115.3h0M238.9 113.3h0M238.8 115.3h0M233 125.5h0M238.7 113.5h0M232.2 132.4h0M234.5 119.5h0M236 114.5h0M234.2 121.6h0M234.3 120.7h0M230.7 131.4h0M234.6 117h0M233.6 115.2h0M231.8 127.1h0M238.5 115.7h0M233.6 133.5h0M235.5 117.2h0M242.5 112.9h0M234.3 119.5h0M236.3 113.8h0M229.1 127.8h0M232.6 126.2h0M235.7 116.7h0M235.3 124.2h0M234 121.8h0M232.6 127.4h0M236.1 117h0M238.1 113h0M233.4 119.6h0M233.5 117.6h0M232.5 131.1h0M236 116.4h0M232.2 125.8h0M232.6 120.8h0M233.3 127.6h0M231.7 122.8h0M235.9 114.4h0M233.2 129.7h0M235 116.7h0M232.5 128.5h0M234.5 116.4h0M235.1 126.7h0M233.3 131h0M242.1 110.8h0M230 130.6h0M235.3 116.5h0M238 112.9h0M233.9 125.8h0M231.9 129.6h0M232 124h0M234.5 119.1h0M238.2 112.5h0M236.1 117.5h0M232.7 132.2h0M230.5 129.6h0M232.4 121.8h0M234.6 120.5h0M239.2 113h0M238 114.5h0M232.9 132h0M234 116.5h0M231.1 127h0M232 116.8h0M231.6 131.1h0M231.9 129.3h0M233.4 128.4h0M242.7 110.6h0M231.4 128.7h0M232.8 124.8h0M232.6 131h0M242.3 109.5h0M234.4 118.8h0M237.8 114.5h0M241.1 115.7h0M237 115.6h0M238.8 115.3h0M233.6 124h0M232.5 129h0M237 115.6h0M230.9 131.2h0M240.5 110.2h0M237.1 113.4h0M234.7 116.7h0M231.9 124.1h0M239.6 112.6h0M233.8 123.4h0M233 120.5h0M229.6 129.4h0M234.3 116.7h0M242.1 111.3h0M233.8 117.8h0M240.3 111.5h0M230.6 122.5h0M232.1 133.4h0M232.2 128.3h0M232.9 124.3h0M233.8 122.7h0M233.2 119.1h0M235.9 114.8h0M242.3 109.8h0M235.8 119.6h0M238.2 111.3h0M237.2 114.5h0M241.5 109.1h0M229.3 128.8h0M232.2 120.7h0M237.6 114.8h0M234.5 125.1h0M231.8 125h0M238.3 113.7h0M232.7 132.4h0M236.1 120.1h0M230.5 131.4h0M234.7 120.3h0M235 121.2h0M233.8 125.8h0M234.8 123.9h0M233.7 127.9h0M237.2 115.9h0M241.5 111.7h0M236.5 116.1h0M232.1 125.4h0M235.1 127.7h0M232.3 119.7h0M237 116.9h0M231.3 132.7h0M240 113.9h0M234 124.3h0M232 132.7h0M233.6 122.4h0M231.9 132.6h0M232.9 126h0M232.3 127.8h0M239.2 115.9h0M237.6 114.1h0M238.5 114.7h0M235 120.8h0M233 127.7h0M238.7 112.5h0M237 116h0M232.3 123h0M232.6 127.2h0M236.2 122.1h0M236.7 116.5h0M236.6 115.9h0M232.4 132.9h0M237.5 114.7h0M229.3 127.5h0M233.5 130.5h0M239 112.2h0M234.5 117.5h0M241.4 111h0M236.8 115.6h0M232.6 126.1h0M239.1 112.8h0M232.6 120.9h0M231.9 121.9h0M233.3 123h0M241.6 111.8h0M231.7 129.6h0M234.8 118.2h0M231.3 130.8h0M232.7 121h0M233.7 121.1h0M229.1 131.1h0M232.6 129.8h0M237.2 112.2h0M238.3 118.8h0M241.9 112.3h0M244.5 111.9h0M233.2 122.7h0M238.1 117.3h0M233.2 127h0M232 130.5h0M231 130.1h0M235 115.5h0M237.7 113.2h0M236.5 114.8h0M233.5 133.3h0M233.7 128.5h0M233.5 127.3h0M231.4 130.7h0M230.9 131.4h0M234.6 117.3h0M234.6 121.2h0M236.3 120.6h0M238.4 113.1h0M233.3 121.9h0M234.2 127.5h0M233.7 130.4h0M236.1 112.8h0M236.3 114h0M241.2 113.9h0M234.5 120.2h0M233.2 122h0M236.2 113.9h0M232.3 126.7h0M235.6 117.9h0M235 122.7h0M231.7 129.6h0M233.3 118.7h0M232.6 115.5h0M233.4 116.8h0M234.8 126.4h0M230.5 129.4h0M229.9 129.2h0M234.9 115.6h0M234.6 116h0M237.9 114.9h0M237.2 116.2h0M232.5 123.1h0M233.1 120.5h0M239.3 111.6h0M233.2 123.8h0M233.1 124.7h0M236.7 119.3h0M233.8 123.2h0M235.2 121.2h0M231.7 128.2h0M231 123.4h0M233.9 122.6h0M234.7 119h0M232.9 132.7h0M239.8 113.7h0M235.8 116.3h0M235.8 116.4h0M233.7 116.9h0M239.1 115.3h0M235.7 122.9h0M230.2 131.1h0M234.1 118.2h0M232.1 130.2h0M231.7 123.8h0M231.9 132.2h0M235.4 118.1h0M233.3 125.7h0M231.9 131.5h0M235.1 118.3h0M239.4 112.1h0M232.2 121.9h0M237.9 115.9h0M232.9 120h0M234.2 113.1h0M231.5 129.6h0M234.3 118.8h0M237.6 115.1h0M236.6 116.3h0M239.1 111.3h0M237.6 114.2h0M232.8 128.1h0M241.3 113.1h0M234.1 120.8h0M233.7 122.9h0M232.8 122.6h0M232.4 120.7h0M243.6 111.3h0M232.5 131.7h0M234.6 122.6h0M240.5 113.6h0M232.5 123.3h0M233.5 124.5h0M233.8 129h0M236.3 120.5h0M233.7 121.5h0M233 129.7h0M234.1 119.9h0M236.7 121.6h0M231.8 130h0M232.8 126.6h0M235.1 123.9h0M232.3 130.2h0M239.9 114.2h0M232 131h0M228.6 127.6h0M241.5 112.2h0M234.3 125.6h0M232.6 123.3h0M233.5 132h0M230.4 132.1h0M234.1 123h0M235.5 118.4h0M232.8 123.3h0M238 114.2h0M232.9 120.3h0M232.9 119.7h0M238.9 112.8h0M232.9 127h0M233.6 127.9h0M233.6 122h0M235.9 114.4h0M235 126.7h0M237.4 115.5h0M236.2 114.8h0M232 127.9h0M234.5 120h0M230.3 124.2h0M235.6 118.7h0M237.7 115.9h0M234 120.1h0M231.8 127.8h0M231.2 130.2h0M233.9 133.2h0M232.6 129.4h0M231.6 125.8h0M230.4 133.3h0M229.8 127.7h0M230.9 120.4h0M237 118.5h0M241.2 114h0M232.9 128.1h0M230.5 126.9h0M240.3 111.3h0M241.1 111.3h0M233.7 117.1h0M240.2 112.4h0M234.8 117.5h0M231.9 122.5h0M241.8 108.6h0M233.7 116.9h0M241.3 111.4h0M232.5 128.9h0M232.5 119.6h0M235.1 117.4h0M232.8 126.7h0M240.7 114h0M234.2 124.4h0M233.8 118.3h0M232.5 124.6h0M239.4 112.3h0M235.8 117.5h0M239.5 114.3h0M235.2 119.6h0M231.6 129.2h0M232.4 129.5h0M235.8 119.5h0M241.3 111.5h0M230.9 128h0M230.5 127.8h0M230.6 127.9h0M232.6 125.4h0M238 114.3h0M237.6 111.6h0M230.9 127.8h0M230.5 128.7h0M233.6 116.8h0M231.5 122.1h0M245.3 112.6h0M233.9 125.8h0M235.4 117.2h0M231.1 132.7h0M232.4 133.4h0M232.4 118.7h0M235.3 127.3h0M232.5 134.2h0M233.3 123.1h0M233.8 130.9h0M232 127.8h0M240.3 111.5h0M233.8 120.7h0M233.4 120.3h0M232.7 129.1h0M239.4 114.4h0M238.4 111.9h0M231.2 128.6h0M237.3 118.7h0M241.5 112.4h0M234.5 121.4h0M232.7 122.4h0M232.6 123.7h0M236.2 129.4h0M234 128h0M232.8 127.8h0M240.6 114.5h0M231.9 120.7h0M233.2 119.2h0M237.6 113h0M231.9 119.2h0M233.5 132.8h0M236.7 115.1h0M235.3 120.4h0M241.3 111.4h0M233 126.5h0M232.8 124.3h0M233.9 122.3h0M231.6 125.8h0M234 120.4h0M230.5 125.6h0M234.6 122.5h0M236.4 112.7h0M233.7 119.1h0M233.1 121.6h0M233.2 124.8h0M235.5 122.6h0M240.5 109.9h0M233.8 133.5h0M235.3 124.2h0M233.9 128.2h0M234.2 127.1h0M235.4 121h0M234.9 115.2h0M238.3 118.2h0M234.3 128.8h0M232.8 121.4h0M241.3 110h0M231.7 127.4h0M231.9 129.4h0M234.1 125.7h0M231.9 128.6h0M232.6 132.2h0M234.5 117.9h0M231.6 131.5h0M235.8 115.5h0M233.1 126.8h0M234.4 123.3h0M232.5 121.3h0M232.4 122.4h0M232.6 126h0M230.8 131.1h0M232.2 130.2h0M208.9 156.1h0M202.4 156.1h0M209.2 156.6h0M213.8 156.3h0M213.6 156.2h0M208.8 156.5h0M215.4 156.2h0M207.8 156.6h0M214.2 156.3h0" stroke="#000" stroke-width="0.8" stroke-linecap="square" opacity="0.5" fill="none"/></g><text x="211.2" y="123.2" font-family="Liberation Serif,serif" font-size="4.2" class="lb" fill="#777" text-anchor="middle">10.8</text><path d="M211.4 125.8V129.4" stroke="#333" stroke-width="1" fill="none"/><path d="M211.4 131.8l-1.4 -3h2.8z" fill="#000"/>
<path d="M319.6 32.1H388.8V85.6H319.6Z" fill="none" stroke="#787878" stroke-width=".9"/><path d="M349 32.1V85.6M319.6 57.2H388.8" fill="none" stroke="#909090" stroke-width=".9"/><path d="M315.7 84.8l1.2 1.9M318.6 89.1l1.8 -1.2M315.7 71.4l1.2 1.9M335.9 89.1l1.8 -1.2M315.7 58l1.2 1.9M353.2 89.1l1.8 -1.2M315.7 44.7l1.2 1.9M370.5 89.1l1.8 -1.2M315.7 31.3l1.2 1.9M387.8 89.1l1.8 -1.2" stroke="#3a3a3a" stroke-width=".95" fill="none"/><text x="353.5" y="92" font-family="Liberation Sans,sans-serif" class="ns" font-size="2.1" font-weight="bold" fill="#333" text-anchor="middle">YO-PRO</text><g clip-path="url(#c6)"><clipPath id="c6"><rect x="319.6" y="32.1" width="69.2" height="53.5"/></clipPath><ellipse rx="17" ry="12" transform="translate(334.5 68.6) rotate(-28)" fill="url(#hg)" opacity="0.34"/><ellipse rx="13" ry="11" transform="translate(371 43) rotate(0)" fill="url(#hg)" opacity="0.07"/></g><g filter="url(#bl)"><path d="M337.9 60.8h0M325.3 76.3h0M331.2 61h0M336.6 70.7h0M344.8 67.8h0M333.8 59.5h0M325.8 69.9h0M336.1 73.4h0M331.9 66.3h0M333.9 63.6h0M327.5 70.9h0M336.8 75.8h0M334.2 65.3h0M343.7 68.2h0M335.5 64.4h0M339.9 67.5h0M338.7 66.9h0M332 71.4h0M336.6 70h0M333.1 59h0M332 74h0M330.4 71.4h0M348.8 72.2h0M347 65.8h0M341.9 67.4h0M348.9 61.3h0M320.5 71.1h0M322.9 63.3h0M332.4 63h0M342.5 71.9h0M325.5 78.9h0M340.2 59.4h0M328.3 83.2h0M334.9 69.8h0M338.2 66h0M327.3 73h0M347.8 61h0M343.7 62.5h0M334.5 66.2h0M329.5 80.5h0M328.4 74.7h0M321.4 74.8h0M333 68.2h0M332.8 71.2h0M324.2 78.5h0M333.5 69.6h0M328.3 69.5h0M335.5 72.6h0M341.5 65h0M335 70.8h0M333.8 67.2h0M335.2 52.9h0M337.4 72.6h0M332.1 59.7h0M337 60.6h0M344.4 61.4h0M335.8 55.7h0M333.7 70.4h0M325 70.3h0M332.1 67h0M320.8 72.8h0M338.5 68.5h0M331.1 80.5h0M328.8 71.1h0M334.1 66.4h0M332.9 60.9h0M346.3 74.2h0M323.8 80h0M332 67.1h0M335.9 66.7h0M341.9 71.3h0M332 63.5h0M323.7 69.7h0M331.4 70.8h0M325.5 64.9h0M337.8 72.1h0M331.7 67.5h0M341.5 65.2h0M339.6 70.6h0M329.2 63.1h0M332.3 77.2h0M342.6 64.8h0M332.7 71.6h0M325.3 63.9h0M335.6 68.5h0M344 63.7h0M343.1 71.5h0M331.4 67.3h0M348.5 60.3h0M339.4 57.7h0M329.6 72h0M339.9 59.5h0M336 78.2h0M345.1 67h0M334.6 70.8h0M327.4 62.1h0M346.1 69.6h0M332.8 70.9h0M347.5 61.7h0M332.3 64.2h0M337.7 70.1h0M330.4 75.3h0M334.6 69h0M333.7 77.2h0M321.1 71h0M345.3 56.5h0M335.9 68.5h0M327.4 74.4h0M330.9 62.5h0M339.7 70.4h0M333.6 73.2h0M340.3 77.6h0M340.3 65.5h0M326.2 78.7h0M337.3 63.1h0M323.7 72.4h0M339.4 72.2h0M345.5 63.9h0M333.7 74.3h0M340.1 66.1h0M334.2 71.1h0M349 75h0M330.7 74.1h0M328.7 66.6h0M331.6 71.1h0M322.9 77.3h0M334.7 62.8h0M343.5 65.9h0M337.2 67.9h0M342.3 74.3h0M337.1 76.4h0M333.9 72h0M339 70.8h0M341.2 67h0M336.5 63.7h0M336.3 65.5h0M333.2 55.3h0M327.2 79h0M335.6 64.7h0M341 64.2h0M330 74h0M340.4 62.9h0M339.5 74.4h0M333.2 68.6h0M335.9 68.8h0M337.7 65.6h0M340.6 68.6h0M342.5 56.1h0M334.1 66.3h0M329.5 65.6h0M333.4 68h0M340 72.7h0M327.8 74.6h0M336 73h0M332.6 61.9h0M321 77.3h0M327.6 76.3h0M347.3 60.9h0M350.2 59.8h0M332.4 70.7h0M330.6 76.1h0M336 66.7h0M329.4 67.3h0M333.1 61.1h0M330.6 60.8h0M342 76.3h0M356.5 66.4h0M337.5 64.7h0M326.4 70.3h0M333.7 66.8h0M344.7 59.3h0M341.9 64.1h0M335.7 60h0M332.7 66.8h0M345.3 66.8h0M331.6 59.3h0M333.1 68.2h0M333 72.7h0M332.7 70.9h0M346.4 70.7h0M324.7 65h0M338.2 66.8h0M335.7 62.1h0M338.5 65.4h0M329.9 66.2h0M336.4 73.9h0M340.7 77h0M334.8 76.3h0M339.4 66.5h0M337.2 55.5h0M332.9 64.8h0M333.4 70.5h0M334.7 60.2h0M324.1 80.5h0M337 64.4h0M332.9 71h0M339.1 72.3h0M323.4 70.1h0M330.2 67.7h0M345 70.7h0M347.2 68.5h0M331.2 67.4h0M320.9 75.2h0M331.5 67.2h0M345.4 65.8h0M341.5 72.6h0M343.2 61h0M320.8 79.6h0M345.2 68.5h0M324.6 74.7h0M320.7 78.5h0M339.8 64.6h0M339.1 67.4h0M336.5 65.3h0M333.1 69.8h0M332.7 65.8h0M329.9 69h0M342.3 59.9h0M344.5 69.9h0M325.7 66.3h0M334.3 65.7h0M348.7 61.8h0M344.3 61h0M326.4 74.1h0M341.8 69.1h0M329.9 80h0M350.7 72.8h0M325.3 71.6h0M346.4 61.2h0M332.5 63.4h0M321.4 77.7h0M331.5 75h0M343.2 68.8h0M334 71.3h0M341.6 69.4h0M341.9 71.1h0M330.1 79.1h0M322.1 78.3h0M326.6 68.7h0M320.5 76.3h0M339.5 63.4h0M328.2 62.9h0M337.5 65.7h0M323.6 57.8h0M327.8 69.4h0M327.9 58.4h0M332.6 75.5h0M336.5 74h0M328.7 67.5h0M350.1 61.6h0M351.3 64.9h0M331.6 72.7h0M335.3 70.5h0M334.2 55.7h0M337.1 60.4h0M335.9 67.1h0M349.8 59.2h0M339 65.3h0M330.7 69.2h0M340.8 74.4h0M337.8 75.3h0M326 71.4h0M323.2 70.9h0M343.7 64.5h0M340.4 60.1h0M330.6 63.9h0M325.5 73.1h0M322.6 80.4h0M347.7 54.5h0M326.5 71.1h0M332.9 74.2h0M333 79.5h0M346.4 62.3h0M342.7 64.5h0M336.4 68.8h0M339.2 71.9h0M340 59.7h0M326.8 66.1h0M329.5 65.7h0M332.4 66.2h0M330.4 64.6h0M333.8 66.3h0M339 66.5h0M324.6 68.6h0M335.7 65.6h0M332 67.3h0M333 78.4h0M351.1 63.8h0M339.9 67.8h0M322.9 79.6h0M335.2 65.2h0M343 68.4h0M335.3 62.9h0M332.2 64.7h0M336.1 68.5h0M343.9 69.4h0M332.9 78.8h0M329.3 69.4h0M338.3 68.5h0M346.5 67.2h0M321 64.4h0M330.8 74.6h0M332 64.8h0M340.5 79.4h0M333.9 68.7h0M320.4 65.7h0M339 72.7h0M329.2 78.6h0M343 72.6h0M329.5 66.2h0M341.2 67.3h0M332.6 74.6h0M331.4 65.8h0M333 64.1h0M336 69.3h0M341.4 59.8h0M339.3 72.9h0M339.1 62.9h0M326.7 74.3h0M329.6 71.4h0M336.4 74.2h0M325.8 71.7h0M343.5 61.2h0M323.3 69.7h0M338.6 71.1h0M333.4 61.8h0M336.8 67.1h0M338.1 63.6h0M334.5 64.3h0M337.6 71.1h0M338.3 76.6h0M336 66.6h0M334.8 63.6h0M331.8 71h0M340.3 68.9h0M326.6 74.3h0M338.5 63.7h0M330.3 70.1h0M330.3 73.4h0M343.8 65.7h0M332 63.6h0M329 68.5h0M324 82.3h0M338.7 64.7h0M340 66.7h0M333.2 75.1h0M323.6 83.8h0M338.2 69h0M333.2 64.9h0M332.2 73.4h0M332.2 70.4h0M339.5 64.6h0M343.8 50.1h0M332.6 65.2h0M322.2 68.8h0M326 73.3h0M332 65.8h0M337.1 66.8h0M339.6 59.6h0M337.6 75.4h0M346.6 57.5h0M328 72.9h0M329.7 69.2h0M343.4 72.2h0M329.5 66.2h0M339.5 60.5h0M338.6 65.7h0M330.9 78.2h0M338.5 65.4h0M339.8 64.8h0M335.8 71.8h0M338.8 81h0M335.6 62.5h0M327.4 78.8h0M339.8 62.8h0M345.4 61.9h0M345.6 56.4h0M335.1 67.6h0M334.4 70.1h0M323.6 68h0M341.2 60.2h0M340.3 66.5h0M337.4 63.4h0M328.2 69.5h0M352 65.6h0M332.7 77h0M337.7 64.1h0M332.1 74.9h0M325 64.4h0M334.6 65.6h0M324.4 67.5h0M327.5 71.2h0M328 67.3h0M326.6 81.8h0M339.3 65.9h0M343.5 70.6h0M331.1 72.1h0M345.1 78.8h0M330.8 61.5h0M324.3 68.9h0M342 76.3h0M341.2 62.4h0M330.2 64.4h0M324.7 64.7h0M344 67.2h0M347.1 76.7h0M334 72.5h0M323.9 68.1h0M336.6 71.2h0M337.9 81.9h0M329.6 69.7h0M344.9 62.5h0M337.8 69.6h0M332.7 67h0M334.3 65.4h0M334.5 70.8h0M337.2 67.6h0M333.1 70.8h0M324.6 74.6h0M330.7 69.5h0M333.4 73.5h0M328.4 73.5h0M338.1 68h0M347.9 58.8h0M324.3 64.9h0M339.9 70.6h0M349.2 63.3h0M345 56.7h0M337.7 71.3h0M334.3 79.2h0M329.8 72.1h0M343.7 68.2h0M351.7 53h0M338.9 64h0M335.9 60.5h0M323.3 77h0M340.7 60.9h0M337.1 60.1h0M321 62.4h0M331.8 73.5h0M338.9 64.1h0M331.6 72.1h0M333 70.5h0M323.2 82h0M334.4 72.4h0M341.5 59.3h0M337 67.8h0M332.4 67.3h0M331.9 67.7h0M343.6 55.4h0M343.1 62.1h0M325.7 74.7h0M334.8 74.9h0M327.2 67.9h0M327.9 73.8h0M344.5 68.6h0M342.5 63.9h0M330.3 70.3h0M332.7 60.9h0M334.1 59.8h0M332 67.9h0M326.1 64.6h0M337.7 72.4h0M341.2 64.2h0M333.9 70.7h0M343.4 72h0M341 67.1h0M323.4 75.7h0M326.3 67.3h0M338.9 72.6h0M343 58.1h0M324.3 74.7h0M336.9 65.6h0M338.5 62.9h0M330.5 70.9h0M340.2 70.9h0M324.5 73h0M337.3 61.5h0M333.5 72.2h0M330.4 70.5h0M328.2 69.5h0M339.7 71.5h0M330.8 69.7h0M329.3 69.9h0M342.1 55.4h0M332.9 68.1h0M335.5 67.7h0M343.7 61.2h0M342.3 59.5h0M344.5 71.8h0M328.9 66.9h0M341.3 69.6h0M334 67.5h0M330.9 82.3h0M329.2 67.3h0M346.6 57.5h0M339.7 66.8h0M325.5 72h0M345.1 65.5h0M330 66.1h0M334 64.3h0M338.7 71.2h0M334.9 74.5h0M338.7 64.8h0M339.5 74.6h0M348.4 61.8h0M343.2 64.6h0M331 68.8h0M339.4 58.1h0M340.4 67.8h0M340 63.1h0M340.3 66.6h0M340.8 68.6h0M325.9 66.1h0M341.6 66.9h0M325.4 66.9h0M328 71.8h0M331.5 68.8h0M346.1 53.7h0M344.2 60.7h0M327.1 74.2h0M339.9 71.1h0M324.1 63.7h0M340.2 65.3h0M324.9 68.5h0M335 63.6h0M339.9 69.5h0M322.4 79.7h0M334.2 71.6h0M337.2 66.4h0M322.3 77.9h0M323.3 69.9h0M345.5 68.2h0M340.8 69.3h0M340.2 70.7h0M341.7 75.5h0M330.4 66.4h0M337.1 72.2h0M325.3 79.7h0M339.9 73.5h0M326.1 79.7h0M330.4 76h0M342.4 54.7h0M340.4 71.9h0M334.7 55.8h0M328 68h0M332.1 57.1h0M331 66.4h0M344.5 72.8h0M324.3 62.3h0M332.5 69.4h0M328.3 76.5h0M336.4 54h0M330.3 68.2h0M329.9 73.3h0M339 71h0M336.9 68.6h0M348.9 74.3h0M344.1 70.9h0M329.9 67.5h0M331.7 71.7h0M321.2 80.8h0M336.4 68.2h0M328.6 66.1h0M343.6 63h0M334.7 62.4h0M338.3 70.8h0M327.9 72h0M342.6 70.2h0M343.2 60.8h0M337 76.2h0M343 62h0M343.1 72.1h0M327.6 73.2h0M334.3 70.1h0M347 64.2h0M340.4 72.1h0M343.7 66h0M340.6 68.8h0M340.8 69.8h0M344.1 70.4h0M338.1 75.7h0M335.7 69.8h0M341.1 73.6h0M333 64.6h0M332 60.4h0M333.6 71.8h0M337.7 69.2h0M332.1 59.4h0M333.2 72.8h0M336.5 63.3h0M345.7 65.8h0M338.8 62.4h0M342.2 67.1h0M348.2 61.4h0M330 68.7h0M350.7 58.9h0M323.2 63.6h0M329.9 66.5h0M337.6 71.6h0M338.8 76.9h0M344.7 69.4h0M344.1 66h0M343.1 65.5h0M336.6 66.5h0M331.2 71.3h0M331.1 75.4h0M345.1 57.1h0M346.9 61.7h0M342.8 65.9h0M336.5 61.9h0M331.8 67.1h0M332.7 68.9h0M327.8 70.2h0M328.4 76.4h0M335.6 55.2h0M339.9 67.6h0M332.1 75.6h0M329.2 74.6h0M334.6 72.2h0M334.1 72.2h0M340.6 74.2h0M346.9 67.9h0M329 70.1h0M347.7 54.2h0M336.8 65.9h0M345.4 60.6h0M340.7 57.3h0M328 67.5h0M327.3 70.3h0M325.2 76h0M329.1 78.2h0M341.4 71.1h0M327 82.7h0M322 75.2h0M321.6 73.6h0M327 64.8h0M337.9 65.2h0M338.3 62h0M327 69.7h0M344.7 58.1h0M331.5 74.4h0M321.1 61h0M332.2 68.7h0M325.8 69.9h0M333.1 59.3h0M340.7 71.2h0M329.9 65.1h0M340.8 72.9h0M334.2 71.6h0M345.2 72.6h0M340.4 60.4h0M325.8 74h0M341.9 63h0M335.4 67.6h0M332.1 64.1h0M338.4 72.7h0M332.6 76.5h0M320.6 68.9h0M332.6 75.7h0M342.8 65.4h0M344.9 72.1h0M337.4 67.6h0M331.9 69.7h0M332.9 72.4h0M334.5 66.1h0M339.7 60h0M335.3 65.3h0M334.6 76.6h0M338.9 75.4h0M336 61.8h0M337.8 65.6h0M341.9 72.9h0M327.7 68.7h0M331.2 67.6h0M339.8 63.9h0M333.2 64.2h0M334 63.4h0M322.8 63.6h0M332.8 62.5h0M337.5 66.1h0M330.4 71.5h0M328.4 74.3h0M320.8 72.3h0M332.2 66.3h0M333.7 63h0M329.9 61.4h0M328.4 60.5h0M330.1 68.1h0M325.6 82.5h0M336.5 68.2h0M329.6 73.5h0M337.2 64.8h0M320.9 81.9h0M334.8 65.1h0M338.7 64.2h0M333 70.2h0M341.2 70.9h0M349.4 64.7h0M324.5 62.3h0M333.9 59.4h0M321 65.7h0M341.1 72.5h0M328.1 61.7h0M320.4 66h0M346.2 58.5h0M329.4 83.5h0M340.1 65.8h0M320.6 68.9h0M340.9 82.6h0M331.8 64.5h0M331.1 64.1h0M328.6 57.1h0M347 55.2h0M332.8 63.5h0M333.7 60.6h0M330.1 79.3h0M334.7 71.3h0M327.5 76h0M348 64.7h0M329.5 67.2h0M326.8 72.4h0M328.9 64.7h0M323 67.3h0M322.6 73.9h0M320.8 80.3h0M343.5 70.3h0M328.4 69.7h0M331.4 67.9h0M330.7 65.3h0M336.3 72.8h0M348.6 68.1h0M340.2 72.4h0M335.3 72.6h0M328 66.1h0M327.4 73.9h0M364 35.4h0M370.5 34.8h0M374.4 39h0M377.5 49.2h0M379 42h0M377.5 42.2h0M382.1 46.7h0M371.8 36.2h0M370.6 33.5h0M371 37.6h0M373.4 37.9h0M375.5 51.8h0M372.8 36.6h0M373.7 36.9h0M364.7 34.3h0M379 39.3h0M367 34.8h0M379.6 45.3h0M375.7 43.8h0M379.6 47.9h0M364.9 37.6h0M376.1 38.4h0M380.3 45.7h0M368.8 36.3h0M371.9 35.5h0M380.7 49.2h0M377.5 52.2h0M376.8 40.4h0M379.9 48h0M380.6 44.5h0M368.7 35.5h0M366 34.4h0M377.7 40.9h0M379 45.9h0M373.6 37h0M366.7 33.2h0M379.1 42.8h0M373.8 38.8h0M378.2 46.6h0M377.4 50.7h0M381 46.1h0M364.6 37.5h0M376.9 51.6h0M378.5 51.6h0M380.2 46.5h0M362.7 36.8h0M378 47.1h0M377.5 38.8h0M367.7 35.1h0M377.8 39.6h0M364 35h0M379.7 50.7h0M362.6 35.9h0M367.8 36.8h0M380.6 48.3h0M377 54.6h0M379.5 52.3h0M376.6 38.7h0M375.8 51.8h0M373.1 34.8h0M376 39.4h0M382.1 48.9h0M381 44.4h0M365.4 35.6h0M378.8 39.3h0M371.2 35.5h0M360.9 35h0M363.7 35.7h0M376.1 38.7h0M373.4 39.5h0M372.9 39.7h0M376.4 36.9h0M379.3 47.8h0M362.7 33.8h0M360.8 35.7h0M376.3 35.6h0M374.1 36h0M380.1 44.2h0M377.9 49.6h0M375.5 37.7h0M378.1 49.2h0M377.6 48h0M371.4 36.2h0M379.9 42h0M366 34.1h0M377.4 39.8h0M375.8 52.8h0M378.9 41.7h0M373.2 37.9h0M379 44.8h0M376.9 50.1h0M368.8 33.5h0M379.4 39.8h0M377.8 40.9h0M379.9 47.9h0M377.2 37.5h0M365.6 33.2h0M377.5 42.1h0M368.4 33.3h0M366.6 33.9h0M380.5 51.8h0M376.9 51.7h0M375 37.3h0M364.9 36.8h0M379.2 46.8h0M379.5 48.6h0M379.2 42.1h0M379 43h0M377.9 47.1h0M379.4 45.9h0M369.6 35h0M378.9 41.7h0M373.9 39.2h0M377.8 38.6h0M363.1 33.4h0M377.9 41.1h0M370.8 34.5h0M378.7 44.9h0M368.2 36.7h0M378.6 49.8h0M377.9 52.9h0M372.6 38.8h0M378.3 46.4h0M376.6 42h0M378 46.4h0M379.2 52.4h0M372.1 35.9h0M370.4 34.4h0M362.8 37.6h0M373.1 38.4h0M377 39.1h0M378.9 40.1h0M371.2 38.2h0M379.6 45.8h0M360.8 35h0M377 39.4h0M368.2 34.6h0M376.6 42.4h0M376.9 40.1h0M375.2 37.8h0M365.2 37.2h0M369.2 36.8h0M374.4 37.3h0M377.4 53.2h0M365.4 34.7h0M369.1 35.3h0M379.4 40.7h0M376.9 37.1h0M377.6 37.6h0M372.3 35.6h0M377.5 40h0M381.1 40.9h0M376 43.4h0M377.1 53.8h0M365 35h0M376.8 46.2h0M376.7 42.6h0M377.5 40.9h0M377.4 47.7h0M378.5 42.7h0M377.7 52.7h0M369.9 33.9h0M376.1 47.8h0M380.1 50.3h0M363.9 35.5h0M373.3 39.6h0M377 49.8h0M361.6 35.6h0M379.1 47.9h0M367.4 37.4h0M375.2 56.7h0M376.2 37.5h0M381.4 50.5h0M376.1 52.1h0M377.3 36.7h0M369.3 34.6h0M370.6 33.4h0M373.1 36.1h0M379.9 51.5h0M362 35.8h0M371.6 36.2h0M370.7 34.9h0M378.6 42.6h0M380 45.8h0M371.3 37.1h0M361.9 33h0M378.7 46.5h0M377.1 43.5h0M378.4 42.1h0M374.3 37h0M368.9 33h0M376.3 42.7h0M379.2 49.6h0M366 35.9h0M381.5 43.6h0M377.3 48.8h0M387.2 38.3h0M381 34h0M370.9 40.8h0M381.5 42.6h0M385.3 42.4h0M381.3 33.1h0M358.4 43h0M373.2 39.6h0M377.9 39.7h0M383.5 47.6h0M379.4 35.5h0M365.7 34.9h0M370.3 43.4h0M369.9 38.1h0M374.3 34.4h0M358.6 44.8h0M387.5 49.9h0M382.1 45.2h0M371.6 46h0M365.7 41.5h0M383.8 39.9h0M371.8 50.7h0M387.7 43h0M370.6 41.8h0M368.4 49.1h0M375.8 34.9h0M377.8 39.2h0M371.5 35.9h0M356 49.2h0M374.3 48.8h0M370.4 42.1h0M373.1 49.6h0M379.8 33.3h0M376.2 47.8h0M368.6 46.5h0M356.9 39.1h0M372.3 41.4h0M363.1 45.8h0M375.6 45.1h0M376.7 50.2h0M354.2 41.9h0M387.5 42.1h0M364.3 39.1h0M380.6 51.6h0M380.9 40.1h0M366.4 40.9h0M366.8 39.4h0M371.1 50.7h0M368.4 38.6h0M378 39.3h0M370.3 46.9h0M362.7 47.5h0M380.5 49h0M357.9 42.1h0M374.8 36.1h0M362.3 56h0M369.8 42.1h0M361.5 58.7h0M363 54.7h0M369.3 61.2h0M372.8 36.4h0M364.5 50h0M366.6 49.8h0M376.8 48.9h0M358.1 48.7h0M356.7 43.8h0M365.9 42.2h0M359.4 45.5h0M360.8 56.2h0M367.5 49.5h0M357.7 50.2h0M356 46.8h0M360.4 42h0M355.8 42h0M367.6 47.9h0M358.1 40.9h0M370.8 48h0M354.1 49.2h0M360.2 61.6h0M360.5 45.2h0M364.2 47.3h0M359.6 52.9h0M372.8 59.6h0M353.2 51.4h0M369.1 49.1h0M357.2 54.3h0M363.8 45.6h0M360 61.5h0M367.1 51.6h0M360.3 45.2h0M364.4 48.4h0M359.8 51.2h0M366.9 53.1h0M355.1 39h0M357.5 50.8h0M362.9 69.2h0M362.5 70.2h0M369.3 63.9h0M363.9 69.9h0M373.3 60h0M354 74.9h0M362.9 68.9h0M367.7 64.2h0M374.3 60h0M373.2 62.1h0M351.4 78.3h0M354.2 77.5h0M357.7 73h0M360.5 70.1h0M372.8 62.2h0M363.2 68.4h0M364.9 65.9h0M368 64h0M359.7 72h0M372.3 61.9h0M364.6 67.2h0M371 61h0M371.2 66.1h0M358.7 71.3h0M361.9 69.6h0M371.5 63.4h0M365.1 67.7h0M352.9 77.7h0M357.4 74.9h0M369.6 65h0M361.4 70.9h0M370.3 66.1h0M372.6 63.2h0M359 75.2h0M358.4 71.2h0M365.5 67.8h0M355.8 74.3h0M375.3 59.8h0M360.3 71.4h0M361.1 70.6h0M369 64.8h0M353.6 75.9h0M367.3 66.2h0M364.2 68.4h0M369.6 65.5h0M352.8 78.6h0M370.4 63.4h0M366.7 64.5h0M356.8 75.1h0M353.3 78h0M365.1 67.4h0M351.8 79.2h0M362.4 67.7h0M373.5 60.8h0M364.1 69.9h0M353.3 77.6h0M365.9 66.7h0M368.4 64.5h0M363.9 69.5h0M373.5 59.1h0M365.2 66.7h0M352.7 77.1h0M353.5 79.6h0M361.2 73.6h0M352 76.7h0M367.2 64.9h0M352.3 75.7h0M360.4 73h0M355.2 76.4h0M371.3 62.2h0M354.6 76.3h0M366.2 67.5h0M363.3 69.3h0M370.2 61.8h0M358.1 74.9h0M352.5 79.4h0M357.1 72.4h0M362.5 70.2h0M361.3 69.6h0M365.2 67.9h0M372.7 62.4h0M356.3 76.2h0M359.6 72.6h0M355.8 76.8h0M370.6 64.1h0M356.1 75.4h0M365.9 67h0M352.2 77.5h0M352.1 76.7h0M357.9 72.5h0M361.2 73.1h0M358 75.5h0M354 77h0M373.5 63h0M368.7 65.9h0M366.5 67.4h0M373.8 61.2h0M369.1 64.2h0M367.1 66.9h0M357.8 71.6h0M352.1 79.1h0M363.8 67.8h0M359.4 72.7h0M367 67.4h0M359.2 73h0M372.7 60.6h0M354.6 75.7h0M374.8 61.5h0M365 67.7h0M362.9 68.4h0M359.1 73h0M362 70.7h0M357.3 73.9h0M364.8 71.3h0M351.4 70.3h0M373.7 66.9h0M370.9 63.6h0M357.1 78.7h0M370.1 67.6h0M376.6 65.5h0M352.2 76.2h0M363.2 68.4h0M356.1 78.1h0M354.4 69.8h0M353.7 72h0M361.2 71.3h0M353.5 73.4h0M365.1 74.7h0M343.9 80.1h0M364.7 62.8h0M364.5 71.5h0M372.1 68.4h0M359.8 75h0M369.6 69.6h0M355 76.7h0" stroke="#000" stroke-width="0.7" stroke-linecap="square" opacity="0.3" fill="none"/><path d="M327.9 68.1h0M337.8 67.1h0M335.4 70.1h0M329.7 65.9h0M337.4 68.9h0M330.8 67.2h0M327.7 67.3h0M336.1 70.7h0M331.4 74.2h0M334.5 67.7h0M331.8 64h0M337.2 69.5h0M328.6 70.4h0M337.8 69.6h0M335.2 67.1h0M330.1 67.2h0M339.1 69.8h0M330.3 71h0M339.4 68.7h0M330.9 69.2h0M336.9 65.2h0M334 69h0M331.5 72.2h0M348.5 62.9h0M339.5 67.2h0M327.1 72.8h0M341.6 69.1h0M333.3 68.9h0M331 66.5h0M334.3 70.5h0M343.4 66.5h0M330.5 69.1h0M328.9 74.7h0M332.2 70.2h0M338.8 60.7h0M340.1 67.7h0M325.8 71.9h0M338.4 67.5h0M329.4 68.8h0M341.4 64.8h0M332.3 68.7h0M337.2 69.4h0M337.5 68h0M337.5 67.6h0M342.5 71.2h0M340.9 67h0M331.7 71.3h0M327.1 76.5h0M327.2 70.4h0M332.1 68h0M337.2 70.3h0M334.3 67.7h0M337.3 71.6h0M337.1 70.9h0M341.7 67.6h0M332.4 67.4h0M328 72.7h0M329.3 67.6h0M328.4 70.3h0M334.8 62.1h0M330.5 67.7h0M333.1 68.9h0M334.1 66.3h0M335.3 69h0M332.1 72.7h0M334.6 71.8h0M333.9 70.6h0M333.6 74h0M328.4 75.2h0M331 64.1h0M340.9 67.3h0M335.3 70.9h0M333.8 71.1h0M336.3 63.7h0M337.9 64.1h0M329.6 68.7h0M337.1 65.9h0M328.8 67.6h0M339.8 68.1h0M338.4 63.5h0M337.9 66.3h0M335.5 66.5h0M340.3 66.6h0M330.7 71h0M327 71.5h0M331.4 67.4h0M335.9 71.1h0M340.2 59.7h0M340.4 64.2h0M332.1 70.8h0M333.1 65.1h0M343.4 65.5h0M340.6 66.9h0M324.7 68.3h0M332.6 71.1h0M332.3 68.2h0M338.2 65.1h0M340.5 65.3h0M324.7 72.1h0M343.6 64.6h0M343.1 67h0M343 68.7h0M334.1 71.4h0M332.1 68.7h0M336.7 67.5h0M332.5 63.7h0M334.3 66.6h0M329.6 71.8h0M337.3 64.2h0M338.2 63.9h0M341.4 67h0M336.2 67.5h0M328.8 73.2h0M331.3 69.7h0M332.2 68.7h0M336.2 65.2h0M330.3 75.4h0M329.7 71.3h0M339.2 67.7h0M340 68h0M328.1 68.7h0M337.2 68h0M324.8 75.3h0M332.7 65.1h0M338.1 64.4h0M331.3 69.2h0M341.4 62.9h0M338.4 69.3h0M326.8 71.9h0M332.1 66h0M321.5 73.7h0M333.3 68.2h0M330.4 68.4h0M336.2 65.7h0M332.3 67.9h0M334.5 66.8h0M338.3 70.7h0M331.8 72h0M332.1 67.1h0M330.7 63.6h0M332.4 69.9h0M331.8 74.7h0M336.8 70.4h0M344 66.9h0M337 68.3h0M325.1 71.9h0M333.8 71.6h0M333.2 71.7h0M328.4 76.5h0M332.3 71.2h0M331.7 74.3h0M326 73h0M337.2 65.7h0M333.7 65.9h0M338.2 65.9h0M337.4 68.4h0M339.6 66.7h0M333.6 70h0M329.7 67.2h0M337 67h0M328.1 69.4h0M337.6 68.2h0M332.2 73h0M336.6 66.5h0M331.3 76.3h0M322.1 80.5h0M331.9 68.8h0M333.3 69.9h0M337.6 66.1h0M336.2 73.6h0M325.7 72.2h0M335.8 69.1h0M335.2 68.9h0M338.8 69.8h0M340.9 68.4h0M339.7 68.6h0M332.1 69.1h0M342.3 61.5h0M333.1 68.2h0M339.2 67.1h0M341.3 68.1h0M327.9 73.6h0M332.9 70h0M337.8 65h0M327.4 72.3h0M336.3 66.2h0M331.3 70.3h0M337.2 70.9h0M334.9 74.1h0M336.2 65h0M327 71.8h0M332.8 69.8h0M335.3 68.2h0M331.7 69.4h0M336.3 69.1h0M342.8 70.2h0M339.4 68.4h0M324.5 70.2h0M326.5 71.3h0M327.8 69.1h0M335.3 68.5h0M340.7 69.1h0M333.7 69.4h0M337 66.4h0M331.5 73.3h0M335.3 64h0M324.9 74.7h0M333.5 67.5h0M336.5 66.7h0M330.1 74.6h0M332.7 71.7h0M331.9 70.6h0M332.9 70.2h0M335.9 68.3h0M328 72.9h0M344.1 64.8h0M333.4 68.1h0M325.9 71.4h0M330 72.5h0M334.9 69h0M337.2 72h0M336.5 64.7h0M333.6 67.6h0M332.9 67.4h0M328.2 76.3h0M329.5 72.1h0M336.9 61.1h0M335.7 69.8h0M342.3 65.6h0M334.7 66.5h0M332.8 70.8h0M338.2 69.4h0M335.4 70.1h0M327.7 71.8h0M330.2 70.9h0M331.3 71.4h0M330.9 71.1h0M334.1 68.9h0M337.2 69.7h0M333.6 68.3h0M342.9 68.5h0M331.7 70.1h0M330.6 71.5h0M327.3 69.2h0M329.9 69.4h0M332.4 70.9h0M336.2 71.8h0M334.2 69.3h0M336.3 69.1h0M329.1 64.6h0M332 71.3h0M334.1 68.1h0M332.2 71.8h0M337.8 67.8h0M332.8 70h0M326.8 67.7h0M333.2 71.7h0M339.1 65.1h0M332.8 68.6h0M336 68h0M337.8 71.7h0M336.9 69.1h0M335.2 71.4h0M331.9 69h0M340 63.2h0M336.7 66.5h0M334.1 69.2h0M337.3 69.3h0M329.6 66h0M333.9 73h0M335 72.7h0M334.7 73.2h0M336.6 68.8h0M327.1 70.9h0M330.1 72.1h0M326.5 73.8h0M324.6 65.4h0M331.7 69.5h0M337.5 68.9h0M328.1 69.6h0M340.8 63.9h0M332.3 73h0M337.8 68.3h0M330.6 72.4h0M335.6 65.8h0M334.4 65.9h0M326.6 74.5h0M344.9 59.7h0M331.4 71.2h0M333.5 68.6h0M340.6 65.8h0M329.7 67.6h0M325.8 71.5h0M330.3 68.3h0M333.6 76.6h0M340.4 71.9h0M337.9 67.5h0M334.7 63.9h0M333.6 71.3h0M332.4 74.6h0M330.2 66.2h0M334.5 66.5h0M333.2 74.4h0M337.2 65.4h0M335.9 65.7h0M332.6 69h0M335.3 70h0M333.9 74.4h0M336.3 64.6h0M334.3 66.5h0M326.6 68.3h0M327.4 75.1h0M337.9 65.4h0M333.5 71h0M335.4 67.3h0M331.5 67.9h0M335.5 68.4h0M327.5 72.1h0M333.4 71.9h0M339.1 62.5h0M335 66.9h0M335.4 65h0M333.3 65h0M336.2 70.5h0M338.9 69.7h0M347.8 61.6h0M336.3 66.8h0M328.5 69.7h0M325.4 66.9h0M330.7 74h0M334.4 72.4h0M333.1 70.5h0M340.6 67h0M336.2 67h0M333 66.1h0M341.6 63.8h0M338.2 66.8h0M328.4 68.1h0M333.4 72.4h0M337.2 68.5h0M337 65.2h0M332.7 71.7h0M334 68.6h0M325.8 70.4h0M329.3 66.3h0M335.3 70.6h0M331.2 70.5h0M335 70.6h0M337.6 62.3h0M333.4 68.5h0M341.6 67.9h0M327.4 74.5h0M335.7 68h0M331.6 73.6h0M336.9 62.4h0M339.3 72.6h0M334.3 69.4h0M338.2 65.7h0M333.7 65.6h0M334.7 69.2h0M333.2 70.5h0M330.4 67.9h0M338 64.8h0M338.2 64.3h0M341.6 66.4h0M340.5 60.5h0M332.8 64.9h0M331.1 70.3h0M329.4 69.8h0M332.8 72.3h0M333.6 64.7h0M331.5 66.8h0M332.5 73.5h0M337 69.7h0M332.1 67.1h0M335.6 65h0M330.8 68.1h0M334.1 67.9h0M338.5 59.9h0M334.9 70.6h0M329.1 70.6h0M334.1 67.1h0M334.8 73.4h0M330.2 71h0M333.5 68.4h0M330.7 72h0M331 72.4h0M340.7 68.8h0M327.6 71.7h0M326.1 71.3h0M331.9 71.8h0M333.7 71.1h0M335.8 65.2h0M340.3 69h0M334.8 66h0M336.5 66.5h0M335 63.8h0M332.7 74h0M335.3 66.1h0M327.7 71.2h0M333.1 69h0M331.4 77.2h0M336.3 72.5h0M344.7 65.9h0M340.4 69.3h0M332.2 68.5h0M327.7 68.2h0M335.2 68.1h0M338.1 64.6h0M334.5 70.4h0M334.2 71.6h0M336.7 69h0M331.9 71.3h0M334.6 72.6h0M322.1 74.1h0M340.1 65.7h0M340.8 65.6h0M337.2 64.1h0M326.8 69.2h0M327.3 69h0M334.4 66.9h0M335 63.8h0M327.8 67.2h0M335.1 65.7h0M342.2 69h0M334.2 71.7h0M326.4 69h0M337.9 66.4h0M333.8 73.6h0M336.7 67.5h0M333.9 72.5h0M332.4 69.9h0M328.9 70.8h0M332.5 71.3h0M337.2 67.9h0M336.7 70.7h0M332.3 68.8h0M341.1 66.2h0M334.2 66.9h0M336.8 64.4h0M324 71.7h0M332.1 72.6h0M332.7 67.4h0M333.5 72.2h0M336.4 66.5h0M328.7 73.8h0M338.8 68.1h0M333.4 69.3h0M335 68.5h0M331.7 69.9h0M327.7 71.8h0M335.4 67.1h0M330.9 66.9h0M336.8 65.9h0M332.4 65.1h0M329.5 68.5h0M334.3 66.9h0M329.2 75.5h0M336.4 69.2h0M329.5 70.6h0M337.4 61.4h0M334.8 69h0M330.6 74.9h0M325.8 71h0M330.1 70.2h0M337.4 62.1h0M337.1 69h0M332 76.5h0M332.2 67.1h0M334.5 65.5h0M331.5 72.3h0M331.6 72h0M336.8 64h0M323.4 71.4h0M336.7 66h0M337 61.9h0M340 65.1h0M338.7 67.1h0M378.7 50.4h0M376.6 38.5h0M370.5 35.4h0M378.3 49.4h0M378.1 41.8h0M364.1 34.6h0M367.6 34.9h0M378.8 44.9h0M378.6 44.8h0M378 41.4h0M378.7 41.6h0M378.2 41.8h0M378.9 42.5h0M363.9 35.5h0M367.4 34.3h0M370.4 34.4h0M375.2 38.5h0M368.7 35h0M370.8 36.1h0M366.1 34.6h0M378.4 48.2h0M375.2 38.2h0M376.9 39.5h0M365.9 33.8h0M368.9 34.2h0M379 44h0M377.7 40.2h0M379 44.4h0M379.5 48.5h0M362.6 34.9h0M378.8 49.1h0M377.5 48.8h0M371.1 35.3h0M378.6 48.7h0M379.2 48h0M373.9 36.5h0M364.6 35.4h0M378.9 45.2h0M378.4 48.4h0M375.8 38.8h0M378.4 50.8h0M365.7 34.2h0M379 43.9h0M377.8 40.6h0M370.1 35.1h0M373.1 36.3h0M378.9 44.6h0M377 40.8h0M365.6 35.2h0M377.1 39.5h0M377.6 50.6h0M379.5 44.6h0M378.3 41.3h0M378.5 41.8h0M374.1 36.1h0M371 35.1h0M378 48.7h0M375.4 37.6h0M371.9 35.6h0M363.6 35.7h0M378.2 50.1h0M372 35.3h0M376.2 39.6h0M367.7 35h0M379.5 46h0M376 38.4h0M366.8 34.8h0M362.4 35.7h0M379.7 46.6h0M377.7 40.5h0M366.7 34.9h0M376.9 39.8h0M367.4 34.7h0M377.8 50.9h0M367.5 34h0M362.1 36.1h0M374.7 37.3h0M378.1 42.6h0M378.8 50.6h0M366.1 34.5h0M361.7 37h0M378 48.7h0M366.6 34.8h0M370.3 35.1h0M374.9 37.7h0M364.1 35.2h0M361.7 36.7h0M378.3 41.8h0M373.1 36.9h0M366 34.5h0M379.7 47.7h0M374.2 37.7h0M373.1 36.6h0M378.2 40.7h0M363.9 35.6h0M374.9 38.5h0M376.2 39.5h0M368.6 34.1h0M372 35.2h0M376.1 38.4h0M375.6 39.6h0M373.9 37.6h0M373 35.7h0M379.4 48.4h0M367.4 34.9h0M375.3 38h0M362.3 36h0M378 40.1h0M366.1 33.5h0M363.3 35.9h0M379.1 45.5h0M376.2 38.1h0M373.7 36.7h0M372.9 36.5h0M376.8 40.5h0M378.6 48.6h0M365.2 34.6h0M378.8 49.9h0M375 37.8h0M378.6 43.8h0M372.5 35.9h0M377 39.8h0M366.1 35h0M378.7 51h0M377 39h0M364.8 34.8h0M376.9 39.5h0M365 34.8h0M378.4 42.9h0M379 43.9h0M374.8 37.5h0M364.4 35.3h0M378.5 43.1h0M379 44.7h0M378.6 50.1h0M368.5 34.3h0M375.1 38.5h0M374 36.8h0M378.4 41.2h0M374.7 38.5h0M365.5 33.9h0M363.1 35.8h0M367.2 34.4h0M370.5 35.4h0M368.7 33.8h0M377.4 41.1h0M369 34.9h0M362.7 35.5h0M379.4 45.2h0M362.8 36h0M362.8 36.5h0M378.8 47.5h0M367.9 34.1h0M378.3 42.5h0M379.7 47.5h0M379.3 43.9h0M377.7 50.2h0M377.3 40.5h0M378.6 43.7h0M378.9 46h0M369.5 35h0M371.9 36.6h0M373.1 36.5h0M364 34.9h0M377.2 39.7h0M378.5 44.9h0M379.1 46h0M372.4 35.9h0M379.1 50h0M378.2 42.8h0" stroke="#000" stroke-width="0.8" stroke-linecap="square" opacity="0.5" fill="none"/></g><text x="335" y="44.2" font-family="Liberation Serif,serif" font-size="3.9" class="lb" fill="#777" text-anchor="middle">68.5</text><path d="M335.8 47.2V50.8" stroke="#333" stroke-width="1" fill="none"/><path d="M335.8 53.2l-1.4 -3h2.8z" fill="#000"/>
<path d="M319.4 101.6H388.9V155.8H319.4Z" fill="none" stroke="#787878" stroke-width=".9"/><path d="M349.4 101.6V155.8M319.4 126.5H388.9" fill="none" stroke="#909090" stroke-width=".9"/><path d="M315.5 155l1.2 1.9M318.4 159.3l1.8 -1.2M315.5 141.4l1.2 1.9M335.8 159.3l1.8 -1.2M315.5 127.9l1.2 1.9M353.1 159.3l1.8 -1.2M315.5 114.4l1.2 1.9M370.5 159.3l1.8 -1.2M315.5 100.8l1.2 1.9M387.9 159.3l1.8 -1.2" stroke="#3a3a3a" stroke-width=".95" fill="none"/><text x="353.5" y="162.2" font-family="Liberation Sans,sans-serif" class="ns" font-size="2.1" font-weight="bold" fill="#333" text-anchor="middle">YO-PRO</text><g clip-path="url(#c7)"><clipPath id="c7"><rect x="319.4" y="101.6" width="69.5" height="54.2"/></clipPath><ellipse rx="17" ry="10" transform="translate(336 136.5) rotate(-52)" fill="url(#hg)" opacity="0.3"/><ellipse rx="13" ry="11" transform="translate(371 112) rotate(0)" fill="url(#hg)" opacity="0.06"/><ellipse rx="14" ry="4" transform="translate(364 141) rotate(-33)" fill="url(#hg)" opacity="0.1"/></g><g filter="url(#bl)"><path d="M338.1 134.9h0M333.4 137.6h0M336.8 139.2h0M329.4 147.1h0M339.4 126.9h0M340 134.8h0M332.8 133.8h0M335 142.3h0M330.1 140.8h0M335.6 132.7h0M329.2 141.6h0M333.3 135.6h0M334.4 141h0M329.1 132.6h0M338.7 126h0M340.3 130.9h0M331.9 136.2h0M339.7 133.1h0M332 134.4h0M345.3 128.9h0M341.4 132.1h0M340.7 138.7h0M338 141h0M338.5 135.5h0M323.3 143.6h0M340.2 141.1h0M335.4 136.3h0M337.3 130.7h0M335.7 131.9h0M334.7 132.9h0M331.7 138h0M339.2 138.5h0M328.3 137.6h0M336.7 135.4h0M326.5 143.8h0M334.7 139.8h0M331 140h0M323.7 143h0M323.6 149.3h0M324.6 150.5h0M335.8 141.6h0M328.9 135.7h0M333.2 139.2h0M339.7 128.5h0M332.4 139.9h0M342.6 134.9h0M338.9 139h0M326 135.4h0M342.3 139.7h0M337.8 135.9h0M343.8 137.2h0M329.7 146.8h0M335.6 148.4h0M331.2 139.9h0M342.5 137h0M332.8 142.9h0M338.9 138.9h0M341.3 124.1h0M340.3 135.6h0M334.8 132.9h0M344.7 140h0M338.9 129.5h0M332.6 144h0M334.5 142.1h0M337 134.8h0M346 125.2h0M328.4 139.8h0M333.7 136.4h0M340.3 131.3h0M345.1 125.6h0M329.5 138.2h0M334.9 139.8h0M336.4 133.3h0M331.5 131.3h0M332.3 146.2h0M335.9 138.9h0M331.1 146.1h0M343.2 143.1h0M335.8 123.7h0M344.1 122.8h0M342.7 138.7h0M329 136.1h0M333.3 142.1h0M346.2 130.6h0M330.1 139.1h0M340.5 127.7h0M332.8 133.8h0M332.3 143.8h0M343.6 117.9h0M337 142.6h0M337.9 140.8h0M330.7 135.9h0M330.8 132.4h0M336.6 140.9h0M328.9 144.7h0M343.2 144.3h0M326.8 150.1h0M333.9 136.9h0M335.9 136.4h0M341.4 126.9h0M325.4 140.4h0M327.6 141.8h0M325.7 143.1h0M335.9 135.3h0M331.3 140.5h0M331.2 139.9h0M332 140.6h0M338.5 138.7h0M330.9 135.7h0M334.1 149h0M331.2 139h0M325.3 131.1h0M344.5 127.7h0M338.7 131h0M334.1 136.3h0M328.7 126.6h0M336.7 131.2h0M328.2 145.3h0M344.8 131.8h0M344.1 128.1h0M340.8 132.3h0M330.4 144.1h0M336.6 139.8h0M332.7 140.7h0M342.4 132.4h0M332 143.9h0M336.8 139.1h0M344 131.4h0M336.2 150h0M337.5 134.5h0M335.8 130h0M337.4 132h0M332.7 134h0M332.4 141.5h0M335.5 136.7h0M340.6 139h0M344.9 123.4h0M325.9 134.8h0M340.6 139.2h0M328.9 144.1h0M328.8 138h0M346.5 116.7h0M335.7 138.5h0M336.6 139.5h0M340.7 130.2h0M322.5 140.9h0M334.3 144.4h0M335.8 133.1h0M338.3 137.7h0M346.7 132.1h0M347.2 125.8h0M331.4 138.9h0M336.5 133.1h0M332.7 144h0M337.6 134.7h0M331 139.5h0M338.4 138h0M322 151.1h0M333.9 132.4h0M339.6 130.4h0M335 144.2h0M340.4 130.5h0M334.8 148h0M341.3 139.4h0M340.1 133.6h0M335.3 148.9h0M336.1 134h0M328.9 144h0M324.5 150.6h0M336.1 133.2h0M345 124.4h0M343.5 142.7h0M335.2 131.5h0M323.6 148.4h0M336.9 127.1h0M334.9 125.2h0M338.4 129.7h0M334.2 141.9h0M328.3 136.1h0M332.8 140.5h0M340.8 132.8h0M330.6 139.8h0M332.9 135.4h0M341.2 128.2h0M329.4 136.9h0M346.2 124h0M334.3 136.8h0M343.4 128h0M330 130.6h0M334.3 141.3h0M350.5 134.9h0M338.2 130.1h0M339.2 136.6h0M336 141.4h0M340.7 131.9h0M333.8 139.3h0M333.3 139.4h0M343.2 131h0M339.8 128.4h0M331.4 136.3h0M337.2 132.9h0M329 141.9h0M344.7 125.7h0M334 135.9h0M337.7 126.3h0M330.8 138.7h0M343 136.9h0M338.9 138.1h0M327 144.6h0M332.2 144.8h0M324.9 139.6h0M333.7 127.2h0M330.2 139.2h0M327.7 145.1h0M341.1 137.5h0M331.1 137.3h0M336.6 136.2h0M342.5 139h0M327.9 152.4h0M332.2 135.5h0M329.1 139.8h0M345.6 138.8h0M337.7 144.8h0M336.9 132.6h0M334.7 122h0M339.1 134.9h0M330.7 129.2h0M338.5 131.9h0M339.4 137.4h0M331.6 150.2h0M344.4 129.6h0M331.7 140.8h0M323.7 144.3h0M339.4 136.5h0M333.3 133.8h0M334.2 141.2h0M343.6 127.1h0M342.8 126.9h0M339.8 131.5h0M330.7 139h0M341.6 129.9h0M331.1 149.4h0M340.9 132.3h0M341.8 130.5h0M334.2 132.9h0M339.6 137.5h0M331.6 131.1h0M346.7 126.1h0M329.1 137.8h0M330.3 131.9h0M338 140.9h0M331.2 138.1h0M340.4 135h0M332.2 145.5h0M338.1 127.8h0M340.5 123.5h0M341.7 132h0M337.3 131.8h0M341.2 141.7h0M329.2 142.5h0M346 122.8h0M338.1 143h0M332.1 136.4h0M334.4 139.8h0M338.2 134.8h0M335.3 144h0M348.9 122.1h0M324.1 141.8h0M335.4 136.1h0M331 142.8h0M335.8 137.8h0M326.7 140.6h0M332.4 138.8h0M334.7 143.8h0M328.2 131.8h0M336.4 141.7h0M329.5 138.1h0M327.4 132.2h0M332.8 142.5h0M342 134.5h0M339.5 130.5h0M343.1 137.3h0M337 139.5h0M339.9 137.1h0M339.9 138.4h0M332 135.7h0M333.9 136.1h0M342.6 132.7h0M333.1 135.5h0M339.8 131.4h0M340.2 141.1h0M340.2 135.3h0M329.3 134.8h0M343.1 131.2h0M344 126.5h0M323.2 133.1h0M338.2 132.7h0M331 141.2h0M343.1 125.4h0M340.4 136.5h0M334.3 126.1h0M335.5 138h0M328.8 135.2h0M333.9 134.6h0M343.4 132.9h0M338.8 138.1h0M334.2 130.6h0M339.8 133h0M338.5 133.1h0M335.7 140.6h0M343.5 135h0M345.4 125.8h0M340.7 135.4h0M337.5 130.8h0M342 133.1h0M343.1 128.9h0M325.9 144.1h0M337.2 132.4h0M332.9 133.8h0M333.7 139.7h0M340.2 122.9h0M334.6 142.3h0M335.2 137.9h0M347.3 131.3h0M326.9 140.9h0M341.2 139.9h0M331.2 144.4h0M332.1 134.8h0M328.1 147.8h0M337.7 128.4h0M337.7 140.2h0M341.6 137.1h0M339.8 128.3h0M334.2 131.7h0M335.2 133.3h0M329.5 143.4h0M341 138.6h0M340.2 136.4h0M334.5 143.5h0M340.1 133.9h0M330.6 139.6h0M345.3 136.5h0M333 142.1h0M325.8 136.1h0M340.4 134h0M337.5 127.5h0M345.9 135.3h0M333.6 130.4h0M345 128.5h0M339.6 138.8h0M339.5 129.7h0M330.4 138.3h0M332 129h0M328.5 152.2h0M334.7 137.8h0M334.2 142.7h0M336.4 140.5h0M330.3 137.1h0M338 133.8h0M334.7 133.3h0M336.1 136.4h0M339.1 138.4h0M340.6 136.9h0M342 136.3h0M333.1 140.6h0M332.7 143.6h0M343.7 127.3h0M337.5 139.7h0M336.4 138.4h0M343.2 124.4h0M335.9 138.3h0M336.1 135.1h0M327.2 149.1h0M338.7 144.6h0M339.4 125.6h0M342.1 123h0M345.1 136.5h0M324.3 136.6h0M339 131.3h0M338 137.2h0M345.2 131.4h0M336.5 141h0M334.3 136.2h0M344.7 137.4h0M328 148.8h0M332.5 144.7h0M335.6 144.8h0M333.2 144.3h0M348.1 127h0M337.3 131.8h0M333.8 122.7h0M341.3 143.8h0M334.1 136.4h0M333.7 138.6h0M322.4 151.3h0M341.9 127.6h0M335.2 138.1h0M328.3 137.4h0M343.7 138.2h0M345.7 132.6h0M338.7 133.8h0M331.3 139.9h0M341.4 122.6h0M333.6 126.4h0M342.5 127.6h0M340 143.6h0M331.7 136.7h0M342.6 128.4h0M324.8 135.4h0M339.5 140h0M336.2 135.1h0M328.7 151.6h0M336.4 146.2h0M320.3 144.8h0M327.1 141.3h0M340.4 127.9h0M333.8 136.5h0M341.3 130.1h0M347.8 127.6h0M341.4 140.7h0M322.6 149.5h0M336.9 131.7h0M331.2 139.4h0M338 129.6h0M339.1 147.3h0M341 135.7h0M333 143h0M333.5 130.1h0M332.9 131.7h0M340.5 135.5h0M345.3 129.6h0M345.7 124h0M325.5 148.6h0M328.5 129.2h0M333 148.8h0M338.8 127.4h0M332.6 136.2h0M331.3 138.4h0M330.6 142.3h0M325.6 153.9h0M326.7 142.7h0M337.1 130.4h0M331.2 129.4h0M329.2 143h0M336 134.2h0M346.8 133.6h0M328.3 138.6h0M344.4 134.5h0M344.1 126.9h0M335.9 138.7h0M339.6 144.2h0M339.7 136.9h0M338.5 133.3h0M340.8 129.3h0M344.5 136.2h0M345.7 124.3h0M341 132.6h0M338.5 132.6h0M336.9 138.7h0M327.5 153.5h0M338.9 130.4h0M346.5 127h0M339.6 139.8h0M341.6 129.5h0M325.7 137.6h0M338.5 134h0M335.3 147.4h0M345 129.1h0M330.5 129.9h0M335 137.7h0M339.3 135.3h0M343.3 127h0M334.5 126.6h0M344.6 134.4h0M328 151.2h0M337.6 145.4h0M328.9 139h0M333 142.4h0M331.8 140.2h0M342.5 131.6h0M338.4 139.1h0M331 130.8h0M336.8 123.9h0M336.9 127h0M338.2 139.2h0M332.4 142h0M344.9 125.7h0M334.7 131h0M335.4 140.8h0M334.4 132.8h0M327.2 139.8h0M336.3 143.1h0M332.8 136.2h0M345.1 134.3h0M341.1 134.2h0M340.2 133h0M338.6 137.1h0M334.5 139.5h0M339.7 128.3h0M329.8 139.4h0M332 143.8h0M339.5 144h0M337.4 133.5h0M333.3 137.8h0M327.8 149.5h0M326.7 135.4h0M341.4 135.9h0M337.4 124.8h0M339.6 136.9h0M326.8 144.6h0M343.3 139h0M341.6 126.1h0M338.6 128.8h0M331.8 136.4h0M340.2 140h0M342.3 134.9h0M344.1 124.6h0M340.5 131.7h0M336.6 133.9h0M336.9 141.3h0M341.5 127.5h0M343.2 135h0M350.9 139.3h0M324.7 138h0M335.7 124.7h0M346.4 126.7h0M341.8 123.1h0M341.7 150.6h0M341.8 136.9h0M341.1 138.5h0M331.2 136.1h0M343.6 136.6h0M338.4 130.3h0M334.3 134.4h0M335.1 137.9h0M336.5 138.2h0M332.7 126.9h0M338.9 131.8h0M330.4 139.7h0M341 127.7h0M339.3 135.8h0M331.6 143.6h0M332.1 142h0M335.2 132.9h0M341.4 128.2h0M338.5 149.1h0M332.3 151.1h0M344.1 133.3h0M329.9 139.2h0M348.4 130.8h0M339.8 136.7h0M333.2 134.8h0M334.2 141.8h0M333.8 132.8h0M341.5 137.5h0M339.2 136h0M328 140.9h0M335.9 135.8h0M339.9 132.5h0M326.6 144.3h0M342.8 129.1h0M336.8 143.9h0M338.5 132.9h0M338.8 134.5h0M342.4 133.7h0M340.7 127.7h0M334.7 136.5h0M331.8 141.7h0M323.4 154.1h0M342.2 140.1h0M331.8 127.1h0M337.2 131.4h0M339.5 135h0M329.7 144.4h0M339.4 124.6h0M333.5 141.7h0M339.5 129.9h0M333.1 143.7h0M338 131.8h0M340.8 140.9h0M344.9 134.5h0M332.3 140.3h0M343 134.3h0M336.2 145.3h0M338.3 126.5h0M335.5 130.5h0M326.5 135h0M340.3 134.7h0M334.9 138h0M321.5 150.5h0M335.4 134.9h0M329.3 129.9h0M339.4 143.2h0M331.2 135.1h0M339.7 127.8h0M344.8 133.5h0M335 140.1h0M328 142.4h0M335.1 132.5h0M344.1 128.1h0M332.4 150.9h0M338.6 132.2h0M340.3 137h0M340.2 142.6h0M330.7 139.1h0M343.5 130.8h0M335.1 132.2h0M339.9 134.5h0M342.1 133.9h0M344.9 138.6h0M330.1 142.6h0M335.6 137.6h0M328.6 134.5h0M339 135.2h0M341.6 121h0M331.7 134h0M337.9 142h0M337.5 139.2h0M334 140.6h0M339.1 137.4h0M333.7 146.5h0M334.8 136.3h0M343.8 130.4h0M329.7 151.1h0M332.8 138h0M341.5 136.1h0M333.3 141.3h0M336 135h0M321.7 139.5h0M332 145.5h0M340.4 137.5h0M345.1 121h0M340.7 130.1h0M337.8 144.5h0M332 146.5h0M334.8 140.2h0M348.4 119.8h0M331.9 131.9h0M338.4 131.9h0M335.4 137.8h0M333.6 149.5h0M332.5 143.1h0M331.6 131h0M331.7 139h0M331.3 141.1h0M337.7 130.3h0M345.7 124.6h0M335.4 134.3h0M336.4 133.6h0M337.4 137.7h0M338.3 137.9h0M340.2 143.4h0M332.8 137.3h0M335.4 141.5h0M343.7 141.4h0M331 151.1h0M346.4 142h0M334.1 134.6h0M344.2 131h0M329.4 133.1h0M329.4 147.5h0M331.1 137.4h0M324.7 139.1h0M345.4 130h0M343.1 142.8h0M337.3 129.4h0M324 145.4h0M336.3 133.9h0M341.3 127.2h0M339.3 139.2h0M342.3 129.2h0M336.8 138.7h0M336.8 137h0M331.2 134.2h0M332.5 134.5h0M335.3 126.7h0M330.6 146.5h0M338.3 137.3h0M333.3 141.3h0M331.2 137.2h0M339.9 140.2h0M339.3 135h0M338.5 136.9h0M336.5 141h0M335.6 141.9h0M331.7 139.8h0M343.7 129.3h0M341.6 137h0M332.7 139.9h0M332.9 144.6h0M335.2 137.9h0M334.4 141.4h0M342.5 131.4h0M333.5 134.5h0M338.8 150.3h0M332.4 142.1h0M337.3 126.1h0M339.2 136.7h0M341.8 136.6h0M335.2 142.2h0M338.7 130h0M343.3 127.8h0M339.5 120.3h0M344.7 124.4h0M328.2 140.4h0M338.3 135.5h0M327 139.1h0M346.7 121.3h0M338.3 143.2h0M328.5 145.1h0M337.5 138.4h0M346.2 134.8h0M338.6 128.1h0M330 145.1h0M324.2 144.5h0M343.6 136.6h0M337.9 130.7h0M341.2 130.9h0M324.9 143.9h0M344.9 130.5h0M334.7 137.5h0M337.2 141.5h0M338.6 135.6h0M335.5 144.7h0M337.2 134h0M339.3 138.3h0M342.5 133.3h0M346.1 135h0M329.3 142.2h0M346.1 127.5h0M334.6 129.4h0M336.9 129.6h0M344 128.1h0M337 130.6h0M323.9 150.7h0M336.4 132.6h0M337.8 138h0M337.8 136.7h0M330.6 142.4h0M333.1 131.8h0M332.8 125.1h0M336.6 134.6h0M343.9 132.8h0M332 132h0M343.9 128.8h0M350.1 117.9h0M351.2 122.6h0M334.8 140.3h0M336.6 135.5h0M336.3 136.2h0M346.5 125.7h0M334.1 127.4h0M325.3 148.6h0M337.5 145.7h0M328 135.3h0M322.3 150.1h0M377.5 121.1h0M374.2 104.2h0M378.5 122.5h0M380.6 116.4h0M371.4 102.9h0M381.4 114.7h0M377.7 119.4h0M378.2 109.8h0M377.7 119h0M362 107.6h0M377.3 120.9h0M379.3 112.8h0M358.8 111h0M378 105.6h0M362.6 105.2h0M377.5 118.6h0M368.3 103.9h0M363.2 107.9h0M378.2 121.1h0M359.1 113.5h0M361.5 109h0M378.2 113.3h0M380.1 118.3h0M366.2 102.6h0M362.1 108.8h0M377.7 120.8h0M368 103.4h0M377.2 110.5h0M363.6 106.8h0M358.7 114h0M376.5 122.4h0M380.8 111.3h0M378.2 120h0M376.8 104.3h0M377.1 121h0M366.4 104.9h0M380.5 111h0M369.6 103.6h0M375.6 107.3h0M366.5 103.9h0M377.4 118.9h0M380.1 107.9h0M377.5 117.2h0M361.6 106.5h0M368.1 103.7h0M370.1 106.7h0M377.4 106.7h0M378.5 117.7h0M377.8 105.6h0M378 110.8h0M375.8 105.9h0M374.4 103.2h0M377.5 106.1h0M362.3 109.3h0M377.4 120.5h0M367.9 103.6h0M378.4 116.7h0M380.2 120.5h0M381.4 111.6h0M379.1 109.9h0M359.9 108.7h0M376.6 104.6h0M377.7 116.8h0M365.5 103.5h0M379.4 110.8h0M364.6 103.3h0M369.8 103.2h0M365.2 105.5h0M379.6 113.3h0M376.1 120.4h0M381.6 118.7h0M380.3 118.7h0M364.1 106.3h0M376.8 105.8h0M377.2 122h0M374.9 107.5h0M377 107.9h0M371.5 104.3h0M374.2 102.5h0M366.6 104.9h0M363.6 107.3h0M377.8 121.8h0M362.6 106.3h0M368.7 103.6h0M375.4 104.5h0M374.8 105h0M359.8 108.1h0M380.4 116.9h0M357.6 111.7h0M376.7 107.9h0M357.7 115.7h0M377.4 119.8h0M379.8 117.5h0M383 110.4h0M374.4 103.3h0M378.2 110.1h0M377.7 109.7h0M380.9 112.9h0M378.1 112.3h0M381.2 110.6h0M360.1 114.4h0M376.2 104.9h0M364.5 106.3h0M373.1 104.2h0M371.8 103.8h0M361.3 112.8h0M380.2 111.6h0M358.9 114.9h0M379.3 107.4h0M377.8 106.9h0M379.3 119.7h0M361.5 109.4h0M377.3 107.8h0M377.7 119.1h0M357.4 116.5h0M376.1 107h0M380.6 116.1h0M359.9 110.7h0M379.1 118h0M380 116.1h0M356.6 115.9h0M380.2 114.7h0M378.3 112.6h0M360.2 116.2h0M365.9 105h0M375.7 110.4h0M374.7 104h0M377 108.7h0M369.4 102.5h0M362.3 109.8h0M358.5 114.6h0M359.8 116h0M377.8 105.5h0M380.8 117.2h0M376.7 106.4h0M364.2 106.9h0M364.5 106.9h0M379.1 112.9h0M362.9 106.4h0M377 122.9h0M361.6 108h0M378.5 116.1h0M363.2 105.9h0M360.5 114.8h0M368.9 104h0M374.2 103.6h0M379.6 113.6h0M361.1 107.1h0M377.5 106.1h0M367.7 102.7h0M369.1 104.4h0M363.9 110.3h0M374 103.8h0M379.3 118.6h0M362.3 112.6h0M378.8 114.4h0M359.9 114h0M363.6 106.6h0M358.5 115.3h0M376.2 107.4h0M377.8 117.5h0M377.7 114.1h0M378.3 118.7h0M378.5 113.4h0M380 113.7h0M363.2 107.1h0M357.4 114h0M372.3 104.2h0M375.9 102.9h0M375.3 107.8h0M378.2 107.3h0M363.7 105.8h0M365.3 107.2h0M376.3 107h0M378.3 110.9h0M379.9 116.6h0M361.7 108h0M362.1 108.4h0M376.2 111.1h0M364 103h0M366 105.1h0M372.8 103.7h0M371.8 103.2h0M380 117.3h0M379 109.5h0M381.2 121.4h0M364.6 103.9h0M362.5 108.2h0M360.8 111.5h0M360.1 110h0M356 114.3h0M378.7 111.7h0M380.3 120.2h0M377.9 104.5h0M365.9 105.3h0M363.4 107h0M360.2 108.4h0M361.6 111.5h0M378.5 106.2h0M376.4 116.7h0M381.4 110.6h0M378.5 119.6h0M359.2 112.6h0M375.9 122.4h0M376.6 106.4h0M363.3 105.6h0M359 111.1h0M378.6 109.2h0M378.9 106h0M374.5 105.7h0M369.5 104.8h0M376.3 122.6h0M379.9 110.2h0M376.7 122h0M361.5 106.1h0M358.4 111.7h0M356 106.9h0M367 105h0M362.8 105.6h0M377.2 105.4h0M369.9 102.5h0M368.6 120h0M363.9 103.2h0M375.1 111.9h0M367 118.1h0M366.3 106.4h0M365.6 117.7h0M367.9 105.2h0M372.7 116.6h0M379.7 121.2h0M377.7 116.7h0M358.8 111.5h0M367.6 107.9h0M379.6 116.5h0M367.9 118.4h0M374.2 108.9h0M368.3 114h0M367.3 116.2h0M372.2 116.6h0M380.3 108.1h0M365.5 104.7h0M364.1 112.7h0M377.2 118.1h0M359.5 109.3h0M375.9 113h0M371.1 105h0M383.1 103.5h0M368.5 116.7h0M364.1 109.5h0M380.9 105.1h0M361.9 108.1h0M373.1 136.3h0M359.8 144.6h0M353.9 147.6h0M353.2 147.3h0M365.9 140h0M366 140.1h0M372.3 135.3h0M359.3 142.3h0M367.8 136h0M368.5 138.8h0M374.9 134.1h0M358.2 146.9h0M355.6 146.4h0M365.1 139.1h0M367.3 136.2h0M371.3 138.5h0M367.2 136.1h0M370.3 137.1h0M371.5 132.1h0M356.2 146.4h0M357.1 143.8h0M371.9 134.1h0M367 141.5h0M359.7 146.4h0M374.4 135.6h0M360 142.4h0M363.8 139.3h0M373.5 137.5h0M355.1 146.7h0M354.4 144.2h0M365 140.8h0M357.7 144.9h0M369.9 141.1h0M352.2 149.2h0M365.8 138.7h0M375.1 135h0M368.4 143h0M373.1 137.3h0M359.3 142.5h0M360.3 143.6h0M353.7 146.1h0M356.5 145.3h0M357.2 144.7h0M360.7 140.2h0M356.4 148.4h0M373.9 135.9h0M360.4 143.8h0M359.3 145.3h0M363.1 144.9h0M366.8 142.1h0M359.5 143.1h0M371.1 136.2h0M368.5 138h0M357.5 142.5h0M367.4 141.6h0M355.4 144.1h0M357.6 142h0M360.2 143.9h0M354.3 147.3h0M375.1 132.1h0M364.5 141.1h0M375.7 133.7h0M358.2 142.1h0M356.7 144.8h0M369.5 136.5h0M365 142.4h0M367.5 140.6h0M354.8 146.7h0M372.7 133.8h0M356.5 145h0M354.7 147.8h0M357.5 145h0M356.8 145.2h0M372 135.4h0M357.2 146.3h0M366.3 139.4h0M374.9 135.1h0M361.2 144h0M357.1 144h0M367.8 139.1h0M371.4 138.4h0M367.7 137.7h0M357.5 143.2h0M355 149.7h0M357.4 145.5h0M362.3 142.5h0M358.3 143.2h0M357.3 145.6h0M375.9 138h0M373.9 134.6h0M358.7 143.8h0M362 143.6h0M355.8 148.7h0M358.2 146.8h0M373.5 136.7h0M374 136.1h0M369.5 135.9h0M363.1 142.4h0M360.3 140.7h0M354.2 145h0M368.1 141.8h0M365.2 142.6h0M371 137.5h0M357 145h0M359.2 145.9h0M361.7 143.9h0M356.1 142.6h0M376.1 132.5h0M360.4 144.9h0M359 142.2h0M361 144h0M362.8 142.6h0M356.2 143h0M361.2 140.1h0M367.4 137.5h0M370.1 141.5h0M361.8 143.2h0M370.5 139h0M365.7 140.9h0M372.6 136.9h0M365.7 138.4h0M368.5 134.5h0M352.4 147.1h0M354.4 148.3h0M375 131.7h0M356.4 145.9h0M359 146.2h0M363 140h0M362.2 141.6h0M353.1 147h0M371.4 135.3h0M368 139.6h0M355.9 144.5h0M358.8 145.2h0M366.2 140.4h0M376 134.2h0M375.3 133.9h0M369.2 138.7h0M367.5 137.1h0M364.9 139.3h0M355.1 145.8h0M363.4 142h0M364.2 142.3h0M355 144.8h0M365.5 137.6h0M357.3 145.1h0M370.1 138.4h0M352.6 148.4h0M371.1 137.3h0M364.1 140.8h0M363.3 143.6h0M373.2 133h0M372.3 136.4h0M358 144.6h0M367.2 138.8h0M362.2 140.8h0M353.7 146.7h0M372.2 139h0M368.8 136.8h0M372.9 135.1h0M370 139.6h0M366.6 140.5h0M354.2 147.4h0M359.3 143.6h0M365.4 138.6h0M365.7 140.7h0M361.1 140.8h0M360.3 139.1h0M363.9 140.9h0M371.2 138h0M358.2 143.7h0M375.9 134.6h0M359.8 142.8h0M369.6 137.7h0M362.2 139.3h0M369.2 137.1h0M362.3 143.4h0M360.3 143.4h0M358.4 144h0M357.2 144.8h0M374.7 136.6h0M366.9 141.7h0M363.7 143.2h0M363.3 142.9h0M356.1 145.7h0M356.2 147.1h0M367.4 137h0M358.9 144.1h0M370.2 134.8h0M365.2 141.1h0M367.9 140h0M353.4 146.9h0M361.9 142.7h0M370.5 134.9h0M369.2 138.8h0M367.5 139.5h0M364.5 141h0M364.4 141.4h0M370.4 133.4h0M376.9 134.4h0" stroke="#000" stroke-width="0.7" stroke-linecap="square" opacity="0.3" fill="none"/><path d="M330.8 138.7h0M339 130.7h0M340.3 136.3h0M344.8 131h0M335.9 131.6h0M336.4 139.8h0M338.2 129.5h0M337.8 135h0M337.2 135.9h0M334.3 135.5h0M337.4 128.1h0M331.3 132.9h0M342 137.8h0M334.8 140.5h0M337.8 135.3h0M333.7 140.3h0M327 151.4h0M333.9 141.3h0M339.6 130.5h0M344 129.6h0M332.3 135.6h0M334.9 135.5h0M334.5 137h0M331.8 135.2h0M335.6 129.5h0M337.6 133.5h0M338 132.8h0M329.1 137.2h0M338.6 135.1h0M332.1 141.1h0M337 129.3h0M337.2 135.5h0M337 138.3h0M334.8 134.9h0M336.1 144.3h0M341.8 133.5h0M333 141.6h0M335.4 136h0M341.9 136h0M338.3 137.7h0M333.5 144.5h0M338.6 137.1h0M341.4 131.9h0M336.8 133.9h0M332.7 138.4h0M333.6 141.8h0M339.9 134.3h0M334.6 137.3h0M338 136.2h0M334.4 139.9h0M328.7 140.5h0M334.3 133.7h0M329.8 139.6h0M330.8 140h0M338.8 135.1h0M336.7 134.3h0M338 134.9h0M332 139h0M341.7 135h0M333.4 135.3h0M332.1 131.8h0M332 144.5h0M333.9 141.7h0M339.2 130.7h0M340.1 132.2h0M332.7 142.4h0M333.7 132.7h0M340.3 132.8h0M337.5 141.1h0M348.2 126.3h0M334.7 133.8h0M334.3 140.6h0M336.1 144.8h0M335.6 136.7h0M342.4 125h0M332.4 142.8h0M338.1 131.2h0M339.7 135.9h0M339.5 132.9h0M338.3 136.1h0M339.3 138h0M334.7 130.1h0M333 138.7h0M341.4 137.7h0M338.4 134.4h0M336.8 131.2h0M338.8 142.3h0M338.3 129.6h0M341.7 127.9h0M335.3 139.1h0M344.5 132.8h0M337.7 138.9h0M330.2 138.9h0M337.9 136.2h0M343.3 129.3h0M333.5 138h0M333 133.6h0M341 128.1h0M336.1 136.2h0M341.2 132.3h0M336.4 135.3h0M340 133.8h0M331.5 137.3h0M332.2 143h0M333.4 140.2h0M342.7 128h0M340.8 129.9h0M335.5 137.4h0M338.1 135.3h0M338.9 131.3h0M328.5 138h0M339.2 140.8h0M329.4 143.5h0M335.4 126.7h0M336.7 141.8h0M339.5 133.4h0M335.6 141.3h0M339.7 127.4h0M337.9 124.1h0M336.5 132.5h0M342.4 134.8h0M332.7 137h0M336.4 136.8h0M339.7 134.4h0M337.7 142.2h0M333.6 141.8h0M332.7 130.7h0M342.2 128.4h0M335.4 144.1h0M326.5 148.1h0M336.8 133.5h0M337.2 132.3h0M328.1 139.8h0M338.4 143.9h0M340.6 138.5h0M341.7 134.1h0M330.2 140.6h0M340.4 138h0M331.3 140.5h0M331.9 138.7h0M332 140h0M335.3 135.6h0M328.5 140.9h0M335.6 134.2h0M331.1 141.9h0M337.5 130h0M341.7 133.1h0M335.8 141.1h0M329.7 140.4h0M337.9 132.8h0M334.2 146.8h0M336.7 141.4h0M333.7 140.8h0M334.7 135.4h0M340.1 130h0M338.6 138.6h0M335.7 139h0M335.3 129.1h0M333.3 139.5h0M331.8 146.7h0M334.1 134.9h0M332.6 134.1h0M331.2 135.5h0M333.6 136.8h0M332.6 131.2h0M337 133.1h0M334.8 135.6h0M341.7 131.3h0M339.1 134.1h0M340.5 134.9h0M341.2 127.3h0M339.8 132.5h0M334 138.8h0M337.3 139.2h0M337.7 133.7h0M342.8 130h0M329 142.6h0M330.2 143.2h0M337.1 139.7h0M338 137.5h0M334.6 135.7h0M339.1 132.8h0M337.5 136.4h0M338.4 140.4h0M333 140h0M338.1 130.5h0M329 144.6h0M334.3 139.4h0M339.9 130.9h0M337.6 135h0M338.2 135.3h0M339.5 134.7h0M328.4 133.5h0M336.4 139.2h0M339.7 133.2h0M330.3 140h0M335.1 137.1h0M332.9 134.6h0M334.9 138.7h0M338 139h0M339.6 130.7h0M336.5 141.9h0M337.1 136.7h0M338.3 135.4h0M340.3 133.1h0M339.9 131.3h0M332.4 134.9h0M340.4 128.4h0M334.3 135.8h0M338.8 139.2h0M330.2 138.1h0M340.7 133.5h0M333.3 140.9h0M337.4 133.2h0M334 132.9h0M340.6 133.6h0M329.6 141.2h0M336.6 134h0M342 135.4h0M337.8 133.4h0M335.6 135.1h0M346.9 122.3h0M334.6 133.3h0M336.3 130.5h0M333.6 139.9h0M323.6 147.6h0M336.2 133.3h0M327.9 139.7h0M339.8 134h0M341.3 131.7h0M333.3 133.9h0M341.7 129.2h0M334.5 134.6h0M337.7 135.7h0M332.7 138.2h0M333.7 142.6h0M340.2 135.1h0M336.5 139.7h0M330.1 138.5h0M333.3 135.1h0M346.8 123.7h0M327.5 151.9h0M333.2 147.2h0M338 135.6h0M334.1 135.2h0M340.6 131.9h0M331.3 139.9h0M335.6 132.8h0M328.5 139.1h0M343 132.3h0M339.1 133h0M332.2 140.2h0M334.8 131.5h0M338.6 135.9h0M338.6 129.4h0M339.8 132h0M340.4 136.7h0M338.5 128.2h0M341.7 133.2h0M333.2 142.3h0M336.7 132.5h0M338.1 138.4h0M342.8 134.8h0M339.2 134.6h0M336.7 134.9h0M338.3 132.5h0M336.4 134.7h0M328.2 140.2h0M335 135.6h0M335.1 132.9h0M348 127.9h0M337.6 132.5h0M337.1 135.1h0M331.5 137h0M335 135.5h0M339.5 137.5h0M344.1 133.5h0M332 139.4h0M340.3 137.2h0M335.4 143.4h0M337.8 133.7h0M341.6 129.6h0M342.7 132.5h0M331.1 133.6h0M333.6 135.2h0M337.5 132.7h0M335.5 138.3h0M332.8 140.3h0M332.1 142.5h0M338.7 137.7h0M334.4 137.3h0M339.5 134.4h0M329.6 139.8h0M337.7 133.4h0M337.8 131.7h0M342.2 130.9h0M336.7 127.3h0M333.8 137.1h0M339.3 134.6h0M332.1 136.8h0M334.2 135.7h0M334.9 139.4h0M335.3 135.3h0M341.8 134.3h0M337.5 135.7h0M330.1 143.8h0M343.4 131.5h0M328.8 148.3h0M335.6 134.2h0M338.5 131.4h0M337.8 132.1h0M336.4 137.4h0M337.3 132.4h0M341.8 135.9h0M331.9 130.9h0M337.2 132.6h0M333.5 135.3h0M337.9 137.9h0M333.4 138.5h0M328.2 142.7h0M336.1 139.4h0M333.2 142.3h0M338.3 135h0M341.2 130.2h0M333.3 133.7h0M335.7 140.4h0M336.1 139.2h0M335.1 132.8h0M337.8 134.8h0M334.8 134.2h0M340.6 139.7h0M337.3 141.2h0M337.7 136.5h0M341.5 134.8h0M335.2 142h0M333.3 142.4h0M339 136.4h0M339 136.3h0M340 130.6h0M336.3 141.1h0M337.9 134.7h0M337.7 130.8h0M340.4 135.9h0M337.5 134.5h0M336.6 136.6h0M330.9 140h0M336.3 134.1h0M333.9 134.3h0M337.2 133.1h0M336.6 134.4h0M332 142h0M344.1 135.4h0M334.4 132.6h0M329.6 137.9h0M335.1 138.2h0M336.1 136.5h0M338.9 131.9h0M336.4 132h0M335.8 137.7h0M337.7 135.3h0M331 139.3h0M341.6 128.4h0M340.2 131.3h0M334.9 144.1h0M337.6 128.3h0M342.6 127.9h0M343 131.9h0M338.3 133.4h0M328 142.4h0M334.6 140.8h0M340.2 128.9h0M340.9 132.7h0M331.3 143h0M337.5 132.6h0M340.4 138.4h0M338 133.9h0M336.3 130.1h0M339.5 130.8h0M333 137.8h0M334.5 142.9h0M332 140.7h0M337 131.4h0M341.7 129h0M339 130.9h0M338 133.9h0M332.8 142.5h0M336.6 137.6h0M338.4 131.5h0M338.1 139.8h0M338.9 131.3h0M339.3 137.2h0M336.2 139.6h0M336.7 131.7h0M338.1 138h0M329.6 137.5h0M342.4 134.5h0M331.7 137.9h0M336.7 134.3h0M328.6 141.5h0M335 140.3h0M335 131.6h0M342.7 130.3h0M336 130.2h0M339.1 129.9h0M335.1 132h0M340.1 136.7h0M342.9 135.6h0M339.7 138.8h0M330.4 134.6h0M337.3 138.3h0M334.3 135.1h0M336.9 132h0M342.5 134.7h0M337.3 134.2h0M346.4 127.6h0M339 135.8h0M339.2 142.2h0M332 144.5h0M335.1 134.3h0M335.2 131.2h0M336.6 134.4h0M336.4 134h0M340.3 136h0M335.8 134.1h0M337.6 134.1h0M336.1 134.1h0M338.8 128.2h0M335.6 132.5h0M335.9 134.6h0M335.3 129.4h0M343.3 124.1h0M327.8 143.8h0M334.8 140.2h0M337.1 136.2h0M338.1 132.6h0M338.7 132.2h0M337.6 137.2h0M331.6 139.3h0M328.5 140.8h0M332.1 138h0M339.2 127.2h0M333.4 139.7h0M335.3 134.9h0M336 137.4h0M335.7 131.8h0M337.1 126.9h0M336.7 141.1h0M335 135h0M330.8 145.3h0M329 135.1h0M337.8 128.8h0M332.5 138.8h0M336.7 136.6h0M341.2 135.9h0M328.7 138.4h0M337.9 137.4h0M329.6 144h0M331.2 138.3h0M331.8 134.3h0M336.9 137.5h0M341.6 133.9h0M337.4 133.5h0M332.1 134.8h0M335.2 133.1h0M333.1 143.5h0M333.1 131.7h0M327.5 142.2h0M331.3 144.6h0M332.1 140.2h0M339 135.6h0M338.2 138.1h0M339.4 134.3h0M336.9 139.8h0M330.8 136.1h0M332.3 135.7h0M326.9 142.3h0M339.1 130.9h0M344.1 125.5h0M345.1 128.5h0M335.3 139.2h0M379.4 111.3h0M378.9 112.6h0M364.4 105.1h0M379.6 115.9h0M369.7 103h0M375.3 104.5h0M370.2 102.7h0M378.8 114.1h0M363.2 105.5h0M362.9 105.8h0M379.8 112.1h0M379.8 112.3h0M379.3 113.9h0M378.7 113.4h0M379.4 114.1h0M369.2 103.6h0M380.2 112.8h0M380.4 112.1h0M369.3 102.9h0M366.2 104h0M365.9 104.8h0M378.2 107.5h0M376.2 105.5h0M371 103.3h0M378.6 109.6h0M379.8 116.3h0M376.7 106.2h0M364.1 106.3h0M378.2 108h0M365.8 104.3h0M373.8 104.7h0M377.5 107.1h0M379.1 108.9h0M374.3 105h0M376.5 106.3h0M379.9 115.3h0M372 103.5h0M375 105.1h0M375.2 104.9h0M379.2 115.5h0M376.9 106.1h0M364.3 104.7h0M375.2 105.5h0M364.3 105.2h0M365.6 103.4h0M364.7 104.6h0M370.8 103.4h0M368.5 102.8h0M377.3 106.1h0M376.9 105.5h0M378.6 107h0M379.3 115.7h0M368.1 103.4h0M377.1 106.3h0M364.2 105.2h0M379.7 111.6h0M367.7 103.8h0M379.5 110.4h0M379.1 109.5h0M379 117.9h0M368.4 103.4h0M379 117h0M369.8 103.6h0M368.4 102.7h0M380 112.9h0M370.1 103.7h0M376.2 106h0M377.3 106.4h0M373.7 104.4h0M366.6 104.9h0M379.4 113.2h0M371.5 102.8h0M375.6 105h0M362.6 106.6h0M372.1 103.8h0M377.3 106.3h0M362.5 105.9h0M363.2 106.5h0M364.2 105.1h0M380.1 110.3h0M362.9 106.3h0M376.1 106.3h0M371.3 104.3h0M379.7 115.9h0M377.5 108h0M373.3 103.2h0M374.9 104.5h0M378.9 113.5h0M378.7 109.4h0M372.4 104h0M363.6 105.3h0M379.1 116h0M371.4 103.4h0M369.4 102.6h0M379.6 110.8h0M376.5 106.4h0M375.8 106.3h0M363.2 106.3h0M369.5 102.5h0M379.5 109.6h0M380.1 112h0M371.9 103.4h0M372.3 103.9h0M365.5 103.6h0M379.4 114.5h0M365.1 104.8h0M380.1 112.7h0M378.6 108.9h0M365.8 103.8h0M372.5 104h0M371.8 104.4h0M376 105.4h0M370.1 103.3h0M363.8 106.1h0M378.7 108.2h0M378.9 117.5h0M371.8 103.4h0M379.1 115.1h0M377.4 106.6h0M368.2 102.9h0M363.7 106h0M378.3 117.4h0M364.7 104.4h0M379.3 117.3h0M368.4 103.1h0M380 112.6h0M380 113.1h0M374.9 104.9h0M378.1 108.8h0M369.4 102.9h0M377.6 106.9h0M376.8 105.6h0M371.3 104h0M363.9 105.7h0M378.2 118.6h0M368.8 103.1h0M379.4 114.4h0M373.3 104.1h0M378.5 108.9h0M364.3 105.4h0M378.8 116.8h0M376.4 105.2h0M363.7 105.4h0M372.8 104.4h0M376.1 105.5h0M366.6 103.3h0M379.4 115.8h0M377.9 108h0M363.8 105.7h0M379 117.1h0M375.5 104.9h0M379.4 117.3h0M378.9 109.4h0M377.6 107.6h0M380 112.9h0M377.4 106.1h0M379.4 113.7h0M379.6 110.1h0M370.3 103.9h0M365.7 103.7h0M368 103h0M376.4 105.7h0M376 106.1h0M379.2 110.9h0M376.4 105.6h0M366.8 103.3h0M379 111.8h0M379 115h0M370.3 103.3h0" stroke="#000" stroke-width="0.8" stroke-linecap="square" opacity="0.5" fill="none"/></g><text x="335.2" y="114" font-family="Liberation Serif,serif" font-size="3.9" class="lb" fill="#777" text-anchor="middle">62.4</text><path d="M335.8 116.4V120.0" stroke="#333" stroke-width="1" fill="none"/><path d="M335.8 122.4l-1.4 -3h2.8z" fill="#000"/>
<text x="0.3" y="198.6" font-size="12" font-weight="bold" fill="#111">B</text>
<text x="122.9" y="206.7" font-size="7" fill="#111" textLength="23.1" lengthAdjust="spacingAndGlyphs">72HRS</text><path d="M122.9 207.5h23.1" stroke="#444" stroke-width=".6"/>
<rect x="94" y="213.3" width="3.8" height="3.8" fill="#fff" stroke="#333" stroke-width=".7"/>
<text x="99.5" y="217.3" font-size="6.05" fill="#000">Untreated</text>
<rect x="129.3" y="213.3" width="3.9" height="3.9" fill="#606060" stroke="#222" stroke-width=".8"/>
<text x="135.4" y="217.3" font-size="6.1" fill="#000">IL-21 100ng/mL</text>
<text transform="translate(13.8 260.2) rotate(-90)" font-size="6.33" font-weight="bold" fill="#111" text-anchor="middle">% Live Cells (PI &amp; YO-PRO Neg)</text>
<text x="24.5" y="306.8" font-size="5.75" fill="#000" text-anchor="end">0</text><path d="M27.9 305h1.6" stroke="#777" stroke-width=".6"/><text x="24.5" y="297.7" font-size="5.75" fill="#000" text-anchor="end">10</text><path d="M27.9 295.9h1.6" stroke="#777" stroke-width=".6"/><text x="24.5" y="288.6" font-size="5.75" fill="#000" text-anchor="end">20</text><path d="M27.9 286.8h1.6" stroke="#777" stroke-width=".6"/><text x="24.5" y="279.6" font-size="5.75" fill="#000" text-anchor="end">30</text><path d="M27.9 277.8h1.6" stroke="#777" stroke-width=".6"/><text x="24.5" y="270.5" font-size="5.75" fill="#000" text-anchor="end">40</text><path d="M27.9 268.7h1.6" stroke="#777" stroke-width=".6"/><text x="24.5" y="261.4" font-size="5.75" fill="#000" text-anchor="end">50</text><path d="M27.9 259.6h1.6" stroke="#777" stroke-width=".6"/><text x="24.5" y="252.3" font-size="5.75" fill="#000" text-anchor="end">60</text><path d="M27.9 250.5h1.6" stroke="#777" stroke-width=".6"/><text x="24.5" y="243.2" font-size="5.75" fill="#000" text-anchor="end">70</text><path d="M27.9 241.4h1.6" stroke="#777" stroke-width=".6"/><text x="24.5" y="234.2" font-size="5.75" fill="#000" text-anchor="end">80</text><path d="M27.9 232.4h1.6" stroke="#777" stroke-width=".6"/><text x="24.5" y="225.1" font-size="5.75" fill="#000" text-anchor="end">90</text><path d="M27.9 223.3h1.6" stroke="#777" stroke-width=".6"/><text x="24.5" y="216" font-size="5.75" fill="#000" text-anchor="end">100</text><path d="M27.9 214.2h1.6" stroke="#777" stroke-width=".6"/><rect x="37.2" y="238.7" width="10.3" height="66.3" fill="#fff" stroke="#222" stroke-width=".7"/><rect x="47.5" y="262.3" width="10.3" height="42.7" fill="#858585" stroke="#333" stroke-width=".7"/><rect x="73.2" y="247.8" width="10.3" height="57.2" fill="#fff" stroke="#222" stroke-width=".7"/><rect x="83.5" y="280.5" width="10.3" height="24.5" fill="#858585" stroke="#333" stroke-width=".7"/><rect x="109.2" y="253.2" width="10.3" height="51.8" fill="#fff" stroke="#222" stroke-width=".7"/><rect x="119.5" y="265" width="10.3" height="40" fill="#858585" stroke="#333" stroke-width=".7"/><rect x="145.2" y="239.6" width="10.3" height="65.4" fill="#fff" stroke="#222" stroke-width=".7"/><rect x="155.5" y="276.9" width="10.3" height="28.1" fill="#858585" stroke="#333" stroke-width=".7"/><rect x="181.2" y="249.2" width="10.3" height="55.8" fill="#fff" stroke="#222" stroke-width=".7"/><rect x="191.5" y="273.7" width="10.3" height="31.3" fill="#858585" stroke="#333" stroke-width=".7"/><rect x="217.2" y="248.7" width="10.3" height="56.3" fill="#fff" stroke="#222" stroke-width=".7"/><rect x="227.5" y="247.5" width="10.3" height="57.5" fill="#858585" stroke="#333" stroke-width=".7"/>
<path d="M29.5 213.5V338.7" stroke="#a8a8a8" stroke-width=".9" fill="none"/>
<path d="M29.5 305.1H245.5" stroke="#aaa" stroke-width=".9" fill="none"/>
<path d="M65.5 305V318M101.5 305V318M137.5 305V318M173.5 305V318M209.5 305V338.5M245.5 305V338.5" stroke="#aaa" stroke-width=".8" fill="none"/>
<text x="47.5" y="316.2" font-size="6" fill="#000" text-anchor="middle">Patient 1</text>
<text x="83.5" y="316.2" font-size="6" fill="#000" text-anchor="middle">Patient 2</text>
<text x="119.5" y="316.2" font-size="6" fill="#000" text-anchor="middle">Patient 3</text>
<text x="155.5" y="316.2" font-size="6" fill="#000" text-anchor="middle">Patient 4</text>
<text x="191.5" y="316.2" font-size="6" fill="#000" text-anchor="middle">Patient 5</text>
<text x="227.5" y="316.2" font-size="6" fill="#000" text-anchor="middle">Patient 5</text>
<text x="119.8" y="329.2" font-size="6" fill="#000" text-anchor="middle">DLBCL</text>
<text x="227.5" y="329.2" font-size="6" fill="#000" text-anchor="middle">Normal</text>
<text x="227.5" y="336.7" font-size="6" fill="#000" text-anchor="middle">Tonsil</text>
<text x="266.9" y="199.1" font-size="12" font-weight="bold" fill="#111">D</text>
<text x="393.7" y="193.4" font-size="7" fill="#111" textLength="22.5" lengthAdjust="spacingAndGlyphs">72HRS</text><path d="M393.7 194.4h22.5" stroke="#444" stroke-width=".6"/>
<rect x="364.7" y="199.6" width="3.5" height="3.5" fill="#fff" stroke="#333" stroke-width=".7"/>
<text x="370.4" y="203.4" font-size="6.1" fill="#000">Untreated</text>
<rect x="400.1" y="199.5" width="3.8" height="3.8" fill="#606060" stroke="#222" stroke-width=".8"/>
<text x="405.4" y="203.4" font-size="6.2" fill="#000">IL-21 100ng/mL</text>
<text transform="translate(272 264.6) rotate(-90)" font-size="6.35" font-weight="bold" fill="#111" text-anchor="middle">% Live Cells (PI &amp; YO-PRO Neg)</text>
<text x="286.7" y="327.3" font-size="5.85" fill="#000" text-anchor="end">0</text><path d="M290.1 325.5h1.6" stroke="#777" stroke-width=".6"/><text x="286.7" y="315.1" font-size="5.85" fill="#000" text-anchor="end">10</text><path d="M290.1 313.3h1.6" stroke="#777" stroke-width=".6"/><text x="286.7" y="302.8" font-size="5.85" fill="#000" text-anchor="end">20</text><path d="M290.1 301h1.6" stroke="#777" stroke-width=".6"/><text x="286.7" y="290.6" font-size="5.85" fill="#000" text-anchor="end">30</text><path d="M290.1 288.8h1.6" stroke="#777" stroke-width=".6"/><text x="286.7" y="278.4" font-size="5.85" fill="#000" text-anchor="end">40</text><path d="M290.1 276.6h1.6" stroke="#777" stroke-width=".6"/><text x="286.7" y="266.2" font-size="5.85" fill="#000" text-anchor="end">50</text><path d="M290.1 264.4h1.6" stroke="#777" stroke-width=".6"/><text x="286.7" y="253.9" font-size="5.85" fill="#000" text-anchor="end">60</text><path d="M290.1 252.1h1.6" stroke="#777" stroke-width=".6"/><text x="286.7" y="241.7" font-size="5.85" fill="#000" text-anchor="end">70</text><path d="M290.1 239.9h1.6" stroke="#777" stroke-width=".6"/><text x="286.7" y="229.5" font-size="5.85" fill="#000" text-anchor="end">80</text><path d="M290.1 227.7h1.6" stroke="#777" stroke-width=".6"/><text x="286.7" y="217.2" font-size="5.85" fill="#000" text-anchor="end">90</text><path d="M290.1 215.4h1.6" stroke="#777" stroke-width=".6"/><text x="286.7" y="205" font-size="5.85" fill="#000" text-anchor="end">100</text><path d="M290.1 203.2h1.6" stroke="#777" stroke-width=".6"/><rect x="296.1" y="235" width="5.9" height="90.5" fill="#fff" stroke="#222" stroke-width=".7"/><rect x="302" y="258.2" width="5.9" height="67.3" fill="#858585" stroke="#333" stroke-width=".7"/><rect x="316.7" y="217.5" width="5.9" height="108" fill="#fff" stroke="#222" stroke-width=".7"/><rect x="322.6" y="224.8" width="5.9" height="100.7" fill="#858585" stroke="#333" stroke-width=".7"/><rect x="337.4" y="220" width="5.9" height="105.5" fill="#fff" stroke="#222" stroke-width=".7"/><rect x="343.3" y="214.2" width="5.9" height="111.3" fill="#858585" stroke="#333" stroke-width=".7"/><rect x="358" y="219.1" width="5.9" height="106.4" fill="#fff" stroke="#222" stroke-width=".7"/><rect x="363.9" y="234.3" width="5.9" height="91.2" fill="#858585" stroke="#333" stroke-width=".7"/><rect x="378.6" y="258.2" width="5.9" height="67.3" fill="#fff" stroke="#222" stroke-width=".7"/><rect x="384.5" y="271.7" width="5.9" height="53.8" fill="#858585" stroke="#333" stroke-width=".7"/><rect x="399.3" y="213.2" width="5.9" height="112.3" fill="#fff" stroke="#222" stroke-width=".7"/><rect x="405.2" y="233.8" width="5.9" height="91.7" fill="#858585" stroke="#333" stroke-width=".7"/><rect x="419.9" y="214" width="5.9" height="111.5" fill="#fff" stroke="#222" stroke-width=".7"/><rect x="425.8" y="226.9" width="5.9" height="98.6" fill="#858585" stroke="#333" stroke-width=".7"/><rect x="440.5" y="219.5" width="5.9" height="106" fill="#fff" stroke="#222" stroke-width=".7"/><rect x="446.4" y="240.1" width="5.9" height="85.4" fill="#858585" stroke="#333" stroke-width=".7"/><rect x="461.2" y="219.1" width="5.9" height="106.4" fill="#fff" stroke="#222" stroke-width=".7"/><rect x="467.1" y="220.7" width="5.9" height="104.8" fill="#858585" stroke="#333" stroke-width=".7"/><rect x="481.8" y="255.8" width="5.9" height="69.7" fill="#fff" stroke="#222" stroke-width=".7"/><rect x="487.7" y="269.2" width="5.9" height="56.3" fill="#858585" stroke="#333" stroke-width=".7"/><rect x="502.4" y="230.1" width="5.9" height="95.4" fill="#fff" stroke="#222" stroke-width=".7"/><rect x="508.3" y="296.1" width="5.9" height="29.4" fill="#858585" stroke="#333" stroke-width=".7"/>
<path d="M291.7 203V361.5" stroke="#a8a8a8" stroke-width=".9" fill="none"/>
<path d="M291.7 325.5H518.7" stroke="#aaa" stroke-width=".9" fill="none"/>
<path d="M312.3 325.5V350.5M333 325.5V350.5M353.6 325.5V350.5M374.2 325.5V350.5M394.8 325.5V350.5M415.5 325.5V350.5M436.1 325.5V361.5M456.7 325.5V350.5M477.4 325.5V350.5M498 325.5V361.5M518.6 325.5V361.5" stroke="#aaa" stroke-width=".8" fill="none"/>
<text transform="translate(301 340) rotate(-90)" class="rt" font-size="5.85" fill="#000" text-anchor="middle">Patient</text>
<text transform="translate(307.8 340.5) rotate(-90)" class="rt" font-size="6.1" fill="#000" text-anchor="middle">11</text>
<text transform="translate(321.6 340) rotate(-90)" class="rt" font-size="5.85" fill="#000" text-anchor="middle">Patient</text>
<text transform="translate(328.4 340.5) rotate(-90)" class="rt" font-size="6.1" fill="#000" text-anchor="middle">12</text>
<text transform="translate(342.3 340) rotate(-90)" class="rt" font-size="5.85" fill="#000" text-anchor="middle">Patient</text>
<text transform="translate(349.1 340.5) rotate(-90)" class="rt" font-size="6.1" fill="#000" text-anchor="middle">13</text>
<text transform="translate(362.9 340) rotate(-90)" class="rt" font-size="5.85" fill="#000" text-anchor="middle">Patient</text>
<text transform="translate(369.7 340.5) rotate(-90)" class="rt" font-size="6.1" fill="#000" text-anchor="middle">14</text>
<text transform="translate(383.5 340) rotate(-90)" class="rt" font-size="5.85" fill="#000" text-anchor="middle">Patient</text>
<text transform="translate(390.3 340.5) rotate(-90)" class="rt" font-size="6.1" fill="#000" text-anchor="middle">15</text>
<text transform="translate(404.2 340) rotate(-90)" class="rt" font-size="5.85" fill="#000" text-anchor="middle">Patient</text>
<text transform="translate(411 340.5) rotate(-90)" class="rt" font-size="6.1" fill="#000" text-anchor="middle">16</text>
<text transform="translate(424.8 340) rotate(-90)" class="rt" font-size="5.85" fill="#000" text-anchor="middle">Patient</text>
<text transform="translate(431.6 340.5) rotate(-90)" class="rt" font-size="6.1" fill="#000" text-anchor="middle">17</text>
<text transform="translate(445.4 340) rotate(-90)" class="rt" font-size="5.85" fill="#000" text-anchor="middle">Patient</text>
<text transform="translate(452.2 340.5) rotate(-90)" class="rt" font-size="6.1" fill="#000" text-anchor="middle">18</text>
<text transform="translate(466.1 340) rotate(-90)" class="rt" font-size="5.85" fill="#000" text-anchor="middle">Patient</text>
<text transform="translate(472.9 340.5) rotate(-90)" class="rt" font-size="6.1" fill="#000" text-anchor="middle">19</text>
<text transform="translate(486.7 340) rotate(-90)" class="rt" font-size="5.85" fill="#000" text-anchor="middle">patient</text>
<text transform="translate(493.5 340.5) rotate(-90)" class="rt" font-size="6.1" fill="#000" text-anchor="middle">20</text>
<text transform="translate(507.3 340) rotate(-90)" class="rt" font-size="5.85" fill="#000" text-anchor="middle">Patient</text>
<text transform="translate(514.1 340.5) rotate(-90)" class="rt" font-size="6.1" fill="#000" text-anchor="middle">22</text>
<text x="363.2" y="360.8" font-size="6" fill="#000" text-anchor="middle">CLL</text>
<text x="468.2" y="360.8" font-size="6" fill="#000" text-anchor="middle">FL</text>
<text x="508.2" y="360.8" font-size="6" fill="#000" text-anchor="middle">MZL</text>
</svg></body></html>
